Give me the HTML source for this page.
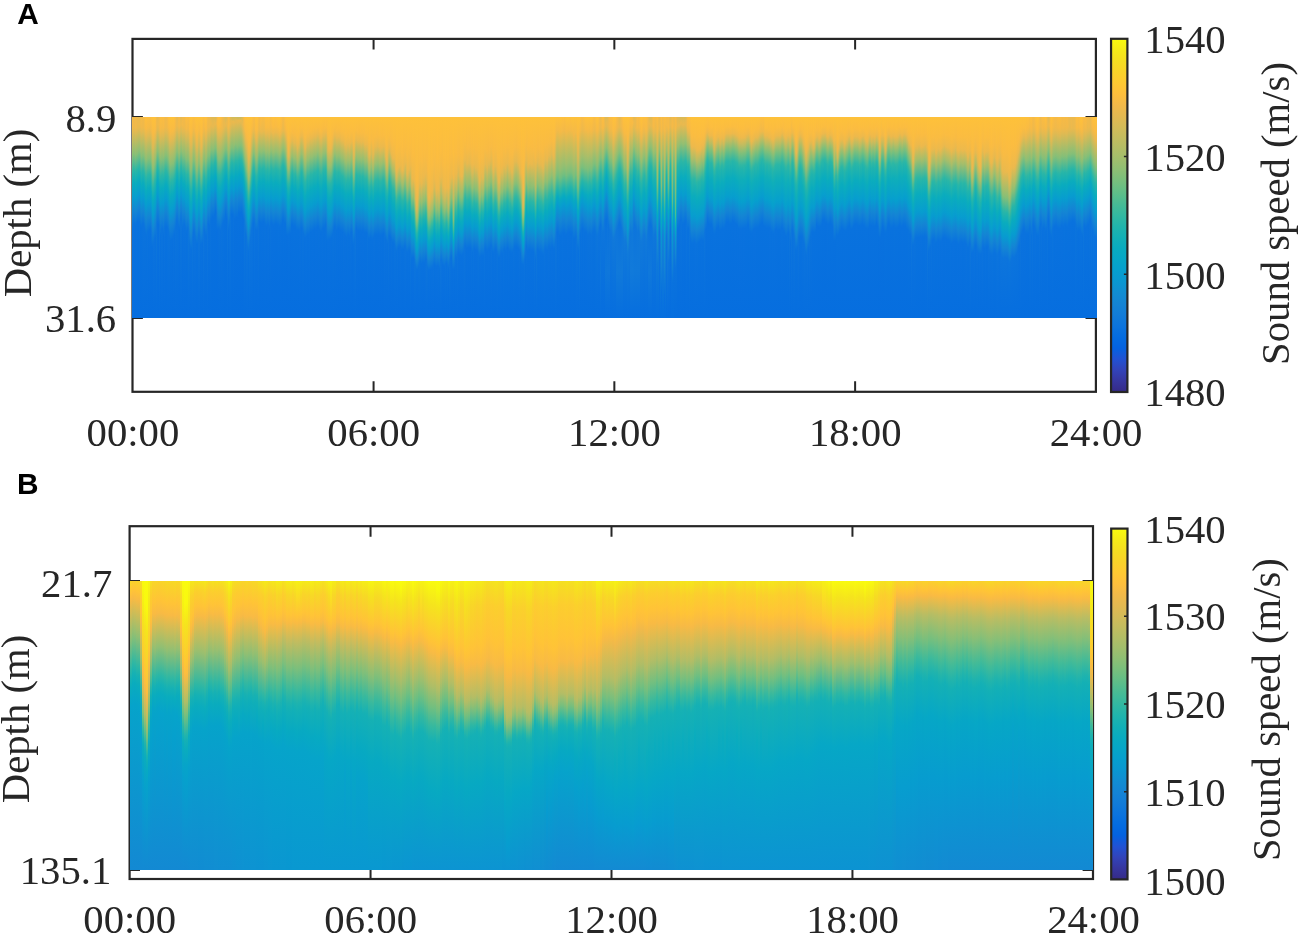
<!DOCTYPE html><html><head><meta charset="utf-8"><title>Sound speed</title><style>html,body{margin:0;padding:0;background:#fff}body{position:relative;width:1299px;height:935px;overflow:hidden}svg{position:absolute;left:0;top:0}.ha,.hb{position:absolute;display:flex;overflow:hidden;z-index:2}.ha i,.hb i{display:block;height:100%;flex:none;background:linear-gradient(var(--g))}.ha{left:132px;top:117px;width:965px;height:201px}.ha i{width:1px}.hb{left:130px;top:581px;width:963px;height:289px}.hb i{width:2px}text{font-family:"Liberation Serif","Times New Roman",serif;fill:#262626}.lb{font-family:"Liberation Sans",Arial,sans-serif;font-weight:bold;fill:#000}</style></head><body><div class="ha"><i style="--g:#f7ba45,#f4ba48 4.7%,#daba55 9.2%,#91bf73 18.6%,#24b5aa 28.5%,#0aacbd 33.9%,#079ccf 41.3%,#1484d4 48.3%,#0972de 55.7%,#066edf"></i><i style="--g:#efb94a,#efb94b 4.7%,#e1ba52 7.2%,#8abf75 18.1%,#31b8a2 25.5%,#0aacbd 32.4%,#079dcf 39.4%,#1484d4 46.3%,#0b73dd 53.2%,#066edf"></i><i style="--g:#f0b94a,#eeb94b 4.7%,#e5b950 6.7%,#87bf77 18.6%,#25b5aa 27%,#09abbe 32.9%,#079dcf 39.9%,#1484d4 46.8%,#0a72de 53.2%,#066edf"></i><i style="--g:#f3b948,#efb94b 5.2%,#e0ba52 7.7%,#87bf77 19.1%,#29b6a7 27%,#0aacbe 33.4%,#079dcf 40.3%,#1484d4 47.3%,#0972de 54.2%,#066edf"></i><i style="--g:#f0b94a,#eeb94c 5.2%,#e5b950 6.7%,#87bf77 18.6%,#28b6a7 26.5%,#09acbe 32.9%,#079dcf 39.9%,#1484d4 46.8%,#0a73dd 52.7%,#066edf"></i><i style="--g:#edb94c,#e9b94e 5.7%,#88bf77 18.1%,#28b6a8 26%,#09abbe 32.4%,#079cd0 39.4%,#1485d4 45.8%,#0972de 52.2%,#066edf"></i><i style="--g:#eab94e,#edb94c 3.7%,#e6b94f 5.7%,#8bbf75 17.1%,#23b5ab 26%,#0aacbe 31.4%,#079dcf 38.4%,#1485d4 44.8%,#0972de 52.2%,#066edf"></i><i style="--g:#e8b94e,#eeb94b 3.7%,#e2b952 6.2%,#89bf76 17.1%,#2fb7a3 24.5%,#0aacbd 30.9%,#079dcf 37.9%,#1485d4 44.3%,#0a73dd 52.2%,#066edf"></i><i style="--g:#f0b94a,#f1b949 3.7%,#e5b950 6.7%,#94bf72 17.1%,#22b4ac 27.5%,#09abbf 32.9%,#079cd0 39.9%,#1485d4 46.3%,#0972de 54.2%,#066edf"></i><i style="--g:#f5ba47,#f0b94a 5.2%,#e2b951 7.7%,#85bf78 19.6%,#28b6a8 27.5%,#09acbe 33.9%,#079dcf 40.8%,#1484d4 47.8%,#0972de 54.7%,#066edf"></i><i style="--g:#f2b949,#eeb94b 5.2%,#dfba53 7.7%,#85bf78 19.1%,#27b5a8 27%,#0aacbd 32.9%,#079cd0 40.3%,#1485d4 46.8%,#0a73dd 53.2%,#066edf"></i><i style="--g:#f2b949,#eeb94b 5.2%,#dfba53 7.7%,#85bf78 19.1%,#2bb6a6 26.5%,#0aacbd 32.9%,#079cd0 40.3%,#1485d4 46.8%,#0b73dd 53.2%,#066edf"></i><i style="--g:#f9bb43,#f3ba48 5.2%,#dcba54 9.2%,#8bbf75 19.6%,#2ab6a6 28%,#0aacbe 34.4%,#079cd0 41.8%,#1484d4 48.8%,#0b73dd 55.2%,#066edf"></i><i style="--g:#febf3c,#f7ba45 5.7%,#e2b952 9.7%,#8cbf75 21%,#28b6a7 30%,#0aacbe 36.4%,#079ccf 43.8%,#1484d4 50.7%,#0a73dd 57.7%,#066edf"></i><i style="--g:#febf3d,#f8ba44 5.7%,#e4b951 9.7%,#8fbf74 21%,#28b6a8 30.4%,#09acbe 36.9%,#079dcf 43.8%,#1484d4 51.2%,#0972de 59.2%,#066edf"></i><i style="--g:#fcbd3f,#f5ba47 5.7%,#dfba53 9.7%,#87bf77 21%,#30b7a3 28.5%,#19b2b2 31.9%,#09abbe 35.9%,#079dcf 42.8%,#1485d4 49.8%,#0b73dd 57.2%,#066edf"></i><i style="--g:#fcbd3f,#f6ba46 5.2%,#e0ba53 9.2%,#88bf76 20.5%,#2cb7a5 28.5%,#0aacbe 35.4%,#079cd0 42.8%,#1484d4 49.8%,#0972de 57.2%,#066edf"></i><i style="--g:#fbbd40,#f6ba45 4.7%,#e2b951 8.7%,#87bf77 20.5%,#2ab6a6 28.5%,#09abbe 35.4%,#079dcf 42.3%,#1485d4 49.3%,#0a72de 56.2%,#066edf"></i><i style="--g:#fbbc40,#f3b948 5.7%,#dbba55 9.7%,#82bf79 21%,#25b5a9 29%,#0aacbd 34.9%,#079dcf 42.3%,#1484d4 49.3%,#0972de 56.2%,#066edf"></i><i style="--g:#fdbe3e,#f2b949 7.2%,#c3bc5f 15.1%,#8cbf75 22%,#37b99e 29.5%,#0aacbe 37.4%,#079dcf 44.3%,#1484d4 51.7%,#0f78db 56.2%,#0871de 64.6%,#066edf"></i><i style="--g:#fec03b,#f8bb44 7.7%,#dbba55 15.1%,#93bf72 24.5%,#29b6a7 34.9%,#0aacbe 40.8%,#079dcf 48.3%,#1483d4 55.7%,#0971de 64.6%,#066edf"></i><i style="--g:#fec13a,#f8ba44 8.7%,#deba53 14.6%,#91bf73 25%,#27b5a8 34.9%,#09abbe 41.3%,#079cd0 48.8%,#1484d4 55.7%,#0b73dd 62.6%,#066edf"></i><i style="--g:#fec13a,#f9bb44 7.2%,#dfba53 12.6%,#89bf76 24%,#2fb7a3 31.9%,#09acbe 39.4%,#079cd0 46.8%,#1484d4 53.7%,#0b73dd 60.6%,#066edf"></i><i style="--g:#fdbe3e,#f9bb44 5.7%,#e2b952 10.6%,#98bf70 20.5%,#26b5a9 31.4%,#0aacbe 37.4%,#079ccf 44.8%,#1484d4 51.7%,#0972de 60.1%,#066edf"></i><i style="--g:#f2b949,#eeb94b 5.7%,#cebb5a 10.6%,#92bf72 18.1%,#2eb7a4 27%,#0aacbd 33.4%,#079dcf 40.3%,#1485d4 47.3%,#0e77db 53.2%,#066edf"></i><i style="--g:#e9b94e,#eeb94b 3.7%,#e2b951 6.2%,#8abf76 17.1%,#30b7a2 24.5%,#1ab2b1 27.5%,#09abbe 31.4%,#079dcf 37.9%,#1484d4 44.8%,#0972de 53.2%,#066edf"></i><i style="--g:#eeb94c,#efb94b 3.7%,#e6b94f 6.2%,#91bf73 17.1%,#26b5a9 26.5%,#09abbf 32.4%,#079cd0 39.4%,#1484d4 45.8%,#0971de 53.7%,#066edf"></i><i style="--g:#f6ba46,#f1b94a 5.7%,#d8ba56 9.7%,#8abf76 19.6%,#32b8a2 27%,#09acbe 34.4%,#079dcf 41.3%,#1484d4 48.3%,#0d76dc 53.7%,#066edf"></i><i style="--g:#fbbd40,#f6ba46 5.7%,#e1ba52 9.7%,#93bf72 20%,#30b7a3 29%,#1ab2b1 31.9%,#0aacbd 35.9%,#079dcf 43.3%,#1484d4 50.2%,#0972de 59.2%,#066edf"></i><i style="--g:#fbbd40,#f4ba47 5.7%,#deba53 9.7%,#86bf77 21%,#2bb6a6 29%,#0aacbd 35.4%,#079dcf 42.8%,#1485d4 49.8%,#0c74dd 55.7%,#066edf"></i><i style="--g:#fabc41,#f3ba48 5.7%,#e0ba53 9.2%,#88bf77 20.5%,#2cb7a5 28.5%,#09acbe 35.4%,#079dcf 42.3%,#1485d4 49.3%,#0b74dd 55.7%,#066edf"></i><i style="--g:#fabc42,#f6ba46 5.2%,#e1b952 9.2%,#92bf72 19.6%,#2fb7a3 28.5%,#1ab2b1 31.4%,#0aacbe 35.4%,#079cd0 42.8%,#1484d4 49.8%,#0971de 58.7%,#066edf"></i><i style="--g:#f6ba46,#f2b949 5.2%,#daba55 9.2%,#89bf76 19.6%,#2db7a4 27.5%,#09abbf 34.4%,#079ccf 41.3%,#1484d4 48.3%,#0c74dd 54.7%,#066edf"></i><i style="--g:#f3b948,#efb94b 5.2%,#e4b951 7.2%,#87bf77 19.1%,#2db7a4 26.5%,#09acbe 33.4%,#079dcf 40.3%,#1484d4 47.3%,#0972de 54.7%,#066edf"></i><i style="--g:#f3ba48,#efb94a 5.2%,#e1ba52 7.7%,#87bf77 19.1%,#2eb7a4 26.5%,#09acbe 33.4%,#079dcf 40.3%,#1484d4 47.3%,#0972de 54.7%,#066edf"></i><i style="--g:#f8ba44,#f2b949 5.2%,#deba53 8.7%,#8ebf74 19.1%,#25b5aa 28.5%,#09acbe 34.4%,#079dcf 41.3%,#1485d4 48.3%,#0a73de 55.2%,#066edf"></i><i style="--g:#fdbe3d,#f8ba44 5.2%,#e1b952 9.7%,#8abf76 21%,#2bb6a6 29.5%,#09abbf 36.4%,#079dcf 43.3%,#1485d4 50.2%,#0b74dd 56.7%,#066edf"></i><i style="--g:#fec03b,#f8ba44 6.7%,#e0ba53 11.6%,#8fbf74 22.5%,#28b6a8 31.9%,#0aacbe 38.4%,#079ccf 45.8%,#1485d4 52.7%,#0b73dd 59.7%,#066edf"></i><i style="--g:#fec13a,#f9bb44 7.2%,#e5b950 11.6%,#8dbf74 23.5%,#2bb6a6 32.4%,#09acbe 39.4%,#079cd0 46.8%,#1484d4 53.7%,#0972de 61.6%,#066edf"></i><i style="--g:#fec13a,#f9bb43 6.7%,#e2b952 11.6%,#89bf76 23.5%,#2fb7a3 31.4%,#1bb2b1 34.4%,#09abbe 38.9%,#079cd0 46.3%,#1484d4 53.2%,#0972de 61.1%,#066edf"></i><i style="--g:#fec13a,#f9bb44 6.7%,#e4b951 11.1%,#8bbf75 23%,#2db7a4 31.4%,#0aacbe 38.4%,#079dcf 45.8%,#1483d4 53.2%,#0971de 61.1%,#066edf"></i><i style="--g:#fec13a,#f9bb43 6.2%,#e0ba53 11.1%,#86bf77 23%,#2bb6a6 30.9%,#09acbe 37.9%,#079ccf 45.3%,#1484d4 52.2%,#0b73dd 58.7%,#066edf"></i><i style="--g:#fdbe3d,#f9bb43 5.2%,#e6b950 9.2%,#91bf73 20.5%,#25b5a9 30.4%,#0aacbe 36.4%,#079dcf 43.8%,#1484d4 50.7%,#0972de 58.2%,#066edf"></i><i style="--g:#f7ba45,#f2b949 5.2%,#dbba55 9.2%,#8ebf74 19.1%,#29b6a7 28%,#09acbe 34.4%,#079dcf 41.3%,#1484d4 48.3%,#0c74dd 54.7%,#066edf"></i><i style="--g:#ecb94d,#eeb94b 4.2%,#e1b952 6.7%,#8abf76 17.6%,#27b5a8 26%,#09acbe 31.9%,#079ccf 38.9%,#1485d4 45.3%,#0b74dd 51.7%,#066edf"></i><i style="--g:#eab94e,#eeb94c 4.2%,#dfba53 6.7%,#87bf77 17.6%,#31b8a2 24.5%,#18b1b2 28%,#0aacbe 31.4%,#079cd0 38.4%,#1484d4 44.8%,#0b74dd 51.7%,#066edf"></i><i style="--g:#f4ba47,#f3b948 4.2%,#e1b952 7.7%,#95bf71 17.6%,#23b4ab 28%,#0aacbe 33.4%,#079dcf 40.3%,#1484d4 47.3%,#0a73de 54.7%,#066edf"></i><i style="--g:#f7ba45,#f3ba48 4.7%,#d9ba55 9.2%,#90bf73 18.6%,#27b6a8 28%,#0aacbe 33.9%,#079cd0 41.3%,#1485d4 47.8%,#0971de 56.2%,#066edf"></i><i style="--g:#ebb94d,#efb94b 4.2%,#d9ba55 7.7%,#8dbf75 17.1%,#2eb7a4 25%,#0aacbd 31.4%,#079dcf 38.4%,#1485d4 44.8%,#0d76dc 50.7%,#066edf"></i><i style="--g:#e9b94e,#f0b94a 3.7%,#dbba55 7.2%,#89bf76 17.1%,#2fb7a3 24.5%,#0aacbd 30.9%,#079dcf 37.9%,#1485d4 44.3%,#0d75dc 50.7%,#066edf"></i><i style="--g:#f2b949,#f3ba48 3.7%,#e3b951 7.2%,#96bf71 17.1%,#2cb7a5 26.5%,#17b1b3 29.5%,#09acbe 32.9%,#079dcf 39.9%,#1484d4 46.8%,#0972de 55.7%,#066edf"></i><i style="--g:#f2b949,#f0b94a 4.7%,#e3b951 7.2%,#85bf78 19.1%,#2cb7a5 26.5%,#09abbf 33.4%,#079cd0 40.3%,#1485d4 46.8%,#0b73dd 53.7%,#066edf"></i><i style="--g:#f2b948,#efb94b 5.2%,#e4b951 7.2%,#86bf77 19.1%,#25b5aa 27.5%,#09acbe 33.4%,#079dcf 40.3%,#1484d4 47.3%,#0a73de 53.7%,#066edf"></i><i style="--g:#f9bb43,#f1b949 5.7%,#d8ba56 9.7%,#87bf77 20%,#2ab6a6 28%,#0aacbd 34.4%,#079dcf 41.8%,#1484d4 48.8%,#0b73dd 55.2%,#066edf"></i><i style="--g:#fcbd3f,#f4ba48 5.7%,#dcba54 9.7%,#84bf78 21%,#2cb7a5 28.5%,#0aacbe 35.4%,#079cd0 42.8%,#1484d4 49.8%,#0972de 57.2%,#066edf"></i><i style="--g:#fabc42,#f2b949 5.7%,#daba55 9.7%,#80bf7a 21%,#29b6a7 28.5%,#0aacbd 34.9%,#079dcf 42.3%,#1485d4 49.3%,#0a73dd 55.7%,#066edf"></i><i style="--g:#fabb42,#f1b949 6.2%,#d7ba57 10.6%,#88bf77 21%,#32b8a1 28.5%,#0aacbd 35.9%,#079dcf 43.3%,#1484d4 50.7%,#0e77db 55.7%,#066edf"></i><i style="--g:#fdbe3d,#f9bb44 6.2%,#deba54 12.1%,#9bbf6f 21.5%,#23b4ab 33.9%,#0aacbd 39.4%,#079dcf 47.3%,#1484d4 54.7%,#0b73dd 63.1%,#066edf"></i><i style="--g:#fec13a,#f9bb43 8.2%,#e3b951 13.6%,#8cbf75 26%,#26b5a9 35.9%,#0aacbd 42.3%,#079dcf 50.2%,#1484d4 58.2%,#0a72de 65.6%,#066edf"></i><i style="--g:#fec13a,#f8ba44 8.2%,#e2b951 13.6%,#92bf72 25%,#26b5a9 35.9%,#09acbe 42.3%,#079cd0 50.2%,#1484d4 57.7%,#0972de 66.1%,#066edf"></i><i style="--g:#febf3c,#f6ba45 6.7%,#d1bb59 13.6%,#93bf72 22%,#2cb7a5 31.9%,#09acbe 38.9%,#079dcf 46.3%,#1484d4 53.7%,#0d76dc 60.1%,#066edf"></i><i style="--g:#fcbd3f,#f6ba46 5.2%,#e1b952 9.2%,#88bf77 21%,#2db7a5 29%,#0aacbe 35.9%,#079dcf 43.3%,#1485d4 50.2%,#0b73dd 57.2%,#066edf"></i><i style="--g:#fdbe3d,#f7ba45 5.7%,#dcba54 10.6%,#89bf76 21.5%,#2eb7a4 29.5%,#0aacbd 36.4%,#079dcf 43.8%,#1485d4 50.7%,#0c74dd 57.2%,#066edf"></i><i style="--g:#fec03b,#f8ba44 7.2%,#d6ba57 14.1%,#93bf72 23%,#2ab6a6 32.9%,#0aacbe 39.4%,#079dcf 46.8%,#1485d4 53.7%,#0b73dd 61.1%,#066edf"></i><i style="--g:#fec13a,#f8bb44 9.2%,#e7b94f 14.1%,#8fbf74 26%,#23b5ab 35.9%,#09acbe 41.8%,#079dcf 48.8%,#1484d4 56.2%,#0972de 63.1%,#066edf"></i><i style="--g:#fec13a,#f9bb43 8.2%,#e5b950 14.1%,#98bf70 24.5%,#25b5aa 35.4%,#09acbe 41.3%,#079dcf 48.3%,#1484d4 55.7%,#0972de 63.1%,#066edf"></i><i style="--g:#fec13a,#f8bb44 6.7%,#d1bb59 14.1%,#8dbf74 23%,#2fb7a3 31.4%,#0aacbd 38.4%,#079dcf 45.8%,#1485d4 52.7%,#0d75dc 58.7%,#066edf"></i><i style="--g:#fec13a,#f8ba44 6.7%,#cbbb5c 15.1%,#8ebf74 23%,#34b8a0 30.9%,#0aacbd 38.4%,#079dcf 45.8%,#1485d4 52.7%,#0d75dc 58.7%,#066edf"></i><i style="--g:#fec13a,#f9bb43 8.2%,#deba53 15.6%,#92bf73 25.5%,#25b5aa 35.9%,#0aacbd 41.3%,#079dcf 48.8%,#1484d4 55.7%,#0972de 63.6%,#066edf"></i><i style="--g:#fec13a,#fabc42 9.2%,#eab94d 14.6%,#8abf76 27.5%,#26b5a9 36.4%,#0aacbd 42.3%,#079dcf 49.8%,#1485d4 56.7%,#0a72de 63.1%,#066edf"></i><i style="--g:#febf3d,#f8ba44 7.2%,#d9ba56 14.6%,#95bf71 23.5%,#25b5a9 34.4%,#0aacbd 39.9%,#079dcf 47.3%,#1485d4 54.2%,#0971de 63.1%,#066edf"></i><i style="--g:#fbbd40,#f2b949 6.7%,#ccbb5b 13.1%,#8ebf74 21%,#33b8a0 29%,#0aacbe 36.4%,#079cd0 43.8%,#1484d4 50.7%,#0e76dc 56.2%,#066edf"></i><i style="--g:#fdbe3e,#f8ba44 4.7%,#e2b951 9.2%,#87bf77 21%,#28b6a8 29.5%,#09acbe 35.9%,#079dcf 42.8%,#1484d4 50.2%,#0b73dd 56.7%,#066edf"></i><i style="--g:#fec03b,#f9bb43 5.7%,#e7b94f 9.7%,#8bbf75 22%,#27b6a8 30.9%,#09acbe 37.4%,#079cd0 44.8%,#1484d4 51.7%,#0a72de 58.7%,#066edf"></i><i style="--g:#fdbe3e,#f8ba44 5.7%,#e5b950 9.7%,#98bf70 20%,#25b5a9 30.9%,#09acbe 36.9%,#079dcf 43.8%,#1484d4 51.2%,#0972de 59.2%,#066edf"></i><i style="--g:#f5ba47,#f0b94a 5.7%,#d7ba56 9.7%,#89bf76 19.6%,#31b8a2 27%,#0aacbd 33.9%,#079cd0 41.3%,#1484d4 48.3%,#0e76dc 53.2%,#066edf"></i><i style="--g:#f1b949,#eeb94b 5.2%,#e2b951 7.2%,#84bf78 19.1%,#26b5a9 27%,#0aacbe 32.9%,#079dcf 39.9%,#1484d4 46.8%,#0a72de 53.2%,#066edf"></i><i style="--g:#f1b949,#efb94b 4.7%,#e2b951 7.2%,#89bf76 18.6%,#2bb6a6 26.5%,#0aacbe 32.9%,#079dcf 39.9%,#1484d4 46.8%,#0972de 54.2%,#066edf"></i><i style="--g:#e9b94e,#edb94c 3.7%,#e2b951 6.2%,#8ebf74 16.6%,#27b5a9 25.5%,#09abbf 31.4%,#079dcf 37.9%,#1485d4 44.3%,#0b74dd 51.2%,#066edf"></i><i style="--g:#e2b952,#ebb94d 3.2%,#e7b94f 4.7%,#88bf76 16.1%,#30b7a3 23%,#1cb3af 25.5%,#09abbf 30%,#079cd0 36.4%,#1484d4 42.8%,#0972de 50.7%,#066edf"></i><i style="--g:#e3b951,#e8b94f 4.7%,#8abf76 16.1%,#28b6a7 24%,#09acbe 30%,#079dcf 36.4%,#1485d4 42.8%,#0972de 49.8%,#066edf"></i><i style="--g:#e2b951,#e8b94f 4.7%,#89bf76 16.1%,#27b5a8 24%,#09abbe 30%,#079dcf 36.4%,#1484d4 42.8%,#0972de 49.8%,#066edf"></i><i style="--g:#deba54,#eab94d 3.2%,#e7b94f 4.2%,#86bf77 15.6%,#26b5a9 23%,#08aac1 29.5%,#079dcf 34.9%,#1484d4 41.3%,#0972de 48.8%,#066edf"></i><i style="--g:#dbba55,#e9b94e 3.7%,#86bf77 15.1%,#2ab6a6 22%,#07aac1 29%,#079cd0 34.4%,#1484d4 40.3%,#0972de 46.8%,#066edf"></i><i style="--g:#e6b950,#f1b94a 3.2%,#d7ba56 7.2%,#90bf73 15.6%,#34b8a0 23%,#09acbe 30%,#079ccf 36.4%,#1486d4 42.3%,#0f78db 47.3%,#0871df 56.2%,#066edf"></i><i style="--g:#f9bb43,#f9bb43 3.7%,#e2b952 8.2%,#99bf70 17.6%,#24b5aa 28.5%,#09abbf 33.9%,#079cd0 40.8%,#1485d4 47.3%,#0971de 56.2%,#066edf"></i><i style="--g:#febf3d,#f9bb43 4.7%,#e9b94e 8.2%,#85bf78 21%,#28b6a8 29%,#09acbe 35.4%,#079dcf 42.3%,#1485d4 49.3%,#0a72de 55.7%,#066edf"></i><i style="--g:#fdbe3e,#f8bb44 4.7%,#e1b952 9.2%,#85bf78 21%,#28b6a8 29%,#0aacbe 35.4%,#079cd0 42.8%,#1484d4 49.8%,#0a73dd 55.7%,#066edf"></i><i style="--g:#fdbe3e,#f8ba44 4.7%,#e1b952 9.2%,#85bf78 21%,#29b6a7 29%,#0aacbe 35.4%,#079ccf 42.8%,#1484d4 49.8%,#0a72de 56.7%,#066edf"></i><i style="--g:#f9bb43,#f1b949 5.7%,#dcba54 9.2%,#86bf77 20%,#2ab6a7 28%,#0aacbe 34.4%,#079dcf 41.3%,#1485d4 48.3%,#0b73dd 54.7%,#066edf"></i><i style="--g:#f2b949,#efb94b 5.2%,#e7b94f 6.7%,#85bf78 19.1%,#27b5a8 27%,#09abbf 33.4%,#079cd0 40.3%,#1485d4 46.8%,#0a73dd 53.2%,#066edf"></i><i style="--g:#ecb94d,#e8b94e 5.7%,#8ebf74 17.1%,#26b5a9 26%,#09acbe 31.9%,#079cd0 38.9%,#1484d4 45.3%,#0a72de 52.2%,#066edf"></i><i style="--g:#e4b951,#ecb94c 3.7%,#e2b952 5.7%,#87bf77 16.6%,#2ab6a6 24%,#09abbf 30.4%,#079ccf 36.9%,#1484d4 43.3%,#0972de 51.7%,#066edf"></i><i style="--g:#deba53,#e8b94f 4.2%,#88bf77 15.6%,#28b6a7 23%,#07aac1 30%,#079dcf 35.4%,#1484d4 41.8%,#0972de 48.3%,#066edf"></i><i style="--g:#e0ba53,#ecb94d 3.2%,#e5b950 4.7%,#84bf78 16.1%,#2bb6a6 23%,#0aacbe 29%,#079dcf 35.4%,#1484d4 41.8%,#0971de 50.7%,#066edf"></i><i style="--g:#ecb94c,#eeb94b 4.7%,#daba55 7.7%,#91bf73 16.6%,#2ab6a6 25.5%,#0aacbe 31.4%,#079ccf 38.4%,#1485d4 44.8%,#0d76dc 50.7%,#066edf"></i><i style="--g:#f8bb44,#f5ba47 4.7%,#dbba55 9.2%,#91bf73 18.6%,#2db7a5 27.5%,#0aacbd 33.9%,#079cd0 41.3%,#1483d4 48.3%,#0971de 56.7%,#066edf"></i><i style="--g:#f2b949,#f3ba48 3.7%,#dfba53 7.7%,#96bf71 17.1%,#28b6a8 27%,#0aacbe 32.9%,#079dcf 39.9%,#1484d4 46.8%,#0b74dd 53.7%,#066edf"></i><i style="--g:#e1b952,#ecb94c 3.2%,#dbba55 6.2%,#8dbf74 15.6%,#2db7a5 23.5%,#09acbe 30%,#079dcf 36.4%,#1485d4 42.8%,#0d76dc 48.3%,#066edf"></i><i style="--g:#d6ba57,#e8b94f 2.2%,#e5b950 3.7%,#86bf77 15.1%,#28b6a7 22.5%,#07aac1 29.5%,#079cd0 35.4%,#1485d4 41.3%,#0972de 48.3%,#066edf"></i><i style="--g:#d2bb59,#d9ba55 1.2%,#ebb94d 2.2%,#e9b94e 2.7%,#85bf78 15.1%,#24b5aa 23%,#07a9c2 30%,#079dcf 35.4%,#1485d4 41.8%,#0972de 48.8%,#066edf"></i><i style="--g:#d2bb58,#d9ba55 1.2%,#ebb94d 2.2%,#eab94e 2.7%,#88bf76 15.1%,#29b6a7 23%,#09acbe 29.5%,#079dcf 36.4%,#1485d4 42.8%,#0b73dd 48.8%,#066edf"></i><i style="--g:#d2bb59,#e9b94e 2.7%,#93bf72 13.6%,#27b5a8 23%,#07aac2 30%,#079cd0 35.9%,#1484d4 42.3%,#0971de 51.2%,#066edf"></i><i style="--g:#cfbb5a,#e3b951 1.2%,#e6b950 2.7%,#8cbf75 13.6%,#2db7a4 21.5%,#17b1b3 24.5%,#07a9c2 29%,#079cd0 34.4%,#1484d4 40.8%,#0971de 50.7%,#066edf"></i><i style="--g:#cfbb5a,#e6b950 1.7%,#e6b94f 2.7%,#8ebf74 13.6%,#2eb7a4 21.5%,#1bb2b0 24%,#08aac1 29%,#079cd0 34.9%,#1484d4 41.3%,#0971de 50.2%,#066edf"></i><i style="--g:#cebb5a,#d2bb59 .7%,#e9b94e 1.7%,#e6b950 2.7%,#85bf78 14.6%,#2db7a4 21.5%,#17b1b3 25%,#07a9c2 29.5%,#079dcf 34.9%,#1485d4 41.3%,#0971de 50.2%,#066edf"></i><i style="--g:#cdbb5b,#d1bb59 .7%,#ebb94d 1.7%,#e9b94e 2.2%,#86bf77 14.1%,#29b6a7 21.5%,#08aac1 28.5%,#079cd0 34.4%,#1485d4 40.3%,#0972de 47.8%,#066edf"></i><i style="--g:#ccbb5b,#eab94d 1.7%,#e8b94f 2.2%,#84bf78 14.1%,#2bb6a5 21%,#15b0b5 24.5%,#07a9c2 28.5%,#079dcf 33.9%,#1484d4 40.3%,#0971de 47.8%,#066edf"></i><i style="--g:#cdbb5b,#d1bb59 .7%,#ebb94d 1.7%,#e8b94e 2.2%,#85bf78 14.1%,#28b6a8 21.5%,#07aac1 28.5%,#079dcf 33.9%,#1485d4 40.3%,#0972de 47.8%,#066edf"></i><i style="--g:#d1bb59,#e9b94e 1.7%,#e1b952 3.7%,#84bf78 14.6%,#2bb6a6 21.5%,#08aac1 28.5%,#079cd0 34.4%,#1485d4 40.3%,#0972de 47.3%,#066edf"></i><i style="--g:#dfba53,#e9b94e 3.7%,#d9ba55 6.2%,#91bf73 14.6%,#29b6a7 23%,#08aac0 29.5%,#079dcf 34.9%,#1484d4 41.3%,#0971de 49.3%,#066edf"></i><i style="--g:#f1b949,#f2b948 3.7%,#deba53 7.7%,#92bf72 16.6%,#25b5a9 25.5%,#09abbf 30.9%,#079cd0 37.4%,#1485d4 43.3%,#0972de 51.2%,#066edf"></i><i style="--g:#fcbd3f,#f6ba46 5.7%,#d2bb59 11.6%,#8fbf74 19.6%,#2eb7a4 27.5%,#09abbe 33.9%,#079cd0 40.3%,#1484d4 46.8%,#0e77db 51.7%,#066edf"></i><i style="--g:#fec03b,#f8bb44 7.2%,#e3b951 12.1%,#98bf70 21.5%,#25b5a9 31.9%,#09acbe 37.4%,#079cd0 44.3%,#1484d4 50.7%,#0a73de 58.2%,#066edf"></i><i style="--g:#fec13a,#f8ba44 9.2%,#e0ba53 14.6%,#86bf77 26%,#2eb7a4 33.4%,#09acbe 40.3%,#079dcf 47.3%,#1484d4 54.2%,#0d75dc 59.7%,#066edf"></i><i style="--g:#fec13a,#f8ba45 11.1%,#dbba55 18.1%,#9ebe6d 27%,#2fb7a3 37.4%,#0aacbd 43.8%,#079dcf 50.7%,#1485d4 57.7%,#0b74dd 64.6%,#066edf"></i><i style="--g:#fec13a,#f8ba45 14.1%,#d8ba56 23%,#93bf72 31.4%,#31b8a2 39.9%,#19b2b2 42.8%,#0aacbd 46.3%,#079dcf 53.2%,#1484d4 59.7%,#0972de 67.1%,#066edf"></i><i style="--g:#fec13a,#f9bb43 13.1%,#e7b94f 19.6%,#9bbf6f 29.5%,#2cb7a5 38.9%,#0aacbe 44.8%,#079dcf 51.2%,#1484d4 57.7%,#0c75dd 63.6%,#066edf"></i><i style="--g:#fec13a,#f9bb44 10.1%,#e3b951 16.6%,#9cbf6e 25.5%,#26b5a9 35.9%,#09abbf 41.3%,#079cd0 47.8%,#1485d4 53.7%,#0c74dd 60.1%,#066edf"></i><i style="--g:#fec13a,#f7ba45 7.7%,#d5ba57 14.1%,#94bf72 22%,#31b8a2 30.4%,#09abbf 37.4%,#079dcf 43.8%,#1485d4 50.2%,#0c75dd 56.2%,#066edf"></i><i style="--g:#fdbe3e,#f7ba45 5.7%,#d9ba56 10.6%,#93bf72 18.6%,#2eb7a4 27%,#09acbe 33.9%,#079dcf 40.8%,#1485d4 47.3%,#0c74dd 53.2%,#066edf"></i><i style="--g:#f9bb43,#f4ba47 4.7%,#e8b94f 7.2%,#90bf73 17.1%,#2db7a5 25%,#0aacbd 31.9%,#079dcf 39.4%,#1485d4 45.8%,#0972de 52.7%,#066edf"></i><i style="--g:#fabb42,#f1b949 6.2%,#daba55 9.7%,#8dbf75 18.1%,#2fb7a3 25.5%,#16b1b4 29.5%,#0aacbe 32.9%,#079ccf 40.3%,#1484d4 46.8%,#0c75dd 52.2%,#066edf"></i><i style="--g:#febf3c,#f9bb44 6.2%,#e7b94f 10.1%,#99bf70 19.1%,#26b5a9 29%,#0aacbd 34.9%,#079cd0 42.8%,#1484d4 49.3%,#0a72de 56.2%,#066edf"></i><i style="--g:#fec13a,#f9bb43 7.2%,#e9b94e 11.1%,#91bf73 21%,#29b6a7 29.5%,#0aacbe 36.4%,#079dcf 43.8%,#1483d4 50.7%,#0a72de 56.7%,#066edf"></i><i style="--g:#febf3d,#f9bb44 6.2%,#e4b951 10.6%,#9abf6f 19.1%,#26b5a9 29%,#0bacbd 34.9%,#079dcf 42.8%,#1484d4 49.3%,#0a72de 56.2%,#066edf"></i><i style="--g:#fabb42,#f1b949 6.2%,#ddba54 9.2%,#91bf73 17.6%,#2eb7a3 25.5%,#09acbe 32.9%,#079ccf 40.3%,#1484d4 46.8%,#0d75dc 52.2%,#066edf"></i><i style="--g:#f7ba45,#ebb94d 6.7%,#91bf73 16.6%,#28b6a7 25%,#09acbe 31.9%,#079dcf 39.4%,#1484d4 45.8%,#0972de 52.2%,#066edf"></i><i style="--g:#fabb42,#f6ba46 4.2%,#eab94e 7.2%,#90bf73 17.1%,#28b6a8 25.5%,#09acbe 32.4%,#079dcf 39.9%,#1484d4 46.3%,#0972de 52.7%,#066edf"></i><i style="--g:#fbbc41,#ebb94d 7.2%,#92bf72 17.1%,#25b5aa 26%,#0aacbe 32.4%,#079dcf 39.9%,#1484d4 46.8%,#0972de 52.7%,#066edf"></i><i style="--g:#fabb42,#eab94e 7.2%,#8fbf74 17.1%,#26b5a9 25.5%,#0aacbd 31.9%,#079ccf 39.9%,#1484d4 46.3%,#0a72de 52.2%,#066edf"></i><i style="--g:#f8bb44,#ecb94c 6.7%,#92bf73 16.6%,#28b6a8 25%,#09acbe 31.9%,#079dcf 39.4%,#1485d4 45.8%,#0972de 52.2%,#066edf"></i><i style="--g:#fabc42,#eeb94b 6.7%,#95bf71 16.6%,#2bb6a6 25%,#0aacbd 31.9%,#079dcf 39.9%,#1484d4 46.3%,#0a73dd 52.2%,#066edf"></i><i style="--g:#febe3d,#f8ba44 5.2%,#e9b94e 8.2%,#93bf72 17.6%,#27b5a8 26.5%,#0aacbd 32.9%,#079dcf 40.8%,#1485d4 47.3%,#0a72de 53.7%,#066edf"></i><i style="--g:#febf3c,#f9bb43 5.2%,#ebb94d 8.2%,#92bf73 18.1%,#2ab6a6 26.5%,#0aacbd 33.4%,#079dcf 41.3%,#1485d4 47.8%,#0972de 54.7%,#066edf"></i><i style="--g:#fdbe3d,#f9bb44 4.7%,#ecb94d 7.7%,#92bf73 17.6%,#29b6a7 26%,#0aacbd 32.9%,#079dcf 40.8%,#1484d4 47.3%,#0a72de 53.7%,#066edf"></i><i style="--g:#febf3d,#f9bb44 5.2%,#e7b94f 8.7%,#91bf73 18.1%,#2eb7a4 26%,#0aacbe 33.4%,#079cd0 41.3%,#1484d4 47.8%,#0b73dd 53.7%,#066edf"></i><i style="--g:#fdbe3e,#f7ba45 5.7%,#e2b952 9.7%,#99bf6f 17.6%,#2db7a4 26.5%,#1cb2b0 29%,#0aacbd 33.4%,#079dcf 41.3%,#1485d4 47.8%,#0971de 55.7%,#066edf"></i><i style="--g:#fabc42,#f3ba48 5.7%,#e4b951 8.2%,#92bf72 17.1%,#33b8a1 24.5%,#18b2b2 28.5%,#0aacbe 32.4%,#079dcf 39.9%,#1485d4 46.3%,#0b74dd 52.7%,#066edf"></i><i style="--g:#fbbd40,#f8ba45 4.2%,#ecb94d 7.2%,#95bf71 16.6%,#27b5a8 25.5%,#0bacbd 31.9%,#079dcf 39.9%,#1485d4 46.3%,#0a72de 52.7%,#066edf"></i><i style="--g:#febf3c,#fabb42 4.7%,#edb94c 7.7%,#92bf72 17.6%,#29b6a7 26%,#0aacbd 32.9%,#079dcf 40.8%,#1485d4 47.3%,#0a72de 53.7%,#066edf"></i><i style="--g:#fec03b,#f9bb42 5.2%,#ebb94d 8.2%,#95bf71 17.6%,#27b5a8 26.5%,#0aacbe 33.4%,#079ccf 41.3%,#1484d4 47.8%,#0972de 54.2%,#066edf"></i><i style="--g:#febf3c,#fabb42 4.7%,#edb94c 7.7%,#92bf73 17.6%,#29b6a7 26%,#0aacbd 32.9%,#079dcf 40.8%,#1485d4 47.3%,#0a72de 53.7%,#066edf"></i><i style="--g:#fdbe3d,#f9bb44 4.7%,#ebb94d 7.7%,#93bf72 17.1%,#29b6a7 25.5%,#0aacbd 32.4%,#079dcf 40.3%,#1483d5 47.3%,#0972de 53.2%,#066edf"></i><i style="--g:#febf3d,#f9bb43 4.7%,#ecb94c 7.7%,#94bf72 17.1%,#26b5a9 26%,#09acbe 32.9%,#079ecf 40.3%,#1484d4 47.3%,#0972de 53.2%,#066edf"></i><i style="--g:#fec03b,#fabc41 4.7%,#eeb94b 7.7%,#92bf73 17.6%,#28b6a8 26%,#0aacbd 32.9%,#079dcf 40.8%,#1485d4 47.3%,#0972de 53.7%,#066edf"></i><i style="--g:#fec13a,#fbbd40 4.7%,#edb94c 8.2%,#91bf73 18.1%,#28b6a8 26.5%,#0aacbd 33.4%,#079dcf 41.3%,#1485d4 47.8%,#0a73de 53.7%,#066edf"></i><i style="--g:#fec13a,#fabc42 5.7%,#eab94d 9.2%,#91bf73 18.6%,#2cb7a5 26.5%,#0aacbe 33.9%,#079dcf 41.8%,#1484d4 48.3%,#0972de 54.7%,#066edf"></i><i style="--g:#fec03b,#f9bb43 5.7%,#ebb94d 8.7%,#97bf70 17.6%,#28b6a7 26.5%,#0aacbe 33.4%,#079cd0 41.3%,#1484d4 47.8%,#0a72de 54.2%,#066edf"></i><i style="--g:#fcbd3f,#f8ba45 4.7%,#eab94e 7.7%,#95bf71 16.6%,#2ab6a6 25%,#0aacbd 31.9%,#079dcf 39.9%,#1484d4 46.3%,#0972de 53.7%,#066edf"></i><i style="--g:#f8ba44,#ebb94d 6.7%,#95bf71 15.6%,#29b6a7 24%,#0aacbd 30.9%,#079dcf 38.9%,#1484d4 45.3%,#0972de 51.7%,#066edf"></i><i style="--g:#f6ba46,#e9b94e 6.7%,#92bf72 15.6%,#27b5a8 24%,#0aacbe 30.9%,#079ecf 38.4%,#1485d4 44.8%,#0a72de 51.2%,#066edf"></i><i style="--g:#fabc42,#f6ba45 4.2%,#eab94d 7.2%,#9abf6f 15.6%,#2ab6a7 24.5%,#0aacbd 31.4%,#079dcf 39.4%,#1484d4 45.8%,#0972de 52.7%,#066edf"></i><i style="--g:#febf3c,#f8ba44 5.7%,#e9b94e 8.7%,#98bf70 17.1%,#28b6a8 26%,#09acbe 32.9%,#079dcf 40.3%,#1484d4 46.8%,#0972de 53.2%,#066edf"></i><i style="--g:#fec13a,#fbbc41 6.2%,#ecb94c 10.1%,#a2be6c 19.6%,#3bb99c 27.5%,#0aacbd 35.4%,#079ccf 42.8%,#1484d4 49.3%,#0971de 58.7%,#066edf"></i><i style="--g:#fec13a,#f8bb44 10.1%,#d3bb58 19.1%,#9fbe6d 24%,#2cb7a5 32.9%,#18b1b2 35.4%,#0aacbd 38.9%,#079dcf 45.8%,#1485d4 51.7%,#0971de 59.2%,#066edf"></i><i style="--g:#fec13a,#fbbd40 10.1%,#eeb94b 17.6%,#e1b952 19.6%,#a0be6d 25.5%,#2fb7a3 33.4%,#1eb3ae 35.4%,#09acbe 40.3%,#079ecf 46.8%,#1484d4 52.7%,#0a72de 58.7%,#066edf"></i><i style="--g:#fec13a,#f8ba44 11.6%,#d9ba56 19.1%,#9fbe6d 24.5%,#2db7a4 32.9%,#19b2b2 35.4%,#09abbe 39.4%,#079dcf 45.8%,#1484d4 51.7%,#0972de 58.2%,#066edf"></i><i style="--g:#fec13a,#fcbd3f 6.7%,#f0b94a 12.1%,#b0be67 20%,#37b99e 29%,#0aacbd 36.4%,#079dcf 43.3%,#1484d4 49.8%,#0971de 58.2%,#066edf"></i><i style="--g:#fec13a,#fabc42 7.2%,#eab94d 11.6%,#9abf6f 19.6%,#29b6a7 28%,#0aacbe 34.4%,#079cd0 41.8%,#1484d4 47.8%,#0972de 53.7%,#066edf"></i><i style="--g:#fec13a,#f9bb44 7.7%,#e7b94f 11.6%,#95bf71 19.6%,#2eb7a4 27%,#1fb3ae 29%,#0aacbd 33.9%,#079dcf 41.3%,#1484d4 47.3%,#0972de 53.7%,#066edf"></i><i style="--g:#fec13a,#fabb42 7.7%,#e9b94e 12.1%,#99bf70 20%,#28b6a8 28.5%,#09acbe 34.9%,#079dcf 41.8%,#1485d4 47.8%,#0972de 54.2%,#066edf"></i><i style="--g:#fec13a,#f9bb43 8.2%,#eab94e 12.6%,#98bf70 20.5%,#2cb7a5 28.5%,#09acbe 35.4%,#079dcf 42.3%,#1485d4 48.3%,#0a72de 54.2%,#066edf"></i><i style="--g:#fec13a,#f8bb44 8.7%,#e4b950 13.1%,#91bf73 21%,#2fb7a3 28%,#1fb3ad 30%,#0aacbd 34.9%,#079dcf 42.3%,#1484d4 48.3%,#0972de 54.7%,#066edf"></i><i style="--g:#fec13a,#f9bb43 9.2%,#e8b94f 13.6%,#9ebe6d 21%,#28b6a8 30%,#09abbe 36.4%,#079dcf 43.3%,#1484d4 49.3%,#0972de 56.2%,#066edf"></i><i style="--g:#fec13a,#f8bb44 10.1%,#e2b952 15.6%,#93bf72 23%,#31b8a2 30%,#20b4ad 31.9%,#09acbe 37.4%,#079dcf 44.3%,#1485d4 50.2%,#0972de 56.2%,#066edf"></i><i style="--g:#fec13a,#fcbd3f 7.2%,#efb94b 13.1%,#99bf6f 22%,#2eb7a4 30%,#0aacbd 36.9%,#079dcf 44.3%,#1484d4 50.7%,#0972de 56.7%,#066edf"></i><i style="--g:#fec13a,#f9bb43 8.2%,#e5b950 13.1%,#9cbf6e 20.5%,#46bb96 27%,#26b5a9 30%,#0aacbe 36.4%,#079dcf 43.8%,#1484d4 50.2%,#0a72de 56.7%,#066edf"></i><i style="--g:#fec13a,#fbbc40 5.7%,#edb94c 9.7%,#9ebe6e 18.6%,#2db7a4 27.5%,#0aacbe 34.9%,#079ccf 42.8%,#1484d4 49.3%,#0b73dd 55.2%,#066edf"></i><i style="--g:#fec13a,#fbbd40 5.2%,#edb94c 9.2%,#94bf72 18.6%,#25b5a9 27.5%,#0aacbe 34.4%,#079dcf 42.3%,#1485d4 48.8%,#0972de 55.2%,#066edf"></i><i style="--g:#fec13a,#fbbc41 5.7%,#ecb94d 9.7%,#9cbf6f 18.6%,#2db7a4 27.5%,#09acbe 35.4%,#079dcf 43.3%,#1485d4 49.8%,#0b74dd 55.7%,#066edf"></i><i style="--g:#fec13a,#fabc42 7.2%,#eab94e 11.6%,#9cbf6e 20.5%,#2bb6a5 30%,#09acbe 37.4%,#079dcf 45.3%,#1485d4 51.7%,#0b73dd 58.2%,#066edf"></i><i style="--g:#fec13a,#f9bb44 9.7%,#e5b950 15.1%,#99bf6f 23%,#40ba99 30%,#27b6a8 32.4%,#0aacbe 39.4%,#079dcf 47.3%,#1484d4 53.7%,#0972de 60.1%,#066edf"></i><i style="--g:#fec13a,#f9bb44 10.1%,#e9b94e 15.1%,#93bf72 24%,#2ab6a6 32.4%,#0aacbd 39.4%,#079dcf 47.3%,#1484d4 54.2%,#0a72de 60.1%,#066edf"></i><i style="--g:#fec13a,#fabc42 8.2%,#eab94e 13.1%,#9abf6f 22%,#28b6a8 31.4%,#0aacbe 38.4%,#079dcf 46.3%,#1485d4 52.7%,#0a73de 59.2%,#066edf"></i><i style="--g:#fec13a,#f9bb44 8.2%,#e9b94e 12.1%,#92bf72 21.5%,#2eb7a4 29.5%,#1eb3ae 31.9%,#0aacbe 37.4%,#079dcf 45.3%,#1484d4 52.2%,#0972de 58.7%,#066edf"></i><i style="--g:#fec13a,#f9bb44 8.2%,#e9b94e 12.1%,#91bf73 21.5%,#2db7a4 29.5%,#0aacbe 37.4%,#079dcf 45.3%,#1484d4 52.2%,#0a72de 58.7%,#066edf"></i><i style="--g:#fec13a,#fbbc41 6.7%,#ebb94d 11.1%,#9abf6f 20%,#29b6a7 29.5%,#0bacbd 36.4%,#079dcf 44.8%,#1483d4 51.7%,#0a73de 57.7%,#066edf"></i><i style="--g:#fec13a,#fabc42 6.7%,#ebb94d 10.6%,#93bf72 20%,#2ab6a6 28.5%,#0aacbd 35.9%,#079ecf 43.8%,#1484d4 50.7%,#0972de 57.2%,#066edf"></i><i style="--g:#fec13a,#fabc42 6.7%,#ebb94d 10.6%,#93bf72 20%,#2ab6a6 28.5%,#0aacbe 35.9%,#079ecf 43.8%,#1484d4 50.7%,#0972de 57.2%,#066edf"></i><i style="--g:#fec13a,#fabc41 6.2%,#ecb94c 10.1%,#95bf71 19.6%,#28b6a8 28.5%,#0bacbd 35.4%,#079dcf 43.8%,#1485d4 50.2%,#0a72de 56.7%,#066edf"></i><i style="--g:#fec13a,#fbbc41 5.7%,#ecb94d 9.7%,#94bf72 19.1%,#27b5a8 28%,#0aacbd 34.9%,#079ecf 42.8%,#1484d4 49.8%,#0972de 56.2%,#066edf"></i><i style="--g:#fec13a,#fbbd40 5.2%,#edb94c 9.2%,#96bf71 18.6%,#28b6a8 27.5%,#09acbe 34.9%,#079dcf 42.8%,#1485d4 49.3%,#0972de 55.7%,#066edf"></i><i style="--g:#fec13a,#f9bb43 6.2%,#eab94e 9.7%,#91bf73 19.1%,#28b6a7 27.5%,#09acbe 34.9%,#079dcf 42.8%,#1485d4 49.3%,#0a72de 55.7%,#066edf"></i><i style="--g:#fec13a,#fabc42 5.7%,#eab94d 9.2%,#92bf73 18.6%,#29b6a7 27%,#0aacbe 34.4%,#079dcf 42.3%,#1485d4 48.8%,#0a72de 55.2%,#066edf"></i><i style="--g:#fec13a,#fbbd40 4.7%,#eeb94b 8.2%,#9cbf6f 17.1%,#28b6a8 26.5%,#0aacbd 33.4%,#079ecf 41.3%,#1484d4 48.3%,#0972de 54.7%,#066edf"></i><i style="--g:#fec13a,#fbbc41 5.2%,#ecb94c 8.7%,#94bf72 18.1%,#2bb6a6 26.5%,#0aacbe 33.9%,#079dcf 41.8%,#1484d4 48.8%,#0a73dd 54.7%,#066edf"></i><i style="--g:#fec13a,#f9bb44 6.7%,#e8b94f 10.1%,#94bf71 19.1%,#2db7a5 27.5%,#0aacbd 34.9%,#079cd0 43.3%,#1484d4 49.8%,#0a72de 56.2%,#066edf"></i><i style="--g:#fec13a,#fabc42 6.7%,#ebb94d 10.6%,#92bf72 20%,#25b5a9 29%,#0aacbe 35.9%,#079dcf 43.8%,#1484d4 50.7%,#0972de 57.2%,#066edf"></i><i style="--g:#fec13a,#fabb42 6.7%,#eab94e 10.6%,#97bf70 19.6%,#26b5a9 29%,#0aacbe 35.9%,#079dcf 43.8%,#1484d4 50.7%,#0972de 57.2%,#066edf"></i><i style="--g:#fec13a,#f9bb43 6.2%,#e9b94e 9.7%,#9bbf6f 18.1%,#2ab6a7 27.5%,#0bacbd 34.4%,#079dcf 42.8%,#1485d4 49.3%,#0a73dd 55.7%,#066edf"></i><i style="--g:#fec03a,#f9bb43 5.7%,#e7b94f 9.2%,#93bf72 18.1%,#2eb7a4 26%,#1eb3ae 28.5%,#0aacbe 33.9%,#079dcf 41.8%,#1485d4 48.3%,#0972de 55.2%,#066edf"></i><i style="--g:#fec03b,#f9bb43 5.7%,#e7b94f 9.2%,#92bf73 18.1%,#2db7a4 26%,#0bacbd 33.4%,#079ccf 41.8%,#1484d4 48.3%,#0972de 55.2%,#066edf"></i><i style="--g:#fec03b,#fcbd40 4.2%,#efb94b 7.7%,#98bf70 17.1%,#29b6a7 26%,#09acbe 33.4%,#079ccf 41.3%,#1484d4 47.8%,#0a73dd 53.7%,#066edf"></i><i style="--g:#fec03b,#f9bb43 5.7%,#e8b94f 9.2%,#a8be69 17.6%,#3fba9a 26%,#1eb3ae 30.9%,#09abbe 35.4%,#079cd0 42.8%,#1485d4 49.3%,#1078da 53.7%,#0871de 62.1%,#066edf"></i><i style="--g:#fec03b,#f9bb43 8.2%,#d3bb58 17.1%,#88bf76 24.5%,#2cb7a5 32.4%,#17b1b3 35.4%,#0aacbd 38.9%,#079ccf 46.8%,#1485d4 53.2%,#0972de 61.6%,#066edf"></i><i style="--g:#fec13a,#f8bb44 11.1%,#e5b950 16.6%,#94bf72 25%,#2eb7a3 32.9%,#1db3af 35.4%,#0aacbd 40.3%,#079dcf 48.3%,#1484d4 54.7%,#0a72de 61.1%,#066edf"></i><i style="--g:#fec13a,#f9bb43 10.6%,#e9b94e 16.1%,#9abf6f 24.5%,#29b6a7 33.4%,#0aacbd 40.3%,#079dcf 48.3%,#1484d4 54.7%,#0972de 61.1%,#066edf"></i><i style="--g:#fec13a,#fcbd40 8.7%,#eeb94c 15.6%,#99bf6f 24.5%,#28b6a8 33.4%,#0aacbe 40.3%,#079dcf 48.3%,#1484d4 54.7%,#0a72de 60.6%,#066edf"></i><i style="--g:#fec13a,#f9bb43 10.1%,#e8b94f 15.6%,#96bf71 24%,#2bb6a5 32.4%,#0bacbd 39.4%,#079dcf 47.3%,#1485d4 53.7%,#0972de 60.1%,#066edf"></i><i style="--g:#fec13a,#f9bb43 8.7%,#e6b950 13.6%,#9dbe6e 21.5%,#2bb6a6 30.9%,#0aacbd 37.9%,#079dcf 45.8%,#1485d4 52.2%,#0a73dd 58.7%,#066edf"></i><i style="--g:#fec13a,#fabc42 6.7%,#eab94e 10.6%,#9abf6f 19.6%,#2cb6a5 28.5%,#0aacbe 35.9%,#079ccf 43.8%,#1484d4 50.2%,#0b73dd 56.2%,#066edf"></i><i style="--g:#fec13a,#fbbd40 5.2%,#ecb94c 9.2%,#99bf70 18.1%,#2ab6a6 27%,#09acbe 34.4%,#079ccf 42.3%,#1484d4 48.8%,#0a73dd 54.7%,#066edf"></i><i style="--g:#fec13a,#fabc41 5.7%,#ecb94c 9.2%,#9abf6f 18.1%,#2bb6a6 27%,#0aacbe 34.4%,#079ccf 42.3%,#1484d4 48.8%,#0b73dd 54.7%,#066edf"></i><i style="--g:#fec13a,#f9bb43 6.7%,#e7b94f 10.6%,#91bf73 19.6%,#2db7a4 27.5%,#0aacbd 34.9%,#079dcf 42.8%,#1484d4 49.8%,#0972de 56.7%,#066edf"></i><i style="--g:#fec13a,#fabc41 6.2%,#ebb94d 10.1%,#91bf73 19.6%,#2cb7a5 27.5%,#0aacbd 34.9%,#079dcf 42.8%,#1484d4 49.8%,#0a72de 55.7%,#066edf"></i><i style="--g:#fec13a,#fbbc40 5.7%,#eeb94c 9.7%,#95bf71 19.1%,#2ab6a6 27.5%,#0aacbe 34.9%,#079dcf 42.8%,#1484d4 49.3%,#0972de 55.7%,#066edf"></i><i style="--g:#fec13a,#fabc41 6.2%,#ebb94d 10.1%,#91bf73 19.6%,#2cb7a5 27.5%,#0aacbd 34.9%,#079dcf 42.8%,#1485d4 49.3%,#0a72de 55.7%,#066edf"></i><i style="--g:#fec13a,#f9bb43 7.2%,#e8b94e 11.1%,#93bf72 20%,#2eb7a4 28%,#0aacbd 35.4%,#079ecf 43.3%,#1484d4 50.2%,#0972de 56.7%,#066edf"></i><i style="--g:#fec13a,#fbbc41 6.7%,#edb94c 11.1%,#94bf72 20.5%,#2ab6a6 29%,#0aacbe 36.4%,#079dcf 44.3%,#1484d4 50.7%,#0a72de 56.7%,#066edf"></i><i style="--g:#fec13a,#fabc42 7.2%,#ecb94d 11.6%,#92bf72 21%,#28b6a8 29.5%,#0aacbd 36.4%,#079dcf 44.3%,#1483d4 51.2%,#0972de 57.2%,#066edf"></i><i style="--g:#fec13a,#fbbd40 6.7%,#eeb94b 11.6%,#9dbe6e 20.5%,#2db7a4 29.5%,#0aacbd 36.9%,#079dcf 44.8%,#1485d4 51.2%,#0b73dd 57.2%,#066edf"></i><i style="--g:#fec13a,#f8bb44 9.2%,#e7b94f 13.6%,#96bf71 22%,#28b6a8 30.9%,#0aacbe 37.9%,#079dcf 45.8%,#1484d4 52.2%,#0a72de 58.7%,#066edf"></i><i style="--g:#fec13a,#fbbc41 8.2%,#ecb94d 13.6%,#99bf6f 22.5%,#2eb7a4 30.9%,#0aacbd 38.4%,#079dcf 46.3%,#1483d5 53.2%,#0a72de 59.2%,#066edf"></i><i style="--g:#fec13a,#f9bb43 9.7%,#e3b951 15.1%,#91bf73 23.5%,#31b8a2 30.9%,#1eb3ae 33.4%,#0aacbe 38.9%,#079dcf 46.8%,#1484d4 53.2%,#0972de 60.1%,#066edf"></i><i style="--g:#fec13a,#fbbc40 7.7%,#edb94c 13.1%,#9bbf6f 22%,#2bb6a6 30.9%,#0aacbe 38.4%,#079cd0 46.3%,#1484d4 52.7%,#0a73dd 58.7%,#066edf"></i><i style="--g:#fec13a,#fbbc40 7.7%,#edb94c 13.1%,#9bbf6f 22%,#2bb6a6 30.9%,#09acbe 38.4%,#079cd0 46.3%,#1484d4 52.7%,#0a72de 58.7%,#066edf"></i><i style="--g:#fec13a,#f9bb44 9.7%,#e6b950 14.6%,#94bf72 23%,#2eb7a4 30.9%,#1fb4ad 32.9%,#0aacbd 38.4%,#079dcf 46.3%,#1485d4 52.7%,#0972de 59.7%,#066edf"></i><i style="--g:#fec13a,#fbbd40 7.2%,#eeb94b 12.6%,#9cbf6e 21.5%,#2bb6a6 30.4%,#0aacbe 37.9%,#079cd0 45.8%,#1484d4 52.2%,#0b73dd 57.7%,#066edf"></i><i style="--g:#fec13a,#fbbc41 7.2%,#edb94c 12.1%,#99bf70 21%,#28b6a8 30%,#0aacbd 36.9%,#079dcf 44.8%,#1484d4 51.2%,#0a72de 57.2%,#066edf"></i><i style="--g:#fec13a,#fcbd3f 6.7%,#f0b94a 12.1%,#9fbe6d 23%,#3fba9a 30.4%,#09acbe 39.4%,#079dcf 46.3%,#1485d4 52.7%,#0f77db 57.2%,#0871de 64.1%,#066edf"></i><i style="--g:#fec13a,#f8ba44 12.1%,#e4b950 18.1%,#cfbb5a 22%,#a5be6b 26.5%,#36b99f 35.4%,#16b1b4 39.4%,#0aacbd 42.3%,#079cd0 49.8%,#1485d4 55.7%,#0972de 63.6%,#066edf"></i><i style="--g:#fec13a,#f9bb43 10.6%,#dcba54 18.6%,#b0be67 24%,#28b6a8 35.4%,#09acbe 41.3%,#079dcf 48.3%,#1484d4 54.7%,#0b74dd 61.1%,#066edf"></i><i style="--g:#fec13a,#fbbd40 6.7%,#eeb94b 11.1%,#acbe68 19.6%,#3ab99c 28.5%,#1cb2b0 32.9%,#0aacbd 36.9%,#079dcf 44.3%,#1485d4 50.7%,#0e76dc 55.7%,#066edf"></i><i style="--g:#fec13a,#fabc41 6.7%,#ebb94d 11.1%,#95bf71 20%,#29b6a7 28.5%,#0aacbd 35.4%,#079dcf 43.3%,#1484d4 49.8%,#0972de 55.7%,#066edf"></i><i style="--g:#fec13a,#fabc42 7.2%,#ebb94d 11.6%,#94bf72 20.5%,#28b6a7 29%,#0aacbd 35.9%,#079dcf 43.8%,#1484d4 50.2%,#0a72de 56.2%,#066edf"></i><i style="--g:#fec13a,#fabb42 7.7%,#e9b94e 12.1%,#91bf73 21%,#2bb6a6 29%,#09acbe 36.4%,#079dcf 43.8%,#1485d4 50.2%,#0972de 56.7%,#066edf"></i><i style="--g:#fec13a,#f9bb42 7.7%,#e9b94e 12.1%,#91bf73 21%,#2ab6a6 29%,#0aacbd 35.9%,#079dcf 43.8%,#1484d4 50.2%,#0972de 56.7%,#066edf"></i><i style="--g:#fec13a,#fbbc41 7.2%,#ebb94d 12.1%,#9bbf6f 20.5%,#29b6a7 29.5%,#0aacbd 36.4%,#079dcf 44.3%,#1484d4 50.7%,#0a72de 56.7%,#066edf"></i><i style="--g:#fec13a,#f9bb43 8.2%,#eab94e 12.6%,#93bf72 21.5%,#2cb7a5 29.5%,#0aacbe 36.9%,#079dcf 44.3%,#1485d4 50.7%,#0972de 57.2%,#066edf"></i><i style="--g:#fec13a,#fabc42 7.7%,#ebb94d 12.1%,#95bf71 21%,#28b6a7 29.5%,#0aacbe 36.4%,#079ccf 44.3%,#1484d4 50.7%,#0a72de 56.7%,#066edf"></i><i style="--g:#fec13a,#fbbc41 7.2%,#edb94c 12.1%,#97bf70 21%,#2bb6a6 29.5%,#0aacbd 36.4%,#079dcf 44.3%,#1484d4 50.7%,#0a72de 56.7%,#066edf"></i><i style="--g:#fec13a,#f9bb44 9.2%,#e9b94e 13.6%,#96bf71 22%,#2ab6a7 30.4%,#0aacbe 37.4%,#079cd0 45.3%,#1483d5 51.7%,#0972de 57.7%,#066edf"></i><i style="--g:#fec13a,#fbbd40 7.7%,#edb94c 13.6%,#95bf71 22.5%,#28b6a8 30.9%,#0aacbe 37.9%,#079ecf 45.3%,#1485d4 51.7%,#0972de 57.7%,#066edf"></i><i style="--g:#fec13a,#fbbd40 7.7%,#edb94c 13.6%,#95bf71 22.5%,#28b6a8 30.9%,#0aacbe 37.9%,#079ecf 45.3%,#1485d4 51.7%,#0972de 57.7%,#066edf"></i><i style="--g:#fec13a,#fcbd3f 7.7%,#efb94b 13.6%,#c6bc5e 19.1%,#a8be6a 22%,#34b8a0 30.9%,#16b1b4 35.4%,#0aacbe 38.9%,#079dcf 46.3%,#1484d4 52.7%,#0b74dd 58.2%,#066edf"></i><i style="--g:#fec13a,#f8ba44 12.1%,#e2b952 18.6%,#9cbf6f 25.5%,#4bbc93 31.4%,#25b5aa 34.9%,#0aacbe 40.8%,#079cd0 48.3%,#1484d4 54.2%,#0972de 60.6%,#066edf"></i><i style="--g:#fec13a,#fbbc40 10.6%,#edb94c 18.6%,#96bf71 27%,#2ab6a7 34.9%,#09abbe 41.8%,#079dcf 48.8%,#1485d4 54.7%,#0972de 60.6%,#066edf"></i><i style="--g:#fec13a,#f9bb44 11.6%,#e1ba52 18.6%,#99bf70 25.5%,#4ebc91 30.9%,#27b5a8 34.4%,#0aacbd 40.3%,#079dcf 47.8%,#1483d5 54.2%,#0972de 60.1%,#066edf"></i><i style="--g:#fec13a,#f7ba45 11.6%,#d5ba57 18.6%,#9bbf6f 24.5%,#39b99d 31.9%,#1cb3af 35.4%,#0aacbe 39.9%,#079cd0 47.3%,#1485d4 53.2%,#0972de 60.6%,#066edf"></i><i style="--g:#fec13a,#f8ba45 12.6%,#daba55 20%,#9cbf6f 26%,#29b6a7 34.9%,#1ab2b1 36.9%,#09acbe 41.3%,#079dcf 48.3%,#1485d4 54.2%,#0972de 61.1%,#066edf"></i><i style="--g:#fec13a,#f8ba44 12.6%,#e5b950 18.6%,#9cbf6f 26%,#43bb97 32.4%,#28b6a8 34.9%,#09acbe 41.3%,#079dcf 48.3%,#1483d5 54.7%,#0a72de 60.1%,#066edf"></i><i style="--g:#fec13a,#fabc42 9.7%,#ecb94c 15.1%,#d2bb59 18.6%,#9fbe6d 23.5%,#30b7a3 31.9%,#19b2b2 35.4%,#0aacbe 39.4%,#079dcf 46.8%,#1484d4 53.2%,#0b73dd 58.7%,#066edf"></i><i style="--g:#fec13a,#fbbc41 8.7%,#ecb94c 14.6%,#9bbf6f 23%,#27b6a8 31.9%,#09acbe 38.9%,#079dcf 46.3%,#1484d4 52.7%,#0972de 58.7%,#066edf"></i><i style="--g:#fec13a,#f9bb44 10.1%,#e7b94f 15.1%,#93bf72 23.5%,#2cb6a5 31.4%,#0aacbd 38.4%,#079ecf 45.8%,#1485d4 52.2%,#0972de 58.7%,#066edf"></i><i style="--g:#fec13a,#f9bb43 9.7%,#e7b94f 14.6%,#95bf71 23%,#2db7a5 30.9%,#0bacbd 37.9%,#079dcf 45.8%,#1483d4 52.2%,#0972de 58.7%,#066edf"></i><i style="--g:#fec13a,#fabc42 9.2%,#eab94d 14.6%,#97bf70 23%,#25b5a9 31.9%,#0aacbe 38.4%,#079dcf 45.8%,#1484d4 52.2%,#0a72de 58.2%,#066edf"></i><i style="--g:#fec13a,#fcbd40 8.2%,#eeb94b 14.6%,#99bf70 23.5%,#2ab6a6 31.9%,#0aacbe 38.9%,#079dcf 46.3%,#1484d4 52.7%,#0a72de 58.7%,#066edf"></i><i style="--g:#fec13a,#f9bb44 10.6%,#e6b950 16.1%,#90bf73 24.5%,#2db7a4 31.9%,#09acbe 39.4%,#079dcf 46.8%,#1485d4 52.7%,#0972de 59.2%,#066edf"></i><i style="--g:#fec13a,#fabc41 9.2%,#ebb94d 15.1%,#99bf70 23.5%,#2ab6a7 31.9%,#0aacbe 38.9%,#079ecf 46.3%,#1484d4 52.7%,#0a72de 58.7%,#066edf"></i><i style="--g:#fec13a,#fabb42 9.7%,#eab94e 15.1%,#9abf6f 23%,#2ab6a6 31.4%,#0aacbd 38.4%,#079dcf 46.3%,#1483d5 52.7%,#0972de 58.7%,#066edf"></i><i style="--g:#fec13a,#fabc42 9.2%,#ebb94d 14.6%,#9bbf6f 22.5%,#27b5a8 31.4%,#09acbe 38.4%,#079dcf 45.8%,#1484d4 52.2%,#0972de 58.2%,#066edf"></i><i style="--g:#fec13a,#fbbd40 8.7%,#eeb94b 14.6%,#c7bc5d 19.6%,#a7be6a 22.5%,#30b7a2 31.4%,#17b1b3 35.4%,#0aacbd 38.9%,#079cd0 46.8%,#1485d4 52.7%,#0c74dd 58.2%,#066edf"></i><i style="--g:#fec13a,#f9bb44 12.6%,#e2b952 19.6%,#a4be6b 25.5%,#51bc90 31.4%,#29b6a7 34.9%,#0aacbe 41.3%,#079dcf 48.8%,#1484d4 54.7%,#0a72de 60.6%,#066edf"></i><i style="--g:#fec13a,#fabc42 13.6%,#ebb94d 21%,#d2bb59 24%,#a5be6b 28%,#2eb7a4 36.4%,#19b2b1 39.4%,#0aacbe 43.3%,#079dcf 50.7%,#1484d4 56.7%,#0b73dd 61.6%,#066edf"></i><i style="--g:#fec13a,#f8ba44 14.6%,#e3b951 21%,#d0bb59 24%,#babd62 26%,#73bf7f 31.4%,#2cb7a5 36.9%,#19b2b2 39.4%,#0aacbe 43.3%,#079ccf 50.7%,#1484d4 56.7%,#0972de 63.1%,#066edf"></i><i style="--g:#fec13a,#fbbd40 9.2%,#eeb94b 15.6%,#a8be69 24%,#38b99e 32.4%,#0aacbd 40.3%,#079ecf 47.8%,#1485d4 54.2%,#0d75dc 59.2%,#066edf"></i><i style="--g:#fec13a,#fbbc41 9.2%,#edb94c 15.1%,#a7be6a 22%,#2fb7a3 30.9%,#1eb3ae 33.4%,#0aacbe 38.9%,#079dcf 46.8%,#1484d4 53.2%,#0a72de 59.2%,#066edf"></i><i style="--g:#fec13a,#f9bb44 11.6%,#e7b94f 17.1%,#a3be6c 23.5%,#2cb7a5 32.4%,#0aacbe 39.9%,#079dcf 47.8%,#1484d4 54.2%,#0a72de 60.1%,#066edf"></i><i style="--g:#fec13a,#f9bb43 12.6%,#eab94e 18.6%,#a6be6a 25%,#2db7a4 33.9%,#1cb3af 36.4%,#0aacbd 41.3%,#079dcf 49.3%,#1484d4 55.7%,#0b73dd 61.1%,#066edf"></i><i style="--g:#fec13a,#f9bb44 14.1%,#e8b94f 20.5%,#a6be6a 26.5%,#2cb7a5 35.4%,#0aacbe 42.8%,#079dcf 50.7%,#1485d4 56.7%,#0972de 62.6%,#066edf"></i><i style="--g:#fec13a,#fbbd40 11.6%,#edb94c 20.5%,#a6be6a 27%,#2ab6a6 35.9%,#0aacbe 43.3%,#079ccf 51.2%,#1484d4 57.2%,#0972de 62.6%,#066edf"></i><i style="--g:#fec13a,#fbbd40 12.1%,#eeb94b 20.5%,#b3bd65 27%,#31b8a2 36.4%,#17b1b3 40.3%,#0bacbd 43.8%,#079dcf 51.7%,#1484d4 57.7%,#0b74dd 63.1%,#066edf"></i><i style="--g:#fec13a,#f8ba44 17.6%,#e1ba52 25.5%,#b2bd66 30.4%,#2bb6a5 40.3%,#0aacbe 46.8%,#079cd0 54.2%,#1485d4 59.7%,#0b73dd 65.6%,#066edf"></i><i style="--g:#fec13a,#fbbd40 15.1%,#eeb94b 26%,#d8ba56 29.5%,#c1bc5f 31.4%,#7ebf7a 36.4%,#33b8a1 41.3%,#1db3af 43.8%,#09abbe 48.8%,#079dcf 55.7%,#1485d4 61.1%,#0972de 67.1%,#066edf"></i><i style="--g:#fec13a,#fbbd40 14.6%,#eeb94b 25.5%,#cdbb5b 29.5%,#b0bd66 31.9%,#2eb7a4 40.8%,#1ab2b1 43.8%,#0aacbe 47.8%,#079ecf 54.7%,#1484d4 60.6%,#0b73dd 65.6%,#066edf"></i><i style="--g:#fec13a,#fbbc41 15.1%,#ecb94d 25%,#9fbe6d 31.9%,#2cb7a5 39.9%,#0aacbe 46.8%,#079cd0 54.2%,#1485d4 59.7%,#0972de 65.1%,#066edf"></i><i style="--g:#fec13a,#fbbd40 13.6%,#eeb94c 24%,#9ebe6e 31.4%,#27b5a9 39.9%,#0aacbe 46.3%,#079cd0 53.7%,#1485d4 59.2%,#0a72de 64.6%,#066edf"></i><i style="--g:#fec13a,#fbbd40 13.6%,#eeb94b 24%,#d6ba57 27%,#a3be6c 31.4%,#2cb6a5 39.9%,#09acbe 46.8%,#079dcf 53.7%,#1484d4 59.7%,#0b73dd 64.6%,#066edf"></i><i style="--g:#fec13a,#f9bb44 18.1%,#e7b94f 26.5%,#a1be6d 32.9%,#41ba98 39.4%,#25b5aa 41.8%,#09acbe 47.8%,#079dcf 54.7%,#1483d5 60.6%,#0972de 66.1%,#066edf"></i><i style="--g:#fec13a,#fcbd40 14.6%,#eeb94c 26.5%,#9dbf6e 33.9%,#29b6a7 41.8%,#0aacbe 48.3%,#079dcf 55.2%,#1485d4 60.6%,#0972de 66.1%,#066edf"></i><i style="--g:#fec13a,#f8ba44 18.6%,#e7b94f 26.5%,#9dbe6e 33.4%,#3eba9a 39.9%,#27b5a8 41.8%,#0aacbe 47.8%,#079dcf 54.7%,#1483d4 60.6%,#0972de 66.1%,#066edf"></i><i style="--g:#fec13a,#f9bb43 16.6%,#e9b94e 24%,#cdbb5b 27.5%,#a1be6c 31.4%,#2cb7a5 39.9%,#0aacbd 46.3%,#079dcf 53.2%,#1485d4 59.2%,#0b73dd 64.6%,#066edf"></i><i style="--g:#fec13a,#fbbc40 13.6%,#eeb94b 22.5%,#b0bd66 30%,#78bf7d 34.4%,#37b99e 38.9%,#16b1b4 43.3%,#0aacbd 46.3%,#079dcf 53.2%,#1484d4 59.2%,#0b74dd 64.6%,#066edf"></i><i style="--g:#fec13a,#f8bb44 18.6%,#dfba53 28%,#a1be6c 33.9%,#25b5aa 43.3%,#09acbe 48.8%,#079dcf 55.2%,#1484d4 61.1%,#0a72de 67.1%,#066edf"></i><i style="--g:#fec13a,#f9bb43 19.1%,#eab94e 28%,#99bf70 35.9%,#29b6a7 43.8%,#0aacbe 49.8%,#079dcf 56.2%,#1484d4 62.1%,#0972de 67.6%,#066edf"></i><i style="--g:#fec13a,#fbbd40 14.6%,#eeb94b 26%,#d8ba56 29%,#9fbe6d 34.4%,#2ab6a6 42.8%,#09abbf 49.3%,#079dcf 55.7%,#1483d4 61.6%,#0a73de 66.6%,#066edf"></i><i style="--g:#fec13a,#f9bb43 17.6%,#e8b94f 26%,#92bf72 34.4%,#26b5a9 42.3%,#09acbe 48.3%,#079ecf 54.7%,#1485d4 60.6%,#0972de 66.6%,#066edf"></i><i style="--g:#fec13a,#fcbd3f 13.1%,#f0b94a 24%,#a9be69 33.9%,#39b99d 42.3%,#09abbf 49.8%,#079dcf 55.7%,#1485d4 61.6%,#0d76dc 66.6%,#066edf"></i><i style="--g:#fec13a,#f8ba44 21%,#e0ba52 30.4%,#d0bb59 33.4%,#b8bd63 35.9%,#6ebf82 41.8%,#2cb7a5 46.8%,#17b1b3 49.3%,#0aacbe 52.2%,#079ecf 58.2%,#1484d4 64.1%,#0972de 70.5%,#066edf"></i><i style="--g:#fec13a,#fbbd40 17.6%,#eeb94b 30.4%,#d5ba57 33.9%,#9cbf6f 39.4%,#2bb6a6 47.3%,#09abbe 53.2%,#079dcf 59.2%,#1485d4 64.6%,#0a72de 70%,#066edf"></i><i style="--g:#fec13a,#fbbc41 18.6%,#ecb94c 30.9%,#8fbf73 40.3%,#2bb6a6 47.3%,#09acbe 53.2%,#079dcf 59.2%,#1483d4 65.1%,#0a72de 70%,#066edf"></i><i style="--g:#fec13a,#fbbc40 19.1%,#eeb94c 31.9%,#abbe68 40.8%,#8dbf74 43.3%,#3bb99c 48.8%,#09abbf 55.7%,#079dcf 61.1%,#1485d4 66.6%,#0d75dc 71%,#066edf"></i><i style="--g:#fec13a,#f6ba46 30.4%,#daba55 40.8%,#afbe67 45.8%,#6cbf82 50.7%,#25b5aa 55.7%,#08aac0 60.1%,#079dcf 64.6%,#1485d4 69.6%,#0b74dd 74.5%,#066edf"></i><i style="--g:#fec13a,#f8bb44 30.9%,#e8b94f 43.3%,#d8ba56 45.8%,#a3be6c 50.2%,#6dbf82 53.7%,#48bb95 55.7%,#24b5aa 58.2%,#07a9c2 63.1%,#079ccf 67.1%,#1484d4 71.5%,#0a72de 76%,#066edf"></i><i style="--g:#fec13a,#f8bb44 30%,#f1b94a 38.9%,#e3b951 43.3%,#cebb5a 45.8%,#a0be6d 49.8%,#74bf7f 52.7%,#24b5aa 57.7%,#07a9c2 62.6%,#079dcf 66.6%,#1483d5 71.5%,#0972de 76%,#066edf"></i><i style="--g:#fec13a,#f8ba44 27%,#f3b948 32.9%,#e3b951 38.4%,#b0bd66 44.8%,#77bf7e 49.3%,#28b6a8 54.7%,#10afb8 57.7%,#07a9c2 60.1%,#079cd0 64.6%,#1485d4 69.6%,#0b73dd 74.5%,#066edf"></i><i style="--g:#fec13a,#fabc42 21.5%,#ebb94d 32.9%,#b4bd65 40.3%,#8abf76 44.3%,#33b8a0 50.2%,#0aacbe 56.2%,#079ccf 62.1%,#1484d4 67.6%,#0b74dd 72.5%,#066edf"></i><i style="--g:#fec13a,#fbbc41 19.1%,#ecb94c 31.9%,#d9ba56 34.9%,#93bf72 42.3%,#28b6a8 50.2%,#09abbf 55.7%,#079dcf 61.1%,#1484d4 67.1%,#0a73dd 72%,#066edf"></i><i style="--g:#fec13a,#fabc42 21%,#ebb94d 32.9%,#d2bb59 36.4%,#90bf73 43.3%,#29b6a7 50.7%,#09abbf 56.2%,#079dcf 61.6%,#1484d4 67.6%,#0972de 73%,#066edf"></i><i style="--g:#fec13a,#f9bb44 22.5%,#e6b950 32.9%,#97bf70 41.8%,#23b4ab 50.7%,#0aacbe 55.2%,#079dcf 61.1%,#1484d4 67.1%,#0a72de 72.5%,#066edf"></i><i style="--g:#fec13a,#fbbc40 17.6%,#eeb94b 29.5%,#daba55 33.4%,#b8bd63 37.4%,#8cbf75 41.8%,#2fb7a3 48.8%,#19b2b1 51.2%,#09abbf 54.7%,#079cd0 60.6%,#1485d4 66.1%,#0972de 72.5%,#066edf"></i><i style="--g:#fec13a,#fabc42 19.6%,#ecb94d 29.5%,#d6ba57 33.9%,#b8bd63 37.4%,#91bf73 41.3%,#2fb7a3 48.8%,#19b2b2 51.2%,#09abbf 54.7%,#079cd0 60.6%,#1485d4 66.1%,#0a72de 72.5%,#066edf"></i><i style="--g:#fec13a,#fcbd3f 15.6%,#efb94b 28%,#d0bb5a 33.4%,#b6bd64 36.4%,#8bbf75 40.8%,#2eb7a4 47.8%,#09abbe 53.7%,#079dcf 59.7%,#1484d4 65.6%,#0b73dd 71%,#066edf"></i><i style="--g:#fec13a,#fabb42 20%,#ebb94d 30%,#b0bd66 38.9%,#8cbf75 42.3%,#39b99d 48.3%,#09abbf 55.2%,#079dcf 60.6%,#1484d4 66.6%,#0d75dc 71%,#066edf"></i><i style="--g:#fec13a,#f8ba44 26%,#ddba54 38.4%,#bebc61 42.8%,#a9be69 44.8%,#6bbf83 49.8%,#27b5a8 54.7%,#08aac1 59.7%,#079cd0 64.6%,#1485d4 69.6%,#0b73dd 75%,#066edf"></i><i style="--g:#fec13a,#fabc42 25.5%,#ecb94d 39.9%,#dcba54 42.8%,#9ebe6e 48.8%,#7dbf7b 51.2%,#3bb99c 55.2%,#23b5ab 57.2%,#07a9c2 62.1%,#079bd0 66.6%,#1485d4 71%,#0972de 76.5%,#066edf"></i><i style="--g:#fec13a,#fbbd40 22.5%,#eeb94b 39.9%,#dcba54 42.8%,#98bf70 49.3%,#27b5a8 56.7%,#07a9c2 62.1%,#079bd0 66.6%,#1485d4 71%,#0a72de 76%,#066edf"></i><i style="--g:#fec13a,#f8bb44 28%,#f1b94a 36.4%,#e7b94f 39.9%,#dbba55 41.8%,#9ebe6d 47.8%,#6fbf81 51.2%,#25b5a9 56.2%,#08aac1 61.1%,#079dcf 65.6%,#1485d4 70.5%,#0972de 76%,#066edf"></i><i style="--g:#fec13a,#fbbd40 21.5%,#eeb94b 36.9%,#d4bb58 41.3%,#a3be6c 46.3%,#7ebf7b 49.3%,#3eba9a 53.2%,#22b4ac 55.7%,#07a9c2 60.6%,#079cd0 65.1%,#1485d4 70%,#0a72de 75.5%,#066edf"></i><i style="--g:#fec13a,#fabc42 23.5%,#ecb94d 36.4%,#dbba55 39.9%,#a0be6d 45.8%,#6cbf83 49.8%,#43bb97 52.2%,#25b5a9 54.7%,#08aac0 59.7%,#079cd0 64.6%,#1485d4 69.6%,#0a72de 75%,#066edf"></i><i style="--g:#fec13a,#f8bb44 24.5%,#e5b950 34.9%,#c3bc5f 39.9%,#a7be6a 42.8%,#77bf7e 46.8%,#2bb6a6 52.2%,#11afb8 55.7%,#07aac1 58.2%,#079cd0 63.1%,#1484d4 68.6%,#0b73dd 73.5%,#066edf"></i><i style="--g:#fec13a,#fcbd40 17.6%,#efb94b 30.9%,#dcba54 34.9%,#bfbc60 38.4%,#94bf72 42.8%,#2fb7a3 50.2%,#16b1b4 53.2%,#09abbf 56.2%,#079dcf 61.6%,#1483d5 67.6%,#0972de 73.5%,#066edf"></i><i style="--g:#fec13a,#f8bb44 24.5%,#f3b948 30.4%,#e3b951 35.9%,#9dbf6e 43.8%,#72bf80 47.3%,#26b5a9 52.7%,#07aac1 58.2%,#079cd0 63.1%,#1484d4 68.6%,#0a72de 74%,#066edf"></i><i style="--g:#fec13a,#fbbc40 21%,#edb94c 35.9%,#e0ba52 38.4%,#98bf70 45.8%,#27b6a8 53.7%,#08aac1 59.2%,#079cd0 64.1%,#1485d4 69.1%,#0a72de 74.5%,#066edf"></i><i style="--g:#fec13a,#fcbd40 19.6%,#eeb94b 35.4%,#dbba55 38.4%,#92bf73 45.8%,#27b5a8 53.2%,#08aac0 58.7%,#079dcf 63.6%,#1484d4 69.1%,#0a72de 74%,#066edf"></i><i style="--g:#fec13a,#fbbc40 21%,#edb94c 35.9%,#d0bb5a 40.3%,#99bf70 45.8%,#2eb7a4 53.2%,#15b1b4 56.2%,#08aac0 59.2%,#079ccf 64.1%,#1483d4 69.6%,#0b73dd 74%,#066edf"></i><i style="--g:#fec13a,#f8bb44 25.5%,#e2b952 36.4%,#c1bc60 41.8%,#7cbf7b 47.8%,#2cb6a5 53.7%,#15b0b5 56.2%,#08aac1 59.2%,#079cd0 64.1%,#1485d4 69.1%,#0972de 75.5%,#066edf"></i><i style="--g:#fec13a,#fcbd3f 16.6%,#efb94b 30%,#aabe69 40.3%,#8fbf74 42.8%,#3cba9c 48.8%,#18b1b3 53.2%,#08aac0 56.2%,#079dcf 61.1%,#1484d4 67.1%,#0e76dc 71%,#066edf"></i><i style="--g:#fec13a,#fbbc40 17.6%,#edb94c 30%,#b7bd64 37.9%,#8abf76 42.3%,#36b99f 48.3%,#0aacbe 54.7%,#079ccf 60.6%,#1485d4 66.1%,#0c74dd 71%,#066edf"></i><i style="--g:#fec13a,#f8ba44 24%,#e5b950 33.9%,#d6ba57 36.9%,#a7be6a 41.8%,#71bf80 46.3%,#28b6a8 51.7%,#09abbf 56.7%,#079dcf 62.1%,#1485d4 67.6%,#0a72de 73.5%,#066edf"></i><i style="--g:#fec13a,#fbbd40 19.6%,#eeb94b 33.9%,#cabb5c 39.9%,#a3be6c 43.8%,#71bf80 47.8%,#42bb98 50.7%,#25b5a9 53.2%,#07a9c2 58.7%,#079dcf 63.1%,#1484d4 68.6%,#0a72de 74%,#066edf"></i><i style="--g:#fec13a,#fabc42 23%,#ecb94d 35.4%,#c7bc5d 41.3%,#8cbf75 46.8%,#2fb7a3 53.2%,#17b1b3 55.7%,#07aac1 59.2%,#079dcf 63.6%,#1484d4 69.1%,#0a72de 74.5%,#066edf"></i><i style="--g:#fec13a,#fcbd40 19.6%,#efb94b 35.4%,#d1bb59 39.9%,#9abf6f 45.3%,#2eb7a4 52.7%,#15b0b5 55.7%,#08aac1 58.7%,#079cd0 63.6%,#1485d4 68.6%,#0b74dd 73%,#066edf"></i><i style="--g:#fec13a,#fabc41 21.5%,#ecb94c 35.4%,#ccbb5b 39.4%,#8fbf73 45.3%,#24b5aa 52.7%,#07aac2 58.2%,#079dcf 62.6%,#1484d4 68.1%,#0a72de 73%,#066edf"></i><i style="--g:#fec13a,#fbbd40 20%,#efb94b 34.9%,#b5bd64 43.3%,#8ebf74 46.8%,#35b8a0 52.7%,#16b1b4 56.2%,#07aac2 59.2%,#079cd0 63.6%,#1485d4 68.6%,#0b74dd 73.5%,#066edf"></i><i style="--g:#fec13a,#fcbd3f 18.6%,#f1b94a 34.9%,#c7bc5d 43.3%,#9abf6f 47.3%,#56bd8d 51.7%,#2bb6a6 55.2%,#13b0b6 57.7%,#07aac1 60.1%,#079cd0 64.6%,#1484d4 69.6%,#0971de 75.5%,#066edf"></i><i style="--g:#fec13a,#f8ba44 25%,#e6b950 34.9%,#a9be69 43.3%,#35b8a0 51.7%,#13b0b6 55.7%,#07aac1 58.2%,#079dcf 62.6%,#1485d4 67.6%,#0d75dc 72.5%,#066edf"></i><i style="--g:#fec13a,#fbbc41 18.1%,#edb94c 30.4%,#cbbb5b 35.4%,#91bf73 41.3%,#2fb7a3 48.3%,#09abbf 54.2%,#079dcf 59.7%,#1483d4 65.6%,#0b74dd 70%,#066edf"></i><i style="--g:#fec13a,#f9bb43 20%,#eab94e 30%,#8abf76 40.3%,#24b5aa 47.8%,#09acbe 52.7%,#079ccf 58.7%,#1485d4 64.1%,#0a72de 69.6%,#066edf"></i><i style="--g:#fec13a,#fcbd3f 16.1%,#f0b94a 28.5%,#a3be6c 40.3%,#55bd8d 47.8%,#17b1b3 55.7%,#07a9c2 58.7%,#079cd0 62.1%,#1484d4 67.1%,#0971de 76%,#066edf"></i><i style="--g:#fec13a,#fcbd3f 18.1%,#f1b949 30%,#c2bc5f 40.3%,#80bf7a 51.7%,#2db7a4 57.7%,#07aac1 61.6%,#079cd0 65.1%,#1485d4 69.6%,#0972de 76%,#066edf"></i><i style="--g:#fec13a,#fabc41 19.6%,#edb94c 30%,#a6be6a 40.3%,#6dbf82 45.8%,#1cb2b0 55.2%,#07aac1 58.7%,#079cd0 62.1%,#1484d4 67.1%,#0971de 76%,#066edf"></i><i style="--g:#fec13a,#fbbc41 17.1%,#edb94c 28.5%,#d2bb59 32.9%,#9bbf6f 38.9%,#26b5a9 47.8%,#09abbf 52.7%,#079dcf 58.2%,#1484d4 64.1%,#0a73de 69.6%,#066edf"></i><i style="--g:#fec13a,#fbbc41 18.1%,#edb94c 28.5%,#d7ba56 32.9%,#c2bc5f 35.4%,#90bf73 40.3%,#31b8a2 47.3%,#16b1b3 50.2%,#09abbf 53.2%,#079dcf 58.7%,#1485d4 64.1%,#0972de 70.5%,#066edf"></i><i style="--g:#fec13a,#f9bb44 19.1%,#e7b94f 27.5%,#c3bc5f 32.9%,#a3be6c 36.4%,#2cb7a5 45.8%,#09acbe 51.2%,#079cd0 57.2%,#1485d4 62.6%,#0c74dd 68.1%,#066edf"></i><i style="--g:#fec13a,#f9bb44 18.1%,#f1b94a 23.5%,#e1b952 27%,#d2bb59 29.5%,#92bf72 36.4%,#2bb6a5 44.3%,#0aacbe 49.8%,#079dcf 55.7%,#1484d4 61.6%,#0a72de 68.1%,#066edf"></i><i style="--g:#fec13a,#f8ba44 19.6%,#e2b951 29%,#9cbf6e 36.9%,#6cbf82 40.8%,#24b5aa 46.3%,#09abbf 51.2%,#079ecf 56.7%,#1484d4 62.6%,#0972de 68.6%,#066edf"></i><i style="--g:#fec13a,#fabc41 17.6%,#ecb94c 29%,#89bf76 39.9%,#27b5a8 46.8%,#09abbf 52.2%,#079dcf 57.7%,#1483d4 63.6%,#0a72de 68.6%,#066edf"></i><i style="--g:#fec13a,#fabc41 18.1%,#ecb94d 29.5%,#87bf77 40.3%,#24b5aa 47.3%,#09acbe 52.2%,#079cd0 58.2%,#1484d4 63.6%,#0972de 69.1%,#066edf"></i><i style="--g:#fec13a,#f9bb43 20%,#e9b94e 29.5%,#8dbf74 39.4%,#27b5a8 46.8%,#0aacbe 51.7%,#079dcf 57.7%,#1485d4 63.1%,#0a72de 68.6%,#066edf"></i><i style="--g:#fec13a,#f8bb44 18.1%,#e0ba52 27.5%,#9cbf6e 35.4%,#23b4ab 45.3%,#0aacbe 49.8%,#079dcf 55.7%,#1484d4 61.6%,#0a73de 67.6%,#066edf"></i><i style="--g:#fec13a,#fcbd3f 11.6%,#efb94b 21%,#b0bd66 30%,#8abf76 33.9%,#34b8a0 40.3%,#0aacbd 46.8%,#079ccf 53.2%,#1485d4 59.2%,#0d75dc 64.1%,#066edf"></i><i style="--g:#fec13a,#fbbd40 12.1%,#edb94c 21%,#cebb5a 25.5%,#90bf73 32.4%,#2ab6a6 40.3%,#09acbe 46.3%,#079ecf 52.2%,#1484d4 58.7%,#0b73dd 64.1%,#066edf"></i><i style="--g:#fec13a,#f8ba44 16.1%,#e5b950 23.5%,#90bf73 33.4%,#2ab6a7 41.3%,#09abbf 47.3%,#079dcf 53.2%,#1485d4 59.2%,#0972de 65.6%,#066edf"></i><i style="--g:#fec13a,#fabc42 14.6%,#eab94d 23%,#87bf77 34.4%,#2ab6a6 41.3%,#09abbe 47.3%,#079dcf 53.2%,#1483d4 59.7%,#0a72de 65.1%,#066edf"></i><i style="--g:#fec13a,#f9bb44 15.6%,#e7b94f 23%,#8dbf74 33.4%,#27b5a8 41.3%,#09acbe 46.8%,#079cd0 53.2%,#1484d4 59.2%,#0972de 65.1%,#066edf"></i><i style="--g:#fec13a,#f8bb44 15.6%,#e5b950 23%,#8bbf75 33.4%,#2eb7a4 40.3%,#1eb3ae 42.3%,#09abbf 46.8%,#079dcf 52.7%,#1485d4 58.7%,#0972de 65.1%,#066edf"></i><i style="--g:#fec13a,#f9bb43 15.1%,#e9b94e 23%,#90bf73 33.4%,#25b5aa 41.8%,#09abbf 47.3%,#079dcf 53.2%,#1485d4 59.2%,#0a72de 65.1%,#066edf"></i><i style="--g:#fec13a,#fbbc41 14.1%,#edb94c 23.5%,#d0bb5a 28%,#90bf73 34.9%,#2eb7a4 42.3%,#0aacbe 48.3%,#079dcf 54.2%,#1485d4 60.1%,#0b74dd 65.6%,#066edf"></i><i style="--g:#fec13a,#f8ba44 18.1%,#f1b94a 23%,#dcba54 27.5%,#90bf73 35.9%,#2fb7a3 43.3%,#19b2b1 45.8%,#09abbe 49.3%,#079dcf 55.2%,#1484d4 61.1%,#0972de 67.6%,#066edf"></i><i style="--g:#fec13a,#fbbd40 13.6%,#eeb94c 23.5%,#d1bb59 28%,#92bf73 34.9%,#2eb7a4 42.3%,#0aacbe 48.3%,#079ecf 54.2%,#1483d4 60.6%,#0b74dd 65.6%,#066edf"></i><i style="--g:#fec13a,#fbbc40 13.6%,#edb94c 23.5%,#8cbf75 34.9%,#29b6a7 42.3%,#09abbf 48.3%,#079ccf 54.2%,#1484d4 60.1%,#0a72de 65.6%,#066edf"></i><i style="--g:#fec13a,#f9bb43 16.6%,#e9b94e 25%,#88bf76 35.9%,#25b5aa 43.3%,#09abbf 48.8%,#079ccf 54.7%,#1484d4 60.6%,#0a72de 66.1%,#066edf"></i><i style="--g:#fec13a,#fabb42 16.1%,#eab94d 25%,#89bf76 35.9%,#26b5a9 43.3%,#09abbf 48.8%,#079dcf 54.7%,#1484d4 60.6%,#0a72de 66.1%,#066edf"></i><i style="--g:#fec13a,#fbbc40 14.6%,#edb94c 25%,#d6ba57 28.5%,#93bf72 35.9%,#2eb7a4 43.3%,#0aacbe 49.3%,#079dcf 55.2%,#1484d4 61.1%,#0a73dd 66.6%,#066edf"></i><i style="--g:#fec13a,#f8bb44 20%,#e7b94f 28.5%,#c9bc5d 32.9%,#9fbe6d 37.4%,#2ab6a6 46.3%,#09abbf 51.7%,#079dcf 57.2%,#1483d4 63.1%,#0b74dd 68.1%,#066edf"></i><i style="--g:#fec13a,#f8bb44 22%,#e7b94f 31.4%,#dbba55 33.4%,#98bf70 40.3%,#25b5aa 48.8%,#07aac1 54.2%,#079cd0 59.2%,#1483d5 64.6%,#0972de 70%,#066edf"></i><i style="--g:#fec13a,#f8ba44 21.5%,#e2b951 31.4%,#9abf6f 39.4%,#24b5aa 48.3%,#09acbe 52.7%,#079dcf 58.2%,#1483d4 64.1%,#0a72de 69.6%,#066edf"></i><i style="--g:#fec13a,#f9bb44 19.6%,#eab94e 27.5%,#d4bb58 31.4%,#b5bd64 34.9%,#8dbf75 38.9%,#34b8a0 45.3%,#1cb3af 47.8%,#0aacbe 51.2%,#079dcf 57.2%,#1483d5 63.1%,#0972de 69.1%,#066edf"></i><i style="--g:#fec13a,#f8bb44 20.5%,#e5b950 30%,#9abf6f 38.4%,#6fbf81 41.8%,#47bb95 44.3%,#24b5aa 47.3%,#09abbf 52.2%,#079dcf 57.7%,#1485d4 63.1%,#0972de 69.1%,#066edf"></i><i style="--g:#fec13a,#f8ba44 20%,#e0ba52 30%,#97bf70 37.9%,#25b5aa 46.8%,#0aacbe 51.2%,#079dcf 57.2%,#1483d5 63.1%,#0972de 69.1%,#066edf"></i><i style="--g:#fec13a,#fabc42 15.1%,#ecb94d 23.5%,#b5bd64 31.4%,#89bf76 35.9%,#32b8a1 42.3%,#09abbf 48.8%,#079ccf 54.7%,#1484d4 60.6%,#0c75dd 65.6%,#066edf"></i><i style="--g:#fec13a,#f8bb44 16.1%,#e6b950 23.5%,#87bf77 34.4%,#2fb7a3 40.8%,#1bb2b0 43.3%,#09abbf 47.3%,#079dcf 53.2%,#1485d4 59.2%,#0972de 65.6%,#066edf"></i><i style="--g:#fec13a,#f9bb43 16.1%,#e9b94e 24%,#92bf72 34.4%,#26b5a9 42.8%,#09abbf 48.3%,#079dcf 54.2%,#1484d4 60.1%,#0a72de 66.1%,#066edf"></i><i style="--g:#fec13a,#f8ba44 17.1%,#e2b952 25.5%,#94bf72 34.4%,#29b6a7 42.8%,#09acbe 48.3%,#079dcf 54.2%,#1485d4 60.1%,#0972de 66.6%,#066edf"></i><i style="--g:#fec13a,#f8ba44 16.1%,#f0b94a 21%,#e4b951 23.5%,#92bf72 33.4%,#2db7a4 41.3%,#09acbe 47.3%,#079dcf 53.2%,#1483d4 59.7%,#0a73de 65.6%,#066edf"></i><i style="--g:#fec13a,#f9bb44 15.6%,#f0b94a 21%,#e4b950 23.5%,#8abf76 33.9%,#2eb7a4 40.8%,#0aacbe 46.8%,#079dcf 53.2%,#1484d4 59.2%,#0972de 65.6%,#066edf"></i><i style="--g:#fec13a,#f9bb43 14.6%,#e9b94e 21.5%,#94bf72 31.9%,#2ab6a6 40.3%,#09abbf 46.3%,#079dcf 52.2%,#1484d4 58.7%,#0b73dd 64.1%,#066edf"></i><i style="--g:#fec13a,#f9bb44 14.6%,#e5b950 21.5%,#c8bc5d 26%,#93bf72 31.9%,#2bb6a6 40.3%,#09abbf 46.3%,#079dcf 52.2%,#1485d4 58.2%,#0c74dd 64.1%,#066edf"></i><i style="--g:#fec13a,#f8ba44 17.1%,#dfba53 26%,#9cbf6f 33.9%,#24b5aa 43.8%,#09abbf 48.8%,#079cd0 54.7%,#1484d4 60.6%,#0972de 67.1%,#066edf"></i><i style="--g:#fec13a,#f8ba44 18.6%,#f1b94a 24%,#e3b951 27.5%,#92bf72 36.4%,#29b6a7 44.3%,#09acbe 49.8%,#079dcf 55.7%,#1484d4 61.6%,#0972de 67.6%,#066edf"></i><i style="--g:#fec13a,#fbbc41 14.6%,#edb94c 24%,#d6ba57 27.5%,#93bf72 34.9%,#2bb6a5 42.8%,#09abbf 48.8%,#079dcf 54.7%,#1484d4 60.6%,#0b73dd 66.1%,#066edf"></i><i style="--g:#fec13a,#f9bb43 15.6%,#eab94e 24%,#85bf78 35.4%,#28b6a8 42.3%,#0aacbe 47.8%,#079cd0 54.2%,#1484d4 60.1%,#0a72de 65.6%,#066edf"></i><i style="--g:#fec13a,#fabc42 15.6%,#ecb94d 24.5%,#d5ba57 28%,#92bf72 35.4%,#2ab6a6 43.3%,#0aacbe 48.8%,#079ecf 54.7%,#1485d4 60.6%,#0b73dd 66.1%,#066edf"></i><i style="--g:#fec13a,#f9bb44 19.6%,#e8b94f 28%,#c7bc5d 32.9%,#a2be6c 36.9%,#2db7a4 45.8%,#0aacbe 51.2%,#079ccf 57.2%,#1485d4 62.6%,#0b74dd 68.1%,#066edf"></i><i style="--g:#fec13a,#f8bb44 22%,#e4b951 32.4%,#9abf6f 40.3%,#6ebf81 43.8%,#47bb95 46.3%,#22b4ab 49.3%,#08aac1 54.2%,#079dcf 59.2%,#1484d4 64.6%,#0972de 70%,#066edf"></i><i style="--g:#fec13a,#f8bb44 22%,#e3b951 32.4%,#98bf70 40.3%,#20b4ad 49.3%,#07aac1 54.2%,#079cd0 59.2%,#1484d4 64.6%,#0972de 70%,#066edf"></i><i style="--g:#fec13a,#f9bb43 18.6%,#eab94d 27.5%,#cabb5c 32.4%,#9bbf6f 37.4%,#2cb7a5 45.8%,#09acbe 51.2%,#079cd0 57.2%,#1485d4 62.6%,#0b73dd 68.1%,#066edf"></i><i style="--g:#fec13a,#f9bb44 18.6%,#f0b94a 25%,#e4b950 27.5%,#8cbf75 37.4%,#2db7a4 44.3%,#19b2b1 46.8%,#09abbf 50.2%,#079cd0 56.2%,#1485d4 61.6%,#0a72de 67.6%,#066edf"></i><i style="--g:#fec13a,#f8ba44 19.1%,#f1b949 24%,#e0ba52 28%,#92bf73 36.9%,#2fb7a3 44.3%,#19b2b1 46.8%,#09abbf 50.2%,#079cd0 56.2%,#1485d4 61.6%,#0972de 68.1%,#066edf"></i><i style="--g:#fec13a,#fbbd40 13.6%,#eeb94b 24%,#cebb5a 29%,#93bf72 35.4%,#30b7a3 42.8%,#16b1b4 46.3%,#09abbf 49.3%,#079cd0 55.2%,#1484d4 61.1%,#0b74dd 66.1%,#066edf"></i><i style="--g:#fec13a,#fbbc41 14.1%,#edb94c 24%,#8bbf75 35.4%,#28b6a8 42.8%,#0aacbe 48.3%,#079ecf 54.2%,#1483d4 60.6%,#0a73dd 65.6%,#066edf"></i><i style="--g:#fec13a,#f9bb44 17.1%,#e5b950 25.5%,#88bf77 35.9%,#2ab6a6 42.8%,#09abbf 48.8%,#079ccf 54.7%,#1484d4 60.6%,#0972de 66.6%,#066edf"></i><i style="--g:#fec13a,#fbbc41 13.6%,#edb94c 23%,#c9bc5c 28%,#8ebf74 34.4%,#2bb6a5 41.8%,#09acbe 47.8%,#079dcf 53.7%,#1483d4 60.1%,#0a73de 65.6%,#066edf"></i><i style="--g:#fec13a,#fabb42 14.6%,#eab94e 23%,#86bf77 34.4%,#29b6a7 41.3%,#09abbf 47.3%,#079dcf 53.2%,#1485d4 59.2%,#0972de 65.1%,#066edf"></i><i style="--g:#fec13a,#fbbc41 13.6%,#edb94c 23%,#d3bb58 27%,#90bf73 34.4%,#2db7a4 41.8%,#0aacbe 47.8%,#079cd0 54.2%,#1484d4 60.1%,#0b73dd 65.6%,#066edf"></i><i style="--g:#fec13a,#f8bb44 17.6%,#f0b94a 23%,#e3b951 26%,#90bf73 35.4%,#2eb7a4 42.8%,#09acbe 48.8%,#079dcf 54.7%,#1485d4 60.6%,#0972de 67.1%,#066edf"></i><i style="--g:#fec13a,#f9bb44 17.6%,#f0b94a 23.5%,#e4b950 26%,#8ebf74 35.9%,#2cb6a5 43.3%,#09abbf 49.3%,#079ccf 55.2%,#1484d4 61.1%,#0972de 67.1%,#066edf"></i><i style="--g:#fec13a,#f8bb44 18.6%,#e7b94f 27%,#94bf72 36.4%,#26b5a9 44.8%,#0aacbe 49.8%,#079dcf 55.7%,#1484d4 61.6%,#0972de 67.6%,#066edf"></i><i style="--g:#fec13a,#f9bb44 18.6%,#e5b950 27.5%,#91bf73 36.9%,#23b5ab 45.3%,#09abbf 50.2%,#079cd0 56.2%,#1485d4 61.6%,#0972de 67.6%,#066edf"></i><i style="--g:#fec13a,#f9bb44 16.6%,#e8b94f 24%,#cebb5a 28%,#9dbe6e 33.4%,#29b6a7 42.8%,#09acbe 48.3%,#079dcf 54.2%,#1485d4 60.1%,#0b73dd 66.1%,#066edf"></i><i style="--g:#fec13a,#f9bb44 15.1%,#e8b94e 22%,#c0bc60 27.5%,#89bf76 33.4%,#2db7a4 40.3%,#0aacbe 46.3%,#079dcf 52.7%,#1485d4 58.7%,#0a73dd 64.6%,#066edf"></i><i style="--g:#fec13a,#f8bb44 15.1%,#e7b94f 22%,#89bf76 32.9%,#2db7a4 39.9%,#09abbf 46.3%,#079dcf 52.2%,#1484d4 58.7%,#0972de 64.6%,#066edf"></i><i style="--g:#fec13a,#f8ba44 15.1%,#e6b950 22%,#88bf76 32.9%,#2db7a5 39.9%,#0aacbd 45.8%,#079dcf 52.2%,#1483d4 58.7%,#0972de 64.6%,#066edf"></i><i style="--g:#fec13a,#f9bb43 15.1%,#e8b94f 22.5%,#8fbf74 32.9%,#25b5aa 41.3%,#09abbf 46.8%,#079dcf 52.7%,#1484d4 59.2%,#0972de 65.1%,#066edf"></i><i style="--g:#fec13a,#fbbc41 13.6%,#ecb94c 23%,#8cbf75 34.4%,#2ab6a7 41.8%,#09abbf 47.8%,#079dcf 53.7%,#1485d4 59.7%,#0a72de 65.6%,#066edf"></i><i style="--g:#fec13a,#fabc41 15.1%,#ecb94d 24.5%,#d2bb59 28.5%,#93bf72 35.4%,#2bb6a6 43.3%,#09abbf 49.3%,#079cd0 55.2%,#1484d4 61.1%,#0b73dd 66.1%,#066edf"></i><i style="--g:#fec13a,#f8bb44 19.1%,#e6b94f 28%,#92bf72 37.4%,#23b5ab 45.8%,#09abbf 50.7%,#079cd0 56.7%,#1485d4 62.1%,#0972de 68.1%,#066edf"></i><i style="--g:#fec13a,#fdbd3e 14.6%,#f1b94a 28%,#a0be6d 39.9%,#39b99d 48.8%,#07aac1 55.7%,#079dcf 59.7%,#1484d4 65.1%,#0972de 73%,#066edf"></i><i style="--g:#fec13a,#f7ba45 28%,#cabb5c 43.8%,#bfbc60 45.3%,#8ebf74 49.3%,#5cbe8a 52.7%,#17b1b3 57.2%,#07a9c2 60.1%,#079bd0 64.1%,#1485d4 68.1%,#0972de 73.5%,#066edf"></i><i style="--g:#fec13a,#f8ba44 30.4%,#f2b948 36.9%,#ddba54 43.8%,#9ebe6e 49.3%,#68be84 52.7%,#1eb3ae 57.2%,#08aac1 60.6%,#079cd0 64.6%,#1483d5 69.1%,#0972de 73.5%,#066edf"></i><i style="--g:#fec13a,#f9bb43 21%,#cfbb5a 36.9%,#87bf77 45.3%,#26b5a9 52.2%,#07a9c2 56.7%,#079dcf 60.6%,#1484d4 66.1%,#0c74dd 71%,#066edf"></i><i style="--g:#fec13a,#fcbd40 12.1%,#efb94b 21%,#9cbf6e 33.9%,#7fbf7a 36.9%,#3fba99 41.8%,#1cb3af 46.3%,#08aac1 50.2%,#079dcf 54.7%,#1485d4 60.6%,#1078da 64.6%,#0871de 71%,#066edf"></i><i style="--g:#fec13a,#f9bb43 14.1%,#eab94e 21%,#d1bb59 25%,#90bf73 32.4%,#2cb7a5 40.3%,#0aacbe 46.3%,#079dcf 52.7%,#1485d4 58.7%,#0b73dd 64.6%,#066edf"></i><i style="--g:#fec13a,#f8bb44 16.1%,#e2b951 24.5%,#96bf71 33.4%,#28b6a8 42.3%,#09acbe 47.8%,#079cd0 54.2%,#1484d4 60.1%,#0972de 66.6%,#066edf"></i><i style="--g:#fec13a,#fbbc41 14.1%,#ecb94c 23.5%,#86bf77 35.4%,#2ab6a7 42.3%,#09acbe 48.3%,#079ecf 54.2%,#1484d4 60.6%,#0a72de 66.1%,#066edf"></i><i style="--g:#fec13a,#fbbc41 13.6%,#ecb94d 23%,#86bf77 34.9%,#25b5aa 42.3%,#09acbe 47.8%,#079cd0 54.2%,#1484d4 60.1%,#0972de 66.1%,#066edf"></i><i style="--g:#fec13a,#fabc41 14.1%,#ebb94d 23%,#86bf77 34.9%,#2ab6a6 41.8%,#0aacbe 47.8%,#079dcf 54.2%,#1485d4 60.1%,#0a72de 66.1%,#066edf"></i><i style="--g:#fec13a,#fabb42 15.1%,#eab94e 23.5%,#89bf76 34.9%,#28b6a8 42.3%,#09abbf 48.3%,#079dcf 54.2%,#1484d4 60.6%,#0972de 66.6%,#066edf"></i><i style="--g:#fec13a,#fabb42 15.1%,#eab94d 23.5%,#8cbf75 34.9%,#2bb6a6 42.3%,#0aacbe 48.3%,#079ccf 54.7%,#1485d4 60.6%,#0a72de 66.6%,#066edf"></i><i style="--g:#fec13a,#f9bb44 16.1%,#e2b952 24.5%,#93bf72 33.9%,#2ab6a6 42.3%,#09abbf 48.3%,#079dcf 54.2%,#1484d4 60.6%,#0972de 67.1%,#066edf"></i><i style="--g:#fec13a,#f8bb44 16.6%,#f2b949 20.5%,#e0ba52 24.5%,#a4be6b 33.9%,#36b99f 43.3%,#14b0b5 47.8%,#07aac2 50.7%,#079cd0 55.7%,#1484d4 61.6%,#0d75dc 67.6%,#066edf"></i><i style="--g:#fec13a,#f6ba46 20%,#bfbc60 33.4%,#aebe67 35.9%,#2bb6a5 47.3%,#0aacbe 51.7%,#079ecf 57.2%,#1485d4 63.1%,#0971de 71%,#066edf"></i><i style="--g:#fec13a,#fabb42 15.1%,#ebb94d 22.5%,#9abf6f 34.9%,#3cba9b 42.3%,#17b1b3 47.3%,#07a9c2 50.7%,#079cd0 55.7%,#1484d4 61.6%,#0e77db 66.1%,#066edf"></i><i style="--g:#fec13a,#f8ba44 15.1%,#f0b94a 19.6%,#e2b952 22.5%,#8cbf75 32.9%,#2eb7a4 40.3%,#1bb2b0 42.8%,#09acbe 46.8%,#079dcf 53.2%,#1484d4 59.7%,#0a72de 66.1%,#066edf"></i><i style="--g:#fec13a,#f8ba44 15.6%,#e4b951 23%,#92bf72 32.9%,#2bb6a6 41.3%,#0aacbe 47.3%,#079dcf 53.7%,#1484d4 60.1%,#0972de 66.6%,#066edf"></i><i style="--g:#fec13a,#f9bb44 15.6%,#e8b94f 23%,#89bf76 34.4%,#2fb7a3 41.3%,#0aacbe 47.8%,#079dcf 54.2%,#1484d4 60.6%,#0972de 67.1%,#066edf"></i><i style="--g:#fec13a,#f8bb44 16.1%,#e7b94f 23.5%,#8dbf75 34.4%,#29b6a7 42.3%,#09abbe 48.3%,#079ccf 54.7%,#1485d4 60.6%,#0972de 67.1%,#066edf"></i><i style="--g:#fec13a,#f9bb44 16.1%,#e6b94f 24%,#86bf77 35.4%,#2cb7a5 42.3%,#0aacbd 48.3%,#079dcf 54.7%,#1484d4 61.1%,#0972de 67.6%,#066edf"></i><i style="--g:#fec13a,#f9bb43 16.6%,#e9b94e 24.5%,#90bf73 35.4%,#27b5a8 43.8%,#0aacbe 49.3%,#079dcf 55.7%,#1484d4 62.1%,#0972de 68.1%,#066edf"></i><i style="--g:#fec13a,#f8ba44 17.1%,#e3b951 25.5%,#94bf72 34.9%,#28b6a8 43.8%,#0aacbe 49.3%,#079dcf 55.7%,#1484d4 62.1%,#0972de 68.6%,#066edf"></i><i style="--g:#fec13a,#fabc41 13.1%,#ecb94d 21%,#cdbb5b 26%,#97bf71 32.4%,#2cb6a5 41.3%,#0aacbe 47.3%,#079dcf 53.7%,#1485d4 60.1%,#0b74dd 66.1%,#066edf"></i><i style="--g:#fec13a,#f9bb44 14.1%,#e6b950 21%,#89bf76 32.4%,#2cb6a5 39.9%,#09abbe 46.3%,#079dcf 52.7%,#1485d4 59.2%,#0a72de 65.6%,#066edf"></i><i style="--g:#fec13a,#f9bb43 13.6%,#eab94e 21%,#8ebf74 32.4%,#23b4ab 41.3%,#09acbe 46.8%,#079dcf 53.2%,#1485d4 59.7%,#0972de 66.1%,#066edf"></i><i style="--g:#fec13a,#f9bb43 13.6%,#eab94e 21%,#8ebf74 32.4%,#23b4ab 41.3%,#09acbe 46.8%,#079dcf 53.2%,#1485d4 59.7%,#0972de 66.1%,#066edf"></i><i style="--g:#fec13a,#fabc42 12.1%,#ebb94d 19.1%,#8fbf74 30.9%,#2ab6a7 39.4%,#0aacbd 45.3%,#079dcf 52.2%,#1485d4 58.7%,#0b73dd 64.6%,#066edf"></i><i style="--g:#fec13a,#f8bb44 13.1%,#e8b94e 19.1%,#8abf76 30.9%,#2eb7a4 38.4%,#0aacbd 44.8%,#079dcf 51.7%,#1485d4 58.2%,#0a72de 64.6%,#066edf"></i><i style="--g:#fec13a,#f8bb44 12.6%,#e0ba52 20%,#95bf71 29.5%,#2db7a4 38.4%,#1ab2b1 40.8%,#0aacbe 44.8%,#079cd0 51.7%,#1484d4 58.2%,#0972de 65.6%,#066edf"></i><i style="--g:#fec13a,#f8ba44 12.1%,#e2b952 18.6%,#91bf73 29%,#2fb7a3 37.4%,#0aacbe 43.8%,#079dcf 50.7%,#1485d4 57.2%,#0a72de 64.6%,#066edf"></i><i style="--g:#fec13a,#f9bb43 12.1%,#e8b94f 18.6%,#92bf72 29.5%,#22b4ac 39.4%,#09abbf 44.8%,#079dcf 51.2%,#1484d4 58.2%,#0a72de 64.6%,#066edf"></i><i style="--g:#fec13a,#fabc42 12.1%,#ebb94d 19.6%,#87bf77 32.4%,#2cb7a5 39.9%,#09abbe 46.3%,#079dcf 52.7%,#1485d4 59.2%,#0972de 65.6%,#066edf"></i><i style="--g:#fec13a,#f9bb44 12.1%,#e2b951 20%,#92bf72 31.4%,#69be84 35.4%,#2cb7a5 40.3%,#09acbe 45.8%,#079dcf 51.7%,#1484d4 58.7%,#0972de 65.6%,#066edf"></i><i style="--g:#fec03b,#f5ba47 9.7%,#cbbb5c 20%,#99bf6f 28%,#7cbf7c 31.4%,#24b5aa 38.9%,#08aac1 43.3%,#079dcf 48.3%,#1485d4 54.7%,#0d75dc 61.6%,#066edf"></i><i style="--g:#fec03b,#f3ba48 7.2%,#9bbf6f 24.5%,#84bf78 28%,#6fbf81 30%,#24b5aa 36.4%,#07aac2 40.3%,#079cd0 44.8%,#1485d4 51.2%,#0d75dc 57.2%,#066edf"></i><i style="--g:#fec03b,#f5ba47 6.2%,#91bf73 25%,#79bf7d 28.5%,#1db3af 36.4%,#07a9c3 39.9%,#079dcf 43.3%,#1485d4 50.2%,#0972de 57.2%,#066edf"></i><i style="--g:#fec03b,#f4ba47 6.7%,#91bf73 25.5%,#6bbf83 30%,#26b5a9 35.9%,#08aac1 39.9%,#079dcf 43.8%,#1485d4 50.7%,#0b73dd 57.2%,#066edf"></i><i style="--g:#fec03b,#f4ba47 7.2%,#92bf73 26%,#74bf7f 30%,#23b4ab 36.9%,#07aac2 40.8%,#079ccf 44.8%,#1484d4 51.7%,#0972de 59.2%,#066edf"></i><i style="--g:#fec13a,#f5ba46 7.2%,#93bf72 26%,#70bf81 30.4%,#2fb7a3 35.9%,#08aac1 40.8%,#079dcf 44.8%,#1484d4 52.2%,#0972de 59.2%,#066edf"></i><i style="--g:#fec03b,#f4ba48 7.2%,#92bf72 25.5%,#6fbf81 30%,#2eb7a4 35.4%,#08aac1 40.3%,#079dcf 44.3%,#1485d4 51.2%,#0972de 58.7%,#066edf"></i><i style="--g:#febf3c,#f4ba48 6.7%,#92bf73 25%,#78bf7d 28.5%,#22b4ab 35.9%,#07aac2 39.9%,#079dcf 43.8%,#1484d4 50.7%,#0a73de 57.7%,#066edf"></i><i style="--g:#febf3d,#f3b948 6.7%,#92bf72 24.5%,#74bf7f 28.5%,#23b4ab 35.4%,#07aac1 39.4%,#079dcf 43.3%,#1485d4 50.2%,#0972de 57.7%,#066edf"></i><i style="--g:#fdbe3d,#f2b948 6.7%,#92bf72 24.5%,#73bf80 28.5%,#22b4ab 35.4%,#07aac1 39.4%,#079dcf 43.3%,#1485d4 50.2%,#0a72de 57.7%,#066edf"></i><i style="--g:#febf3c,#f3b948 7.2%,#9cbf6f 23.5%,#74bf7f 29%,#28b6a7 35.4%,#07a9c3 40.3%,#079ccf 44.3%,#1484d4 51.2%,#0972de 58.7%,#066edf"></i><i style="--g:#fec13a,#f4ba47 7.2%,#9bbf6f 24%,#79bf7d 29%,#2cb7a5 35.4%,#08aac0 40.3%,#079ccf 44.8%,#1484d4 51.7%,#0972de 58.7%,#066edf"></i><i style="--g:#fec13a,#f5ba46 6.7%,#9bbf6f 23.5%,#72bf80 29%,#2bb6a6 34.9%,#08aac1 39.9%,#079cd0 44.3%,#1484d4 51.2%,#0a72de 57.7%,#066edf"></i><i style="--g:#fec13a,#f6ba45 6.2%,#9bbf6f 23%,#7ebf7b 27.5%,#1eb3ae 35.9%,#07a9c3 39.9%,#079dcf 43.8%,#1484d4 50.7%,#0a72de 57.2%,#066edf"></i><i style="--g:#fec03b,#f6ba46 6.2%,#9abf6f 23%,#7bbf7c 27.5%,#24b5aa 34.9%,#07aac1 39.4%,#079dcf 43.3%,#1484d4 50.7%,#0972de 57.2%,#066edf"></i><i style="--g:#febf3c,#f5ba47 6.2%,#9cbf6e 22.5%,#79bf7d 27.5%,#23b4ab 34.9%,#07a9c2 39.4%,#079dcf 43.3%,#1485d4 50.2%,#0a72de 57.2%,#066edf"></i><i style="--g:#fec03b,#f4ba47 6.7%,#9abf6f 23%,#7bbf7c 27.5%,#25b5aa 34.9%,#08aac1 39.4%,#079dcf 43.8%,#1485d4 50.7%,#0972de 57.7%,#066edf"></i><i style="--g:#fec13a,#f6ba46 6.7%,#9cbf6f 23.5%,#7dbf7b 28%,#23b4ab 35.9%,#07aac1 40.3%,#079dcf 44.8%,#1484d4 51.7%,#0b74dd 57.7%,#066edf"></i><i style="--g:#fec13a,#f2b949 8.7%,#a6be6a 23%,#75bf7e 30%,#25b5a9 36.9%,#07a9c2 41.8%,#079cd0 46.3%,#1484d4 53.2%,#0972de 60.6%,#066edf"></i><i style="--g:#fec03a,#f2b949 8.7%,#a6be6b 23%,#74bf7f 30%,#25b5aa 36.9%,#07a9c2 41.8%,#079cd0 46.3%,#1484d4 53.2%,#0972de 60.6%,#066edf"></i><i style="--g:#fec03b,#f4ba47 7.2%,#a5be6b 22%,#71bf80 29%,#2cb7a5 34.9%,#08aac1 40.3%,#079cd0 45.3%,#1484d4 52.2%,#0a72de 59.7%,#066edf"></i><i style="--g:#fec03a,#f4ba47 8.2%,#afbe67 22%,#7fbf7a 29%,#2eb7a4 36.4%,#07a9c2 42.3%,#079dcf 46.8%,#1484d4 53.7%,#0d75dc 59.7%,#066edf"></i><i style="--g:#fec13a,#f8ba44 9.7%,#d8ba56 19.1%,#a2be6c 28.5%,#72bf80 34.4%,#26b5a9 41.3%,#07aac1 46.3%,#079dcf 50.7%,#1484d4 57.7%,#0b73dd 65.1%,#066edf"></i><i style="--g:#fec13a,#f8ba44 9.7%,#dbba55 19.1%,#abbe68 27.5%,#74bf7f 34.4%,#25b5a9 41.8%,#07aac1 46.8%,#079dcf 51.2%,#1484d4 58.2%,#0972de 66.6%,#066edf"></i><i style="--g:#fec13a,#f7ba45 7.2%,#b7bd64 21%,#85bf78 28.5%,#38b99e 35.4%,#14b0b5 39.9%,#07a9c2 42.8%,#079cd0 47.8%,#1485d4 53.7%,#0f78db 58.7%,#066edf"></i><i style="--g:#fdbe3d,#f3ba48 6.7%,#a2be6c 21%,#71bf80 27.5%,#22b4ab 34.4%,#08aac0 38.9%,#079cd0 43.8%,#1484d4 50.7%,#0972de 58.2%,#066edf"></i><i style="--g:#f9bb43,#f0b94a 6.2%,#a3be6c 19.6%,#80bf7a 24.5%,#26b5a9 32.4%,#08aac1 37.4%,#079cd0 42.3%,#1485d4 48.8%,#0b73dd 55.7%,#066edf"></i><i style="--g:#f9bb44,#ecb94c 6.7%,#a4be6b 19.1%,#79bf7d 25%,#26b5a9 31.9%,#07a9c2 37.4%,#079dcf 41.8%,#1484d4 48.8%,#0972de 55.7%,#066edf"></i><i style="--g:#fbbc41,#eeb94b 6.7%,#a6be6a 19.1%,#7cbf7b 25%,#25b5a9 32.4%,#07a9c2 37.9%,#079dcf 42.3%,#1485d4 49.3%,#0a73de 55.7%,#066edf"></i><i style="--g:#fdbe3e,#f1b94a 6.7%,#a6be6a 19.6%,#7bbf7c 25.5%,#25b5aa 32.9%,#07aac2 38.4%,#079cd0 43.3%,#1484d4 50.2%,#0972de 57.2%,#066edf"></i><i style="--g:#febf3c,#f5ba47 6.2%,#a8be6a 19.6%,#7ebf7b 25.5%,#27b6a8 32.9%,#07a9c2 38.9%,#079cd0 43.8%,#1484d4 50.7%,#0a72de 57.2%,#066edf"></i><i style="--g:#fec03b,#f6ba46 6.2%,#acbe68 19.1%,#7fbf7a 25.5%,#24b5aa 33.4%,#08aac1 38.9%,#079dcf 43.8%,#1484d4 51.2%,#0a72de 57.7%,#066edf"></i><i style="--g:#fec03b,#f6ba46 6.7%,#afbe67 19.1%,#7abf7c 26.5%,#25b5a9 33.9%,#09acbe 38.9%,#079dcf 44.8%,#1485d4 51.7%,#0a73dd 58.7%,#066edf"></i><i style="--g:#fec03b,#f4ba48 7.2%,#afbe67 19.1%,#79bf7d 26.5%,#26b5a9 33.9%,#0aacbe 38.9%,#079dcf 44.8%,#1484d4 52.2%,#0b73dd 58.7%,#066edf"></i><i style="--g:#febf3c,#f4ba47 6.7%,#afbe67 18.6%,#82bf79 25%,#2db7a4 32.4%,#0aacbe 38.4%,#079dcf 44.3%,#1484d4 51.7%,#0b73dd 58.2%,#066edf"></i><i style="--g:#fec03b,#f6ba46 6.7%,#b8bd63 17.6%,#7bbf7c 26%,#23b4ab 33.9%,#09abbe 38.9%,#079dcf 44.8%,#1484d4 52.2%,#0b73dd 58.7%,#066edf"></i><i style="--g:#fec03b,#f6ba46 6.7%,#b8bd63 17.6%,#7bbf7c 26%,#24b5aa 33.9%,#0aacbe 38.9%,#079dcf 45.3%,#1485d4 52.2%,#0b74dd 58.7%,#066edf"></i><i style="--g:#febf3d,#f3b948 6.7%,#b5bd64 17.1%,#7fbf7a 24.5%,#2ab6a6 31.9%,#09acbe 37.9%,#079cd0 44.3%,#1484d4 51.2%,#0b73dd 57.7%,#066edf"></i><i style="--g:#fbbc40,#f1b94a 6.2%,#b5bd64 16.1%,#7ebf7b 23.5%,#24b5aa 31.4%,#09abbf 36.9%,#079dcf 42.8%,#1484d4 50.2%,#0a73dd 56.7%,#066edf"></i><i style="--g:#fabb42,#efb94a 6.2%,#b6bd64 15.6%,#7fbf7a 23%,#28b6a7 30.4%,#09abbf 36.4%,#079cd0 42.8%,#1484d4 49.8%,#0a73dd 56.2%,#066edf"></i><i style="--g:#fcbd40,#f0b94a 6.7%,#b7bd64 16.1%,#7fbf7a 23.5%,#2ab6a6 30.9%,#0aacbe 36.9%,#079cd0 43.8%,#1484d4 50.7%,#0b74dd 57.2%,#066edf"></i><i style="--g:#fec03c,#f6ba46 6.7%,#c2bc5f 15.6%,#86bf77 24%,#26b5a9 32.9%,#0aacbd 38.4%,#079dcf 45.3%,#1484d4 52.7%,#0c75dc 58.7%,#066edf"></i><i style="--g:#fec13a,#f8ba45 6.7%,#d1bb59 13.6%,#86bf77 24.5%,#25b5aa 33.4%,#09abbf 39.4%,#079cd0 46.3%,#1485d4 53.2%,#0d75dc 59.2%,#066edf"></i><i style="--g:#fdbe3e,#f5ba46 6.2%,#c6bc5d 14.1%,#89bf76 22.5%,#26b5a9 31.9%,#0aacbd 37.4%,#079dcf 44.3%,#1484d4 51.7%,#0c74dd 58.2%,#066edf"></i><i style="--g:#f6ba46,#f0b94a 5.7%,#c7bc5d 12.1%,#85bf78 21%,#2bb6a6 29%,#09abbe 35.4%,#079cd0 42.3%,#1484d4 49.3%,#0c74dd 55.2%,#066edf"></i><i style="--g:#efb94b,#edb94c 5.2%,#cbbb5c 10.6%,#83bf79 20%,#27b5a9 28%,#09acbe 33.9%,#079cd0 40.8%,#1484d4 47.8%,#0a73dd 53.7%,#0d76dc 77%,#066edf"></i><i style="--g:#f3ba48,#f1b94a 5.2%,#cbbb5b 11.1%,#88bf77 20%,#2db7a4 28%,#0aacbd 34.4%,#079dcf 41.3%,#1485d4 48.3%,#0d76dc 54.2%,#066edf"></i><i style="--g:#fcbd3f,#f7ba45 5.2%,#d2bb58 11.6%,#92bf73 20.5%,#25b5a9 30.9%,#09acbe 36.9%,#079dcf 43.8%,#1484d4 51.2%,#0d75dc 57.7%,#066edf"></i><i style="--g:#fabc41,#f7ba45 4.7%,#d2bb59 11.1%,#92bf72 19.6%,#23b5ab 30.4%,#0aacbe 35.9%,#079dcf 42.8%,#1484d4 50.2%,#0d75dc 57.2%,#066edf"></i><i style="--g:#ecb94c,#f0b94a 4.2%,#dbba55 7.7%,#8abf76 18.1%,#2eb7a4 26%,#09abbf 32.9%,#079cd0 39.9%,#1485d4 46.3%,#0e76dc 52.2%,#066edf"></i><i style="--g:#e2b952,#e7b94f 4.7%,#91bf73 15.6%,#25b5aa 25%,#0aacbe 30.4%,#079ccf 37.4%,#1484d4 43.8%,#0a72de 51.7%,#0e77db 77%,#066edf"></i><i style="--g:#deba54,#eab94d 2.7%,#e3b951 4.7%,#8dbf74 15.1%,#2db7a4 23%,#17b1b3 26%,#09abbf 29.5%,#079dcf 35.9%,#1484d4 42.3%,#0972de 51.2%,#0e77db 77%,#066edf"></i><i style="--g:#e3b951,#ebb94d 3.7%,#e1ba52 5.7%,#91bf73 15.6%,#29b6a7 24.5%,#0aacbe 30.4%,#079dcf 37.4%,#1485d4 43.8%,#0c74dd 50.7%,#0f77db 77%,#066edf"></i><i style="--g:#eeb94b,#eeb94b 4.2%,#e7b94f 6.2%,#90bf73 17.6%,#23b5ab 27.5%,#09abbe 33.4%,#079dcf 40.3%,#1485d4 47.3%,#0b73dd 54.2%,#0f77db 77%,#066edf"></i><i style="--g:#f7ba45,#f1b94a 5.7%,#dcba54 9.2%,#89bf76 20%,#2bb6a6 28.5%,#0aacbe 35.4%,#079dcf 42.8%,#1484d4 50.2%,#0d75dc 56.2%,#0f77db 77%,#066edf"></i><i style="--g:#fbbc41,#f4ba47 5.7%,#e2b952 9.2%,#8dbf74 20.5%,#31b8a2 29%,#1cb3b0 31.9%,#0aacbd 36.4%,#079dcf 44.3%,#1484d4 51.7%,#0e76dc 57.2%,#066edf"></i><i style="--g:#fbbc41,#f5ba47 5.7%,#ddba54 10.1%,#90bf73 20.5%,#31b8a2 29.5%,#17b1b3 33.4%,#0aacbd 36.9%,#079dcf 44.8%,#1484d4 52.2%,#0e77db 57.7%,#066edf"></i><i style="--g:#fdbe3d,#f9bb44 6.2%,#d8ba56 13.1%,#92bf73 22.5%,#24b5aa 33.4%,#0aacbd 39.4%,#079dcf 47.3%,#1485d4 54.7%,#1078da 60.1%,#066edf"></i><i style="--g:#fec13a,#f9bb44 7.7%,#e2b952 13.1%,#93bf72 24%,#30b7a2 33.4%,#1cb3b0 36.4%,#0aacbe 41.3%,#079dcf 49.3%,#1486d4 56.2%,#1078da 61.1%,#066edf"></i><i style="--g:#fec13a,#f8ba45 7.2%,#d9ba56 13.1%,#87bf77 24%,#2fb7a3 31.9%,#0aacbe 39.9%,#079dcf 47.8%,#1485d4 55.2%,#1079da 59.7%,#066edf"></i><i style="--g:#febf3d,#f8bb44 5.7%,#e8b94e 9.2%,#92bf72 21%,#26b5a9 31.4%,#0aacbd 37.9%,#079dcf 45.8%,#1485d4 53.2%,#0f78db 58.2%,#066edf"></i><i style="--g:#fabc42,#f3b948 5.7%,#dfba53 9.2%,#89bf76 20.5%,#2bb6a5 29%,#0aacbe 36.4%,#079ccf 44.3%,#1485d4 51.2%,#0e76dc 56.7%,#1079da 77%,#066edf"></i><i style="--g:#f4ba47,#f1b94a 4.7%,#e8b94e 6.7%,#8ebf74 18.6%,#39b99d 26%,#23b5ab 28.5%,#0aacbd 34.4%,#079dcf 42.3%,#1484d4 49.8%,#0d76dc 55.2%,#1079da 77%,#066edf"></i><i style="--g:#ecb94d,#eeb94b 4.7%,#e1b952 6.7%,#86bf77 18.1%,#2ab6a6 26%,#0aacbe 32.9%,#079dcf 40.3%,#1484d4 47.8%,#0c74dd 53.7%,#1079da 77%,#066edf"></i><i style="--g:#e8b94f,#e9b94e 5.2%,#8abf76 17.1%,#28b6a8 25.5%,#09acbe 32.4%,#079dcf 39.9%,#1484d4 46.8%,#0b73dd 52.7%,#1079da 77%,#066edf"></i><i style="--g:#ebb94d,#edb94c 4.7%,#e5b950 6.2%,#86bf77 18.1%,#2ab6a6 26%,#0aacbe 32.9%,#079ccf 40.8%,#1484d4 47.8%,#0c74dd 53.7%,#1079da 77%,#066edf"></i><i style="--g:#f3ba48,#f1b94a 4.7%,#e4b950 7.2%,#8cbf75 18.6%,#2ab6a7 27.5%,#0aacbd 34.4%,#079dcf 42.3%,#1484d4 49.8%,#0d76dc 55.2%,#1079da 77%,#066edf"></i><i style="--g:#fbbc40,#f4ba47 5.7%,#deba53 9.7%,#8fbf74 20%,#2bb6a6 29.5%,#0aacbe 36.9%,#079dcf 44.8%,#1485d4 52.2%,#0f78db 57.2%,#1079da 77%,#066edf"></i><i style="--g:#fec03b,#f8ba44 6.7%,#daba55 12.6%,#94bf71 22%,#2ab6a6 32.4%,#09acbe 39.9%,#079cd0 48.3%,#1388d3 54.2%,#1079da 60.1%,#066edf"></i><i style="--g:#fec13a,#f8ba44 8.2%,#e3b951 13.1%,#8ebf74 24.5%,#2cb7a5 33.9%,#0bacbd 41.3%,#06a0cd 48.8%,#1389d3 56.2%,#117ada 61.6%,#066edf"></i><i style="--g:#fec13a,#f9bb43 7.7%,#e7b94f 12.1%,#87bf77 25%,#2cb7a5 33.4%,#0aacbe 41.3%,#079dcf 49.8%,#1388d3 56.2%,#1079da 61.6%,#066edf"></i><i style="--g:#fec13a,#f8ba44 8.7%,#d2bb59 16.6%,#97bf70 25.5%,#3dba9b 33.9%,#09acbe 43.8%,#079ccf 51.7%,#1388d3 58.2%,#1079da 63.6%,#066edf"></i><i style="--g:#fec13a,#f8ba44 11.1%,#cfbb5a 22.5%,#93bf72 30%,#35b89f 39.4%,#17b1b3 43.8%,#0aacbd 47.3%,#079cd0 55.7%,#1486d4 62.6%,#107ada 68.1%,#066edf"></i><i style="--g:#fec13a,#f8bb44 9.2%,#e1b952 16.6%,#acbe68 25%,#29b6a7 38.9%,#0aacbd 45.3%,#079dcf 53.7%,#1487d3 60.6%,#117ada 66.6%,#066edf"></i><i style="--g:#febf3c,#f6ba46 6.7%,#c4bc5e 15.6%,#8ebf74 22.5%,#35b8a0 30.9%,#0aacbd 39.4%,#06a1cd 46.3%,#1388d3 54.2%,#117ad9 59.7%,#066edf"></i><i style="--g:#fbbc41,#f7ba45 4.2%,#e9b94e 7.7%,#8ebf74 19.6%,#29b6a7 29%,#0aacbd 36.4%,#079dcf 44.8%,#1485d4 52.2%,#0f77db 57.2%,#117ada 77%,#066edf"></i><i style="--g:#fbbc40,#f5ba46 5.2%,#e0ba52 9.2%,#88bf77 20.5%,#2bb6a6 29%,#0aacbe 36.9%,#079dcf 45.3%,#1484d4 52.7%,#0f78db 57.7%,#117ada 77%,#066edf"></i><i style="--g:#f6ba46,#f9bb44 3.2%,#dcba54 9.2%,#9cbf6e 17.1%,#2bb6a6 28.5%,#0aacbd 34.9%,#079cd0 43.3%,#1388d3 50.2%,#1079da 57.7%,#117ada 77%,#066edf"></i><i style="--g:#e7b94f,#f2b949 2.7%,#dcba54 6.7%,#9bbf6f 14.6%,#39b99d 23.5%,#1cb3af 27.5%,#09abbf 31.9%,#079dcf 38.9%,#1484d4 46.3%,#0e76dc 55.2%,#107ada 77%,#066edf"></i><i style="--g:#e6b94f,#ecb94c 2.7%,#e7b94f 5.2%,#9abf6f 14.6%,#4abc93 21.5%,#25b5aa 25.5%,#09acbe 31.9%,#079cd0 39.9%,#1484d4 46.8%,#0d75dc 53.7%,#1079da 77%,#066edf"></i><i style="--g:#edb94c,#e9b94e 5.7%,#8ebf74 17.1%,#25b5a9 26.5%,#0aacbd 33.4%,#079dcf 41.8%,#1484d4 49.3%,#0d75dc 54.7%,#1079da 77%,#066edf"></i><i style="--g:#f3ba48,#f1b94a 5.2%,#e7b94f 6.7%,#92bf72 17.6%,#2fb7a3 26.5%,#0aacbe 34.9%,#079ccf 43.3%,#1484d4 50.7%,#0e76db 55.7%,#1079da 77%,#066edf"></i><i style="--g:#f9bb44,#f4ba47 5.2%,#e3b951 8.2%,#91bf73 18.6%,#35b8a0 27%,#1db3af 30.4%,#0aacbe 35.9%,#079dcf 44.3%,#1485d4 51.7%,#0f77db 57.2%,#1079da 77%,#066edf"></i><i style="--g:#f7ba45,#f2b949 5.2%,#e7b94f 7.2%,#92bf72 18.1%,#31b8a2 27%,#1bb2b0 30.4%,#0aacbd 35.4%,#079dcf 43.8%,#1485d4 51.2%,#0e77db 56.7%,#1079da 77%,#066edf"></i><i style="--g:#fabb42,#f5ba47 5.2%,#d6ba57 10.6%,#94bf72 19.1%,#2db7a5 29%,#0aacbd 36.9%,#079cd0 45.8%,#1486d4 52.7%,#1078da 58.2%,#1079da 77%,#066edf"></i><i style="--g:#febf3c,#f8ba44 6.7%,#e5b950 11.1%,#9abf6f 21%,#47bb95 29%,#25b5aa 32.9%,#0aacbd 39.9%,#06a1cd 47.3%,#1485d4 56.7%,#1079da 61.6%,#066edf"></i><i style="--g:#fec13a,#fbbc41 6.2%,#ecb94c 10.6%,#93bf72 22.5%,#28b6a8 32.9%,#0aacbe 40.8%,#06a0cd 48.8%,#1389d3 56.2%,#1079da 62.1%,#066edf"></i><i style="--g:#febf3c,#f8ba44 6.2%,#e6b950 10.1%,#97bf70 20.5%,#42bb98 28.5%,#25b5a9 31.9%,#0bacbd 38.9%,#069ece 47.8%,#1388d3 54.7%,#1079da 60.6%,#066edf"></i><i style="--g:#fcbd3f,#f8ba44 4.7%,#e6b950 8.7%,#91bf73 19.6%,#31b8a2 28.5%,#1cb3af 31.9%,#0aacbd 37.4%,#069ece 45.8%,#1485d4 53.7%,#1078da 58.7%,#066edf"></i><i style="--g:#fdbe3e,#f8ba44 4.7%,#ebb94d 7.7%,#92bf72 19.1%,#29b6a7 29%,#0aacbd 36.9%,#069fce 45.3%,#1486d4 53.2%,#0f78db 58.7%,#066edf"></i><i style="--g:#fdbe3d,#f6ba46 6.2%,#d4bb58 12.1%,#8dbf74 21%,#32b8a1 29.5%,#0aacbd 38.4%,#06a0cd 46.3%,#1485d4 55.2%,#1079da 59.7%,#066edf"></i><i style="--g:#fcbd3f,#f7ba45 6.2%,#d5ba57 13.1%,#95bf71 21%,#39b99d 30%,#18b1b2 34.9%,#0aacbe 39.4%,#079ccf 48.3%,#1485d4 55.7%,#1079da 61.6%,#066edf"></i><i style="--g:#f7ba45,#f2b949 5.7%,#d4bb58 10.6%,#95bf71 18.6%,#38b99e 27%,#0aacbe 36.4%,#079dcf 44.8%,#1484d4 52.7%,#0f77db 58.2%,#066edf"></i><i style="--g:#ebb94d,#efb94b 3.2%,#e3b951 6.2%,#94bf72 15.6%,#44bb97 22.5%,#28b6a7 25.5%,#0aacbe 32.9%,#079dcf 41.3%,#1484d4 48.8%,#0c75dc 55.2%,#0f78db 77%,#066edf"></i><i style="--g:#e2b952,#ecb94c 3.2%,#e3b951 5.2%,#91bf73 14.6%,#2eb7a3 23%,#1cb3b0 26%,#0aacbd 30.9%,#079dcf 39.4%,#1484d4 46.8%,#0b73dd 53.7%,#0f78db 77%,#066edf"></i><i style="--g:#e1b952,#eab94d 4.2%,#90bf73 14.6%,#26b5a9 24%,#09acbe 31.4%,#079cd0 39.9%,#1484d4 46.8%,#0b73dd 53.2%,#0f78db 77%,#066edf"></i><i style="--g:#e4b950,#e9b94e 4.7%,#91bf73 15.1%,#27b5a8 24.5%,#0aacbd 31.9%,#079dcf 40.8%,#1485d4 47.8%,#0b74dd 54.2%,#0f77db 77%,#066edf"></i><i style="--g:#eeb94b,#f1b949 4.2%,#e7b94f 6.2%,#93bf72 16.6%,#31b8a2 25.5%,#0aacbe 34.4%,#079dcf 42.8%,#1484d4 50.7%,#0e77db 56.2%,#066edf"></i><i style="--g:#f8ba44,#f6ba46 4.7%,#deba53 9.2%,#96bf71 18.1%,#37b99e 27%,#1ab2b1 31.4%,#0aacbd 36.4%,#079ccf 45.8%,#1484d4 53.7%,#0f77db 59.7%,#066edf"></i><i style="--g:#f8ba44,#f3b948 5.2%,#e9b94e 7.2%,#92bf72 18.1%,#32b8a1 27%,#19b2b2 31.4%,#0aacbe 36.4%,#079dcf 45.3%,#1485d4 53.2%,#0e77db 58.7%,#066edf"></i><i style="--g:#f6ba45,#eab94d 6.7%,#92bf72 17.6%,#29b6a7 27.5%,#0aacbe 35.9%,#079ccf 45.3%,#1485d4 52.7%,#0e76dc 58.2%,#066edf"></i><i style="--g:#f9bb43,#eeb94b 7.2%,#a3be6c 19.6%,#5abd8b 28.5%,#1db3af 39.4%,#09abbf 44.3%,#079cd0 50.2%,#1389d3 56.2%,#137ed7 60.6%,#066edf"></i><i style="--g:#fabc42,#f3ba48 7.2%,#85bf78 32.9%,#37b99e 41.3%,#07aac1 48.8%,#079cd0 54.7%,#1485d4 65.1%,#0e77db 73.5%,#066edf"></i><i style="--g:#f2b948,#f0b94a 5.7%,#a6be6a 17.6%,#59bd8b 27%,#09abbf 42.8%,#079cd0 48.8%,#1389d3 54.2%,#137fd6 58.7%,#066edf"></i><i style="--g:#ecb94c,#eeb94b 4.2%,#e5b950 6.2%,#91bf73 16.1%,#2fb7a3 25%,#1db3af 28%,#0aacbe 33.9%,#079dcf 42.8%,#1485d4 50.2%,#0c74dd 57.2%,#066edf"></i><i style="--g:#f5ba46,#efb94b 6.2%,#a7be6a 18.1%,#58bd8c 28%,#0aacbe 44.3%,#079dcf 50.7%,#1482d5 60.1%,#066fdf"></i><i style="--g:#fbbc41,#f6ba46 6.7%,#9abf6f 27.5%,#82bf79 34.4%,#26b5a9 45.8%,#07aac1 51.7%,#0899d1 58.7%,#1485d4 72.5%,#0871de 86.9%,#076fdf"></i><i style="--g:#f5ba46,#f0b94a 6.2%,#a4be6b 18.6%,#5ebe89 27%,#0aacbd 44.3%,#079dcf 50.7%,#1482d5 59.2%,#066fdf"></i><i style="--g:#f5ba47,#f2b949 5.7%,#a3be6c 18.6%,#5dbe89 27%,#09abbf 45.3%,#079dcf 51.2%,#1483d5 59.2%,#066fdf"></i><i style="--g:#fabb42,#f6ba46 6.2%,#99bf6f 27.5%,#7bbf7c 36.4%,#26b5a9 46.8%,#07aac1 52.7%,#079bd0 58.2%,#1484d4 74.5%,#0870df 88.9%,#076fdf"></i><i style="--g:#fabc42,#efb94b 7.2%,#a5be6b 19.6%,#58bd8c 29.5%,#09acbe 46.3%,#079dcf 52.7%,#1389d3 58.2%,#1481d5 62.6%,#066fdf"></i><i style="--g:#f6ba45,#f5ba47 4.2%,#e6b950 7.2%,#9abf6f 16.6%,#2eb7a4 27%,#1cb3b0 30%,#0bacbd 35.4%,#079dcf 44.8%,#1484d4 52.7%,#0c75dd 60.1%,#066edf"></i><i style="--g:#f3ba48,#f6ba46 4.2%,#e4b950 7.7%,#adbe68 16.6%,#4fbc91 29%,#09acbe 41.8%,#089ad0 48.8%,#1486d3 54.7%,#127bd9 62.6%,#066edf"></i><i style="--g:#f6ba46,#f6ba46 5.2%,#85bf78 30.9%,#2cb7a5 40.8%,#07aac1 46.8%,#079ccf 52.2%,#1484d4 63.6%,#0c75dd 73%,#066edf"></i><i style="--g:#efb94b,#efb94b 5.2%,#a4be6b 17.1%,#5abd8b 26%,#0aacbe 41.3%,#079dcf 47.3%,#1388d3 53.2%,#137fd7 57.7%,#0b74dd 71%,#066edf"></i><i style="--g:#e5b950,#ecb94c 3.7%,#e6b950 5.2%,#91bf73 15.1%,#2cb7a5 24%,#0aacbe 32.4%,#079dcf 41.3%,#1484d4 48.8%,#0a72de 56.2%,#066edf"></i><i style="--g:#edb94c,#f1b94a 4.7%,#a6be6a 16.6%,#5dbe8a 25.5%,#07aac1 45.8%,#079dcf 50.7%,#1484d4 59.2%,#0a72de 80.4%,#066fdf"></i><i style="--g:#f4ba47,#f6ba46 4.7%,#9cbf6e 25%,#66be85 40.3%,#5cbe8a 42.3%,#1eb3ae 48.8%,#08aac0 52.7%,#079bd0 58.7%,#1484d4 72%,#0972de 82.9%,#066fdf"></i><i style="--g:#ecb94c,#f3b948 3.7%,#edb94c 5.2%,#a8be6a 16.1%,#57bd8d 26.5%,#08aac1 45.3%,#079bd0 50.7%,#1484d4 59.2%,#0972de 80.9%,#066fdf"></i><i style="--g:#f0b94a,#eeb94b 5.7%,#a7be6a 17.1%,#5abd8b 27%,#0aacbe 47.3%,#079ecf 52.7%,#1484d4 59.7%,#0b73dd 73.5%,#066edf"></i><i style="--g:#f7ba45,#f5ba47 5.7%,#9dbf6e 26.5%,#68be84 42.3%,#49bc94 48.8%,#1ab2b1 52.7%,#07a9c2 55.7%,#089bd0 59.7%,#1484d4 68.6%,#0a73dd 75.5%,#066edf"></i><i style="--g:#edb94c,#f3b948 4.2%,#a6be6a 16.6%,#60be88 25%,#0aacbe 46.3%,#079dcf 52.2%,#1484d4 59.7%,#0b73dd 73.5%,#066edf"></i><i style="--g:#e4b951,#e9b94e 4.7%,#95bf71 14.6%,#27b5a8 24.5%,#0aacbe 32.4%,#079dcf 41.3%,#1484d4 48.8%,#0972de 55.7%,#066edf"></i><i style="--g:#e2b951,#ebb94d 4.2%,#92bf73 14.6%,#28b6a8 24%,#0aacbe 31.9%,#079ccf 40.8%,#1485d4 47.8%,#0972de 55.2%,#066edf"></i><i style="--g:#deba53,#e8b94f 4.2%,#95bf71 13.6%,#29b6a7 23%,#0aacbe 30.9%,#079dcf 39.4%,#1484d4 46.8%,#0a72de 53.7%,#066edf"></i><i style="--g:#daba55,#e9b94e 2.7%,#e8b94f 3.7%,#92bf72 13.1%,#2db7a5 21.5%,#0aacbd 29.5%,#079dcf 37.9%,#1484d4 44.8%,#0b73dd 51.2%,#066edf"></i><i style="--g:#daba55,#eab94d 2.7%,#e7b94f 3.7%,#91bf73 13.1%,#2cb7a5 21.5%,#0aacbe 29.5%,#079cd0 37.9%,#1484d4 44.8%,#0b74dd 51.2%,#066edf"></i><i style="--g:#dcba54,#e9b94e 3.7%,#96bf71 13.1%,#2ab6a6 22.5%,#09acbe 30.4%,#079dcf 38.9%,#1484d4 45.8%,#0972de 53.7%,#066edf"></i><i style="--g:#ddba54,#eab94e 3.7%,#92bf72 13.6%,#2ab6a6 22.5%,#0aacbe 30.4%,#079dcf 38.9%,#1484d4 46.3%,#0a72de 53.2%,#066edf"></i><i style="--g:#dbba55,#e9b94e 3.7%,#94bf72 13.1%,#2bb6a6 22%,#0aacbe 30%,#079dcf 38.4%,#1484d4 45.3%,#0972de 52.7%,#066edf"></i><i style="--g:#dcba54,#eab94d 2.7%,#e5b950 4.2%,#91bf73 13.1%,#2bb6a6 21.5%,#0aacbe 29.5%,#079dcf 37.9%,#1484d4 44.8%,#0a72de 51.7%,#066edf"></i><i style="--g:#e8b94f,#eeb94b 2.7%,#eab94e 4.7%,#9bbf6f 13.1%,#2eb7a4 22%,#1bb2b0 25%,#0aacbe 30.4%,#079dcf 38.9%,#1485d4 45.8%,#0c75dd 51.7%,#066edf"></i><i style="--g:#f9bb43,#f7ba45 4.2%,#e8b94f 7.2%,#a2be6c 14.1%,#2eb7a4 23.5%,#22b4ab 25%,#0bacbd 31.9%,#079dcf 41.3%,#1484d4 48.3%,#0972de 55.7%,#066edf"></i><i style="--g:#fdbe3d,#efb94b 7.2%,#acbe68 13.6%,#2eb7a4 23.5%,#22b4ab 25%,#0aacbe 32.4%,#079dcf 41.8%,#1484d4 48.8%,#0972de 55.7%,#066edf"></i><i style="--g:#fdbe3e,#f8ba44 5.2%,#e9b94e 8.2%,#b7bd64 13.6%,#3cba9b 23%,#1db3af 28%,#0bacbd 32.9%,#079ecf 41.8%,#1484d4 49.3%,#0d76dc 55.7%,#066edf"></i><i style="--g:#febf3c,#f8bb44 7.2%,#dbba55 13.6%,#79bf7d 22%,#30b7a3 28.5%,#1ab2b1 31.4%,#0aacbe 36.9%,#079cd0 46.3%,#1485d4 53.2%,#0972de 61.6%,#066edf"></i><i style="--g:#fec13a,#fabc42 9.2%,#ebb94d 14.6%,#adbe68 20.5%,#2eb7a3 30.4%,#21b4ac 32.4%,#0bacbd 39.4%,#079dcf 49.3%,#1484d4 56.2%,#0972de 62.6%,#066edf"></i><i style="--g:#fec13a,#fabc42 9.7%,#ebb94d 15.1%,#acbe68 21%,#2db7a5 30.9%,#0aacbd 39.9%,#079dcf 49.3%,#1484d4 56.2%,#0972de 63.1%,#066edf"></i><i style="--g:#fec13a,#fbbc40 8.7%,#edb94c 14.6%,#b0bd67 20.5%,#2bb6a6 30.9%,#0bacbd 39.4%,#079dcf 49.3%,#1483d4 56.2%,#0972de 62.6%,#066edf"></i><i style="--g:#fec13a,#fabc42 9.7%,#ebb94d 15.1%,#b6bd64 20%,#7cbf7b 24.5%,#2bb6a6 30.9%,#0bacbd 39.4%,#079ecf 48.8%,#1485d4 55.7%,#0a72de 62.1%,#066edf"></i><i style="--g:#fec13a,#fbbd40 8.7%,#eeb94b 15.1%,#b9bd63 20.5%,#31b8a2 30.9%,#1cb3b0 34.4%,#0bacbd 39.9%,#079dcf 49.3%,#1484d4 56.2%,#0a73de 62.6%,#066edf"></i><i style="--g:#fec13a,#f9bb43 11.1%,#eab94e 16.6%,#babd63 21.5%,#2db7a4 32.4%,#20b4ad 34.4%,#0aacbd 40.8%,#079dcf 50.2%,#1485d4 56.7%,#0a72de 63.6%,#066edf"></i><i style="--g:#fec13a,#fbbc40 9.7%,#edb94c 16.6%,#aebe67 22.5%,#2bb6a6 32.4%,#0aacbd 40.8%,#079dcf 50.2%,#1484d4 56.7%,#0a73dd 62.6%,#066edf"></i><i style="--g:#fec13a,#fbbc41 9.7%,#ecb94c 16.6%,#afbe67 22%,#79bf7d 26%,#27b5a8 32.4%,#0aacbd 40.3%,#079dcf 49.8%,#1484d4 56.2%,#0972de 62.6%,#066edf"></i><i style="--g:#fec13a,#fbbd40 9.2%,#eeb94b 16.1%,#acbe68 22%,#29b6a7 31.9%,#0bacbd 39.9%,#079dcf 49.3%,#1485d4 55.7%,#0972de 62.1%,#066edf"></i><i style="--g:#fec13a,#fbbc41 9.7%,#ecb94d 16.1%,#7ebf7b 25%,#2ab6a6 31.4%,#0aacbe 39.9%,#079dcf 48.8%,#1483d4 55.7%,#0972de 61.6%,#066edf"></i><i style="--g:#fec13a,#f9bb44 10.6%,#e9b94e 15.6%,#7bbf7c 24.5%,#2eb7a4 30.4%,#22b4ab 31.9%,#0bacbd 38.9%,#079dcf 48.3%,#1485d4 54.7%,#0a72de 61.1%,#066edf"></i><i style="--g:#fec13a,#fcbd40 8.2%,#efb94b 14.1%,#babd62 19.6%,#30b7a2 30%,#1db3af 32.9%,#0aacbd 38.9%,#079ecf 47.8%,#1484d4 54.7%,#0972de 61.6%,#066edf"></i><i style="--g:#fec13a,#fabc42 9.2%,#ecb94d 14.1%,#cbbb5c 18.1%,#77bf7e 24.5%,#46bb96 28%,#31b8a2 30%,#1cb3af 32.9%,#0bacbd 38.4%,#079dcf 47.8%,#1484d4 54.2%,#0972de 61.6%,#066edf"></i><i style="--g:#fec13a,#fabc42 8.2%,#ecb94c 12.6%,#c1bc60 17.1%,#45bb96 26%,#30b7a3 28%,#17b1b3 32.4%,#0bacbd 36.4%,#06a0cd 44.3%,#1484d4 52.2%,#0d75dc 57.7%,#066edf"></i><i style="--g:#fec13a,#f9bb43 7.2%,#e6b94f 11.1%,#c5bc5e 14.1%,#80bf7a 19.1%,#4cbc92 22.5%,#32b8a2 25%,#1cb3af 28%,#0aacbe 33.9%,#079dcf 42.8%,#1485d4 49.3%,#0a73de 56.2%,#066edf"></i><i style="--g:#fec03b,#fabc41 5.2%,#eeb94b 8.2%,#c8bc5d 11.6%,#71bf80 17.6%,#33b8a1 22%,#1ab2b1 26%,#0bacbd 30.9%,#079ccf 40.3%,#1484d4 46.8%,#0971de 55.7%,#066edf"></i><i style="--g:#febf3c,#fabc42 4.7%,#eeb94b 7.7%,#c2bc5f 11.1%,#7bbf7c 15.6%,#2eb7a4 21%,#20b4ad 23%,#0aacbe 30%,#079cd0 39.4%,#1485d4 45.3%,#0972de 51.7%,#066edf"></i><i style="--g:#fec03b,#f9bb43 5.7%,#eab94e 8.7%,#7abf7c 16.1%,#2fb7a3 21.5%,#20b4ad 23.5%,#0aacbd 30.4%,#079dcf 39.9%,#1483d4 46.3%,#0972de 52.7%,#066edf"></i><i style="--g:#fec13a,#fabc41 5.7%,#edb94c 9.2%,#b7bd64 13.1%,#7ebf7b 16.6%,#2cb7a5 22.5%,#0bacbd 30.9%,#06a0cd 39.9%,#1485d4 46.8%,#0972de 53.2%,#066edf"></i><i style="--g:#fec13a,#fcbd40 5.2%,#efb94b 9.2%,#babd62 13.1%,#79bf7d 17.1%,#29b6a7 23%,#0aacbd 31.4%,#06a0cd 39.9%,#1484d4 47.3%,#0972de 53.2%,#066edf"></i><i style="--g:#fec13a,#fcbd40 5.2%,#eeb94b 9.2%,#b9bd63 13.1%,#78bf7d 17.1%,#28b6a7 23%,#0aacbd 31.4%,#079dcf 40.8%,#1484d4 47.3%,#0972de 53.2%,#066edf"></i><i style="--g:#fec13a,#fdbe3e 4.7%,#f1b94a 9.2%,#c5bc5e 13.1%,#71bf80 18.6%,#31b8a2 23%,#1cb3b0 26.5%,#0bacbd 31.9%,#079dcf 41.3%,#1485d4 47.8%,#0972de 55.2%,#066edf"></i><i style="--g:#fec13a,#f8ba44 8.7%,#e5b950 12.6%,#bfbc61 16.1%,#51bc90 23%,#2fb7a3 26%,#19b2b1 29.5%,#0aacbd 34.4%,#079ecf 43.3%,#1485d4 49.8%,#0972de 57.7%,#066edf"></i><i style="--g:#fec13a,#f9bb43 9.2%,#eab94d 13.1%,#d1bb59 16.1%,#5cbe8a 23.5%,#35b89f 26.5%,#1eb3ae 29.5%,#0bacbd 35.4%,#079dcf 44.8%,#1484d4 51.2%,#0972de 58.2%,#066edf"></i><i style="--g:#fec13a,#fcbd40 6.7%,#eeb94b 11.6%,#bdbc61 16.1%,#31b8a2 25.5%,#1ab2b1 29.5%,#0bacbd 34.4%,#079dcf 43.8%,#1484d4 50.2%,#0972de 57.7%,#066edf"></i><i style="--g:#fec13a,#fbbc41 6.7%,#ecb94c 11.1%,#c1bc60 14.6%,#79bf7d 19.1%,#2fb7a3 24.5%,#23b4ab 26%,#0aacbd 33.4%,#079ecf 42.8%,#1485d4 49.3%,#0972de 55.7%,#066edf"></i><i style="--g:#fec13a,#fbbc41 6.2%,#edb94c 10.1%,#cabb5c 13.1%,#7dbf7b 18.1%,#31b8a2 23.5%,#20b4ad 26%,#0bacbd 32.4%,#079dcf 42.3%,#1484d4 48.8%,#0972de 55.2%,#066edf"></i><i style="--g:#fec13a,#fcbd3f 5.2%,#efb94b 9.7%,#c4bc5e 13.1%,#7ebf7b 17.6%,#2cb7a5 23.5%,#0aacbd 32.4%,#079dcf 41.8%,#1484d4 48.3%,#0972de 54.7%,#066edf"></i><i style="--g:#fec13a,#fabc41 6.7%,#ecb94c 10.6%,#d1bb59 13.1%,#7dbf7b 18.6%,#31b8a2 24%,#1fb4ad 26.5%,#0bacbd 32.9%,#079dcf 42.8%,#1484d4 49.3%,#0972de 56.2%,#066edf"></i><i style="--g:#fec13a,#fabc42 7.2%,#ecb94c 11.1%,#d1bb59 13.6%,#7ebf7b 19.1%,#31b8a2 24.5%,#22b4ac 26.5%,#0aacbe 33.9%,#079dcf 43.3%,#1484d4 49.8%,#0972de 56.2%,#066edf"></i><i style="--g:#fec13a,#fcbd3f 5.7%,#efb94b 10.1%,#cdbb5b 13.1%,#71bf80 19.1%,#2db7a4 24%,#1eb3ae 26.5%,#0aacbd 32.9%,#079dcf 42.3%,#1485d4 48.8%,#0972de 56.2%,#066edf"></i><i style="--g:#fec13a,#fcbd40 5.7%,#eeb94b 10.1%,#cbbb5b 13.1%,#7ebf7b 18.1%,#2cb7a5 24%,#0aacbe 32.9%,#079dcf 42.3%,#1484d4 48.8%,#0972de 55.2%,#066edf"></i><i style="--g:#fec13a,#fbbd40 6.2%,#eeb94b 10.6%,#d5ba57 13.1%,#79bf7d 19.1%,#33b8a1 24%,#20b4ad 26.5%,#0aacbe 33.4%,#079dcf 42.8%,#1483d4 49.3%,#0972de 55.7%,#066edf"></i><i style="--g:#fec13a,#f9bb43 7.2%,#e8b94e 10.6%,#c3bc5f 13.6%,#7dbf7b 18.1%,#36b99f 23%,#1fb4ad 26%,#0bacbd 32.4%,#079dcf 41.8%,#1484d4 48.3%,#0972de 55.2%,#066edf"></i><i style="--g:#fec13a,#fbbc40 5.2%,#eeb94b 8.7%,#cbbb5c 11.6%,#7dbf7b 16.6%,#2bb6a5 22.5%,#0bacbd 30.9%,#079ccf 40.8%,#1483d5 47.3%,#0972de 53.7%,#066edf"></i><i style="--g:#fec13a,#fbbd40 4.7%,#efb94b 8.2%,#babd62 12.1%,#79bf7d 16.1%,#29b6a7 22%,#0aacbd 30.4%,#069fce 39.4%,#1485d4 46.3%,#0972de 52.2%,#066edf"></i><i style="--g:#fec13a,#fbbd40 4.7%,#eeb94b 8.2%,#b9bd63 12.1%,#78bf7d 16.1%,#28b6a7 22%,#0aacbd 30.4%,#06a0cd 38.9%,#1484d4 46.3%,#0972de 52.2%,#066edf"></i><i style="--g:#fec13a,#fbbd40 4.7%,#eeb94b 8.2%,#b8bd63 12.1%,#77bf7d 16.1%,#28b6a8 22%,#0aacbd 30.4%,#06a0cd 38.9%,#1484d4 46.3%,#0972de 52.2%,#066edf"></i><i style="--g:#fec13a,#fcbd40 4.7%,#efb94b 8.2%,#bbbd62 12.1%,#7cbf7c 16.1%,#2bb6a6 22%,#0bacbd 30.4%,#079dcf 40.3%,#1484d4 46.8%,#0972de 53.2%,#066edf"></i><i style="--g:#fec13a,#fdbe3e 4.2%,#f0b94a 8.2%,#c5bc5e 11.6%,#7fbf7a 16.1%,#2db7a4 22%,#1eb3ae 24.5%,#0aacbd 30.9%,#079dcf 40.3%,#1484d4 46.8%,#0972de 53.2%,#066edf"></i><i style="--g:#fec13a,#fbbd40 4.7%,#eeb94b 8.2%,#b9bd63 12.1%,#7abf7c 16.1%,#29b6a7 22%,#0bacbd 30.4%,#079ecf 39.9%,#1485d4 46.3%,#0972de 53.2%,#066edf"></i><i style="--g:#fec13a,#fbbc40 4.7%,#ecb94c 8.2%,#7cbf7c 15.6%,#26b5a9 22%,#0bacbd 30%,#06a0cd 38.9%,#1485d4 45.8%,#0a72de 51.7%,#066edf"></i><i style="--g:#fec13a,#fbbd40 4.7%,#edb94c 8.2%,#7dbf7b 15.6%,#27b5a8 22%,#0aacbe 30.4%,#079dcf 39.9%,#1484d4 46.3%,#0972de 52.2%,#066edf"></i><i style="--g:#fec13a,#fbbd40 4.7%,#eeb94b 8.2%,#b9bd63 12.1%,#78bf7d 16.1%,#29b6a7 22%,#0aacbd 30.4%,#069fce 39.4%,#1485d4 46.3%,#0a72de 52.2%,#066edf"></i><i style="--g:#fec13a,#fbbc41 5.2%,#ecb94c 8.7%,#b7bd64 12.6%,#77bf7e 16.6%,#28b6a8 22.5%,#0aacbd 30.9%,#079ecf 40.3%,#1485d4 46.8%,#0a72de 53.2%,#066edf"></i><i style="--g:#fec13a,#fabc42 5.7%,#ebb94d 9.2%,#7dbf7b 16.6%,#2cb7a5 22.5%,#0aacbd 31.4%,#079ecf 40.8%,#1485d4 47.3%,#0972de 53.7%,#066edf"></i><i style="--g:#fec13a,#fcbd40 5.2%,#eeb94b 9.2%,#bbbd62 13.1%,#7cbf7c 17.1%,#2bb6a6 23%,#0aacbe 31.9%,#079dcf 41.3%,#1484d4 47.8%,#0a72de 54.2%,#066edf"></i><i style="--g:#fec13a,#fabb42 6.7%,#ebb94d 10.1%,#c0bc60 13.6%,#7abf7c 18.1%,#30b7a3 23.5%,#1fb3ad 26%,#0bacbd 32.4%,#079dcf 42.3%,#1484d4 48.8%,#0972de 55.7%,#066edf"></i><i style="--g:#fec13a,#fcbd3f 5.7%,#efb94b 10.1%,#cebb5a 13.1%,#7bbf7c 18.6%,#30b7a3 24%,#21b4ac 26%,#0faeb9 31.4%,#069fce 42.3%,#1485d4 49.3%,#0a72de 55.7%,#066edf"></i><i style="--g:#fec13a,#fcbd3f 5.7%,#eeb94b 10.1%,#cdbb5b 13.1%,#71bf80 19.1%,#2fb7a3 24%,#21b4ac 26%,#0faeb9 31.4%,#069ece 42.3%,#1484d4 49.3%,#0a72de 55.7%,#066edf"></i><i style="--g:#fec13a,#fcbd3f 5.7%,#efb94b 10.1%,#cdbb5b 13.1%,#7abf7c 18.6%,#30b7a3 24%,#21b4ac 26%,#0faeb9 31.4%,#069fce 42.3%,#1485d4 49.3%,#0a72de 55.7%,#066edf"></i><i style="--g:#fec13a,#fcbd3f 5.7%,#efb94b 10.1%,#c6bc5e 13.6%,#80bf7a 18.1%,#2fb7a3 24%,#21b4ac 26%,#0faeb9 31.4%,#06a0cd 41.8%,#1485d4 49.3%,#0972de 55.7%,#066edf"></i><i style="--g:#fec13a,#fcbd40 5.7%,#eeb94b 10.1%,#bcbd62 14.1%,#7dbf7b 18.1%,#2db7a5 24%,#0eaeba 31.4%,#06a0cd 41.8%,#1484d4 49.3%,#0a72de 55.2%,#066edf"></i><i style="--g:#fec13a,#fbbc41 6.2%,#edb94c 10.1%,#babd62 14.1%,#7cbf7c 18.1%,#2cb6a5 24%,#0eaeba 31.4%,#069fce 41.8%,#1485d4 48.8%,#0a72de 55.2%,#066edf"></i><i style="--g:#fec13a,#f9bb43 6.7%,#e9b94e 10.1%,#bdbd61 13.6%,#7fbf7a 17.6%,#33b8a1 23%,#22b4ab 25%,#0eaeba 30.9%,#069ece 41.8%,#1484d4 48.8%,#0972de 55.2%,#066edf"></i><i style="--g:#fec13a,#fcbd3f 4.7%,#f0b94a 8.7%,#cebb5a 11.6%,#7bbf7c 17.1%,#30b7a2 22.5%,#20b4ad 25%,#0faeb9 30%,#06a0cd 40.3%,#1485d4 47.8%,#0972de 55.2%,#066edf"></i><i style="--g:#fec13a,#fbbc41 5.2%,#edb94c 8.7%,#b8bd63 12.6%,#81bf79 16.1%,#2fb7a3 22%,#23b4ab 23.5%,#0bacbd 30.9%,#079dcf 40.8%,#1484d4 47.3%,#0972de 53.7%,#066edf"></i><i style="--g:#fec13a,#fcbd40 4.7%,#efb94b 8.2%,#c5bc5e 11.6%,#7fbf7a 16.1%,#2eb7a4 22%,#22b4ab 23.5%,#0bacbd 30.9%,#079dcf 40.8%,#1484d4 47.3%,#0972de 53.7%,#066edf"></i><i style="--g:#fec13a,#fbbc41 5.7%,#ecb94c 9.2%,#c5bc5e 12.6%,#35b8a0 22.5%,#1bb2b0 26.5%,#0faeb9 30.4%,#06a1cd 40.3%,#1484d4 48.3%,#0972de 56.7%,#066edf"></i><i style="--g:#fec13a,#f8ba44 8.2%,#e4b950 12.1%,#82bf79 19.1%,#3cba9b 24%,#21b4ac 27%,#0faeb9 32.4%,#079dcf 43.8%,#1485d4 50.2%,#0972de 57.2%,#066edf"></i><i style="--g:#fec13a,#fcbd3f 6.7%,#eeb94b 12.1%,#bdbd61 16.1%,#7ebf7b 20%,#2eb7a4 26%,#23b4ab 27.5%,#0eaeb9 33.4%,#06a0cd 43.8%,#1485d4 51.2%,#0972de 57.7%,#066edf"></i><i style="--g:#fec13a,#f9bb43 8.2%,#e9b94e 12.1%,#7ebf7b 19.6%,#33b8a1 25%,#23b4ab 27%,#0eaeba 32.9%,#06a0cd 43.3%,#1485d4 50.7%,#0972de 57.2%,#066edf"></i><i style="--g:#fec13a,#fbbc41 6.7%,#ecb94c 11.1%,#b8bd63 15.1%,#7abf7c 19.1%,#2bb6a6 25%,#0faeb9 31.9%,#06a1cd 42.3%,#1484d4 50.2%,#0a72de 56.2%,#066edf"></i><i style="--g:#fec13a,#fabc42 6.7%,#eab94d 10.6%,#bebc61 14.1%,#81bf7a 18.1%,#30b7a3 24%,#23b4ab 25.5%,#0faeb9 31.4%,#069fce 42.3%,#1485d4 49.3%,#0a72de 55.7%,#066edf"></i><i style="--g:#fec13a,#fbbd40 5.7%,#eeb94b 9.7%,#c4bc5f 13.1%,#7fbf7a 17.6%,#2eb7a4 23.5%,#0faeb9 30.9%,#06a0cd 41.3%,#1485d4 48.8%,#0a72de 55.2%,#066edf"></i><i style="--g:#fec13a,#fabc41 6.2%,#ebb94d 10.1%,#7dbf7b 17.6%,#2eb7a4 23.5%,#0eaeb9 30.9%,#06a0cd 41.3%,#1485d4 48.8%,#0972de 55.2%,#066edf"></i><i style="--g:#fec13a,#f9bb43 6.7%,#e9b94e 10.1%,#7dbf7b 17.6%,#32b8a1 23%,#22b4ab 25%,#0eaeba 30.9%,#069fce 41.8%,#1484d4 48.8%,#0972de 55.2%,#066edf"></i><i style="--g:#fec13a,#fabc41 5.7%,#edb94c 9.2%,#babd62 13.1%,#7cbf7c 17.1%,#2cb7a5 23%,#0eaeba 30.4%,#069fce 40.8%,#1484d4 48.3%,#0972de 55.2%,#066edf"></i><i style="--g:#fec03b,#f9bb43 5.7%,#eab94d 8.7%,#bfbc61 12.1%,#81bf79 16.1%,#35b89f 21.5%,#21b4ac 24%,#0faeb9 29.5%,#069fce 40.3%,#1485d4 47.3%,#0972de 54.2%,#066edf"></i><i style="--g:#febf3d,#f1b94a 7.2%,#d0bb59 10.1%,#7dbf7b 15.6%,#31b8a2 21%,#1eb3ae 24%,#0aacbd 30.4%,#079dcf 39.9%,#1485d4 46.3%,#0972de 53.7%,#066edf"></i><i style="--g:#febe3d,#efb94a 7.2%,#c4bc5e 10.6%,#7fbf7a 15.1%,#2db7a4 21%,#22b4ab 22.5%,#0aacbd 30%,#079ccf 39.9%,#1484d4 46.3%,#0972de 52.7%,#066edf"></i><i style="--g:#fdbe3e,#f8ba44 4.7%,#eeb94b 7.2%,#babd62 11.1%,#7bbf7c 15.1%,#2bb6a6 21%,#0aacbe 30%,#079dcf 39.4%,#1484d4 45.8%,#0972de 52.7%,#066edf"></i><i style="--g:#fdbe3d,#f0b94a 7.2%,#cfbb5a 10.1%,#7cbf7b 15.6%,#31b8a2 21%,#1eb3ae 24%,#0aacbd 30.4%,#079dcf 39.9%,#1485d4 46.3%,#0972de 54.2%,#066edf"></i><i style="--g:#fec03b,#f8bb44 6.2%,#e9b94e 9.2%,#7ebf7b 16.6%,#38b99d 21.5%,#22b4ab 24%,#0eaeba 30%,#069ece 40.8%,#1485d4 47.8%,#0972de 54.7%,#066edf"></i><i style="--g:#fec13a,#fcbd40 5.2%,#eeb94b 9.2%,#bcbd62 13.1%,#7dbf7b 17.1%,#2eb7a4 23%,#0faeb9 30.4%,#06a0cd 40.8%,#1485d4 48.3%,#0972de 54.7%,#066edf"></i><i style="--g:#fec13a,#fcbd40 5.2%,#eeb94b 9.2%,#bdbd61 13.1%,#7fbf7a 17.1%,#2fb7a3 23%,#23b4ab 24.5%,#0faeb9 30.4%,#069fce 41.3%,#1484d4 48.8%,#0972de 55.2%,#066edf"></i><i style="--g:#fec13a,#fcbd40 5.2%,#eeb94b 9.2%,#c4bc5e 12.6%,#80bf7a 17.1%,#2fb7a3 23%,#23b5ab 24.5%,#0faeb9 30.4%,#069fce 41.3%,#1484d4 48.8%,#0972de 55.2%,#066edf"></i><i style="--g:#fec13a,#f9bb43 6.7%,#e9b94e 10.1%,#7cbf7b 17.6%,#2db7a4 23.5%,#0eaeba 30.9%,#069fce 41.8%,#1485d4 48.8%,#0972de 55.2%,#066edf"></i><i style="--g:#fec13a,#fabc41 6.2%,#ecb94d 10.1%,#78bf7d 18.1%,#2ab6a6 24%,#0faeb9 30.9%,#06a0cd 41.8%,#1484d4 49.3%,#0a72de 55.2%,#066edf"></i><i style="--g:#fec13a,#fcbd40 5.7%,#eeb94c 10.1%,#bcbd62 14.1%,#7ebf7b 18.1%,#2eb7a4 24%,#21b4ac 26%,#0faeb9 31.4%,#06a1cd 41.8%,#1484d4 49.8%,#0a73de 55.7%,#066edf"></i><i style="--g:#fec13a,#fabb42 7.2%,#ebb94d 11.1%,#81bf79 18.6%,#31b8a2 24.5%,#24b5aa 26%,#0eaeba 32.4%,#069fce 43.3%,#1484d4 50.7%,#0972de 57.2%,#066edf"></i><i style="--g:#fec13a,#fcbd3f 6.2%,#efb94b 11.1%,#bfbc60 15.1%,#7bbf7c 19.6%,#2db7a4 25.5%,#0faeb9 32.9%,#06a1cd 43.3%,#1484d4 51.2%,#0a73de 57.2%,#066edf"></i><i style="--g:#fec13a,#fabb42 7.7%,#ebb94d 11.6%,#c1bc60 15.1%,#7ebf7b 19.6%,#2fb7a3 25.5%,#21b4ac 27.5%,#0faeb9 32.9%,#069fce 44.3%,#1484d4 51.7%,#0972de 58.2%,#066edf"></i><i style="--g:#fec13a,#fabc41 6.7%,#ecb94c 10.6%,#c4bc5f 14.1%,#81bf7a 18.6%,#31b8a2 24.5%,#20b4ad 27%,#0faeb9 32.4%,#06a1cd 42.8%,#1485d4 50.7%,#0a73de 57.2%,#066edf"></i><i style="--g:#fec13a,#fbbc40 5.7%,#edb94c 9.7%,#bcbd61 13.6%,#78bf7d 18.1%,#2cb6a5 24%,#0faeb9 31.4%,#06a0cd 42.3%,#1485d4 49.8%,#0a72de 56.2%,#066edf"></i><i style="--g:#fec13a,#fcbd40 5.2%,#efb94b 9.2%,#b7bd64 13.6%,#79bf7d 17.6%,#2db7a5 23.5%,#0faeb9 30.9%,#06a0cd 41.8%,#1485d4 49.3%,#0a72de 55.7%,#066edf"></i><i style="--g:#fec13a,#fcbd40 5.2%,#eeb94b 9.2%,#b6bd64 13.6%,#78bf7d 17.6%,#2cb7a5 23.5%,#0faeb9 30.9%,#06a0cd 41.8%,#1484d4 49.8%,#0972de 56.2%,#066edf"></i><i style="--g:#fec13a,#fbbd40 5.2%,#eeb94b 9.2%,#b5bd64 13.6%,#7fbf7a 17.1%,#2cb7a5 23.5%,#0faeb9 30.9%,#06a0cd 41.8%,#1484d4 49.8%,#0972de 56.2%,#066edf"></i><i style="--g:#fec13a,#fcbd40 5.2%,#eeb94b 9.2%,#b6bd64 13.6%,#79bf7d 17.6%,#2db7a4 23.5%,#0faeb9 30.9%,#069fce 42.3%,#1485d4 49.8%,#0972de 56.2%,#066edf"></i><i style="--g:#fec13a,#fabc41 5.7%,#ecb94c 9.2%,#bbbd62 13.1%,#7fbf7a 17.1%,#31b8a2 23%,#24b5aa 24.5%,#0faeb9 30.9%,#069fce 42.3%,#1485d4 49.8%,#0a72de 56.2%,#066edf"></i><i style="--g:#fec03b,#fbbd40 4.7%,#eeb94b 8.2%,#bebc61 12.1%,#7cbf7c 16.6%,#2eb7a4 22.5%,#21b4ac 24.5%,#0eaeba 30.4%,#069fce 41.3%,#1485d4 48.8%,#0a73de 55.2%,#066edf"></i><i style="--g:#fec03b,#fcbd40 4.2%,#f0b94a 7.7%,#c1bc60 11.6%,#7fbf7a 16.1%,#2cb7a5 22.5%,#0faeb9 30%,#06a0cd 40.8%,#1484d4 48.8%,#0a73de 55.2%,#066edf"></i><i style="--g:#fec03b,#f9bb44 6.2%,#e9b94e 9.2%,#7cbf7c 17.1%,#35b8a0 22.5%,#21b4ac 25%,#0faeb9 30.9%,#069fce 42.3%,#1485d4 49.8%,#0a72de 56.7%,#066edf"></i><i style="--g:#fec13a,#fbbc40 5.7%,#edb94c 9.7%,#bdbd61 13.6%,#7cbf7c 18.1%,#30b7a3 24%,#22b4ab 26%,#0faeb9 31.9%,#06a0cd 43.3%,#1484d4 51.2%,#0a72de 57.7%,#066edf"></i><i style="--g:#fec13a,#fabc42 6.7%,#ebb94d 10.6%,#b5bd65 15.1%,#7abf7c 19.1%,#2fb7a3 25%,#22b4ac 27%,#0faeb9 32.9%,#06a0cd 44.3%,#1484d4 52.2%,#0972de 59.2%,#066edf"></i><i style="--g:#fec13a,#fabc42 6.7%,#eab94d 10.6%,#c2bc5f 14.1%,#82bf79 18.6%,#35b8a0 24.5%,#22b4ac 27%,#0faeb9 32.9%,#069fce 44.8%,#1485d4 52.2%,#0972de 59.7%,#066edf"></i><i style="--g:#fec13a,#fcbd3f 5.2%,#f0b94a 9.2%,#cabb5c 12.6%,#7dbf7b 18.1%,#2cb7a5 24.5%,#0fafb9 31.9%,#06a0cd 43.3%,#1484d4 51.7%,#0a73de 58.2%,#066edf"></i><i style="--g:#fec13a,#fbbd40 5.2%,#eeb94c 9.2%,#b7bd64 13.6%,#7cbf7b 17.6%,#2cb7a5 24%,#10afb9 31.4%,#069fcd 43.3%,#1484d4 51.2%,#0972de 57.7%,#066edf"></i><i style="--g:#fec13a,#fcbd3f 5.2%,#f0b94a 9.2%,#babd63 14.6%,#34b8a0 24.5%,#0faeb9 32.9%,#06a0cd 43.8%,#1485d4 52.2%,#0d75dc 58.2%,#066edf"></i><i style="--g:#fec03b,#f9bb43 6.7%,#ebb94d 9.7%,#c0bc60 15.1%,#41ba98 24.5%,#1ab2b1 30%,#0eaeba 33.9%,#06a0cd 44.3%,#1484d4 53.2%,#0971de 62.6%,#066edf"></i><i style="--g:#febf3c,#f0b94a 7.7%,#a9be69 14.6%,#37b99e 23%,#0faeb9 31.4%,#06a1cc 41.8%,#1485d4 50.7%,#0e76dc 56.2%,#066edf"></i><i style="--g:#fec03b,#fabc41 4.7%,#eeb94b 7.7%,#b9bd63 12.1%,#7ebf7b 16.1%,#2eb7a4 22.5%,#0faeb9 30.4%,#06a0cd 41.8%,#1485d4 49.8%,#0a73dd 56.2%,#066edf"></i><i style="--g:#fec13a,#fbbc40 5.2%,#edb94c 8.7%,#c9bb5c 12.1%,#37b99e 23%,#1eb3ae 27%,#0faeb9 31.9%,#06a0cd 43.3%,#1486d4 51.2%,#0c74dd 57.7%,#066edf"></i><i style="--g:#fec13a,#f9bb43 7.7%,#e7b94f 11.6%,#a7be6a 18.1%,#39b99d 26.5%,#10afb9 34.9%,#06a0cd 46.3%,#1485d4 54.7%,#0d75dc 61.1%,#066edf"></i><i style="--g:#fec13a,#f8ba44 11.1%,#dcba54 17.6%,#a7be6a 22%,#58bd8c 27.5%,#39b99d 30.4%,#20b4ad 33.4%,#0faeb9 38.9%,#07a9c2 43.3%,#079dcf 51.2%,#1485d4 58.2%,#0972de 66.1%,#066edf"></i><i style="--g:#fec13a,#f9bb43 12.1%,#e7b94f 18.1%,#7cbf7b 26%,#31b8a2 31.9%,#22b4ab 33.9%,#0faeb9 39.9%,#069fce 51.7%,#1484d4 59.7%,#0972de 66.1%,#066edf"></i><i style="--g:#fec13a,#f8ba44 10.1%,#ddba54 16.1%,#b8bd63 19.6%,#57bd8c 26.5%,#38b99d 29.5%,#24b5aa 31.9%,#0faeb9 37.9%,#079ecf 50.2%,#1484d4 57.7%,#0a72de 65.1%,#066edf"></i><i style="--g:#fec13a,#fcbd3f 5.7%,#efb94b 10.1%,#b5bd65 16.1%,#38b99d 25.5%,#1cb3af 30.4%,#0faeb9 34.4%,#06a0cd 45.8%,#1484d4 54.7%,#0d75dc 60.1%,#066edf"></i><i style="--g:#fec13a,#f9bb43 6.2%,#e9b94e 9.7%,#7abf7c 18.1%,#32b8a1 24%,#23b4ab 26%,#0faeb9 32.4%,#069fce 44.8%,#1484d4 52.7%,#0a72de 59.7%,#066edf"></i><i style="--g:#fec13a,#fbbc40 5.2%,#edb94c 8.7%,#c2bc5f 12.6%,#7ebf7a 17.6%,#2fb7a3 24%,#20b4ad 26.5%,#10afb9 31.9%,#06a0cd 43.8%,#1484d4 52.2%,#0972de 59.7%,#066edf"></i><i style="--g:#fec13a,#fabb42 6.2%,#eab94d 9.7%,#7cbf7b 18.6%,#38b99e 24%,#23b5ab 26.5%,#0faeb9 32.9%,#069fce 44.8%,#1484d4 52.7%,#0972de 59.7%,#066edf"></i><i style="--g:#fec13a,#fcbd40 5.7%,#eeb94b 10.1%,#b7bd64 15.6%,#2fb7a3 26.5%,#0eaeba 34.4%,#06a1cd 44.8%,#1485d4 53.2%,#0b73dd 59.7%,#066edf"></i><i style="--g:#fec13a,#f8bb44 8.7%,#e5b950 13.1%,#80bf7a 22%,#37b99e 28%,#20b4ad 30.9%,#0eaeba 36.4%,#069fce 47.3%,#1484d4 55.2%,#0a73de 62.1%,#066edf"></i><i style="--g:#fec13a,#fabc42 9.2%,#ebb94d 14.1%,#b3bd65 20%,#34b8a0 30.4%,#1cb3af 34.4%,#0faeb9 38.4%,#06a1cd 48.8%,#1486d4 57.2%,#0c74dd 63.6%,#066edf"></i><i style="--g:#fec13a,#f9bb44 11.6%,#e4b951 17.6%,#aebe67 23%,#36b99f 32.9%,#1eb3ae 36.4%,#0eaeba 41.3%,#069fce 52.2%,#1485d4 60.1%,#0a73dd 67.6%,#066edf"></i><i style="--g:#fec13a,#f9bb43 12.1%,#eab94e 17.6%,#b8bd63 23%,#34b8a0 33.9%,#1fb4ad 36.9%,#0eaeba 42.3%,#06a0cd 52.7%,#1483d4 61.6%,#0a72de 69.1%,#066edf"></i><i style="--g:#fec13a,#fcbd40 8.7%,#eeb94b 15.6%,#b8bd63 21.5%,#2fb7a3 32.9%,#0eaeba 40.8%,#06a0cd 51.2%,#1485d4 59.7%,#0c74dd 65.6%,#066edf"></i><i style="--g:#fec13a,#f8bb44 10.1%,#e7b94f 15.1%,#aebe67 20.5%,#35b89f 30.4%,#22b4ac 32.9%,#0eaeba 38.9%,#069fce 49.8%,#1484d4 57.7%,#0972de 65.1%,#066edf"></i><i style="--g:#fec13a,#fcbd3f 6.7%,#f0b94a 12.1%,#b6bd64 18.1%,#34b8a0 28.5%,#1cb3b0 32.4%,#0faeb9 36.4%,#06a0cd 46.8%,#1485d4 55.2%,#0c74dd 61.6%,#066edf"></i><i style="--g:#fec13a,#fabc42 7.7%,#ebb94d 12.1%,#7cbf7b 21%,#36b89f 26.5%,#20b4ad 29.5%,#0eaeba 34.9%,#069fce 45.3%,#1485d4 52.7%,#0a73dd 59.7%,#066edf"></i><i style="--g:#fec13a,#fcbd40 6.7%,#eeb94b 11.6%,#cbbb5b 15.1%,#76bf7e 21%,#2eb7a4 26.5%,#20b4ad 28.5%,#0aacbd 35.4%,#069fce 44.3%,#1484d4 51.7%,#0b73dd 57.2%,#066edf"></i><i style="--g:#fec13a,#f9bb43 9.2%,#e7b94f 13.6%,#c3bc5f 16.6%,#7dbf7b 21%,#30b7a3 26.5%,#21b4ac 28.5%,#0aacbd 35.4%,#079dcf 44.8%,#1484d4 51.2%,#0972de 57.2%,#066edf"></i><i style="--g:#fec13a,#fcbd40 7.7%,#efb94b 13.6%,#cbbb5b 16.6%,#74bf7f 22%,#2eb7a4 27%,#20b4ad 29%,#0aacbe 35.9%,#079ecf 44.8%,#1484d4 51.2%,#0972de 57.2%,#066edf"></i><i style="--g:#fec13a,#f9bb44 9.2%,#e4b951 13.6%,#d1bb59 15.6%,#4dbc91 24%,#31b8a2 26.5%,#1eb3ae 29%,#0bacbd 34.9%,#079dcf 44.3%,#1484d4 50.7%,#0972de 57.7%,#066edf"></i><i style="--g:#fec13a,#fdbe3e 5.2%,#f1b94a 10.1%,#babd62 15.1%,#34b8a0 24%,#19b2b1 28.5%,#0aacbd 33.4%,#079cd0 42.8%,#1484d4 49.3%,#0972de 57.2%,#066edf"></i><i style="--g:#fec13a,#f9bb43 6.7%,#eab94e 10.1%,#79bf7d 17.6%,#2eb7a4 23%,#23b4ab 24.5%,#0aacbd 31.9%,#069fce 40.8%,#1484d4 47.8%,#0972de 53.7%,#066edf"></i><i style="--g:#fec13a,#fcbd3f 5.2%,#f0b94a 9.2%,#cdbb5b 12.1%,#70bf81 18.1%,#2db7a5 23%,#1eb3ae 25.5%,#0aacbe 31.9%,#079dcf 41.3%,#1484d4 47.8%,#0972de 54.2%,#066edf"></i><i style="--g:#fec13a,#f9bb43 7.2%,#e9b94e 10.6%,#bbbd62 14.1%,#7bbf7c 18.1%,#35b8a0 23%,#23b4ab 25%,#0aacbd 32.4%,#079dcf 41.8%,#1484d4 48.3%,#0972de 54.7%,#066edf"></i><i style="--g:#fec13a,#fbbd40 6.2%,#edb94c 10.6%,#c1bc60 14.1%,#81bf79 18.1%,#2eb7a4 24%,#22b4ab 25.5%,#0aacbd 32.9%,#079dcf 42.3%,#1484d4 48.8%,#0972de 54.7%,#066edf"></i><i style="--g:#fec13a,#f9bb42 6.7%,#ebb94d 10.1%,#bdbc61 13.6%,#7ebf7b 17.6%,#31b8a2 23%,#1fb4ad 25.5%,#0bacbd 31.9%,#079ecf 41.3%,#1485d4 47.8%,#0972de 54.7%,#066edf"></i><i style="--g:#fec13a,#fbbd40 5.2%,#efb94b 8.7%,#c3bc5f 12.1%,#7cbf7b 16.6%,#2fb7a3 22%,#1fb3ae 24.5%,#0aacbd 30.9%,#079dcf 40.3%,#1484d4 46.8%,#0972de 53.7%,#066edf"></i><i style="--g:#fec13a,#fbbd40 4.7%,#efb94b 8.2%,#b9bd63 12.1%,#7fbf7a 15.6%,#2cb7a5 21.5%,#0bacbd 30%,#06a0cd 38.4%,#1484d4 45.8%,#0972de 51.7%,#066edf"></i><i style="--g:#fec13a,#fbbd40 4.7%,#edb94c 8.2%,#b6bd64 12.1%,#7cbf7c 15.6%,#2ab6a6 21.5%,#0aacbd 30%,#06a0cd 38.4%,#1485d4 45.3%,#0972de 51.2%,#066edf"></i><i style="--g:#fec03b,#fabc42 5.2%,#ecb94c 8.2%,#b5bd65 12.1%,#7abf7c 15.6%,#2eb7a4 21%,#22b4ab 22.5%,#0aacbe 30%,#079ecf 38.9%,#1484d4 45.3%,#0972de 51.2%,#066edf"></i><i style="--g:#fec03b,#fcbd3f 4.2%,#f0b94a 7.7%,#cdbb5b 10.6%,#77bf7e 16.1%,#30b7a2 21%,#1fb3ad 23.5%,#0aacbd 30%,#079dcf 39.4%,#1485d4 45.3%,#0971de 52.7%,#066edf"></i><i style="--g:#fec03b,#f9bb43 6.2%,#e7b94f 9.7%,#7dbf7b 16.6%,#36b89f 21.5%,#23b4ab 23.5%,#0aacbd 30.9%,#079dcf 40.3%,#1485d4 46.3%,#0972de 52.7%,#066edf"></i><i style="--g:#fec13a,#fcbd3f 5.2%,#eeb94b 9.7%,#b9bd63 13.6%,#78bf7d 17.6%,#28b6a8 23.5%,#0aacbe 31.9%,#079cd0 41.3%,#1485d4 47.3%,#0a72de 53.2%,#066edf"></i><i style="--g:#fec13a,#fabc42 6.2%,#ebb94d 9.7%,#c5bc5e 12.6%,#7ebf7b 17.1%,#36b99f 22%,#21b4ac 24.5%,#0aacbd 31.4%,#079dcf 40.8%,#1484d4 47.3%,#0972de 53.7%,#066edf"></i><i style="--g:#fec13a,#fbbc40 5.2%,#eeb94b 8.7%,#cbbb5c 11.6%,#74bf7f 17.1%,#2eb7a4 22%,#1eb3ae 24.5%,#0aacbe 30.9%,#079ecf 39.9%,#1484d4 46.3%,#0972de 53.2%,#066edf"></i><i style="--g:#fec13a,#fbbc40 5.2%,#eeb94b 8.7%,#c2bc5f 12.1%,#79bf7d 16.6%,#2db7a5 22%,#0bacbd 30.4%,#069fce 39.4%,#1484d4 46.3%,#0972de 52.2%,#066edf"></i><i style="--g:#fec13a,#fbbc41 5.7%,#edb94c 9.2%,#c1bc60 12.6%,#79bf7d 17.1%,#2cb7a5 22.5%,#0bacbd 30.9%,#079dcf 40.3%,#1484d4 46.8%,#0972de 53.2%,#066edf"></i><i style="--g:#fec13a,#f9bb43 7.2%,#e8b94f 10.6%,#82bf79 17.6%,#38b99d 22.5%,#20b4ad 25.5%,#0bacbd 31.9%,#079dcf 41.3%,#1484d4 47.8%,#0972de 54.2%,#066edf"></i><i style="--g:#fec13a,#fbbc40 7.2%,#eeb94b 11.6%,#71bf80 23%,#44bb97 26.5%,#24b5aa 30.4%,#0aacbe 35.9%,#079cd0 44.3%,#1484d4 50.7%,#0f78db 54.7%,#0871de 61.6%,#066edf"></i><i style="--g:#fec13a,#f3ba48 11.6%,#9dbe6e 23.5%,#41ba99 30%,#2eb7a4 31.9%,#14b0b6 35.4%,#0aacbe 38.4%,#079ccf 46.3%,#1485d4 52.7%,#0971de 61.6%,#066edf"></i><i style="--g:#fec13a,#f3ba48 11.1%,#c8bc5d 16.6%,#7abf7d 23.5%,#2fb7a3 29.5%,#0aacbd 36.4%,#079dcf 44.8%,#1485d4 51.2%,#0871de 61.6%,#066edf"></i><i style="--g:#fec13a,#f8ba44 10.6%,#dbba55 16.6%,#adbe68 20.5%,#5bbd8a 25.5%,#2fb7a3 29%,#16b1b4 32.9%,#0aacbd 36.9%,#079dcf 45.3%,#1484d4 51.7%,#0972de 58.7%,#066edf"></i><i style="--g:#fec13a,#fbbc40 10.1%,#eeb94b 16.6%,#cbbb5b 20.5%,#3ab99d 29.5%,#1db3af 32.9%,#0aacbd 38.4%,#079ccf 47.3%,#1485d4 52.7%,#0972de 59.2%,#066edf"></i><i style="--g:#fec13a,#f9bb44 11.1%,#eab94e 15.6%,#b7bd63 20%,#47bb95 27%,#2fb7a3 29%,#18b1b3 32.9%,#0aacbe 37.4%,#079ecf 45.8%,#1484d4 52.2%,#0972de 58.7%,#066edf"></i><i style="--g:#fec13a,#f9bb43 9.2%,#e7b94f 13.6%,#cbbb5c 16.1%,#55bd8d 23.5%,#30b8a2 26.5%,#1eb3ae 29%,#0aacbe 35.4%,#079dcf 44.3%,#1484d4 50.7%,#0972de 57.2%,#066edf"></i><i style="--g:#fec13a,#fcbd3f 6.2%,#f0b94a 11.1%,#cfbb5a 14.1%,#73bf7f 20%,#2eb7a4 25%,#1eb3ae 27.5%,#0aacbd 33.9%,#079dcf 43.3%,#1483d4 49.8%,#0972de 56.7%,#066edf"></i><i style="--g:#fec13a,#fcbd40 6.2%,#eeb94b 11.1%,#b9bd63 15.1%,#78bf7d 19.1%,#28b6a7 25%,#0aacbd 33.4%,#06a0cd 41.8%,#1483d5 49.3%,#0972de 55.2%,#066edf"></i><i style="--g:#fec13a,#fbbc41 6.7%,#eeb94b 11.1%,#c2bc5f 14.6%,#7bbf7c 19.1%,#2fb7a3 24.5%,#21b4ac 26.5%,#0aacbd 33.4%,#079dcf 42.8%,#1484d4 49.3%,#0972de 55.7%,#066edf"></i><i style="--g:#fec13a,#fabc42 7.7%,#ebb94d 12.1%,#c7bc5d 15.1%,#80bf7a 19.6%,#33b8a1 25%,#20b4ad 27.5%,#0aacbe 34.4%,#079ccf 43.8%,#1485d4 49.8%,#0972de 56.2%,#066edf"></i><i style="--g:#fec13a,#fabc41 8.2%,#ecb94d 13.1%,#bebc61 16.6%,#7ebf7b 20.5%,#2bb6a5 26.5%,#0bacbd 34.9%,#069fce 43.8%,#1484d4 50.7%,#0972de 56.7%,#066edf"></i><i style="--g:#fec13a,#f9bb43 8.7%,#e7b94f 13.1%,#82bf79 20%,#34b8a0 25.5%,#22b4ac 27.5%,#0aacbe 34.9%,#079ccf 44.3%,#1485d4 50.2%,#0972de 56.7%,#066edf"></i><i style="--g:#fec13a,#fcbd3f 6.2%,#efb94b 11.1%,#d5ba57 13.6%,#79bf7d 19.6%,#2db7a4 25%,#1eb3ae 27.5%,#0aacbe 33.9%,#079ccf 43.3%,#1485d4 49.3%,#0972de 56.2%,#066edf"></i><i style="--g:#fec13a,#f9bb44 7.7%,#e9b94e 11.1%,#bcbd62 14.6%,#7cbf7c 18.6%,#35b89f 23.5%,#21b4ac 26%,#0aacbd 32.9%,#079dcf 42.3%,#1484d4 48.8%,#0972de 55.2%,#066edf"></i><i style="--g:#fec13a,#fbbc40 5.7%,#edb94c 9.7%,#cabb5c 12.6%,#7cbf7c 17.6%,#2eb7a4 23%,#1db3af 26%,#0aacbd 31.9%,#079dcf 41.3%,#1483d4 47.8%,#0972de 54.7%,#066edf"></i><i style="--g:#fec13a,#fcbd40 5.2%,#efb94a 9.2%,#c4bc5e 12.6%,#7cbf7b 17.1%,#2ab6a6 23%,#0aacbd 31.4%,#079dcf 40.8%,#1484d4 47.3%,#0972de 53.7%,#066edf"></i><i style="--g:#fec13a,#f9bb43 7.2%,#eab94e 10.6%,#cebb5b 13.1%,#79bf7d 18.6%,#33b8a1 23.5%,#1cb3b0 27%,#0bacbd 32.4%,#079dcf 41.8%,#1485d4 48.3%,#0972de 55.7%,#066edf"></i><i style="--g:#fec13a,#fbbd40 6.7%,#eeb94b 11.1%,#d5ba57 13.6%,#7abf7d 19.6%,#2eb7a4 25%,#20b4ad 27%,#0aacbe 33.9%,#079dcf 43.3%,#1485d4 49.3%,#0972de 56.2%,#066edf"></i><i style="--g:#fec13a,#fbbc41 6.7%,#eeb94c 11.1%,#c2bc5f 14.6%,#7bbf7c 19.1%,#2eb7a4 24.5%,#1fb3ae 27%,#0aacbd 33.4%,#079dcf 42.8%,#1484d4 49.3%,#0972de 55.7%,#066edf"></i><i style="--g:#fec13a,#f9bb43 7.2%,#eab94e 10.6%,#bbbd62 14.1%,#7bbf7c 18.1%,#2fb7a3 23.5%,#23b4ab 25%,#0aacbd 32.4%,#079dcf 41.8%,#1484d4 48.3%,#0972de 54.2%,#066edf"></i><i style="--g:#fec13a,#fbbc41 5.7%,#ecb94c 9.7%,#bfbc61 13.1%,#7ebf7b 17.1%,#2bb6a5 23%,#0bacbd 31.4%,#079dcf 40.8%,#1484d4 47.3%,#0972de 53.7%,#066edf"></i><i style="--g:#fec13a,#fbbc41 5.7%,#ecb94c 9.7%,#b6bd64 13.6%,#7cbf7b 17.1%,#2ab6a6 23%,#0aacbd 31.4%,#079dcf 40.8%,#1484d4 47.3%,#0972de 53.2%,#066edf"></i><i style="--g:#fec13a,#fbbc40 5.7%,#edb94c 9.7%,#b8bd63 13.6%,#7fbf7a 17.1%,#2cb7a5 23%,#0bacbd 31.4%,#069fce 40.3%,#1484d4 47.3%,#0a72de 53.2%,#066edf"></i><i style="--g:#fec13a,#fbbc40 5.7%,#edb94c 9.7%,#bfbc60 13.1%,#7fbf7a 17.1%,#2cb7a5 23%,#0bacbd 31.4%,#079ecf 40.8%,#1484d4 47.3%,#0972de 53.7%,#066edf"></i><i style="--g:#fec13a,#fbbc41 6.2%,#ecb94c 10.1%,#bfbc61 13.6%,#7fbf7a 17.6%,#31b8a2 23%,#22b4ac 25%,#0bacbd 31.9%,#079ecf 41.3%,#1484d4 47.8%,#0972de 54.2%,#066edf"></i><i style="--g:#fec13a,#fbbd40 6.2%,#edb94c 10.6%,#b8bd63 14.6%,#7fbf7a 18.1%,#2cb7a5 24%,#0aacbe 32.9%,#079ccf 42.3%,#1485d4 48.3%,#0972de 54.2%,#066edf"></i><i style="--g:#fec13a,#fabc42 6.7%,#ebb94d 10.6%,#b5bd65 14.6%,#7cbf7c 18.1%,#2fb7a3 23.5%,#23b4ab 25%,#0aacbd 32.4%,#079dcf 41.8%,#1484d4 48.3%,#0972de 54.2%,#066edf"></i><i style="--g:#fec13a,#fcbd3f 5.2%,#efb94b 9.7%,#babd62 13.6%,#7abf7c 17.6%,#29b6a7 23.5%,#0aacbd 31.9%,#079dcf 41.3%,#1483d5 47.8%,#0972de 53.7%,#066edf"></i><i style="--g:#fec13a,#fabc42 6.2%,#ebb94d 9.7%,#7abf7c 17.1%,#2eb7a4 22.5%,#22b4ab 24%,#0aacbd 31.4%,#06a0cd 39.9%,#1483d5 47.3%,#0972de 53.2%,#066edf"></i><i style="--g:#fec13a,#fcbd40 5.2%,#efb94b 9.2%,#cbbb5b 12.1%,#75bf7e 17.6%,#30b7a3 22.5%,#1fb3ae 25%,#0aacbd 31.4%,#079dcf 40.8%,#1484d4 47.3%,#0972de 54.2%,#066edf"></i><i style="--g:#fec13a,#f9bb43 7.2%,#e9b94e 10.6%,#82bf79 17.6%,#34b8a0 23%,#22b4ab 25%,#0aacbd 32.4%,#079dcf 41.8%,#1483d5 48.3%,#0972de 54.2%,#066edf"></i><i style="--g:#fec13a,#fbbc41 6.7%,#edb94c 11.1%,#b7bd64 15.1%,#7ebf7a 18.6%,#2cb7a5 24.5%,#0bacbd 32.9%,#079ecf 42.3%,#1485d4 48.8%,#0972de 55.2%,#066edf"></i><i style="--g:#fec13a,#f9bb43 8.2%,#eab94e 12.1%,#79bf7d 19.6%,#2eb7a4 25%,#22b4ab 26.5%,#0aacbd 33.9%,#079dcf 43.3%,#1483d4 49.8%,#0972de 55.7%,#066edf"></i><i style="--g:#fec13a,#f9bb43 8.2%,#eab94e 12.1%,#b3bd65 16.1%,#7abf7c 19.6%,#2fb7a3 25%,#23b4ab 26.5%,#0aacbd 33.9%,#079dcf 43.3%,#1484d4 49.8%,#0972de 55.7%,#066edf"></i><i style="--g:#fec13a,#f9bb43 7.2%,#eab94e 10.6%,#c7bc5d 13.6%,#38b99d 23%,#1eb3ae 26.5%,#0bacbd 32.4%,#079ecf 41.8%,#1485d4 48.3%,#0971de 55.7%,#066edf"></i><i style="--g:#fec13a,#fbbc41 5.7%,#edb94c 9.2%,#c1bc60 12.6%,#79bf7d 17.1%,#2db7a4 22.5%,#0bacbd 30.9%,#079ecf 40.3%,#1484d4 46.8%,#0972de 53.7%,#066edf"></i><i style="--g:#fec13a,#fcbd3f 4.7%,#f1b94a 8.7%,#cabb5c 12.1%,#75bf7f 17.6%,#2eb7a4 22.5%,#1cb3af 25.5%,#0aacbe 31.4%,#079dcf 40.3%,#1484d4 46.8%,#0972de 54.2%,#066edf"></i><i style="--g:#fec13a,#fbbd40 5.7%,#eeb94b 9.7%,#d8ba56 12.1%,#7cbf7c 18.1%,#34b8a0 23%,#20b4ad 25.5%,#0bacbd 31.9%,#079dcf 41.3%,#1484d4 47.8%,#0972de 54.2%,#066edf"></i><i style="--g:#fec13a,#fbbd40 5.7%,#eeb94b 9.7%,#cbbb5c 12.6%,#75bf7f 18.1%,#2fb7a3 23%,#1fb3ae 25.5%,#0aacbd 31.9%,#079dcf 41.3%,#1485d4 47.3%,#0972de 54.2%,#066edf"></i><i style="--g:#fec13a,#fbbc40 5.7%,#edb94c 9.7%,#c0bc60 13.1%,#79bf7d 17.6%,#2db7a5 23%,#1eb3ae 25.5%,#0aacbe 31.9%,#079cd0 41.3%,#1485d4 47.3%,#0972de 54.2%,#066edf"></i><i style="--g:#fec13a,#fcbd3f 5.2%,#f0b94a 9.7%,#d6ba57 12.1%,#7abf7c 18.1%,#2eb7a4 23.5%,#20b4ad 25.5%,#0aacbd 32.4%,#079dcf 41.8%,#1483d5 48.3%,#0972de 54.7%,#066edf"></i><i style="--g:#fec13a,#fabc42 6.2%,#ecb94d 9.7%,#c7bc5d 12.6%,#80bf7a 17.1%,#32b8a1 22.5%,#1eb3ae 25.5%,#0bacbd 31.4%,#079ecf 40.8%,#1484d4 47.3%,#0972de 54.2%,#066edf"></i><i style="--g:#fec13a,#fcbd3f 4.7%,#efb94b 8.7%,#c2bc5f 12.1%,#7abf7c 16.6%,#2eb7a4 22%,#20b4ad 24%,#0aacbe 30.9%,#079ccf 40.3%,#1485d4 46.3%,#0972de 52.7%,#066edf"></i><i style="--g:#fec13a,#fbbc41 5.7%,#edb94c 9.2%,#c9bc5c 12.1%,#7bbf7c 17.1%,#2eb7a4 22.5%,#1eb3ae 25%,#0aacbd 31.4%,#079ccf 40.8%,#1485d4 46.8%,#0972de 54.2%,#066edf"></i><i style="--g:#fec13a,#fbbc41 6.7%,#eeb94c 10.6%,#87bf77 20%,#3eba9a 25%,#1cb3b0 30%,#0aacbd 34.4%,#079cd0 43.3%,#1484d4 49.8%,#0e77db 54.2%,#0871de 60.1%,#066edf"></i><i style="--g:#fec13a,#f9bb44 10.6%,#e0ba53 16.1%,#c1bc60 20%,#52bd8f 27%,#35b8a0 29.5%,#1ab2b1 32.9%,#0aacbe 37.9%,#079dcf 46.3%,#1484d4 52.7%,#0971de 60.1%,#066edf"></i><i style="--g:#fec13a,#f9bb43 8.7%,#d6ba57 16.1%,#abbe69 20%,#4fbc91 26%,#2cb7a5 29%,#14b0b5 32.9%,#0aacbd 36.4%,#079cd0 45.3%,#1485d4 51.2%,#0971de 60.1%,#066edf"></i><i style="--g:#fec13a,#f4ba48 8.7%,#daba55 11.6%,#a6be6a 16.1%,#3dba9a 23%,#1bb2b0 28%,#0aacbe 32.9%,#079dcf 41.8%,#1484d4 48.3%,#0971de 57.7%,#066edf"></i><i style="--g:#fec13a,#fcbd3f 5.2%,#efb94b 9.2%,#d8ba56 11.6%,#7dbf7b 17.6%,#35b8a0 22.5%,#1fb3ae 25.5%,#0aacbd 31.9%,#079dcf 41.3%,#1483d4 47.8%,#0972de 54.7%,#066edf"></i><i style="--g:#fec13a,#fdbe3e 4.7%,#f2b949 9.2%,#bfbc60 14.1%,#37b99e 23%,#1cb3b0 27%,#0aacbd 32.4%,#079ccf 41.8%,#1483d5 48.3%,#0971de 55.7%,#066edf"></i><i style="--g:#fec13a,#f9bb44 8.7%,#ddba54 14.1%,#b3bd65 17.6%,#52bd8f 23.5%,#30b7a3 26.5%,#1bb2b0 29.5%,#0bacbd 34.4%,#079ecf 43.3%,#1484d4 49.8%,#0972de 57.2%,#066edf"></i><i style="--g:#fec13a,#fabc41 9.2%,#ecb94c 14.1%,#d1bb59 17.1%,#7abf7c 22.5%,#36b99f 27%,#1eb3ae 30%,#0bacbd 35.9%,#079ecf 44.8%,#1484d4 51.2%,#0972de 57.7%,#066edf"></i><i style="--g:#fec13a,#f8ba44 8.7%,#e5b950 12.6%,#babd63 16.6%,#4cbc92 23.5%,#30b7a3 26%,#18b1b3 30%,#0aacbd 34.4%,#079dcf 43.3%,#1484d4 49.8%,#0972de 57.2%,#066edf"></i><i style="--g:#fec13a,#fcbd40 5.2%,#eeb94b 9.2%,#c2bc5f 13.1%,#56bd8d 20%,#30b7a3 23%,#1bb2b0 26.5%,#0aacbd 31.9%,#079dcf 41.3%,#1484d4 47.8%,#0972de 54.7%,#066edf"></i><i style="--g:#fec13a,#fbbc41 5.2%,#edb94c 8.7%,#b8bd63 12.6%,#78bf7d 16.6%,#29b6a7 22.5%,#0aacbd 30.9%,#079ecf 40.3%,#1485d4 46.8%,#0972de 53.2%,#066edf"></i><i style="--g:#fec13a,#fcbd3f 4.7%,#efb94b 8.7%,#bcbd62 12.6%,#7cbf7b 16.6%,#2cb6a5 22.5%,#0aacbd 31.4%,#079dcf 40.8%,#1484d4 47.3%,#0972de 53.7%,#066edf"></i><i style="--g:#fec13a,#fbbc41 5.7%,#ecb94c 9.7%,#c0bc60 13.1%,#7abf7c 17.6%,#2fb7a3 23%,#1fb3ad 25.5%,#0bacbd 31.9%,#079dcf 41.8%,#1484d4 48.3%,#0972de 55.2%,#066edf"></i><i style="--g:#fec13a,#fbbd40 5.7%,#edb94c 9.7%,#cbbb5c 12.6%,#77bf7e 18.1%,#33b8a1 23%,#23b4ab 25%,#0eaeba 30.9%,#069ece 41.8%,#1484d4 48.8%,#0972de 55.2%,#066edf"></i><i style="--g:#fec13a,#fcbd40 5.2%,#eeb94b 9.2%,#c5bc5e 12.6%,#7fbf7a 17.1%,#2eb7a4 23%,#0eaeba 30.4%,#069fce 40.8%,#1484d4 48.3%,#0972de 55.2%,#066edf"></i><i style="--g:#fec13a,#fabb42 6.2%,#eab94d 9.7%,#7cbf7c 17.1%,#2cb7a5 23%,#0eaeba 30.4%,#069fce 40.8%,#1485d4 47.8%,#0972de 54.2%,#066edf"></i><i style="--g:#fec13a,#fbbc40 5.7%,#edb94c 9.7%,#b9bd63 13.6%,#7abf7c 17.6%,#2bb6a6 23.5%,#0faeb9 30.4%,#06a0cd 40.8%,#1485d4 48.3%,#0a73dd 54.2%,#066edf"></i><i style="--g:#fec13a,#fbbd40 5.7%,#eeb94b 9.7%,#c4bc5e 13.1%,#7fbf7a 17.6%,#2eb7a4 23.5%,#23b4ab 25%,#0eaeba 30.9%,#069fce 41.8%,#1485d4 48.8%,#0972de 55.2%,#066edf"></i><i style="--g:#fec13a,#fbbd40 5.7%,#eeb94b 9.7%,#bcbd62 13.6%,#7ebf7b 17.6%,#2db7a4 23.5%,#0eaeba 30.9%,#06a0cd 41.3%,#1484d4 48.8%,#0972de 55.2%,#066edf"></i><i style="--g:#fec13a,#fbbc40 5.7%,#ecb94c 9.7%,#babd63 13.6%,#7bbf7c 17.6%,#2cb6a5 23.5%,#0eaeba 30.9%,#069fce 41.3%,#1484d4 48.8%,#0972de 55.2%,#066edf"></i><i style="--g:#fec13a,#fabc41 5.7%,#ecb94d 9.2%,#b8bd63 13.1%,#7abf7c 17.1%,#30b7a3 22.5%,#22b4ac 24.5%,#0faeb9 30%,#06a0cd 40.3%,#1485d4 47.8%,#0972de 54.7%,#066edf"></i><i style="--g:#fec13a,#fcbd40 4.7%,#efb94b 8.2%,#bcbd61 12.1%,#7dbf7b 16.1%,#28b6a8 22.5%,#0eaeba 29.5%,#06a0cd 39.9%,#1484d4 47.3%,#0972de 53.7%,#066edf"></i><i style="--g:#fec13a,#fcbd40 4.7%,#efb94a 8.2%,#bebc61 12.1%,#78bf7d 16.6%,#29b6a7 22.5%,#0faeb9 29.5%,#06a0cd 39.9%,#1485d4 47.3%,#0972de 54.2%,#066edf"></i><i style="--g:#fec13a,#fabc41 5.7%,#ebb94d 9.2%,#81bf79 16.6%,#30b7a3 22.5%,#23b5ab 24%,#0faeb9 30%,#069fce 40.8%,#1484d4 48.3%,#0972de 54.7%,#066edf"></i><i style="--g:#fec13a,#fabc41 5.7%,#ecb94c 9.2%,#b8bd63 13.1%,#79bf7d 17.1%,#2bb6a6 23%,#0faeb9 30%,#06a0cd 40.8%,#1484d4 48.3%,#0a72de 54.2%,#066edf"></i><i style="--g:#fec13a,#fbbc41 5.2%,#ebb94d 8.7%,#80bf7a 16.1%,#2fb7a3 22%,#23b4ab 23.5%,#0faeb9 29.5%,#069fce 40.3%,#1485d4 47.3%,#0972de 53.7%,#066edf"></i><i style="--g:#fec03a,#fabc42 5.2%,#edb94c 8.2%,#babd62 12.1%,#7cbf7b 16.1%,#2cb7a5 22%,#0eaeba 29.5%,#069fce 39.9%,#1484d4 47.3%,#0972de 54.2%,#066edf"></i><i style="--g:#fec13a,#fbbc41 5.2%,#ebb94d 8.7%,#80bf7a 16.1%,#2fb7a3 22%,#23b5ab 23.5%,#0faeb9 29.5%,#069fce 40.3%,#1485d4 47.3%,#0972de 54.2%,#066edf"></i><i style="--g:#fec13a,#fcbd3f 4.7%,#efb94b 8.7%,#c7bc5d 12.1%,#76bf7e 17.6%,#32b8a2 22.5%,#1eb3ae 25.5%,#0eaeba 30.4%,#06a0cd 40.3%,#1484d4 48.3%,#0972de 55.7%,#066edf"></i><i style="--g:#fec13a,#f9bb44 7.2%,#e8b94f 10.6%,#7dbf7b 18.6%,#34b8a0 24%,#20b4ad 26.5%,#0aacbd 33.4%,#079dcf 42.8%,#1484d4 49.3%,#0972de 56.2%,#066edf"></i><i style="--g:#fec13a,#fabc41 7.2%,#ecb94d 11.6%,#bebc61 15.6%,#7fbf7a 20%,#2fb7a3 26%,#1db3af 29%,#0aacbd 34.9%,#079dcf 44.3%,#1484d4 50.7%,#0a73dd 56.7%,#066edf"></i><i style="--g:#fec13a,#f9bb43 8.7%,#e9b94e 13.1%,#7fbf7a 21.5%,#30b7a2 27.5%,#1fb3ae 30%,#0aacbe 36.4%,#079dcf 45.3%,#1485d4 51.7%,#0972de 58.2%,#066edf"></i><i style="--g:#fec13a,#fbbc41 8.2%,#edb94c 13.6%,#aabe69 19.6%,#2cb7a5 29%,#0aacbe 37.4%,#079dcf 46.3%,#1484d4 52.7%,#0a72de 58.7%,#066edf"></i><i style="--g:#fec13a,#fcbd3f 7.7%,#f0b94a 14.1%,#a6be6a 22.5%,#3cba9c 30.4%,#1bb2b0 35.4%,#0aacbe 39.9%,#06a0cd 46.8%,#1485d4 54.2%,#0e76dc 59.2%,#066edf"></i><i style="--g:#fec13a,#f8ba45 14.1%,#d9ba56 22%,#afbe67 26%,#7bbf7c 30%,#2ab6a6 36.4%,#1db3af 37.9%,#0bacbd 42.8%,#079ccf 51.2%,#1484d4 57.2%,#0972de 64.1%,#066edf"></i><i style="--g:#fec13a,#f8bb44 14.6%,#e1ba52 22%,#a3be6b 27.5%,#4ebc91 33.4%,#2cb7a5 36.4%,#1db3af 38.4%,#0bacbd 43.3%,#079dcf 51.7%,#1484d4 57.7%,#0a72de 63.6%,#066edf"></i><i style="--g:#fec13a,#f9bb43 11.6%,#e8b94f 17.1%,#b9bd63 22.5%,#2eb7a4 33.4%,#16b1b4 37.4%,#0bacbd 40.8%,#079dcf 49.3%,#1485d4 55.7%,#0b73dd 61.6%,#066edf"></i><i style="--g:#fec13a,#fbbc40 8.7%,#edb94c 14.6%,#a9be69 21.5%,#2eb7a4 30.9%,#1cb3b0 33.9%,#0bacbd 38.9%,#079ccf 47.8%,#1484d4 54.2%,#0a73dd 60.1%,#066edf"></i><i style="--g:#fec13a,#f9bb43 9.7%,#eab94e 14.6%,#a2be6c 21.5%,#2db7a4 30.4%,#0aacbd 38.4%,#079ccf 47.3%,#1484d4 53.7%,#0972de 60.1%,#066edf"></i><i style="--g:#fec13a,#fcbd40 7.7%,#eeb94b 13.6%,#e0ba52 15.6%,#a5be6b 21%,#30b7a2 30%,#21b4ac 31.9%,#0aacbd 38.4%,#079dcf 46.8%,#1483d4 53.7%,#0972de 60.1%,#066edf"></i><i style="--g:#fec13a,#fbbc40 8.2%,#eeb94b 13.6%,#aabe69 20.5%,#2fb7a3 30%,#21b4ac 31.9%,#0aacbe 38.4%,#079dcf 46.8%,#1485d4 53.2%,#0972de 60.1%,#066edf"></i><i style="--g:#fec13a,#fbbc41 8.2%,#edb94c 13.6%,#a8be6a 20.5%,#2eb7a4 30%,#20b4ad 31.9%,#0bacbd 37.9%,#079dcf 46.8%,#1484d4 53.2%,#0972de 60.1%,#066edf"></i><i style="--g:#fec13a,#f9bb43 9.7%,#eab94e 14.6%,#a5be6b 21%,#2cb7a5 30.4%,#0aacbd 38.4%,#079ecf 46.8%,#1484d4 53.7%,#0a72de 59.7%,#066edf"></i><i style="--g:#fec13a,#fbbc41 8.7%,#edb94c 14.6%,#a3be6b 21.5%,#29b6a7 30.9%,#0aacbe 38.9%,#079dcf 47.3%,#1485d4 53.7%,#0a72de 59.7%,#066edf"></i><i style="--g:#fec13a,#fabc42 9.2%,#ebb94d 14.6%,#a1be6c 21.5%,#27b5a8 30.9%,#0aacbd 38.4%,#079dcf 47.3%,#1484d4 53.7%,#0972de 59.7%,#066edf"></i><i style="--g:#fec13a,#fbbc40 8.2%,#edb94c 14.1%,#a4be6b 21%,#2ab6a7 30.4%,#0aacbe 38.4%,#079dcf 46.8%,#1483d4 53.7%,#0972de 59.7%,#066edf"></i><i style="--g:#fec13a,#f9bb43 9.2%,#eab94e 14.1%,#9fbe6d 21%,#2bb6a6 30%,#0aacbd 37.9%,#079cd0 46.8%,#1484d4 53.2%,#0972de 59.2%,#066edf"></i><i style="--g:#fec13a,#fbbc41 8.2%,#ecb94c 13.6%,#a6be6b 20.5%,#2cb7a5 30%,#0aacbd 37.9%,#079ccf 46.8%,#1484d4 53.2%,#0a73de 59.2%,#066edf"></i><i style="--g:#fec13a,#f9bb44 10.1%,#e8b94e 15.1%,#9ebe6e 22%,#30b7a3 30.4%,#23b4ab 31.9%,#0aacbe 38.9%,#079dcf 47.3%,#1483d5 54.2%,#0a72de 60.1%,#066edf"></i><i style="--g:#fec13a,#fdbe3e 7.7%,#f1b949 15.1%,#8cbf75 27%,#47bb95 31.9%,#26b5a9 36.4%,#0aacbd 41.8%,#06a0cd 48.8%,#1485d4 56.2%,#0f77db 60.6%,#066edf"></i><i style="--g:#fec13a,#f8bb44 15.1%,#daba55 24%,#c4bc5f 27.5%,#71bf80 33.9%,#2cb7a5 39.4%,#19b2b2 41.8%,#0aacbe 45.8%,#079dcf 53.2%,#1484d4 59.7%,#0971de 67.1%,#066edf"></i><i style="--g:#fec13a,#f9bb43 16.6%,#e9b94e 24%,#b3bd65 29.5%,#2bb6a6 39.4%,#0aacbd 46.3%,#079dcf 54.2%,#1484d4 60.1%,#0a73dd 65.6%,#066edf"></i><i style="--g:#fec13a,#f8ba44 14.6%,#deba53 22%,#abbe68 27%,#59bd8b 32.9%,#2bb6a6 36.9%,#1ab2b1 39.4%,#0aacbd 43.8%,#079dcf 51.7%,#1484d4 58.2%,#0a72de 64.6%,#066edf"></i><i style="--g:#fec13a,#fbbc40 9.7%,#eeb94b 16.1%,#b9bd63 22.5%,#36b99f 32.4%,#17b1b3 37.4%,#0aacbe 41.3%,#079cd0 49.8%,#1484d4 56.2%,#0c74dd 61.6%,#066edf"></i><i style="--g:#fec13a,#fbbc41 9.7%,#ecb94c 16.1%,#a4be6b 23%,#29b6a7 32.4%,#0aacbe 40.3%,#079dcf 48.8%,#1485d4 55.2%,#0972de 61.6%,#066edf"></i><i style="--g:#fec13a,#fabc42 10.1%,#eab94e 16.1%,#a0be6d 23%,#2cb7a5 31.9%,#0aacbd 39.9%,#079ccf 48.8%,#1484d4 55.2%,#0a72de 61.1%,#066edf"></i><i style="--g:#fec13a,#fcbd3f 8.2%,#efb94b 15.1%,#adbe68 22%,#2db7a4 31.9%,#0bacbd 39.9%,#079dcf 48.8%,#1484d4 55.2%,#0a73dd 61.1%,#066edf"></i><i style="--g:#fec13a,#f9bb43 11.6%,#e6b94f 17.6%,#a1be6c 24%,#2eb7a4 32.9%,#22b4ac 34.4%,#0aacbd 40.8%,#079ccf 49.8%,#1484d4 56.2%,#0972de 62.6%,#066edf"></i><i style="--g:#fec13a,#f9bb43 11.6%,#e9b94e 17.6%,#9fbe6d 24.5%,#2ab6a6 33.4%,#0aacbe 41.3%,#079dcf 49.8%,#1485d4 56.2%,#0972de 62.6%,#066edf"></i><i style="--g:#fec13a,#f9bb43 11.1%,#e9b94e 16.6%,#a0be6d 23.5%,#2db7a5 32.4%,#0aacbd 40.3%,#079dcf 49.3%,#1484d4 55.7%,#0a72de 61.6%,#066edf"></i><i style="--g:#fec13a,#fabc41 9.7%,#ecb94d 15.6%,#a5be6b 22.5%,#2bb6a6 31.9%,#0aacbd 39.9%,#079ccf 48.8%,#1484d4 55.2%,#0972de 61.6%,#066edf"></i><i style="--g:#fec13a,#fabc42 10.1%,#ebb94d 16.1%,#a3be6b 23%,#2ab6a6 32.4%,#0aacbe 40.3%,#079dcf 48.8%,#1484d4 55.7%,#0a72de 61.6%,#066edf"></i><i style="--g:#fec13a,#fbbd40 9.2%,#edb94c 16.1%,#a8be6a 23%,#2eb7a4 32.4%,#1eb3ae 34.9%,#0aacbe 40.8%,#079dcf 49.3%,#1485d4 55.7%,#0972de 62.1%,#066edf"></i><i style="--g:#fec13a,#fabc41 9.7%,#ecb94d 15.6%,#a6be6a 22.5%,#2db7a5 31.9%,#0aacbd 39.9%,#079dcf 48.8%,#1485d4 55.2%,#0a72de 61.6%,#066edf"></i><i style="--g:#fec13a,#fbbd40 8.2%,#edb94c 14.6%,#a7be6a 21.5%,#28b6a8 31.4%,#0aacbe 39.4%,#079dcf 47.8%,#1484d4 54.7%,#0a72de 60.6%,#066edf"></i><i style="--g:#fec13a,#f9bb43 9.7%,#e9b94e 14.6%,#9fbe6d 21.5%,#2cb7a5 30.4%,#0bacbd 38.4%,#079dcf 47.3%,#1483d5 54.2%,#0972de 60.1%,#066edf"></i><i style="--g:#fec13a,#fbbd40 7.7%,#edb94c 13.6%,#a8be6a 20.5%,#2ab6a6 30.4%,#0aacbd 38.4%,#079ccf 47.3%,#1484d4 53.7%,#0972de 60.1%,#066edf"></i><i style="--g:#fec13a,#fabc42 9.2%,#eab94e 14.6%,#a0be6d 21.5%,#2db7a4 30.4%,#0aacbe 38.9%,#079dcf 47.3%,#1484d4 54.2%,#0a72de 60.1%,#066edf"></i><i style="--g:#fec13a,#fbbc41 8.7%,#edb94c 14.6%,#a5be6b 21.5%,#27b5a8 31.4%,#0bacbd 38.9%,#079dcf 47.8%,#1483d4 54.7%,#0972de 60.6%,#066edf"></i><i style="--g:#fec13a,#fabc41 9.2%,#ecb94d 15.1%,#a3be6c 22%,#2ab6a6 31.4%,#0aacbd 39.4%,#079dcf 48.3%,#1484d4 54.7%,#0972de 61.1%,#066edf"></i><i style="--g:#fec13a,#fbbc40 8.7%,#edb94c 15.1%,#a6be6b 22%,#27b6a8 31.9%,#0bacbd 39.4%,#079dcf 48.3%,#1484d4 55.2%,#0972de 61.1%,#066edf"></i><i style="--g:#fec13a,#fbbc41 9.2%,#ecb94c 15.6%,#a5be6b 22.5%,#2cb6a5 31.9%,#0aacbd 39.9%,#079dcf 48.8%,#1485d4 55.2%,#0972de 61.6%,#066edf"></i><i style="--g:#fec13a,#fbbd40 9.2%,#edb94c 16.1%,#a8be6a 23%,#2ab6a7 32.9%,#0aacbe 40.8%,#079ecf 49.3%,#1484d4 56.2%,#0a73de 62.1%,#066edf"></i><i style="--g:#fec13a,#fabc42 10.6%,#ebb94d 17.1%,#a5be6b 24%,#2cb7a5 33.4%,#0aacbd 41.3%,#079dcf 50.2%,#1484d4 56.7%,#0972de 63.1%,#066edf"></i><i style="--g:#fec13a,#fabc42 10.6%,#eab94d 16.6%,#a4be6b 23.5%,#2db7a5 32.9%,#1db3af 35.4%,#0aacbd 40.8%,#079dcf 49.8%,#1484d4 56.2%,#0a72de 62.6%,#066edf"></i><i style="--g:#fec13a,#fbbd40 8.7%,#eeb94b 15.1%,#e1b952 17.1%,#adbe68 22%,#2eb7a4 31.9%,#1eb3ae 34.4%,#0aacbe 40.3%,#079ecf 48.8%,#1484d4 55.7%,#0a72de 62.1%,#066edf"></i><i style="--g:#fec13a,#fabc42 9.7%,#ebb94d 15.1%,#deba54 17.1%,#afbe67 21.5%,#2db7a5 31.9%,#1fb3ae 33.9%,#0aacbd 39.9%,#079dcf 48.8%,#1485d4 55.2%,#0a72de 62.1%,#066edf"></i><i style="--g:#fec13a,#f9bb43 10.1%,#e8b94f 15.1%,#a4be6b 22%,#32b8a1 30.9%,#1db3af 33.9%,#0bacbd 39.4%,#079dcf 48.3%,#1483d4 55.2%,#0972de 62.1%,#066edf"></i><i style="--g:#fec13a,#f8ba44 11.1%,#e5b950 16.6%,#a1be6d 23%,#2fb7a3 31.9%,#20b4ad 33.9%,#0aacbe 40.3%,#079ecf 48.8%,#1484d4 55.7%,#0972de 62.1%,#066edf"></i><i style="--g:#fec13a,#fbbc40 9.7%,#eeb94b 16.6%,#a3be6c 24%,#2ab6a6 33.4%,#0aacbd 41.3%,#079ccf 50.2%,#1484d4 56.7%,#0a72de 62.6%,#066edf"></i><i style="--g:#fec13a,#fbbc41 10.1%,#edb94c 17.1%,#a8be6a 24%,#2ab6a6 33.9%,#0aacbe 41.8%,#079ecf 50.2%,#1484d4 57.2%,#0972de 63.6%,#066edf"></i><i style="--g:#fec13a,#fbbc41 10.1%,#edb94c 16.6%,#a8be6a 23.5%,#2eb7a3 32.9%,#1eb3ae 35.4%,#0aacbe 41.3%,#079cd0 50.2%,#1484d4 56.7%,#0a72de 62.6%,#066edf"></i><i style="--g:#fec13a,#fbbc41 9.7%,#ecb94c 16.1%,#a5be6b 23%,#27b5a8 32.9%,#0bacbd 40.3%,#079dcf 49.3%,#1484d4 56.2%,#0a72de 62.1%,#066edf"></i><i style="--g:#fec13a,#fbbc41 9.7%,#edb94c 16.1%,#a6be6b 23%,#28b6a8 32.9%,#0aacbe 40.8%,#079ecf 49.3%,#1484d4 56.2%,#0a72de 62.1%,#066edf"></i><i style="--g:#fec13a,#fabc41 10.1%,#ecb94d 16.6%,#a4be6b 23.5%,#2cb7a5 32.9%,#0bacbd 40.8%,#079dcf 49.8%,#1483d4 56.7%,#0972de 62.6%,#066edf"></i><i style="--g:#fec13a,#fabc41 10.1%,#ebb94d 16.6%,#a3be6c 23.5%,#2ab6a6 32.9%,#0aacbd 40.8%,#079dcf 49.8%,#1485d4 56.2%,#0972de 62.6%,#066edf"></i><i style="--g:#fec13a,#fbbd40 9.2%,#edb94c 16.1%,#a6be6a 23%,#28b6a7 32.9%,#0aacbe 40.8%,#079cd0 49.8%,#1484d4 56.2%,#0a72de 62.1%,#066edf"></i><i style="--g:#fec13a,#fabc41 10.1%,#ecb94d 16.6%,#a4be6b 23.5%,#2cb6a5 32.9%,#0bacbd 40.8%,#079dcf 49.8%,#1484d4 56.7%,#0a72de 62.6%,#066edf"></i><i style="--g:#fec13a,#fbbc41 10.1%,#edb94c 17.1%,#a5be6b 24.5%,#2cb7a5 33.9%,#0bacbd 41.8%,#079dcf 50.7%,#1485d4 57.2%,#0b73dd 63.1%,#066edf"></i><i style="--g:#fec13a,#f9bb43 13.1%,#e8b94f 19.6%,#a5be6b 26%,#2db7a5 35.4%,#1fb3ae 37.4%,#0aacbd 43.3%,#079cd0 52.2%,#1484d4 58.7%,#0972de 65.1%,#066edf"></i><i style="--g:#fec13a,#f8ba44 13.6%,#e7b94f 19.6%,#a6be6b 26%,#2eb7a4 35.4%,#21b4ac 36.9%,#0aacbd 43.3%,#079dcf 52.2%,#1484d4 58.7%,#0972de 65.1%,#066edf"></i><i style="--g:#fec13a,#fabc41 10.6%,#ecb94c 17.1%,#abbe69 24%,#2db7a5 33.9%,#0bacbd 41.8%,#079dcf 50.7%,#1483d4 57.7%,#0b73dd 63.1%,#066edf"></i><i style="--g:#fec13a,#fcbd3f 9.2%,#f0b94a 16.6%,#9bbf6f 27%,#3fba9a 33.9%,#1db3af 38.9%,#0aacbd 43.3%,#079ecf 51.2%,#1485d4 58.2%,#0e76dc 63.1%,#066edf"></i><i style="--g:#fec13a,#f8ba44 16.1%,#d6ba57 26%,#aebe67 30%,#2bb6a6 40.3%,#1bb2b1 42.3%,#0aacbd 46.8%,#079dcf 54.7%,#1484d4 61.1%,#0972de 68.1%,#066edf"></i><i style="--g:#fec13a,#f9bb43 17.1%,#eab94e 25.5%,#a5be6b 31.9%,#2fb7a3 40.3%,#1fb4ad 42.3%,#0bacbd 47.8%,#079ecf 55.7%,#1484d4 62.1%,#0a72de 67.6%,#066edf"></i><i style="--g:#fec13a,#f8ba44 16.1%,#deba53 24%,#a5be6b 29.5%,#59bd8b 34.9%,#2cb7a5 38.9%,#1ab2b1 41.3%,#0bacbd 45.8%,#079dcf 54.2%,#1484d4 60.6%,#0a72de 67.1%,#066edf"></i><i style="--g:#fec13a,#fabc42 11.6%,#ecb94d 17.6%,#b8bd63 24%,#30b7a2 34.9%,#0bacbd 42.8%,#079ccf 51.7%,#1485d4 58.2%,#0b74dd 64.1%,#066edf"></i><i style="--g:#fec13a,#fbbc41 9.7%,#edb94c 16.1%,#e0ba52 18.1%,#a7be6a 23.5%,#2fb7a3 32.9%,#21b4ac 34.9%,#0aacbd 41.3%,#079dcf 50.2%,#1484d4 57.2%,#0972de 64.1%,#066edf"></i><i style="--g:#fec13a,#fabb42 11.6%,#ebb94d 17.6%,#b0bd67 24%,#2eb7a4 34.4%,#1ab2b1 37.9%,#0aacbe 42.8%,#079dcf 51.2%,#1484d4 58.2%,#0b73dd 64.1%,#066edf"></i><i style="--g:#fec13a,#f8ba44 14.6%,#e6b950 21%,#adbe68 27%,#45bb96 34.9%,#2cb6a5 37.4%,#0bacbd 44.8%,#079dcf 53.7%,#1485d4 60.1%,#0b73dd 66.6%,#066edf"></i><i style="--g:#fec13a,#f8ba44 16.6%,#e5b950 24%,#a5be6b 30%,#30b7a3 38.9%,#20b4ad 40.8%,#0aacbd 46.8%,#079ecf 55.2%,#1485d4 61.6%,#0972de 68.1%,#066edf"></i><i style="--g:#fec13a,#fbbc41 14.6%,#edb94c 24.5%,#a5be6b 31.4%,#2cb6a5 40.3%,#0bacbd 47.8%,#079dcf 56.2%,#1484d4 62.6%,#0a73de 68.1%,#066edf"></i><i style="--g:#fec13a,#fbbc41 15.1%,#edb94c 25%,#e0ba52 27%,#aebe67 31.4%,#2db7a4 40.8%,#1fb3ad 42.8%,#0bacbd 48.3%,#079dcf 56.7%,#1485d4 62.6%,#0a72de 68.6%,#066edf"></i><i style="--g:#fec13a,#f9bb44 14.6%,#d7ba56 24.5%,#b3bd65 28.5%,#29b6a7 39.9%,#18b1b2 42.3%,#0aacbd 46.3%,#079dcf 54.7%,#1484d4 61.1%,#0a72de 68.1%,#066edf"></i><i style="--g:#fec13a,#f8bb44 12.1%,#e9b94e 16.6%,#a7be6a 25%,#38b99e 33.9%,#1bb2b0 38.4%,#0aacbd 42.8%,#079dcf 51.2%,#1485d4 58.2%,#0c74dd 64.6%,#066edf"></i><i style="--g:#fec13a,#f8bb44 12.1%,#e8b94f 17.6%,#a3be6c 24.5%,#2fb7a3 33.9%,#1eb3ae 36.4%,#0aacbd 42.3%,#079dcf 51.2%,#1484d4 58.2%,#0a72de 64.6%,#066edf"></i><i style="--g:#fec13a,#fbbd40 10.1%,#eeb94b 17.6%,#e5b950 19.1%,#a8be6a 25%,#2cb7a5 34.9%,#0aacbe 43.3%,#079dcf 52.2%,#1483d4 59.2%,#0972de 65.6%,#066edf"></i><i style="--g:#fec13a,#fbbd40 9.7%,#eeb94b 17.1%,#a7be6a 24.5%,#2cb6a5 34.4%,#0aacbe 42.8%,#079dcf 51.7%,#1484d4 58.7%,#0a73de 64.6%,#066edf"></i><i style="--g:#fec13a,#fbbd40 9.7%,#edb94c 17.1%,#a3be6c 24.5%,#28b6a8 34.4%,#0aacbd 42.3%,#079dcf 51.2%,#1484d4 58.2%,#0972de 64.6%,#066edf"></i><i style="--g:#fec13a,#fbbc41 10.1%,#ecb94c 17.1%,#a1be6c 24.5%,#2cb7a5 33.9%,#0aacbd 42.3%,#079dcf 51.2%,#1484d4 58.2%,#0972de 64.6%,#066edf"></i><i style="--g:#fec13a,#fcbd3f 9.2%,#efb94b 16.6%,#cebb5a 21%,#afbe67 24%,#34b8a0 33.9%,#19b2b2 38.4%,#0bacbd 42.8%,#079dcf 51.7%,#1485d4 58.7%,#0c74dd 64.6%,#066edf"></i><i style="--g:#fec13a,#f8bb44 14.1%,#e3b951 21%,#a3be6b 27.5%,#4fbc90 33.9%,#2cb7a5 37.4%,#1cb2b0 39.9%,#0aacbe 45.3%,#079ccf 54.2%,#1485d4 60.6%,#0a73de 67.6%,#066edf"></i><i style="--g:#fec13a,#fabb42 14.6%,#ebb94d 22.5%,#a6be6b 29.5%,#2eb7a4 38.9%,#1eb3ae 41.3%,#0aacbe 47.3%,#079dcf 55.7%,#1484d4 62.6%,#0b73dd 68.1%,#066edf"></i><i style="--g:#fec13a,#fcbd40 12.6%,#eeb94b 22.5%,#e1b952 24.5%,#a9be69 30%,#2cb7a5 39.9%,#0aacbd 47.8%,#079ecf 56.2%,#1484d4 63.1%,#0b73dd 68.6%,#066edf"></i><i style="--g:#fec13a,#f9bb43 15.1%,#e9b94e 22.5%,#a2be6c 30%,#2cb7a5 39.4%,#0aacbd 47.3%,#079dcf 55.7%,#1484d4 62.6%,#0b74dd 68.1%,#066edf"></i><i style="--g:#fec13a,#f9bb44 14.1%,#e8b94f 20.5%,#a4be6b 28%,#29b6a7 38.4%,#0aacbd 45.8%,#079dcf 54.2%,#1484d4 61.1%,#0a73dd 67.6%,#066edf"></i><i style="--g:#fec13a,#f9bb43 13.1%,#e9b94e 19.1%,#a0be6d 27.5%,#33b8a1 36.4%,#1eb3ae 39.4%,#0bacbd 44.8%,#079dcf 53.7%,#1484d4 60.6%,#0a73de 67.1%,#066edf"></i><i style="--g:#fec13a,#f8bb44 14.1%,#e7b94f 20.5%,#9abf6f 29%,#2bb6a6 38.4%,#0aacbd 45.8%,#079dcf 54.2%,#1484d4 61.1%,#0a73dd 67.6%,#066edf"></i><i style="--g:#fec13a,#fbbd40 12.1%,#eeb94b 21%,#d6ba57 24.5%,#9fbe6d 30.4%,#2eb7a4 39.9%,#0aacbe 47.8%,#079dcf 55.7%,#1484d4 62.6%,#0b74dd 68.1%,#066edf"></i><i style="--g:#fec13a,#f8ba44 16.1%,#f1b94a 20.5%,#e0ba52 24%,#90bf73 32.9%,#34b8a0 40.3%,#1db3af 43.3%,#0aacbd 48.3%,#079dcf 56.2%,#1484d4 63.1%,#0c74dd 68.6%,#066edf"></i><i style="--g:#fec13a,#fbbc40 12.1%,#edb94c 20.5%,#d4bb58 24.5%,#9cbf6e 30.9%,#2cb7a5 40.3%,#0bacbd 47.3%,#079dcf 55.2%,#1484d4 62.1%,#0c74dd 67.6%,#066edf"></i><i style="--g:#fec13a,#f9bb43 13.1%,#eab94e 20%,#90bf73 30.9%,#27b5a8 39.9%,#0aacbe 46.3%,#079dcf 53.7%,#1484d4 60.6%,#0a73de 67.1%,#066edf"></i><i style="--g:#fec13a,#f8bb44 14.1%,#e8b94f 20%,#c4bc5e 26%,#9bbf6f 30.9%,#31b8a2 40.3%,#0aacbd 47.3%,#079dcf 54.2%,#1485d4 61.1%,#0d75dc 67.1%,#066edf"></i><i style="--g:#fec13a,#f8ba44 16.6%,#deba53 26%,#99bf6f 34.4%,#23b5ab 45.3%,#0aacbe 50.2%,#079dcf 57.2%,#1484d4 63.6%,#0d75dc 69.6%,#066edf"></i><i style="--g:#fec13a,#fbbc40 15.1%,#edb94c 26%,#bfbc60 32.4%,#87bf77 38.9%,#2ab6a7 46.3%,#0aacbe 52.2%,#079dcf 58.7%,#1485d4 65.1%,#0d75dc 70%,#066edf"></i><i style="--g:#fec13a,#f8bb44 19.1%,#e5b950 28%,#89bf76 39.4%,#2bb6a6 46.8%,#09acbe 52.7%,#079dcf 59.2%,#1484d4 65.6%,#0c75dd 70.5%,#066edf"></i><i style="--g:#fec13a,#f8bb44 19.1%,#e8b94f 27.5%,#89bf76 39.4%,#2bb6a6 46.8%,#09acbe 52.7%,#079cd0 59.2%,#1485d4 65.1%,#0d75dc 70%,#066edf"></i><i style="--g:#fec13a,#f9bb43 18.1%,#e9b94e 27.5%,#87bf77 39.9%,#24b5aa 47.8%,#0aacbe 52.7%,#079cd0 59.2%,#1485d4 65.1%,#0d75dc 70%,#066edf"></i><i style="--g:#fec13a,#fbbc41 15.6%,#edb94c 27%,#88bf77 39.9%,#24b5aa 47.8%,#0aacbe 52.7%,#079cd0 59.2%,#1485d4 65.1%,#0d75dc 70%,#066edf"></i><i style="--g:#fec13a,#fbbc40 15.6%,#edb94c 27%,#89bf76 39.9%,#26b5a9 47.8%,#09abbf 53.2%,#079dcf 59.2%,#1484d4 65.6%,#0c74dd 70.5%,#066edf"></i><i style="--g:#fec13a,#fabc42 18.1%,#ecb94d 28.5%,#d1bb59 32.9%,#a5be6b 38.4%,#83bf78 41.8%,#2fb7a3 48.3%,#0aacbe 54.2%,#079cd0 60.6%,#1484d4 66.6%,#0c75dd 71.5%,#066edf"></i><i style="--g:#fec13a,#f9bb43 21%,#e9b94e 30.4%,#ddba54 32.9%,#91bf73 41.8%,#28b6a8 50.2%,#09abbf 55.7%,#079dcf 61.6%,#1485d4 67.6%,#0c75dd 72.5%,#066edf"></i><i style="--g:#fec13a,#f8bb44 20.5%,#e7b94f 29.5%,#d2bb59 32.9%,#9bbf6f 39.4%,#26b5a9 49.3%,#09abbf 54.7%,#079dcf 60.6%,#1484d4 67.1%,#0c75dc 72%,#066edf"></i><i style="--g:#fec13a,#fbbc41 15.1%,#edb94c 25.5%,#d2bb59 30%,#93bf72 37.4%,#2db7a4 45.8%,#0aacbe 52.2%,#079dcf 58.7%,#1485d4 65.1%,#0c74dd 70.5%,#066edf"></i><i style="--g:#fec13a,#fbbc41 14.6%,#ecb94c 25%,#89bf76 36.9%,#27b5a8 44.8%,#0aacbd 50.7%,#079ecf 57.7%,#1484d4 64.6%,#0c74dd 69.6%,#066edf"></i><i style="--g:#fec13a,#fbbd40 14.1%,#edb94c 25%,#92bf72 35.9%,#29b6a7 44.3%,#0aacbd 50.7%,#079dcf 58.2%,#1484d4 64.6%,#0b74dd 70%,#066edf"></i><i style="--g:#fec13a,#f9bb43 16.6%,#eab94e 25%,#9cbf6e 34.4%,#27b5a8 44.3%,#09acbe 50.7%,#079cd0 58.2%,#1484d4 64.6%,#0b74dd 70%,#066edf"></i><i style="--g:#fec13a,#fbbd40 13.1%,#eeb94c 23%,#d6ba57 26.5%,#9abf6f 32.9%,#2db7a4 41.8%,#0aacbe 49.3%,#079cd0 57.2%,#1484d4 63.6%,#0b74dd 69.1%,#066edf"></i><i style="--g:#fec13a,#f9bb43 15.1%,#e7b94f 22.5%,#9bbf6f 30.9%,#3fba9a 38.4%,#27b5a8 40.8%,#0aacbe 47.8%,#079dcf 55.7%,#1484d4 62.6%,#0b73dd 68.6%,#066edf"></i><i style="--g:#fec13a,#f9bb43 13.1%,#eab94d 19.6%,#d2bb59 23%,#9fbe6d 28.5%,#2ab6a6 38.4%,#09acbe 45.8%,#079dcf 53.7%,#1484d4 60.6%,#0b74dd 66.6%,#066edf"></i><i style="--g:#fec13a,#fabc42 11.1%,#ebb94d 17.6%,#9dbe6e 26.5%,#2cb7a5 35.9%,#0aacbd 43.3%,#079dcf 51.7%,#1484d4 58.7%,#0b73dd 64.6%,#066edf"></i><i style="--g:#fec13a,#f9bb44 10.6%,#e3b951 16.6%,#9bbf6f 24.5%,#4cbc92 30.9%,#29b6a7 34.4%,#0aacbd 41.3%,#079cd0 49.8%,#1485d4 56.2%,#0a72de 63.6%,#066edf"></i><i style="--g:#fec13a,#fcbd3f 6.7%,#efb94b 12.1%,#cfbb5a 16.6%,#a0be6d 21.5%,#2fb7a3 30.9%,#0aacbe 38.9%,#079dcf 46.8%,#1485d4 53.7%,#0d75dc 59.2%,#066edf"></i><i style="--g:#fec13a,#fabc42 7.2%,#eab94e 11.6%,#98bf70 20.5%,#28b6a8 30%,#0aacbd 36.9%,#079dcf 45.3%,#1485d4 51.7%,#0a72de 58.7%,#066edf"></i><i style="--g:#fec13a,#fabc41 6.2%,#ecb94d 10.1%,#97bf71 19.6%,#2ab6a7 28.5%,#0aacbe 35.9%,#079dcf 43.8%,#1484d4 50.7%,#0b73dd 56.7%,#066edf"></i><i style="--g:#fec13a,#fbbd40 5.2%,#edb94c 9.2%,#95bf71 19.1%,#28b6a8 28%,#0aacbd 34.9%,#079dcf 42.8%,#1484d4 49.8%,#0a72de 55.7%,#066edf"></i><i style="--g:#fec13a,#fbbd40 5.2%,#edb94c 9.2%,#93bf72 19.6%,#2db7a5 28%,#0aacbe 35.4%,#079ccf 43.3%,#1485d4 49.8%,#0b73dd 55.7%,#066edf"></i><i style="--g:#fec13a,#fabc42 6.2%,#eab94e 10.1%,#8ebf74 21%,#27b5a8 30%,#0aacbd 36.4%,#079dcf 44.3%,#1484d4 51.2%,#0a72de 57.7%,#066edf"></i><i style="--g:#fec03b,#f9bb43 6.2%,#e9b94e 10.1%,#8cbf75 21.5%,#2ab6a6 30%,#09acbe 36.9%,#079dcf 44.3%,#1484d4 51.2%,#0972de 58.2%,#066edf"></i><i style="--g:#fec03b,#f9bb43 5.7%,#e3b951 10.1%,#88bf77 21.5%,#2fb7a3 29%,#1db3af 31.4%,#09acbe 36.4%,#079cd0 43.8%,#1484d4 50.7%,#0972de 58.2%,#066edf"></i><i style="--g:#febf3d,#f9bb43 5.2%,#e6b950 9.2%,#8abf76 21%,#2eb7a4 29%,#0aacbe 35.9%,#079dcf 43.3%,#1484d4 50.2%,#0972de 58.2%,#066edf"></i><i style="--g:#fbbd40,#f5ba46 5.2%,#e1ba52 9.2%,#84bf78 21%,#2bb6a5 28.5%,#09abbf 35.4%,#079dcf 42.3%,#1484d4 49.3%,#0b74dd 55.2%,#066edf"></i><i style="--g:#fcbd3f,#f5ba47 5.7%,#dcba54 10.1%,#87bf77 21%,#2fb7a3 28.5%,#0aacbd 35.4%,#079dcf 42.8%,#1484d4 49.8%,#0d75dc 55.2%,#066edf"></i><i style="--g:#fcbd3f,#f7ba45 5.7%,#e1ba52 10.1%,#92bf72 20.5%,#2fb7a3 29.5%,#19b2b1 32.4%,#0aacbe 36.4%,#079dcf 43.3%,#1484d4 50.7%,#0972de 59.2%,#066edf"></i><i style="--g:#f8ba44,#f0b94a 6.2%,#d7ba56 10.1%,#89bf76 20%,#31b8a2 27.5%,#09abbf 34.9%,#079ccf 41.8%,#1484d4 48.8%,#0d76dc 53.7%,#066edf"></i><i style="--g:#f5ba47,#eeb94b 5.7%,#e2b951 7.7%,#84bf78 19.6%,#25b5a9 27.5%,#0aacbe 33.4%,#079dcf 40.3%,#1484d4 47.3%,#0a72de 53.7%,#066edf"></i><i style="--g:#f9bb43,#f2b949 5.2%,#e2b951 8.2%,#85bf78 20%,#27b5a8 28%,#09abbf 34.4%,#079dcf 41.3%,#1484d4 48.3%,#0a73de 54.7%,#066edf"></i><i style="--g:#fdbe3e,#f7ba45 5.2%,#e0ba53 9.7%,#88bf77 21%,#2cb6a5 29%,#09abbf 35.9%,#079dcf 42.8%,#1484d4 49.8%,#0b73dd 56.2%,#066edf"></i><i style="--g:#fec03b,#f9bb44 6.2%,#e9b94e 9.7%,#8cbf75 22%,#24b5aa 31.4%,#09acbe 37.4%,#079dcf 44.3%,#1484d4 51.7%,#0972de 58.7%,#066edf"></i><i style="--g:#fec13a,#fabc42 6.2%,#eab94e 10.1%,#89bf76 23%,#24b5aa 31.9%,#0aacbd 37.9%,#079dcf 45.3%,#1485d4 52.2%,#0972de 59.2%,#066edf"></i><i style="--g:#febf3c,#f8ba44 6.2%,#e6b950 10.1%,#91bf73 21.5%,#25b5aa 31.4%,#0aacbe 37.4%,#079cd0 44.8%,#1484d4 51.7%,#0972de 59.2%,#066edf"></i><i style="--g:#f9bb43,#f4ba47 5.2%,#d8ba56 10.1%,#93bf72 19.1%,#2ab6a6 28.5%,#09acbe 34.9%,#079dcf 41.8%,#1484d4 48.8%,#0c74dd 55.2%,#066edf"></i><i style="--g:#f1b949,#f0b94a 4.7%,#e2b951 7.2%,#88bf77 18.6%,#2db7a4 26%,#09abbe 32.9%,#079cd0 39.9%,#1485d4 46.3%,#0a73dd 53.2%,#066edf"></i><i style="--g:#f5ba47,#f0b94a 5.2%,#e2b952 7.7%,#88bf77 19.1%,#2ab6a6 27%,#09acbe 33.4%,#079dcf 40.3%,#1484d4 47.3%,#0c74dd 53.2%,#066edf"></i><i style="--g:#fbbc41,#f3ba48 5.7%,#daba55 9.7%,#88bf76 20%,#2cb6a5 28%,#0aacbd 34.4%,#079dcf 41.8%,#1484d4 48.8%,#0972de 56.2%,#066edf"></i><i style="--g:#fbbc41,#f2b949 5.7%,#daba55 9.7%,#84bf78 20.5%,#2bb6a6 28%,#0aacbd 34.4%,#079dcf 41.8%,#1484d4 48.8%,#0a72de 55.2%,#066edf"></i><i style="--g:#fbbd40,#f5ba47 5.2%,#e2b952 8.7%,#85bf78 20.5%,#28b6a8 28.5%,#09acbe 34.9%,#079dcf 41.8%,#1485d4 48.8%,#0a73dd 55.2%,#066edf"></i><i style="--g:#febf3d,#f8ba44 5.2%,#e2b951 9.2%,#86bf77 21%,#25b5a9 29.5%,#0aacbe 35.4%,#079ccf 42.8%,#1484d4 49.8%,#0972de 56.7%,#066edf"></i><i style="--g:#fbbc41,#f5ba46 5.2%,#daba55 9.7%,#91bf73 19.1%,#24b5aa 29%,#0aacbd 34.4%,#079ccf 41.8%,#1484d4 48.8%,#0972de 56.2%,#066edf"></i><i style="--g:#eeb94b,#efb94b 4.2%,#dbba55 7.7%,#94bf72 16.6%,#28b6a8 26%,#09abbe 31.9%,#079dcf 38.4%,#1484d4 45.3%,#0c75dd 51.7%,#066edf"></i><i style="--g:#e3b951,#ecb94d 3.7%,#e5b950 5.2%,#8abf76 16.1%,#2db7a5 23.5%,#09abbe 30%,#079dcf 36.4%,#1484d4 42.8%,#0971de 51.2%,#066edf"></i><i style="--g:#ecb94d,#f0b94a 4.2%,#cbbb5c 10.1%,#8bbf75 17.6%,#37b99e 24.5%,#09abbe 31.9%,#079dcf 38.4%,#1485d4 44.8%,#0f78db 49.8%,#0871df 58.7%,#066edf"></i><i style="--g:#fbbc40,#f9bb44 5.2%,#deba53 11.1%,#98bf70 20%,#26b5a9 30.9%,#0aacbe 36.4%,#079dcf 43.3%,#1485d4 50.2%,#0a72de 58.7%,#066edf"></i><i style="--g:#fec03b,#f9bb44 6.7%,#e5b950 11.1%,#93bf72 22%,#27b5a9 31.9%,#0aacbe 37.9%,#079ccf 45.3%,#1484d4 52.2%,#0972de 59.7%,#066edf"></i><i style="--g:#fdbe3e,#f4ba47 6.2%,#d8ba56 11.1%,#8bbf75 21%,#2fb7a3 29%,#0aacbe 35.9%,#079dcf 42.8%,#1485d4 49.8%,#0c74dd 56.2%,#066edf"></i><i style="--g:#fabb42,#f3ba48 5.2%,#e0ba53 8.7%,#87bf77 20%,#29b6a7 28%,#0aacbe 34.4%,#079dcf 41.3%,#1485d4 48.3%,#0a73de 54.7%,#066edf"></i><i style="--g:#f8ba45,#f1b949 5.2%,#e1b952 8.2%,#88bf77 19.6%,#25b5a9 28%,#0aacbe 33.9%,#079dcf 40.8%,#1485d4 47.8%,#0972de 54.7%,#066edf"></i><i style="--g:#f6ba46,#efb94b 5.7%,#dcba54 8.7%,#85bf78 19.6%,#27b5a8 27.5%,#0aacbd 33.4%,#079cd0 40.8%,#1485d4 47.3%,#0a72de 54.2%,#066edf"></i><i style="--g:#f7ba45,#f0b94a 5.7%,#e1b952 8.2%,#87bf77 19.6%,#29b6a7 27.5%,#0aacbe 33.9%,#079dcf 40.8%,#1484d4 47.8%,#0a72de 54.2%,#066edf"></i><i style="--g:#fabb42,#f3b948 5.2%,#e0ba53 8.7%,#86bf77 20%,#29b6a7 28%,#0aacbe 34.4%,#079dcf 41.3%,#1485d4 48.3%,#0972de 55.2%,#066edf"></i><i style="--g:#fabc42,#f2b949 5.7%,#d9ba55 9.7%,#83bf79 20.5%,#2ab6a7 28%,#0aacbe 34.4%,#079cd0 41.8%,#1484d4 48.8%,#0a72de 55.2%,#066edf"></i><i style="--g:#fbbc40,#f4ba47 5.2%,#e2b952 8.7%,#85bf78 20.5%,#27b6a8 28.5%,#09acbe 34.9%,#079dcf 41.8%,#1484d4 48.8%,#0972de 55.7%,#066edf"></i><i style="--g:#fabc41,#f2b949 5.7%,#daba55 9.7%,#83bf78 20.5%,#26b5a9 28.5%,#0aacbd 34.4%,#079ccf 41.8%,#1484d4 48.8%,#0a72de 55.2%,#066edf"></i><i style="--g:#f7ba45,#efb94a 5.7%,#e0ba52 8.2%,#87bf77 19.6%,#24b5aa 28%,#09acbe 33.9%,#079dcf 40.8%,#1484d4 47.8%,#0a72de 54.2%,#066edf"></i><i style="--g:#f5ba46,#efb94b 5.7%,#dfba53 8.2%,#84bf78 19.6%,#2ab6a6 27%,#0aacbe 33.4%,#079dcf 40.3%,#1484d4 47.3%,#0a72de 54.2%,#066edf"></i><i style="--g:#f7ba45,#f1b94a 5.2%,#e4b951 7.7%,#86bf77 19.6%,#28b6a7 27.5%,#09abbe 33.9%,#079dcf 40.8%,#1484d4 47.8%,#0972de 54.7%,#066edf"></i><i style="--g:#f6ba46,#f1b949 4.7%,#e7b94f 7.2%,#85bf78 19.6%,#27b5a8 27.5%,#09abbf 33.9%,#079ccf 40.8%,#1485d4 47.3%,#0a73de 53.7%,#066edf"></i><i style="--g:#f5ba46,#eeb94b 5.7%,#dfba53 8.2%,#85bf78 19.6%,#26b5a9 27.5%,#0aacbd 33.4%,#079ecf 40.3%,#1485d4 47.3%,#0972de 53.7%,#066edf"></i><i style="--g:#f7ba45,#f1b94a 5.2%,#e1ba52 8.2%,#87bf77 19.6%,#25b5aa 28%,#0aacbe 33.9%,#079dcf 40.8%,#1484d4 47.8%,#0972de 54.2%,#066edf"></i><i style="--g:#f5ba47,#f2b949 4.7%,#e2b952 7.7%,#8cbf75 18.6%,#26b5a9 27.5%,#09acbe 33.4%,#079dcf 40.3%,#1484d4 47.3%,#0972de 54.7%,#066edf"></i><i style="--g:#efb94a,#efb94b 4.7%,#e4b950 6.7%,#89bf76 18.1%,#2fb7a3 25.5%,#09acbe 32.4%,#079cd0 39.4%,#1485d4 45.8%,#0a72de 53.2%,#066edf"></i><i style="--g:#efb94b,#e7b94f 6.2%,#88bf76 18.1%,#29b6a7 26%,#09abbf 32.4%,#079cd0 39.4%,#1484d4 45.8%,#0972de 52.7%,#066edf"></i><i style="--g:#efb94b,#e7b94f 6.2%,#84bf78 18.6%,#29b6a7 26%,#09abbe 32.4%,#079cd0 39.4%,#1485d4 45.8%,#0a72de 52.2%,#066edf"></i><i style="--g:#eeb94c,#edb94c 5.2%,#e6b94f 6.2%,#87bf77 18.1%,#27b5a8 26%,#0aacbd 31.9%,#079dcf 38.9%,#1484d4 45.8%,#0972de 52.2%,#066edf"></i><i style="--g:#edb94c,#e9b94e 5.7%,#86bf77 18.1%,#26b5a9 26%,#0aacbe 31.9%,#079dcf 38.9%,#1485d4 45.3%,#0972de 51.7%,#066edf"></i><i style="--g:#edb94c,#e9b94e 5.7%,#86bf77 18.1%,#25b5a9 26%,#09acbe 31.9%,#079ccf 38.9%,#1485d4 45.3%,#0972de 51.7%,#066edf"></i><i style="--g:#eeb94b,#ebb94d 5.7%,#88bf76 18.1%,#28b6a7 26%,#09abbf 32.4%,#079cd0 39.4%,#1484d4 45.8%,#0972de 52.2%,#066edf"></i><i style="--g:#f4ba47,#f0b94a 5.2%,#deba53 8.2%,#86bf77 19.1%,#2cb7a5 26.5%,#0aacbd 32.9%,#079dcf 39.9%,#1484d4 46.8%,#0b74dd 52.7%,#066edf"></i><i style="--g:#fcbd3f,#f7ba45 5.2%,#e1ba52 9.2%,#90bf73 19.6%,#26b5a9 29%,#09acbe 34.9%,#079dcf 41.8%,#1484d4 48.8%,#0a73dd 55.2%,#066edf"></i><i style="--g:#fcbd3f,#f8ba45 5.2%,#e2b951 9.2%,#92bf72 19.6%,#28b6a7 29%,#0aacbd 34.9%,#079cd0 42.3%,#1485d4 48.8%,#0972de 56.7%,#066edf"></i><i style="--g:#f9bb43,#f5ba47 5.2%,#e1b952 8.7%,#8bbf75 19.6%,#2fb7a3 27.5%,#19b2b1 30.4%,#09acbe 34.4%,#079dcf 41.3%,#1484d4 48.3%,#0971de 56.7%,#066edf"></i><i style="--g:#fdbd3e,#f8ba45 5.2%,#e5b950 8.7%,#91bf73 19.6%,#23b4ab 29.5%,#0aacbe 34.9%,#079dcf 41.8%,#1485d4 48.8%,#0972de 56.2%,#066edf"></i><i style="--g:#fec13a,#f9bb43 5.7%,#e7b94f 9.2%,#87bf77 21.5%,#2ab6a7 29.5%,#0aacbd 35.9%,#079ccf 43.3%,#1484d4 50.2%,#0a73de 56.7%,#066edf"></i><i style="--g:#fec13a,#f9bb43 6.2%,#e5b950 10.1%,#8bbf75 22%,#26b5a9 30.9%,#0aacbd 36.9%,#079dcf 44.3%,#1485d4 51.2%,#0a73de 58.2%,#066edf"></i><i style="--g:#febf3d,#f8ba45 6.2%,#e2b952 10.6%,#93bf72 21%,#28b6a8 30.9%,#0aacbd 36.9%,#079dcf 44.3%,#1485d4 51.2%,#0971de 59.7%,#066edf"></i><i style="--g:#fabb42,#f1b949 6.2%,#daba55 10.1%,#88bf77 20.5%,#30b7a3 28%,#0aacbd 34.9%,#079cd0 42.3%,#1484d4 49.3%,#0d76dc 54.2%,#066edf"></i><i style="--g:#f9bb44,#f0b94a 5.7%,#dbba55 9.2%,#80bf7a 20.5%,#26b5a9 28%,#0aacbd 33.9%,#079dcf 41.3%,#1484d4 48.3%,#0a72de 54.2%,#066edf"></i><i style="--g:#fabb42,#f3ba48 5.2%,#e0ba53 8.7%,#87bf77 20%,#29b6a7 28%,#0aacbe 34.4%,#079dcf 41.3%,#1485d4 48.3%,#0972de 55.2%,#066edf"></i><i style="--g:#f8ba44,#f0b94a 5.7%,#daba55 9.2%,#88bf77 19.6%,#26b5a9 28%,#0aacbe 33.9%,#079dcf 40.8%,#1485d4 47.8%,#0a72de 54.7%,#066edf"></i><i style="--g:#f4ba47,#e8b94e 6.7%,#87bf77 19.1%,#29b6a7 27%,#09acbe 33.4%,#079dcf 40.3%,#1484d4 47.3%,#0a72de 53.7%,#066edf"></i><i style="--g:#f2b949,#eeb94b 5.2%,#e3b951 7.2%,#85bf78 19.1%,#26b5a9 27%,#0aacbe 32.9%,#079dcf 39.9%,#1484d4 46.8%,#0972de 53.7%,#066edf"></i><i style="--g:#eeb94b,#eeb94b 4.7%,#e7b94f 6.2%,#88bf77 18.1%,#28b6a8 26%,#0aacbd 31.9%,#079dcf 38.9%,#1484d4 45.8%,#0b73dd 51.7%,#066edf"></i><i style="--g:#ecb94d,#e8b94e 5.7%,#89bf76 17.6%,#29b6a7 25.5%,#09abbf 31.9%,#079dcf 38.4%,#1484d4 45.3%,#0a72de 51.7%,#066edf"></i><i style="--g:#f4ba47,#f2b949 4.7%,#deba53 8.2%,#8bbf75 18.6%,#29b6a7 27%,#09abbf 33.4%,#079cd0 40.3%,#1485d4 46.8%,#0c75dc 52.7%,#066edf"></i><i style="--g:#fdbe3e,#f8ba45 5.2%,#e9b94e 8.2%,#93bf72 19.6%,#26b5a9 29.5%,#0aacbe 35.4%,#079dcf 42.3%,#1485d4 49.3%,#0972de 56.7%,#066edf"></i><i style="--g:#fec13a,#f8ba44 6.2%,#e0ba52 10.6%,#84bf78 22.5%,#2cb7a5 30%,#0aacbe 36.9%,#079cd0 44.3%,#1484d4 51.2%,#0b74dd 57.2%,#066edf"></i><i style="--g:#fec13a,#f9bb43 6.7%,#e8b94f 10.6%,#90bf73 22.5%,#24b5aa 32.4%,#09acbe 38.4%,#079cd0 45.8%,#1484d4 52.7%,#0a72de 59.7%,#066edf"></i><i style="--g:#fec13a,#f8bb44 7.7%,#e7b94f 11.6%,#86bf77 24.5%,#2ab6a6 32.4%,#09acbe 39.4%,#079cd0 46.8%,#1484d4 53.7%,#0a72de 60.1%,#066edf"></i><i style="--g:#fec13a,#f9bb43 7.7%,#e9b94e 12.1%,#88bf77 25%,#24b5aa 33.9%,#0aacbe 39.9%,#079dcf 47.3%,#1485d4 54.2%,#0972de 61.1%,#066edf"></i></div><div class="hb"><i style="--g:#f8d627,#ffc338 4%,#f8ba44 6.4%,#90bf73 19.5%,#2eb7a4 30.2%,#17b1b3 33.6%,#0aacbd 36.7%,#06a3ca 43.3%,#1389d3"></i><i style="--g:#fbd02c,#ffc338 3.3%,#f7ba45 6%,#7dbf7b 20.2%,#2db7a4 28.4%,#16b1b4 31.9%,#0aacbe 35.3%,#06a3cb 42.9%,#1389d3"></i><i style="--g:#fad12b,#ffc337 3.3%,#f8bb44 6%,#90bf73 18.4%,#30b7a3 28.4%,#17b1b3 31.9%,#0aacbd 35.3%,#06a3ca 42.6%,#1389d3"></i><i style="--g:#f9d329,#ffc437 3.6%,#f8bb44 6.4%,#90bf73 19.1%,#2db7a4 29.5%,#16b1b4 32.9%,#0aacbd 36%,#06a3ca 42.9%,#1389d3"></i><i style="--g:#f9d329,#ffc338 4%,#f7ba45 6.7%,#91bf73 19.1%,#2eb7a4 29.5%,#16b1b3 32.9%,#0aacbe 36.4%,#06a3cb 43.6%,#1389d3"></i><i style="--g:#f5de21,#fccd2f 5%,#fec239 11.2%,#ecb94c 16.7%,#9cbf6e 26.7%,#2cb7a5 36.4%,#16b1b4 39.5%,#0aacbe 42.6%,#06a4ca 49.1%,#06a0cd 56.4%,#1389d3"></i><i style="--g:#f9fa0e,#f5e41d 12.6%,#fec932 25.7%,#f9bb44 31.2%,#e0ba52 36%,#c7bc5d 39.1%,#87bf77 45.3%,#37b99e 50.9%,#17b1b3 54.3%,#0aacbe 56.7%,#06a0cd 68.4%,#1389d3"></i><i style="--g:#f9fb0e,#f8f90f 7.8%,#f5e41d 16%,#ffc337 32.9%,#f9bb44 36.7%,#c7bc5d 43.6%,#aebe67 46.4%,#68be84 51.2%,#3cba9c 54%,#22b4ab 56%,#14b0b5 58.1%,#0aacbe 61.2%,#06a0cd 72.6%,#1389d3"></i><i style="--g:#f9fb0e,#f9f90f 9.5%,#f5e41d 18.1%,#fdbe3e 38.4%,#f1b949 40.9%,#b5bd65 49.1%,#75bf7f 54%,#2db7a5 58.8%,#1ab2b1 60.5%,#0faeb9 62.6%,#07a9c3 65.7%,#06a3cb 70.2%,#1389d3"></i><i style="--g:#f7f511,#f5e41d 8.4%,#fec833 23.6%,#f8bb44 28.8%,#cfbb5a 35.7%,#8dbf75 42.6%,#3dba9b 48.8%,#1cb3b0 52.9%,#0aacbe 56.4%,#06a0cd 68.1%,#1389d3"></i><i style="--g:#f6de22,#fccd2e 5%,#ffc337 11.6%,#fdbe3d 14.3%,#f5ba47 16.7%,#a3be6c 26.7%,#62be87 32.2%,#26b5a9 37.4%,#14b0b5 39.8%,#0aacbe 42.9%,#06a4c9 48.8%,#06a0cd 56.7%,#1389d3"></i><i style="--g:#f9d528,#ffc337 7.1%,#f9bb43 11.2%,#94bf72 22.9%,#2db7a4 32.9%,#17b1b3 36%,#09acbe 39.5%,#06a4c9 44.3%,#06a0cd 53.3%,#1389d3"></i><i style="--g:#f8d627,#ffc337 7.4%,#f8ba44 11.6%,#94bf72 23.3%,#2db7a4 33.3%,#17b1b3 36.4%,#0aacbe 39.5%,#06a3ca 46%,#1389d3"></i><i style="--g:#f9d429,#ffc337 6.7%,#f8ba45 11.2%,#91bf73 22.9%,#2db7a5 32.6%,#16b1b4 35.7%,#09acbe 39.1%,#06a4c9 44%,#06a0cd 52.9%,#1389d3"></i><i style="--g:#f9d329,#ffc337 6.7%,#f9bb43 10.9%,#92bf72 22.6%,#2eb7a4 32.2%,#17b1b3 35.3%,#09acbe 38.8%,#06a4ca 44%,#06a0cd 52.6%,#1389d3"></i><i style="--g:#f9d429,#ffc337 6.7%,#f7ba45 11.2%,#93bf72 22.6%,#2fb7a3 32.2%,#15b1b4 35.7%,#0aacbe 38.8%,#06a3cb 45.7%,#1389d3"></i><i style="--g:#f9d528,#ffc337 7.1%,#f8ba44 11.2%,#92bf72 22.9%,#2eb7a4 32.6%,#15b1b4 36%,#0aacbe 39.1%,#06a3cb 46%,#1389d3"></i><i style="--g:#f8d627,#ffc337 7.4%,#f8ba44 11.6%,#94bf72 23.3%,#2db7a4 33.3%,#17b1b3 36.4%,#09acbe 39.8%,#06a4c9 44.7%,#06a0cd 53.6%,#1389d3"></i><i style="--g:#f7d826,#ffc337 7.8%,#f7ba45 11.9%,#92bf72 24%,#2cb7a5 34%,#16b1b4 37.1%,#0aacbe 40.2%,#06a3ca 46.7%,#1389d3"></i><i style="--g:#f8d726,#ffc337 7.4%,#f9bb43 11.6%,#93bf72 23.6%,#2db7a4 33.6%,#17b1b3 36.7%,#09acbe 40.2%,#06a4c9 45%,#06a0cd 54%,#1389d3"></i><i style="--g:#f7d826,#ffc337 7.8%,#f8ba45 11.9%,#92bf72 24%,#2db7a4 34%,#16b1b3 37.1%,#0aacbe 40.2%,#06a3ca 46.7%,#1389d3"></i><i style="--g:#f7d826,#ffc337 7.8%,#f7ba45 11.9%,#91bf73 24%,#2cb7a5 34%,#16b1b4 37.1%,#09acbe 40.5%,#06a4c9 45.3%,#06a0cd 54%,#1389d3"></i><i style="--g:#f7da24,#ffc337 8.1%,#f9bb43 11.9%,#9abf6f 23.6%,#2eb7a4 34.3%,#16b1b4 37.8%,#09acbe 40.9%,#06a4ca 45.7%,#06a0cd 54%,#1389d3"></i><i style="--g:#f8d726,#ffc337 7.4%,#f9bb44 11.6%,#93bf72 23.6%,#2db7a4 33.6%,#17b1b3 36.7%,#0aacbd 39.8%,#06a3cb 46.7%,#1389d3"></i><i style="--g:#f8d727,#ffc337 8.1%,#f5ba47 12.6%,#95bf71 23.6%,#2eb7a4 33.3%,#16b1b4 36.7%,#0aacbd 39.8%,#06a3cb 48.4%,#1389d3"></i><i style="--g:#f5eb18,#f7d826 5.3%,#ffc337 15.7%,#f8ba44 18.8%,#e3b951 21.9%,#a6be6a 28.8%,#70bf81 33.6%,#2bb6a6 39.5%,#15b0b4 42.6%,#0aacbd 45.3%,#06a2cb 55.3%,#1389d3"></i><i style="--g:#f9fb0e,#f6ef16 9.5%,#fec733 25.3%,#f9bb43 29.5%,#e0ba52 33.6%,#a5be6b 40.2%,#71bf80 44.7%,#30b7a2 49.8%,#17b1b3 53.3%,#0aacbe 56%,#06a0cd 67.1%,#1389d3"></i><i style="--g:#f9fb0e,#f9f90f 8.1%,#f5e41d 15.3%,#ffc437 29.5%,#fbbc41 32.6%,#afbe67 41.9%,#71bf80 47.1%,#23b5ab 53.3%,#14b0b5 55.3%,#0aacbe 58.4%,#06a4c9 63.6%,#06a0cd 69.5%,#1389d3"></i><i style="--g:#f9fb0e,#f9f90f 7.4%,#f5e41d 14.7%,#fec832 27.1%,#fbbd40 32.2%,#afbe67 41.6%,#72bf80 46.7%,#25b5aa 52.9%,#15b0b5 55%,#0aacbd 58.1%,#06a4c9 63.6%,#06a0cd 69.5%,#1389d3"></i><i style="--g:#f9fa0e,#f5e41d 10.2%,#fec932 21.9%,#f9bb44 26.7%,#e1b952 30.5%,#a6be6a 37.1%,#70bf81 41.9%,#2eb7a4 47.4%,#0aacbe 53.6%,#06a0cd 65.7%,#128ad3"></i><i style="--g:#f5e61b,#fad22a 5.3%,#ffc337 13.6%,#f8ba44 17.4%,#9cbf6e 27.8%,#27b5a8 38.4%,#15b0b5 41.2%,#0aacbe 44.7%,#06a3cb 53.6%,#128cd2"></i><i style="--g:#f5e71b,#fad22a 4.7%,#ffc337 11.6%,#f9bb43 15%,#9dbf6e 26.4%,#27b5a8 38.1%,#16b1b4 40.5%,#0aacbe 44%,#06a3ca 50.9%,#128cd2"></i><i style="--g:#f5e21f,#fcce2d 4%,#ffc337 8.8%,#f8bb44 12.2%,#9bbf6f 24.3%,#2eb7a4 35.7%,#16b1b3 39.1%,#0aacbd 42.9%,#06a3ca 50.5%,#128cd2"></i><i style="--g:#f5e21e,#fbcf2c 3.6%,#ffc337 8.4%,#f8ba45 11.9%,#99bf6f 24.3%,#2cb7a5 36%,#15b1b4 39.5%,#0aacbd 42.9%,#06a3ca 50.5%,#128cd2"></i><i style="--g:#f5e31e,#fbd02c 3.6%,#ffc337 8.4%,#f8ba44 11.9%,#9abf6f 24.3%,#2db7a4 36%,#16b1b4 39.5%,#0aacbe 43.3%,#06a3ca 50.9%,#118cd2"></i><i style="--g:#f5e41d,#fbcf2c 4%,#ffc337 8.8%,#f9bb43 11.9%,#9abf6f 24.7%,#2db7a4 36.4%,#16b1b3 39.8%,#0aacbe 43.6%,#06a3ca 50.9%,#118cd2"></i><i style="--g:#f5e51c,#fad22b 3.6%,#ffc437 8.8%,#f8ba44 12.2%,#9cbf6e 24.7%,#27b6a8 37.4%,#16b1b4 40.2%,#0aacbe 44%,#06a3ca 51.6%,#118cd2"></i><i style="--g:#f5e81b,#fad32a 4%,#ffc337 9.5%,#f8ba45 12.6%,#9bbf6f 25.3%,#2cb7a5 37.4%,#16b1b4 40.9%,#0aacbd 44.3%,#06a3ca 51.6%,#118dd2"></i><i style="--g:#f5e31e,#fbd02c 3.6%,#ffc437 8.4%,#f8bb44 11.9%,#9bbf6f 24.3%,#2eb7a4 36%,#17b1b3 39.5%,#0aacbd 43.3%,#06a3ca 50.9%,#118dd2"></i><i style="--g:#f6dd22,#fccd2f 3.6%,#ffc437 7.4%,#f7ba45 11.2%,#91bf73 24%,#2db7a4 34.3%,#16b1b4 37.8%,#0aacbd 41.6%,#06a3ca 49.5%,#118dd2"></i><i style="--g:#f5df21,#fcce2e 3.6%,#ffc437 7.8%,#f9bb43 11.2%,#92bf73 24.3%,#2cb7a5 35%,#15b1b4 38.4%,#0aacbe 42.2%,#06a3ca 49.8%,#118dd2"></i><i style="--g:#f5e21f,#fcce2e 4%,#ffc337 8.4%,#f9bb43 11.6%,#9bbf6f 24%,#2db7a4 35.7%,#16b1b4 39.1%,#0aacbe 42.9%,#06a3ca 50.2%,#118dd2"></i><i style="--g:#f5df20,#fcce2e 3.6%,#ffc437 7.8%,#f7ba45 11.6%,#93bf72 24.3%,#2db7a4 35%,#16b1b4 38.4%,#0aacbd 42.2%,#06a3ca 49.8%,#118ed2"></i><i style="--g:#f5e11f,#fccf2d 3.6%,#ffc337 8.1%,#f8bb44 11.6%,#99bf70 24%,#2eb7a4 35.3%,#17b1b3 38.8%,#0aacbe 42.6%,#06a3ca 49.8%,#118ed2"></i><i style="--g:#f5df20,#fcce2e 3.6%,#ffc437 7.8%,#f9bb43 11.2%,#9cbf6f 23.3%,#2db7a5 35%,#16b1b4 38.4%,#0aacbd 42.2%,#06a3ca 49.8%,#108ed2"></i><i style="--g:#f5e21e,#fbcf2c 3.6%,#ffc337 8.4%,#f8ba45 11.9%,#99bf6f 24.3%,#2cb7a5 36%,#15b1b4 39.5%,#0aacbd 42.9%,#06a3ca 50.2%,#108ed2"></i><i style="--g:#f5e31e,#fbcf2c 4%,#ffc437 8.8%,#f9bb44 12.2%,#9bbf6f 24.7%,#27b6a8 37.1%,#16b1b4 39.8%,#0aacbe 43.6%,#06a3ca 51.2%,#108ed2"></i><i style="--g:#f5e81a,#f9d429 4.3%,#ffc437 10.9%,#f8ba44 14.3%,#9bbf6f 26.7%,#62be87 32.6%,#24b5aa 39.1%,#16b1b4 41.6%,#0aacbe 45.3%,#06a3ca 53.3%,#108ed2"></i><i style="--g:#f5ed17,#f8d826 5%,#ffc437 12.9%,#f8ba44 16.4%,#a5be6b 27.8%,#64be86 34.3%,#24b5aa 40.9%,#15b0b4 43.3%,#0aacbd 47.1%,#06a3ca 55.3%,#108ed2"></i><i style="--g:#f7f512,#f5e31d 4.7%,#ffc437 15.7%,#f9bb43 18.8%,#a6be6a 30.5%,#64be86 37.1%,#25b5a9 43.3%,#15b0b5 46%,#0aacbd 49.5%,#06a3ca 57.8%,#108ed2"></i><i style="--g:#f5ee16,#f7d925 5.7%,#ffc337 14.7%,#f9bb43 17.8%,#a5be6b 29.5%,#64be86 36%,#24b5aa 42.6%,#15b1b4 45%,#0aacbd 48.8%,#06a3ca 57.1%,#108fd2"></i><i style="--g:#f5e11f,#fccd2e 5%,#ffc338 11.2%,#f9bb43 15%,#9cbf6f 27.1%,#2cb7a5 38.4%,#19b2b2 41.2%,#0faeb9 44%,#07a9c2 49.1%,#06a3ca 55%,#0f90d2"></i><i style="--g:#f6dd22,#fccd2e 4.3%,#ffc437 9.5%,#f8ba44 14%,#92bf72 27.1%,#2eb7a4 37.8%,#19b2b2 40.9%,#0faeb9 43.6%,#07a9c2 48.4%,#06a3ca 54.3%,#0f90d2"></i><i style="--g:#f6db24,#fdcc2f 4%,#ffc337 8.8%,#f8bb44 12.9%,#92bf73 26.4%,#2eb7a4 37.4%,#1ab2b1 40.5%,#0faeb9 43.6%,#07a9c2 48.4%,#06a3ca 54.3%,#0e91d2"></i><i style="--g:#f6db24,#fdcc2f 4%,#ffc337 8.8%,#f8bb44 12.9%,#92bf73 26.4%,#2eb7a4 37.4%,#18b1b2 40.9%,#0faeb9 43.6%,#06a3ca 54%,#0e91d2"></i><i style="--g:#f8d627,#ffc337 7.8%,#f7ba45 12.2%,#7bbf7c 27.4%,#2eb7a4 35.7%,#19b2b1 38.8%,#0faeb9 41.9%,#07aac2 46.7%,#06a3ca 52.9%,#0e91d2"></i><i style="--g:#fad32a,#ffc338 7.1%,#f8ba44 11.6%,#7bbf7c 26.4%,#30b7a3 34.3%,#19b2b2 37.8%,#10afb9 40.5%,#07a9c2 46%,#06a3ca 52.2%,#0e92d2"></i><i style="--g:#f8d627,#ffc337 7.8%,#f8ba45 12.2%,#91bf73 25%,#2fb7a3 35.7%,#18b1b2 39.1%,#0faeb9 41.9%,#07a9c2 46.7%,#06a3ca 52.6%,#0d92d2"></i><i style="--g:#f8d727,#ffc337 7.8%,#f8bb44 12.2%,#90bf73 25.3%,#2eb7a4 36%,#18b1b3 39.5%,#0faeb9 42.2%,#07a9c2 47.1%,#06a3ca 52.9%,#0d92d2"></i><i style="--g:#f9d528,#ffc337 7.4%,#f9bb43 11.9%,#8fbf74 25%,#30b7a3 35.3%,#18b2b2 38.8%,#0faeb9 41.6%,#07a9c2 46.7%,#06a3ca 52.6%,#0d92d2"></i><i style="--g:#f9d528,#ffc337 7.4%,#f9bb44 11.9%,#7cbf7c 27.1%,#2eb7a3 35.3%,#19b2b1 38.4%,#0faeb9 41.6%,#06a4ca 52.6%,#0d93d2"></i><i style="--g:#f7d826,#ffc337 8.1%,#f8ba45 12.6%,#90bf73 25.7%,#2fb7a3 36.4%,#18b1b2 39.8%,#0faeb9 42.6%,#06a3ca 52.9%,#0d93d2"></i><i style="--g:#f8d727,#ffc337 7.8%,#f8bb44 12.2%,#90bf73 25.3%,#2eb7a4 36%,#19b2b1 39.1%,#0faeb9 42.2%,#06a3ca 53.3%,#0d93d2"></i><i style="--g:#f7d826,#ffc337 8.1%,#f8ba45 12.6%,#90bf73 25.7%,#2fb7a3 36.4%,#18b1b2 39.8%,#0faeb9 42.6%,#07a9c2 47.8%,#06a3ca 53.6%,#0c93d2"></i><i style="--g:#f5e020,#fcce2d 4.3%,#ffc337 10.2%,#f9bb43 14.3%,#93bf72 27.8%,#2eb7a4 38.8%,#19b2b2 41.9%,#0faeb9 44.7%,#07a9c2 49.5%,#06a3ca 55%,#0c93d2"></i><i style="--g:#f5e11f,#fccf2d 4.7%,#ffc337 11.2%,#f9bb44 15.3%,#9abf6f 27.4%,#2db7a5 38.8%,#17b1b3 41.9%,#0faeb9 44.7%,#06a3ca 55.7%,#0c93d2"></i><i style="--g:#f5e51c,#fbcf2c 5.3%,#ffc337 12.6%,#f8bb44 16.7%,#9bbf6f 28.4%,#2cb7a5 39.5%,#18b2b2 42.2%,#0faeb9 45%,#07a9c2 50.2%,#06a3ca 56%,#0c93d2"></i><i style="--g:#f5e919,#f9d429 5.3%,#ffc337 14%,#f8ba44 17.8%,#9cbf6e 29.1%,#2cb7a5 40.2%,#18b1b2 42.9%,#0faeb9 45.7%,#06a4ca 56.4%,#0c94d2"></i><i style="--g:#f5e61c,#fad22b 5%,#ffc337 12.6%,#f8bb44 16.4%,#93bf72 28.8%,#2db7a4 39.1%,#1ab2b1 41.9%,#0faeb9 45%,#06a4ca 56%,#0c94d2"></i><i style="--g:#f5e21e,#fcce2d 5%,#ffc337 11.2%,#f9bb43 15%,#7cbf7b 29.8%,#2eb7a4 38.1%,#19b2b2 41.2%,#0faeb9 44.3%,#06a4ca 56%,#0b95d2"></i><i style="--g:#f5e51d,#fbd02c 4.7%,#ffc337 11.2%,#f9bb43 14.7%,#7bbf7c 30.2%,#2eb7a4 38.8%,#18b1b2 42.2%,#10afb8 45%,#07aac2 50.5%,#06a4ca 56.7%,#0b96d1"></i><i style="--g:#f5e81a,#f9d329 4.7%,#ffc337 11.9%,#f9bb43 15%,#7ebf7b 30.5%,#37b99e 38.4%,#1bb2b0 42.6%,#0fafb9 46%,#07a9c2 51.6%,#06a4ca 57.4%,#0a96d1"></i><i style="--g:#f5e61c,#fad12b 4.7%,#ffc337 11.2%,#f9bb44 14.7%,#7bbf7c 30.2%,#37b99e 37.8%,#1db3af 41.6%,#12afb7 44.3%,#07a9c2 51.6%,#06a4ca 58.1%,#0a96d1"></i><i style="--g:#f5ec18,#f8d826 4.7%,#ffc437 12.2%,#f9bb43 15.3%,#7dbf7b 31.2%,#37b99e 39.1%,#1bb2b0 43.3%,#10afb8 46.7%,#07aac2 52.2%,#06a4ca 58.4%,#0a96d1"></i><i style="--g:#f5eb19,#f8d627 4.7%,#ffc437 11.9%,#f9bb43 15%,#cfbb5a 20.2%,#7bbf7c 30.9%,#36b99f 38.8%,#1cb3af 42.6%,#11afb7 45.7%,#07a9c2 52.2%,#06a4ca 58.4%,#0a96d1"></i><i style="--g:#f5e81a,#fad32a 4.7%,#ffc437 11.2%,#f8ba44 14.7%,#c7bc5d 20.5%,#7dbf7b 29.8%,#37b99e 37.8%,#1cb2b0 41.9%,#11afb8 45%,#07a9c2 51.2%,#06a4ca 57.4%,#0a97d1"></i><i style="--g:#f5e11f,#fcce2d 4.3%,#ffc337 9.8%,#f9bb43 13.3%,#c4bc5e 19.1%,#7cbf7c 28.1%,#37b99e 35.7%,#1db3af 39.5%,#12b0b6 42.2%,#07a9c2 49.8%,#06a4ca 56.4%,#0a97d1"></i><i style="--g:#f5e51d,#fbd02c 4.7%,#ffc337 10.5%,#fabb42 13.6%,#c3bc5f 19.8%,#7cbf7c 28.8%,#38b99d 36.4%,#1cb3af 40.5%,#12afb7 43.3%,#07aac2 50.2%,#06a4ca 57.1%,#0a97d1"></i><i style="--g:#f5eb18,#f8d627 4.7%,#ffc437 11.6%,#f8bb44 14.7%,#c4bc5f 20.9%,#7cbf7c 30.2%,#37b99e 38.1%,#1cb2b0 42.2%,#11afb8 45.3%,#07aac2 51.6%,#06a4ca 58.1%,#0997d1"></i><i style="--g:#f5eb18,#f8d628 4.7%,#ffc337 11.6%,#f9bb42 14.3%,#c5bc5e 20.5%,#7dbf7b 29.8%,#38b99d 37.8%,#1db3af 41.9%,#13b0b6 44.3%,#07a9c2 51.9%,#06a4ca 58.4%,#0997d1"></i><i style="--g:#f5ee17,#f7d925 4.7%,#ffc437 11.9%,#f9bb43 14.7%,#c5bc5e 20.9%,#7bbf7c 30.5%,#37b99e 38.4%,#1cb3b0 42.6%,#12afb7 45.3%,#07a9c2 52.2%,#06a4ca 58.4%,#0997d1"></i><i style="--g:#f5ea19,#f9d528 4.7%,#ffc437 11.2%,#fabc42 14%,#c1bc60 20.5%,#7cbf7b 29.5%,#38b99e 37.4%,#1cb3af 41.6%,#13b0b6 44%,#07a9c2 51.9%,#06a4ca 58.4%,#0998d1"></i><i style="--g:#f5ee17,#f7d925 4.7%,#ffc337 11.9%,#fabb42 14.3%,#c2bc5f 20.9%,#7bbf7c 30.2%,#37b99e 38.1%,#1cb3af 42.2%,#13b0b6 44.7%,#07aac2 52.2%,#06a4ca 58.8%,#0998d1"></i><i style="--g:#f6f015,#ffc337 12.2%,#f9bb43 14.7%,#c1bc60 21.2%,#7bbf7c 30.5%,#38b99e 38.4%,#1db3af 42.6%,#13b0b6 45.3%,#07aac2 52.6%,#06a4ca 59.5%,#0998d1"></i><i style="--g:#f6ef15,#ffc337 11.9%,#f9bb42 14.3%,#c2bc5f 20.9%,#7bbf7c 30.2%,#38b99e 38.1%,#1db3af 42.2%,#13b0b6 45%,#07a9c2 52.6%,#06a4ca 59.1%,#0998d1"></i><i style="--g:#f5ee16,#f7d925 4.7%,#ffc437 11.6%,#f9bb44 14.3%,#b9bd63 21.6%,#7cbf7c 29.8%,#38b99d 37.8%,#1db3af 41.9%,#13b0b6 44.7%,#07a9c2 52.2%,#06a4ca 58.8%,#0998d1"></i><i style="--g:#f5ea19,#f9d528 4.3%,#ffc437 10.9%,#f9bb43 13.6%,#c2bc5f 19.8%,#7dbf7b 28.8%,#39b99d 36.7%,#1db3af 40.9%,#13b0b6 43.6%,#07a9c2 51.6%,#06a4ca 58.4%,#0998d1"></i><i style="--g:#f5e91a,#f9d429 4.7%,#ffc337 10.9%,#fabb42 13.6%,#c2bc5f 19.8%,#7dbf7b 28.8%,#39b99d 36.7%,#1db3af 40.9%,#14b0b6 43.3%,#07aac2 51.6%,#06a4ca 58.8%,#0998d1"></i><i style="--g:#f5eb18,#f8d628 4.7%,#ffc437 11.2%,#fabc42 14%,#c0bc60 20.5%,#7cbf7b 29.5%,#38b99d 37.4%,#1db3af 41.6%,#13b0b6 44%,#07aac2 52.2%,#06a4ca 59.5%,#0998d1"></i><i style="--g:#f5ea19,#f9d429 4.7%,#ffc337 11.2%,#fabc42 14%,#c0bc60 20.5%,#7bbf7c 29.5%,#38b99e 37.4%,#14b0b5 43.6%,#07aac2 52.6%,#06a4ca 60.2%,#0998d1"></i><i style="--g:#f6ef16,#f7d925 5%,#ffc437 12.2%,#f9bb43 15%,#c1bc60 21.6%,#7ebf7b 30.5%,#38b99e 38.8%,#1db3af 42.9%,#14b0b6 45.3%,#07a9c2 54%,#06a4ca 61.2%,#0998d1"></i><i style="--g:#f5ee16,#f7d925 5%,#ffc437 12.2%,#f9bb43 15%,#c2bc5f 21.6%,#7cbf7c 30.9%,#38b99d 38.8%,#1db3af 42.9%,#14b0b5 45.3%,#07a9c2 54.3%,#06a4ca 61.6%,#0998d1"></i><i style="--g:#f5e919,#f9d429 4.7%,#ffc337 11.6%,#fabc42 14.3%,#c1bc60 20.9%,#7cbf7b 29.8%,#38b99d 37.8%,#14b0b5 44%,#07aac2 53.6%,#06a4ca 61.6%,#0998d1"></i><i style="--g:#f5ec17,#f7d826 4.7%,#ffc337 12.2%,#f9bb43 15%,#c4bc5e 21.2%,#7ebf7b 30.5%,#37b99e 38.8%,#1db3af 42.9%,#14b0b5 45.3%,#07aac2 54.3%,#06a4ca 61.9%,#0998d1"></i><i style="--g:#f5eb18,#f8d727 4.7%,#ffc337 12.2%,#f9bb43 15%,#c1bc60 21.6%,#7dbf7b 30.5%,#39b99d 38.4%,#14b0b5 45%,#07aac2 54.3%,#06a4ca 61.9%,#0998d1"></i><i style="--g:#f5e51d,#fbd02c 4.7%,#ffc337 10.9%,#f8ba44 14.3%,#b9bd63 21.2%,#7cbf7b 29.1%,#3ab99c 36.7%,#1eb3ae 40.9%,#14b0b5 43.3%,#07a9c2 53.3%,#06a4ca 60.9%,#0998d1"></i><i style="--g:#f5e11f,#fcce2e 4.7%,#ffc337 10.2%,#f9bb43 13.6%,#b8bd63 20.5%,#7abf7c 28.4%,#40ba99 35%,#22b4ac 39.1%,#15b0b5 41.9%,#0aacbe 49.1%,#06a4ca 60.9%,#0998d1"></i><i style="--g:#f5e51c,#fbd02c 4.7%,#ffc337 11.2%,#fabc42 14.3%,#c3bc5f 20.5%,#7dbf7b 29.5%,#38b99d 37.4%,#15b0b5 43.6%,#06a7c6 57.8%,#0998d1"></i><i style="--g:#f5ea19,#f9d528 5%,#ffc337 12.6%,#fabb42 15.3%,#c3bc5f 21.9%,#7cbf7c 31.2%,#38b99d 39.1%,#15b0b5 45.3%,#06a7c6 59.8%,#0998d1"></i><i style="--g:#f6ef15,#f7da24 5.3%,#ffc337 13.6%,#f9bb44 16.4%,#c6bc5e 22.6%,#7bbf7c 32.6%,#39b99d 40.5%,#1eb3ae 44.7%,#14b0b5 47.1%,#06a7c6 61.6%,#0998d1"></i><i style="--g:#f6f214,#ffc437 14%,#f9bb43 16.7%,#cebb5a 22.2%,#7bbf7c 33.3%,#39b99d 41.2%,#14b0b5 47.8%,#06a7c6 62.2%,#0998d1"></i><i style="--g:#f5ec17,#f8d726 5%,#ffc437 12.9%,#f9bb43 16%,#c3bc5f 22.6%,#7cbf7b 31.9%,#39b99d 39.8%,#15b0b5 46%,#06a7c6 61.6%,#0998d1"></i><i style="--g:#f5eb18,#f8d627 5%,#ffc337 12.9%,#fabb42 15.7%,#c6bc5d 21.9%,#7dbf7b 31.6%,#39b99d 39.5%,#1db3af 43.6%,#14b0b5 46%,#06a7c6 60.5%,#0998d1"></i><i style="--g:#f5e21e,#fcce2d 4.7%,#ffc337 10.9%,#f9bb43 14.3%,#c1bc60 20.5%,#7dbf7b 29.1%,#39b99d 36.7%,#15b0b5 42.9%,#06a7c6 58.8%,#0998d1"></i><i style="--g:#f5e21f,#fcce2d 4.7%,#ffc338 10.9%,#f9bb43 14.3%,#c0bc60 20.5%,#7bbf7c 29.1%,#38b99e 36.7%,#15b0b5 42.6%,#06a7c6 58.4%,#0998d1"></i><i style="--g:#f5e91a,#f9d329 5%,#ffc337 12.2%,#fabb42 15.3%,#c9bc5d 21.2%,#7dbf7b 30.9%,#38b99e 38.8%,#15b0b5 45%,#06a7c6 60.2%,#0998d1"></i><i style="--g:#f5eb18,#f8d727 5%,#ffc337 12.9%,#f9bb43 16%,#c5bc5e 22.2%,#7ebf7b 31.6%,#39b99d 39.5%,#15b0b5 45.7%,#06a7c6 61.2%,#0998d1"></i><i style="--g:#f5e71b,#fad12b 5%,#ffc337 11.9%,#f9bb44 15.3%,#c2bc5f 21.6%,#7cbf7b 30.5%,#39b99d 38.1%,#15b1b4 44%,#07a9c2 57.1%,#06a3ca 66.4%,#0998d1"></i><i style="--g:#f5ed17,#f7d826 5%,#ffc337 13.3%,#f8bb44 16.4%,#c5bc5e 22.6%,#7ebf7b 31.9%,#39b99d 39.8%,#15b0b5 46%,#06a7c6 61.6%,#0998d1"></i><i style="--g:#f5ec18,#f8d727 5%,#ffc437 12.9%,#f9bb43 16%,#c9bc5c 21.9%,#7bbf7c 31.9%,#38b99d 39.5%,#15b1b4 45.3%,#06a7c6 61.9%,#0998d1"></i><i style="--g:#f5e71b,#fad22b 5%,#ffc337 11.9%,#f9bb43 15.3%,#c3bc5f 21.6%,#7cbf7b 30.5%,#39b99d 38.1%,#15b1b4 44%,#07a9c2 57.1%,#06a3ca 66.7%,#0998d1"></i><i style="--g:#f5ea19,#f9d528 5%,#ffc337 12.6%,#f9bb43 15.7%,#c9bc5d 21.6%,#7cbf7b 31.2%,#39b99d 38.8%,#1db3af 42.9%,#15b0b5 45%,#06a7c6 61.6%,#0998d1"></i><i style="--g:#f5ec17,#f7d826 5%,#ffc337 13.3%,#fabc42 16%,#d1bb59 21.2%,#7cbf7b 31.9%,#36b99f 39.8%,#15b0b4 45.7%,#06a7c6 61.9%,#0998d1"></i><i style="--g:#f5e71b,#fad12b 5%,#ffc337 11.9%,#f9bb43 15.3%,#c3bc5f 21.6%,#7bbf7c 30.5%,#37b99e 38.1%,#15b1b4 43.6%,#07a9c2 57.4%,#06a3ca 67.4%,#0998d1"></i><i style="--g:#f5ed17,#f7d826 5%,#ffc337 13.3%,#f9bb44 16.4%,#7cbf7b 31.9%,#39b99d 39.5%,#15b1b4 45.3%,#07a9c2 58.1%,#06a3ca 67.8%,#0998d1"></i><i style="--g:#f5ea19,#f9d528 5%,#ffc437 12.6%,#f8ba44 16%,#7cbf7b 31.2%,#38b99d 38.8%,#15b1b4 44.7%,#07a9c2 58.4%,#06a3ca 68.4%,#0998d1"></i><i style="--g:#f5ee16,#f7d925 5.3%,#ffc337 13.6%,#f8ba44 16.7%,#7dbf7b 32.2%,#37b99e 40.2%,#15b0b5 46%,#07a9c2 59.1%,#06a3ca 68.8%,#0998d1"></i><i style="--g:#f5ed17,#f7d826 5.3%,#ffc337 13.6%,#f9bb43 16.4%,#d0bb59 21.6%,#7bbf7c 32.2%,#38b99e 39.8%,#15b1b4 45.7%,#07a9c2 59.1%,#06a3ca 69.5%,#0998d1"></i><i style="--g:#f5ee16,#f7d925 5.3%,#ffc337 14%,#f9bb43 16.7%,#d0bb59 21.9%,#88bf77 31.2%,#39b99d 40.2%,#1eb3ae 44%,#15b0b5 46.4%,#07a9c2 60.2%,#06a3ca 70.5%,#0998d1"></i><i style="--g:#f6f313,#f5de21 5.7%,#ffc337 15%,#f9bb43 17.8%,#87bf77 32.6%,#37b99e 41.9%,#15b0b5 47.8%,#07a9c2 61.6%,#0998d1"></i><i style="--g:#f7f412,#f5e31e 4.7%,#ffc337 15.3%,#f9bb43 18.1%,#88bf76 32.9%,#38b99e 42.2%,#15b1b4 48.1%,#07a9c2 62.6%,#0998d1"></i><i style="--g:#f7f412,#f5e31d 4.7%,#ffc437 15.3%,#f8ba44 18.4%,#88bf77 33.3%,#38b99e 42.6%,#15b1b4 48.4%,#07a9c2 62.9%,#0998d1"></i><i style="--g:#f6ef16,#f7d925 5.7%,#ffc437 14.3%,#f9bb43 17.4%,#d0bb59 22.6%,#7cbf7b 33.3%,#37b99e 41.2%,#15b0b4 47.1%,#07a9c2 61.9%,#0998d1"></i><i style="--g:#f5ef16,#f7d925 5.7%,#ffc437 14.3%,#f9bb42 17.4%,#d7ba57 21.9%,#86bf77 32.2%,#38b99d 41.2%,#15b1b4 47.1%,#07a9c2 61.6%,#0998d1"></i><i style="--g:#f6ef16,#f7da25 5.7%,#ffc337 14.7%,#f9bb44 17.8%,#7dbf7b 33.6%,#38b99e 41.6%,#15b1b4 47.4%,#07a9c2 62.2%,#0998d1"></i><i style="--g:#f6f015,#f6dc23 5.7%,#ffc437 15%,#f9bb43 18.1%,#88bf77 32.9%,#37b99e 42.2%,#15b1b4 48.1%,#07a9c2 62.9%,#0998d1"></i><i style="--g:#f7f512,#f5e31e 5%,#ffc437 16%,#f8ba44 19.1%,#90bf73 33.3%,#36b99f 44%,#15b1b4 49.8%,#07a9c2 64.3%,#0997d1"></i><i style="--g:#f8f711,#f5e41d 5.3%,#ffc437 16.4%,#f9bb44 19.5%,#70bf81 37.8%,#38b99e 44.3%,#15b1b4 50.2%,#07a9c2 65%,#0997d1"></i><i style="--g:#f6f214,#ffc337 15.7%,#f8ba44 18.8%,#72bf80 36.4%,#36b99f 43.3%,#16b1b4 48.8%,#07a9c2 64.3%,#0a97d1"></i><i style="--g:#f7f611,#f5e41d 5.3%,#ffc337 16.7%,#f9bb43 19.5%,#6fbf81 38.1%,#2fb7a3 45.7%,#15b1b4 50.5%,#07a9c2 65.7%,#0a97d1"></i><i style="--g:#f9fa0e,#f5e41d 7.1%,#ffc337 18.1%,#f8bb44 21.2%,#9dbe6e 34.7%,#72bf80 40.2%,#37b99e 47.1%,#16b1b4 52.9%,#07a9c2 67.8%,#0a97d1"></i><i style="--g:#f9fb0e,#f5e41d 7.1%,#ffc337 18.4%,#f9bb43 21.2%,#a4be6b 34%,#72bf80 40.5%,#37b99e 47.4%,#15b1b4 53.3%,#07a9c2 68.4%,#0a96d1"></i><i style="--g:#f8f80f,#f5e41d 6%,#ffc437 17.4%,#f9bb43 20.5%,#9cbf6e 34%,#70bf81 39.5%,#2eb7a4 47.4%,#15b1b4 52.2%,#07a9c2 67.8%,#0a96d1"></i><i style="--g:#f9fa0e,#f5e31d 7.1%,#ffc338 18.4%,#f9bb43 21.2%,#a4be6b 34%,#71bf80 40.5%,#37b99e 47.4%,#15b1b4 53.3%,#07a9c2 68.8%,#0a96d1"></i><i style="--g:#f9fb0e,#f5e41d 7.4%,#ffc337 18.8%,#f8ba44 21.9%,#a4be6b 34.7%,#71bf80 41.2%,#37b99e 48.1%,#15b1b4 54%,#07a9c2 69.5%,#0a96d1"></i><i style="--g:#f9fb0e,#f8f810 2.6%,#f5e41d 7.8%,#ffc437 19.1%,#f9bb43 22.2%,#a5be6b 35.3%,#70bf81 42.2%,#36b99f 49.1%,#15b1b4 55%,#07a9c2 70.2%,#0b96d1"></i><i style="--g:#f9fa0e,#f5e41d 6.7%,#ffc337 18.4%,#f9bb44 21.6%,#a4be6b 34.3%,#70bf80 40.9%,#36b99f 47.8%,#16b1b4 53.3%,#07a9c2 69.1%,#0b95d1"></i><i style="--g:#f8f90f,#f5e31d 6.4%,#ffc338 18.1%,#f8ba44 21.2%,#9dbf6e 34.7%,#70bf80 40.2%,#36b99f 47.1%,#16b1b4 52.6%,#07a9c2 68.1%,#0b95d2"></i><i style="--g:#f7f412,#f5de21 6.7%,#ffc337 17.1%,#f9bb43 20.2%,#9bbf6f 33.6%,#71bf80 38.8%,#36b99f 45.7%,#16b1b4 51.2%,#07a9c2 67.1%,#0b95d2"></i><i style="--g:#f6f213,#ffc337 16.7%,#f8ba44 20.2%,#72bf80 38.4%,#36b99f 45.3%,#16b1b4 50.9%,#07a9c2 67.1%,#0b95d2"></i><i style="--g:#f8f611,#f5e41d 5.7%,#ffc337 17.8%,#f9bb43 20.9%,#a3be6c 33.6%,#6fbf81 40.2%,#2fb7a3 47.8%,#16b1b4 52.6%,#07a9c2 68.4%,#0b95d2"></i><i style="--g:#f9fb0e,#f5e41d 7.4%,#ffc337 19.1%,#f8ba44 22.6%,#a6be6a 35.3%,#71bf80 42.2%,#36b99f 49.1%,#15b1b4 55%,#07a9c2 70.2%,#0c94d2"></i><i style="--g:#f8f710,#f5e41d 6%,#ffc337 18.1%,#f9bb43 21.2%,#a4be6b 34%,#71bf80 40.5%,#36b99f 47.4%,#16b1b4 52.9%,#07a9c2 69.1%,#0c94d2"></i><i style="--g:#f7f412,#f5e41d 5%,#ffc337 17.8%,#f9bb43 20.9%,#a5be6b 33.3%,#71bf80 39.8%,#36b99f 46.7%,#16b1b4 52.2%,#07a9c2 68.1%,#0c94d2"></i><i style="--g:#f6f115,#f6db23 6.4%,#ffc437 16.7%,#f9bb43 20.2%,#9cbf6e 33.6%,#6fbf81 39.1%,#2fb7a3 46.7%,#15b1b4 51.6%,#07a9c2 67.4%,#0c94d2"></i><i style="--g:#f6f214,#ffc437 17.1%,#f9bb43 20.5%,#9dbf6e 34%,#70bf81 39.5%,#37b99e 46%,#15b1b4 51.9%,#07a9c2 67.8%,#0c94d2"></i><i style="--g:#f7f313,#f5de21 6.7%,#ffc337 17.8%,#f8bb44 21.2%,#a3be6b 33.6%,#71bf80 39.8%,#35b89f 46.7%,#15b1b4 52.2%,#07a9c2 68.4%,#0c94d2"></i><i style="--g:#f8f611,#f5e41d 6%,#ffc337 18.8%,#f9bb43 21.9%,#a6be6a 34.3%,#71bf80 40.9%,#37b99e 47.4%,#16b1b4 52.9%,#07a9c2 69.5%,#0c94d2"></i><i style="--g:#f8f90f,#f5e41d 6.7%,#ffc337 19.5%,#f8ba44 22.9%,#aebe67 34.3%,#71bf80 41.9%,#37b99e 48.4%,#16b1b4 54%,#07a9c2 70.5%,#0c94d2"></i><i style="--g:#f9fb0e,#f5e41d 7.8%,#ffc337 20.5%,#f8ba44 24%,#b0bd66 35.3%,#70bf81 43.3%,#30b7a2 50.5%,#15b1b4 55.3%,#07a9c2 71.9%,#0c94d2"></i><i style="--g:#f9fb0e,#f5e41d 8.1%,#ffc337 20.9%,#f9bb44 24.3%,#acbe68 36.4%,#71bf80 43.6%,#38b99e 49.8%,#16b1b4 55.3%,#07a9c2 72.2%,#0c94d2"></i><i style="--g:#f9fb0e,#f5e41d 8.4%,#ffc337 21.2%,#f9bb44 24.7%,#afbe67 36.4%,#73bf7f 43.6%,#37b99e 50.2%,#15b1b4 55.7%,#07a9c2 72.6%,#0c94d2"></i><i style="--g:#f9fb0e,#f5e41d 8.4%,#ffc337 21.6%,#f9bb43 24.7%,#adbe67 36.7%,#70bf81 44%,#36b99f 50.2%,#16b1b4 55.3%,#07a9c2 72.9%,#0c94d2"></i><i style="--g:#f9fb0e,#f8f90f 2.9%,#f5e41d 9.1%,#ffc337 22.2%,#f9bb43 25.7%,#aebe67 37.8%,#71bf80 45%,#36b99f 51.2%,#16b1b4 56.4%,#07a9c2 73.6%,#0c94d2"></i><i style="--g:#f9fb0e,#f8f80f 3.3%,#f5e41d 9.5%,#ffc337 22.6%,#f9bb43 26%,#afbe67 38.1%,#74bf7f 45%,#38b99e 51.2%,#1eb3ae 54.7%,#15b1b4 56.7%,#07a9c2 73.3%,#0c94d2"></i><i style="--g:#f8f80f,#f5e41d 7.1%,#ffc437 20.5%,#f9bb43 24%,#adbe68 35.3%,#73bf7f 41.9%,#36b99f 48.1%,#16b1b4 53.3%,#07a9c2 70.9%,#0c94d2"></i><i style="--g:#f7f412,#f5e31d 5.7%,#ffc337 19.8%,#f9bb43 23.3%,#aebe67 34%,#73bf7f 40.5%,#38b99e 46.4%,#16b1b4 51.6%,#07a9c2 69.1%,#0c94d2"></i><i style="--g:#f6f214,#f6dd22 7.1%,#ffc337 19.5%,#f9bb43 22.9%,#acbe68 33.6%,#70bf81 40.2%,#38b99e 45.7%,#15b1b4 50.9%,#07a9c2 68.4%,#0c94d2"></i><i style="--g:#f6f015,#f6dc23 7.1%,#ffc337 19.5%,#f9bb43 23.3%,#afbe67 33.6%,#72bf80 40.2%,#38b99e 45.7%,#1fb3ae 48.8%,#15b1b4 50.9%,#07a9c2 68.4%,#0c94d2"></i><i style="--g:#f7f611,#f5e41d 6.7%,#ffc337 21.6%,#f9bb44 25.3%,#aebe67 36.4%,#71bf80 42.6%,#38b99d 47.8%,#16b1b4 52.6%,#07a9c2 69.8%,#0c94d2"></i><i style="--g:#f6f115,#f6db23 7.8%,#ffc337 20.9%,#f9bb44 25%,#b1bd66 35.3%,#73bf7f 41.6%,#35b8a0 47.1%,#1db3af 49.8%,#15b1b4 51.6%,#07a9c2 69.1%,#0c94d2"></i><i style="--g:#f6ef16,#f7d925 7.8%,#ffc337 20.9%,#f8ba44 25.3%,#aebe67 36%,#74bf7f 41.6%,#30b7a3 47.4%,#15b1b4 51.6%,#07a9c2 69.1%,#0c94d2"></i><i style="--g:#f7f512,#f5e41d 6.7%,#ffc337 23.6%,#f8ba44 27.8%,#aebe67 39.1%,#71bf80 44.7%,#2eb7a4 50.2%,#15b1b4 54%,#07a9c2 71.2%,#0c94d2"></i><i style="--g:#f8f710,#f5e41d 8.1%,#ffc337 25%,#f8bb44 29.1%,#b2bd66 40.5%,#72bf80 46%,#2fb7a3 51.2%,#15b1b4 54.7%,#07a9c2 71.9%,#0c94d2"></i><i style="--g:#f6f213,#f5de21 8.4%,#ffc337 24.3%,#f8ba44 28.8%,#b2bd66 39.8%,#74bf7f 45%,#2eb7a4 50.2%,#1eb3ae 51.9%,#15b1b4 53.6%,#07a9c2 70.9%,#0c94d2"></i><i style="--g:#f5ec18,#f8d627 8.1%,#ffc337 22.2%,#f8ba44 27.8%,#b4bd65 38.1%,#75bf7f 43.3%,#2eb7a4 48.4%,#16b1b4 51.6%,#07a9c2 69.5%,#0c94d2"></i><i style="--g:#f5ed17,#f8d726 8.4%,#ffc337 22.9%,#f9bb43 28.1%,#b2bd66 39.1%,#71bf80 44.3%,#2eb7a4 49.1%,#15b1b4 52.2%,#07a9c2 70.2%,#0c94d2"></i><i style="--g:#f7f313,#f5e41d 6.4%,#ffc337 25.3%,#f8ba44 30.2%,#b5bd65 41.6%,#78bf7d 46.4%,#2db7a4 51.6%,#1cb2b0 53.3%,#15b0b4 54.7%,#07a9c2 71.6%,#0c94d2"></i><i style="--g:#f6f213,#f6de22 8.8%,#ffc337 25.3%,#f8ba44 30.2%,#b2bd66 41.9%,#73bf7f 46.7%,#2db7a4 51.6%,#15b1b4 54.7%,#07a9c2 71.9%,#0c94d2"></i><i style="--g:#f6f015,#f6db24 8.8%,#ffc337 24.7%,#f8ba44 29.8%,#b4bd65 41.2%,#7cbf7b 45.7%,#30b7a3 50.9%,#1eb3ae 52.6%,#15b0b4 54.3%,#07a9c2 71.2%,#0c94d2"></i><i style="--g:#f5ec18,#f8d627 8.4%,#ffc337 23.3%,#f8ba45 28.8%,#c8bc5d 37.1%,#b1bd66 40.2%,#91bf73 42.9%,#2eb7a4 49.8%,#1eb3ae 51.6%,#14b0b5 53.6%,#07a9c2 70.2%,#0c94d2"></i><i style="--g:#f5eb18,#f9d528 8.8%,#ffc337 23.3%,#f8bb44 28.8%,#b4bd65 40.2%,#8fbf73 43.3%,#2fb7a3 49.8%,#1db3af 51.6%,#15b0b5 53.3%,#07a9c2 70.2%,#0c94d2"></i><i style="--g:#f5ea19,#f9d329 8.8%,#ffc337 22.6%,#f8ba45 28.8%,#b3bd65 40.2%,#74bf7f 45%,#2cb7a5 49.8%,#1bb2b0 51.6%,#15b0b5 52.9%,#07a9c2 69.8%,#0c94d2"></i><i style="--g:#f5e71b,#fad12b 8.4%,#ffc337 21.6%,#f8bb44 28.1%,#b4bd65 39.5%,#7abf7c 44%,#2db7a4 49.1%,#1bb2b0 50.9%,#15b0b5 52.2%,#07a9c2 69.1%,#0c94d2"></i><i style="--g:#f5e81a,#fad22a 8.4%,#ffc337 22.2%,#f9bb44 28.4%,#b3bd65 40.2%,#8ebf74 43.3%,#30b7a2 49.5%,#1eb3ae 51.2%,#15b1b4 52.9%,#07a9c2 69.8%,#0c94d2"></i><i style="--g:#f5ea19,#f9d429 8.8%,#ffc337 23.3%,#f8ba44 29.5%,#b2bd66 41.6%,#91bf73 44.3%,#2cb7a5 50.9%,#1cb3b0 52.6%,#14b0b5 54.3%,#07a9c2 70.5%,#0c94d2"></i><i style="--g:#f5e71b,#fad12b 8.4%,#ffc337 22.2%,#f8ba45 28.8%,#b3bd65 40.5%,#91bf73 43.3%,#2db7a4 49.8%,#1cb3af 51.6%,#15b0b5 53.3%,#07a9c2 69.5%,#0c94d2"></i><i style="--g:#f5e31d,#fccf2d 8.4%,#ffc337 20.9%,#f8bb44 27.8%,#b3bd65 39.5%,#7bbf7c 43.6%,#30b8a2 48.4%,#1db3af 50.2%,#15b1b4 51.6%,#07a9c2 68.1%,#0c94d2"></i><i style="--g:#f5df21,#fccd2e 8.1%,#ffc337 19.1%,#f9bb44 26.4%,#b6bd64 37.4%,#7cbf7c 41.9%,#2db7a4 47.1%,#1bb2b0 48.8%,#15b0b5 50.2%,#07a9c2 66.7%,#0c94d2"></i><i style="--g:#f5df21,#fccd2e 8.1%,#ffc337 19.1%,#f7ba45 26.7%,#c8bc5d 35%,#b0bd67 38.1%,#8fbf74 40.9%,#30b7a3 47.1%,#1fb3ae 48.8%,#15b0b5 50.9%,#07a9c2 67.1%,#0c94d2"></i><i style="--g:#f5e11f,#fcce2e 8.4%,#ffc338 20.5%,#f8ba44 27.8%,#b3bd65 39.5%,#91bf73 42.2%,#2fb7a3 48.4%,#1db3af 50.2%,#15b0b5 51.9%,#07a9c2 68.1%,#0c94d2"></i><i style="--g:#f5e21e,#fcce2d 8.4%,#ffc337 20.9%,#f9bb44 28.1%,#b5bd65 40.2%,#92bf73 42.9%,#2eb7a4 49.1%,#1bb2b0 50.9%,#15b0b5 52.2%,#07a9c2 68.8%,#0c94d2"></i><i style="--g:#f5e41d,#fbcf2d 8.8%,#ffc337 21.9%,#f8bb44 29.1%,#b6bd64 41.6%,#93bf72 44.3%,#2cb7a5 50.5%,#1db3af 51.9%,#15b1b4 53.3%,#07a9c2 69.5%,#0c94d2"></i><i style="--g:#f5e41d,#fbcf2d 8.8%,#ffc337 21.9%,#f7ba45 29.5%,#b5bd65 41.9%,#91bf73 44.7%,#2eb7a4 50.5%,#1bb2b0 52.2%,#15b0b5 53.6%,#07a9c2 69.8%,#0c94d2"></i><i style="--g:#f5e11f,#fcce2e 8.8%,#ffc337 21.2%,#f8ba44 28.8%,#b4bd65 41.2%,#8fbf73 44%,#2db7a4 49.8%,#1db3af 51.2%,#15b0b5 52.9%,#07a9c2 69.1%,#0c94d2"></i><i style="--g:#f5e020,#fccd2e 8.4%,#ffc337 20.2%,#f7ba45 28.4%,#b5bd64 40.5%,#92bf72 43.3%,#30b7a2 49.1%,#1cb3af 50.9%,#15b1b4 52.2%,#07a9c2 68.4%,#0c94d2"></i><i style="--g:#f5de21,#fccd2e 8.1%,#ffc337 19.5%,#f8ba44 27.8%,#b4bd65 39.8%,#91bf73 42.6%,#2fb7a3 48.4%,#1cb3af 50.2%,#15b1b4 51.6%,#07a9c2 68.4%,#0c93d2"></i><i style="--g:#f5ea19,#f9d329 9.5%,#ffc337 25%,#f8ba44 31.6%,#c5bc5e 42.6%,#b4bd65 45%,#92bf72 47.8%,#2fb7a3 53.3%,#1cb3af 55%,#14b0b5 56.7%,#06a7c6 76.4%,#0c93d2"></i><i style="--g:#f5ee16,#f7d826 9.8%,#ffc337 26.7%,#f8ba44 32.9%,#b5bd64 47.1%,#93bf72 49.5%,#2cb7a5 55%,#1bb2b0 56.4%,#15b0b5 57.8%,#07a9c2 72.9%,#079dcf 91.2%,#0d93d2"></i><i style="--g:#f5ee17,#f7d826 9.5%,#ffc337 26.4%,#f7ba45 32.9%,#b4bd65 46.7%,#93bf72 49.1%,#2cb7a5 54.7%,#1cb3af 56%,#15b0b5 57.4%,#07a9c2 72.6%,#079dcf 90.9%,#0d93d2"></i><i style="--g:#f5ed17,#f8d726 9.5%,#ffc337 26.4%,#f8ba44 32.6%,#b5bd65 46.4%,#90bf73 49.1%,#2fb7a3 54.3%,#1eb3ae 55.7%,#15b0b5 57.4%,#06a7c6 76.4%,#0d92d2"></i><i style="--g:#f5e71b,#fbd02c 9.1%,#ffc337 23.3%,#f7ba45 30.9%,#b7bd64 43.6%,#91bf73 46.4%,#2fb7a3 51.9%,#1db3af 53.3%,#14b0b5 55%,#06a7c6 74.3%,#0d92d2"></i><i style="--g:#f5e51c,#fbd02c 9.1%,#ffc337 22.9%,#f8ba44 30.2%,#b5bd65 42.9%,#92bf72 45.7%,#2cb7a5 51.6%,#1bb2b0 53.3%,#14b0b5 55%,#06a7c6 73.3%,#0d92d2"></i><i style="--g:#f5e91a,#fad22a 9.1%,#ffc337 24.3%,#f8ba44 31.2%,#b7bd64 44.3%,#91bf73 47.1%,#2db7a4 52.6%,#1cb3af 54%,#15b0b5 55.3%,#06a7c6 73.3%,#0e92d2"></i><i style="--g:#f5e71b,#fbd12b 9.1%,#ffc337 23.6%,#f8ba44 30.9%,#b7bd64 43.6%,#92bf73 46.4%,#2eb7a4 51.9%,#1db3af 53.3%,#14b0b5 55%,#06a7c6 72.9%,#0e91d2"></i><i style="--g:#f5e81a,#fad12b 9.1%,#ffc337 24%,#f8bb44 30.9%,#b5bd64 44%,#90bf73 46.7%,#2cb7a5 52.2%,#1cb3af 53.6%,#14b0b5 55.3%,#06a7c6 72.2%,#0e91d2"></i><i style="--g:#f5e61c,#fbd02c 9.1%,#ffc337 22.9%,#f8ba44 30.5%,#b5bd64 43.3%,#8fbf74 46%,#2cb7a5 51.6%,#1cb3b0 52.9%,#15b0b5 54.3%,#06a7c6 71.6%,#0e91d2"></i><i style="--g:#f5e81b,#fad12b 9.1%,#ffc337 23.6%,#f8ba44 30.9%,#b4bd65 44%,#93bf72 46.4%,#2eb7a3 51.9%,#1db3af 53.3%,#14b0b5 55%,#06a7c6 71.6%,#0e90d2"></i><i style="--g:#f5eb18,#f9d528 9.5%,#ffc337 25.7%,#f7ba45 32.2%,#b6bd64 45.3%,#90bf73 48.1%,#2fb7a3 53.3%,#1db3af 54.7%,#14b0b5 56.4%,#06a7c6 71.9%,#0f90d2"></i><i style="--g:#f5ec17,#f8d627 9.5%,#ffc337 26%,#f8ba44 32.2%,#b5bd64 45.7%,#94bf72 48.1%,#2db7a5 53.6%,#1cb3b0 55%,#14b0b6 56.7%,#06a7c6 71.9%,#0f90d2"></i><i style="--g:#f5ea19,#f9d429 9.5%,#ffc337 25%,#f7ba45 31.9%,#b4bd65 45%,#93bf72 47.4%,#2db7a5 52.9%,#1cb3af 54.3%,#14b0b6 56%,#06a7c6 70.5%,#0f90d2"></i><i style="--g:#f5e31d,#fbcf2d 8.8%,#ffc337 21.9%,#f8ba44 29.5%,#c4bc5e 39.5%,#b3bd65 41.9%,#93bf72 44.3%,#2db7a5 50.2%,#1bb2b0 51.9%,#13b0b6 53.6%,#06a7c6 67.4%,#0f8fd2"></i><i style="--g:#f6dc23,#fdcc2f 8.1%,#ffc337 18.4%,#f8bb44 26.7%,#b4bd65 38.1%,#8fbf74 40.9%,#2eb7a4 46.7%,#1bb2b0 48.4%,#14b0b5 49.8%,#06a7c6 65%,#108fd2"></i><i style="--g:#f5df21,#fccd2e 8.4%,#ffc337 19.8%,#f8bb44 27.8%,#b4bd65 39.5%,#8fbf73 42.2%,#2cb7a5 48.1%,#1ab2b1 49.8%,#13b0b6 51.6%,#06a7c6 64.7%,#108fd2"></i><i style="--g:#f5e11f,#fcce2e 8.4%,#ffc337 20.9%,#f9bb44 28.4%,#b4bd65 40.5%,#7cbf7c 44.3%,#2db7a4 48.8%,#1db3af 50.2%,#14b0b6 51.9%,#06a7c6 65%,#108fd2"></i><i style="--g:#f5e31e,#fccf2d 8.8%,#ffc337 21.9%,#f8ba45 29.5%,#b4bd65 41.6%,#8ebf74 44.3%,#2db7a5 49.8%,#1ab2b1 51.6%,#13b0b6 53.3%,#06a7c6 65.7%,#108ed2"></i><i style="--g:#f5e51c,#fbcf2d 9.1%,#ffc337 22.6%,#f7ba45 30.2%,#b6bd64 42.2%,#91bf73 45%,#29b6a7 50.9%,#1ab2b1 52.2%,#12b0b7 54%,#06a7c6 65.3%,#118ed2"></i><i style="--g:#f5e020,#fcce2e 8.4%,#ffc337 20.5%,#f8ba44 28.4%,#b4bd65 40.2%,#7cbf7c 44%,#2db7a4 48.4%,#1ab2b1 50.2%,#13b0b6 51.9%,#06a6c6 64%,#118dd2"></i><i style="--g:#f5df21,#fccd2e 8.4%,#ffc337 20.2%,#f9bb44 27.8%,#b3bd65 39.5%,#8ebf74 42.2%,#2bb6a6 48.1%,#19b2b1 49.8%,#12afb7 51.6%,#06a6c6 63.3%,#079ccf 78.8%,#118cd2"></i><i style="--g:#f5e31d,#fbcf2d 8.8%,#ffc337 21.9%,#f8ba44 29.5%,#b4bd65 41.6%,#94bf72 44%,#28b6a8 50.2%,#18b1b3 51.9%,#10afb8 54%,#07aac2 60.5%,#06a4ca 67.1%,#128cd2"></i><i style="--g:#f5e51c,#fbcf2d 9.1%,#ffc337 22.6%,#f8ba44 30.2%,#b6bd64 42.2%,#7dbf7b 46%,#27b5a8 50.9%,#19b2b2 52.2%,#12afb7 54%,#06a7c6 64.3%,#079ccf 78.8%,#128bd2"></i><i style="--g:#f5e71b,#fbd12b 9.1%,#ffc337 23.6%,#f7ba45 30.9%,#b7bd64 42.9%,#91bf73 45.7%,#27b5a8 51.6%,#16b1b4 53.3%,#0faeb9 55.7%,#07a9c2 61.6%,#06a0cd 72.6%,#128ad3"></i><i style="--g:#f5e61b,#fbd02c 9.1%,#ffc337 23.3%,#f8ba44 30.5%,#b6bd64 42.6%,#90bf73 45.3%,#27b5a8 51.2%,#16b1b3 52.9%,#0faeb9 55.3%,#07a9c2 60.9%,#06a2cb 68.4%,#138ad3"></i><i style="--g:#f5e51c,#fbcf2d 9.1%,#ffc337 22.6%,#f8ba44 29.8%,#b5bd64 41.9%,#90bf73 44.7%,#44bb97 48.8%,#24b5aa 50.9%,#16b1b4 52.6%,#0faeb9 54.7%,#07a9c2 60.2%,#06a3cb 67.4%,#1389d3"></i><i style="--g:#f5e020,#fccd2e 8.4%,#ffc337 20.2%,#f9bb44 27.8%,#b5bd64 39.1%,#94bf72 41.9%,#28b6a8 48.4%,#16b1b4 50.5%,#10afb9 52.6%,#07a9c2 58.8%,#06a0cd 70.2%,#1389d3"></i><i style="--g:#f5df21,#fccd2e 8.1%,#ffc337 19.5%,#f8ba44 27.4%,#b4bd65 38.8%,#79bf7d 42.9%,#42bb98 46%,#25b5aa 48.1%,#16b1b4 49.8%,#10afb8 51.9%,#07a9c2 57.8%,#06a3cb 65%,#1389d3"></i><i style="--g:#f5df21,#fccd2e 8.1%,#ffc337 19.5%,#f8ba44 27.4%,#b5bd65 38.8%,#7abf7d 42.9%,#25b5a9 48.1%,#16b1b4 49.8%,#10afb8 51.9%,#07a9c2 58.1%,#06a3cb 65.3%,#1389d3"></i><i style="--g:#f5e020,#fcce2e 8.1%,#ffc337 19.8%,#f8ba44 27.8%,#b6bd64 39.1%,#7dbf7b 43.3%,#28b6a8 48.4%,#17b1b3 50.2%,#10afb9 52.6%,#07a9c2 58.4%,#06a3cb 66%,#1389d3"></i><i style="--g:#f5e21e,#fcce2d 8.4%,#ffc337 20.9%,#f8bb44 28.1%,#b7bd64 39.8%,#a3be6c 41.6%,#78bf7d 44.3%,#41ba98 47.4%,#24b5aa 49.5%,#15b1b4 51.2%,#0fafb9 53.3%,#07a9c2 59.1%,#06a3cb 66%,#1389d3"></i><i style="--g:#f5e020,#fccd2e 8.1%,#ffc337 19.8%,#f9bb44 27.1%,#b5bd65 38.8%,#7bbf7c 42.9%,#28b6a8 48.1%,#18b1b3 49.8%,#11afb7 51.6%,#07a9c2 58.4%,#06a4ca 64.7%,#1389d3"></i><i style="--g:#f5e020,#fccd2e 8.1%,#ffc337 19.5%,#f8ba44 27.1%,#b4bd65 38.8%,#74bf7f 43.3%,#28b6a8 48.1%,#17b1b3 49.8%,#11afb7 51.6%,#07a9c2 58.4%,#06a4ca 64.3%,#1389d3"></i><i style="--g:#f5e020,#fcce2e 8.1%,#ffc337 19.8%,#f8bb44 27.1%,#b5bd64 38.8%,#78bf7d 43.3%,#2ab6a6 48.1%,#19b2b2 49.8%,#11afb7 51.9%,#07a9c2 58.8%,#06a4ca 65%,#1389d3"></i><i style="--g:#f5e51c,#fbd02c 8.4%,#ffc337 21.6%,#f8ba44 28.4%,#b3bd65 40.9%,#91bf73 43.6%,#28b6a8 50.2%,#16b1b3 52.2%,#10afb9 54.3%,#07a9c2 60.2%,#06a0cd 71.6%,#1389d3"></i><i style="--g:#f5e71b,#fbd02c 8.8%,#ffc337 21.9%,#f8ba44 28.8%,#b7bd64 41.2%,#a3be6c 42.9%,#79bf7d 45.7%,#25b5a9 50.9%,#16b1b4 52.6%,#10afb8 54.7%,#07a9c2 60.9%,#06a0cd 71.9%,#1389d3"></i><i style="--g:#f5e41d,#fbcf2d 8.4%,#ffc337 20.9%,#f9bb44 27.8%,#b5bd64 40.2%,#77bf7e 44.7%,#2ab6a6 49.5%,#19b2b2 51.2%,#12afb7 52.9%,#06a6c6 63.6%,#079dcf 77.4%,#1389d3"></i><i style="--g:#f5e41d,#fbcf2d 8.4%,#ffc337 20.9%,#f8bb44 27.8%,#b4bd65 40.2%,#78bf7d 44.7%,#27b5a8 49.8%,#18b1b3 51.6%,#10afb9 54%,#07a9c2 59.8%,#06a0cd 71.2%,#1389d3"></i><i style="--g:#f5e020,#fccd2e 8.1%,#ffc337 19.1%,#f9bb44 26%,#b5bd64 37.8%,#91bf73 40.9%,#29b6a7 47.8%,#17b1b3 49.8%,#10afb8 51.9%,#07a9c2 58.4%,#06a0cd 70.2%,#1389d3"></i><i style="--g:#f6dd22,#fccc2f 7.4%,#ffc337 17.4%,#f8bb44 25%,#b5bd64 36.4%,#7bbf7c 40.9%,#2db7a4 46%,#1bb2b0 47.8%,#12b0b7 49.8%,#06a6c6 61.2%,#079dcf 76%,#1389d3"></i><i style="--g:#f5e31e,#fcce2d 8.1%,#ffc337 19.8%,#f9bb44 26.7%,#b7bd64 38.8%,#a0be6d 40.9%,#79bf7d 43.6%,#26b5a9 49.1%,#17b1b3 50.9%,#0faeb9 53.3%,#07a9c2 59.1%,#06a3cb 66.4%,#1389d3"></i><i style="--g:#f5e020,#fcce2e 7.8%,#ffc337 18.4%,#f8ba45 26%,#b5bd64 37.8%,#7cbf7c 42.2%,#2db7a4 47.4%,#1bb2b0 49.1%,#12afb7 51.2%,#06a7c6 61.9%,#079ccf 76.7%,#1389d3"></i><i style="--g:#f5e020,#fccd2e 7.8%,#ffc337 18.4%,#f8bb44 25.3%,#b3bd65 37.4%,#7bbf7c 41.9%,#2eb7a4 47.1%,#1ab2b1 49.1%,#12afb7 51.2%,#06a7c6 62.2%,#079cd0 77.1%,#1389d3"></i><i style="--g:#f5e51c,#fbcf2c 7.8%,#ffc337 19.1%,#f7ba45 26%,#b5bd65 38.4%,#7abf7c 43.3%,#2db7a5 48.8%,#19b2b2 50.9%,#12b0b6 52.6%,#06a6c6 64%,#079ccf 78.1%,#1389d3"></i><i style="--g:#f5e61b,#fbd02c 7.4%,#ffc337 18.8%,#f7ba45 25%,#b6bd64 37.4%,#7bbf7c 42.6%,#2eb7a4 48.4%,#1bb2b0 50.5%,#13b0b6 52.2%,#06a7c6 65.7%,#079cd0 79.8%,#138ad3"></i><i style="--g:#f6f114,#f6db23 7.8%,#ffc337 21.2%,#f8ba44 26%,#b6bd64 39.8%,#7abf7c 45.3%,#30b7a3 51.2%,#1cb3af 53.3%,#13b0b6 55.3%,#06a7c6 68.1%,#079cd0 81.2%,#138ad3"></i><i style="--g:#f6f015,#f7db24 7.4%,#ffc337 19.8%,#f7ba45 24.7%,#b4bd65 38.4%,#7cbf7b 44%,#2fb7a3 50.5%,#1db3af 52.6%,#14b0b5 54.7%,#06a6c6 69.1%,#079ccf 81.9%,#138ad3"></i><i style="--g:#f5ed17,#f8d726 6.7%,#ffc337 17.8%,#f8ba44 22.6%,#b3bd65 36.4%,#72bf80 42.9%,#30b7a2 48.8%,#14b0b5 52.9%,#06a6c6 68.4%,#079ccf 81.6%,#138ad3"></i><i style="--g:#f5e71b,#fad12b 6%,#ffc337 15%,#f8ba44 20.2%,#b2bd66 33.3%,#74bf7f 39.8%,#35b8a0 45.7%,#1eb3ae 48.4%,#15b0b5 50.5%,#06a6c6 67.8%,#079cd0 81.6%,#138ad3"></i><i style="--g:#f5ea19,#f9d528 5.7%,#ffc337 15%,#f7ba45 19.8%,#b4bd65 32.9%,#73bf7f 40.2%,#2eb7a4 47.1%,#14b0b5 51.6%,#06a7c6 68.4%,#079dcf 81.9%,#138ad3"></i><i style="--g:#f5ec17,#f8d826 5.7%,#ffc337 15.3%,#f7ba45 19.8%,#b2bd66 33.6%,#79bf7d 40.2%,#37b99e 46.7%,#1eb3ae 49.8%,#15b0b4 51.9%,#06a7c6 69.5%,#079ccf 82.6%,#138ad3"></i><i style="--g:#f5eb18,#f8d627 5.7%,#ffc337 15%,#f7ba45 19.5%,#b4bd65 32.9%,#7cbf7c 39.5%,#37b99f 46.4%,#15b0b4 51.6%,#06a7c6 69.8%,#079cd0 83.3%,#138ad3"></i><i style="--g:#f5ee17,#f7d925 5.7%,#ffc337 15.3%,#f7ba45 19.8%,#b4bd65 33.6%,#79bf7d 40.5%,#35b89f 47.4%,#1eb3ae 50.5%,#15b0b5 52.6%,#06a7c6 70.9%,#079ccf 83.6%,#138ad3"></i><i style="--g:#f5ee16,#f7d826 6%,#ffc337 15.3%,#fdbe3d 17.8%,#f1b949 21.2%,#b3bd65 34%,#7bbf7c 40.5%,#37b99e 47.4%,#1db3af 50.9%,#15b0b5 52.9%,#06a6c6 71.9%,#079ccf 84.3%,#138ad3"></i><i style="--g:#f6f214,#ffc338 16.4%,#f1b94a 21.9%,#b3bd65 35%,#79bf7d 41.9%,#36b99f 48.8%,#15b1b4 54%,#0aacbe 62.9%,#06a7c6 72.6%,#079cd0 85%,#138ad3"></i><i style="--g:#f6ef16,#f7d925 6%,#ffc337 15.3%,#f1b94a 21.2%,#b2bd66 34.3%,#7bbf7c 40.9%,#38b99e 47.8%,#1eb3ae 51.2%,#15b0b5 53.3%,#06a7c6 72.6%,#079ccf 85%,#138ad3"></i><i style="--g:#f5eb18,#f8d627 5.3%,#ffc337 14.3%,#fdbe3d 16.7%,#f2b949 20.2%,#b3bd65 32.9%,#79bf7d 39.8%,#37b99e 46.7%,#15b1b4 51.9%,#0aacbe 61.6%,#06a7c6 71.6%,#079dcf 84.3%,#138ad3"></i><i style="--g:#f5e81a,#fad22a 5.3%,#ffc337 13.3%,#fdbe3d 16%,#f2b949 19.5%,#b1bd66 32.2%,#73bf7f 39.5%,#38b99e 45.7%,#15b1b4 51.2%,#06a7c6 70.9%,#079cd0 84%,#138ad3"></i><i style="--g:#f5e51c,#fbd02c 5.3%,#ffc337 12.6%,#f7ba45 17.8%,#b2bd66 31.2%,#7cbf7b 37.8%,#37b99e 45%,#1eb3ae 48.4%,#15b0b5 50.5%,#06a7c6 70.5%,#079ccf 83.6%,#138ad3"></i><i style="--g:#f5e41d,#fbd02c 5%,#ffc337 12.2%,#fdbe3e 15.3%,#f1b94a 18.8%,#b1bd66 31.2%,#71bf80 38.8%,#36b99f 45%,#15b1b4 50.2%,#0aacbe 59.8%,#06a7c6 70.2%,#079cd0 83.6%,#138ad3"></i><i style="--g:#f5e11f,#fcce2d 5%,#ffc337 11.6%,#f7ba45 16.7%,#b2bd66 29.8%,#79bf7d 36.7%,#38b99e 43.6%,#15b1b4 49.1%,#06a7c6 69.8%,#079cd0 83.6%,#138ad3"></i><i style="--g:#f5e41d,#fbd02c 5%,#ffc337 12.2%,#fdbe3d 15%,#f1b949 18.4%,#b0bd66 31.2%,#71bf80 38.8%,#37b99e 45%,#1fb3ae 48.4%,#15b0b5 50.9%,#06a7c6 71.2%,#079cd0 84.3%,#138ad3"></i><i style="--g:#f5e81a,#fad32a 5.3%,#ffc338 13.3%,#f1b949 19.1%,#b2bd66 32.2%,#7bbf7c 39.1%,#38b99e 46.4%,#1db3af 50.2%,#15b0b5 52.2%,#06a7c6 72.6%,#079ccf 85%,#138ad3"></i><i style="--g:#f5e41d,#fbcf2c 5%,#ffc337 11.9%,#fdbe3e 15%,#f2b949 18.1%,#b2bd65 30.9%,#72bf80 38.8%,#36b99f 45.3%,#15b0b4 50.9%,#06a7c6 72.2%,#079dcf 85%,#138ad3"></i><i style="--g:#f5e31e,#fbcf2d 5%,#ffc337 11.6%,#fdbe3e 14.7%,#f2b949 17.8%,#b2bd66 30.5%,#72bf80 38.4%,#36b99f 45%,#15b0b4 50.5%,#06a7c6 71.6%,#079cd0 84.7%,#138ad3"></i><i style="--g:#f5de21,#fccd2e 4.7%,#ffc337 10.2%,#f6ba46 15.7%,#aebe67 29.1%,#70bf81 36.7%,#2fb7a3 44%,#15b0b5 49.1%,#06a7c6 70.2%,#079cd0 84%,#138ad3"></i><i style="--g:#f6dc23,#fccd2f 4.3%,#ffc337 9.8%,#fdbe3d 12.9%,#f2b949 16%,#b1bd66 28.1%,#73bf7f 35.7%,#37b99e 42.2%,#16b1b4 47.8%,#0aacbe 58.4%,#06a7c6 69.8%,#079cd0 83.6%,#138ad3"></i><i style="--g:#f5de21,#fccd2f 4.7%,#ffc337 10.2%,#fdbe3e 13.3%,#f2b949 16.4%,#b0bd66 28.8%,#74bf7f 36.4%,#38b99e 42.9%,#1db3af 46.7%,#15b1b4 48.8%,#06a7c6 70.2%,#079cd0 84%,#138ad3"></i><i style="--g:#f5de21,#fccd2e 4.3%,#ffc337 10.2%,#fdbe3e 13.3%,#f1b949 16.4%,#b1bd66 28.4%,#71bf80 36.4%,#36b99f 42.9%,#15b1b4 48.4%,#06a7c6 70.5%,#079ccf 84.3%,#138ad3"></i><i style="--g:#f5e21e,#fbcf2d 4.7%,#ffc337 10.9%,#fdbe3e 14%,#f2b949 17.1%,#b1bd66 29.8%,#71bf80 37.8%,#36b99f 44.3%,#15b1b4 49.8%,#06a7c6 71.6%,#079cd0 85%,#138ad3"></i><i style="--g:#f5e41d,#fbd02c 4.7%,#ffc337 11.2%,#fdbe3e 14.3%,#f2b949 17.4%,#b2bd66 30.2%,#72bf80 38.1%,#37b99e 44.7%,#16b1b4 50.2%,#0aacbe 60.9%,#06a7c6 71.9%,#079ccf 85%,#128ad3"></i><i style="--g:#f5e020,#fcce2e 4.7%,#ffc337 10.5%,#f8ba45 15.3%,#b1bd66 28.8%,#73bf7f 36.4%,#38b99e 42.9%,#1fb3ad 46.4%,#15b1b4 48.8%,#0aacbe 59.1%,#06a7c6 70.5%,#079ccf 84.3%,#128ad3"></i><i style="--g:#f6dd22,#fccd2e 4.3%,#ffc337 9.8%,#f8ba44 14.7%,#b3bd65 27.4%,#72bf80 35.3%,#36b99f 41.9%,#15b0b4 47.4%,#06a7c6 69.1%,#079dcf 83.3%,#128bd3"></i><i style="--g:#f6dd22,#fccd2e 4.3%,#ffc337 9.8%,#f8ba44 14.7%,#b2bd66 27.4%,#74bf7f 35%,#37b99e 41.6%,#15b1b4 47.1%,#06a7c6 68.4%,#079cd0 83.3%,#128bd2"></i><i style="--g:#f6dd22,#fccd2e 4.3%,#ffc337 9.8%,#f8ba44 14.7%,#b0bd66 27.4%,#72bf80 35%,#38b99d 41.2%,#16b1b4 46.7%,#0aacbe 57.1%,#06a7c6 68.1%,#079cd0 82.9%,#128bd2"></i><i style="--g:#f6db24,#fdcc30 4.3%,#ffc337 9.1%,#f8bb44 14%,#b0bd66 26.4%,#74bf7f 33.6%,#36b99f 40.2%,#15b1b4 45.7%,#06a7c6 67.4%,#079ccf 82.6%,#128bd2"></i><i style="--g:#f6de22,#fccd2e 4.3%,#ffc337 9.8%,#f8ba45 14.7%,#afbe67 27.4%,#72bf80 34.7%,#38b99d 40.9%,#16b1b4 46.4%,#0aacbe 56.7%,#06a7c6 67.4%,#079ccf 82.6%,#128bd2"></i><i style="--g:#f6dd22,#fccd2e 4.3%,#ffc337 9.8%,#f7ba45 14.7%,#afbe67 27.1%,#73bf7f 34.3%,#36b99f 40.9%,#1db3af 44.3%,#15b0b5 46.4%,#06a7c6 67.4%,#079ccf 82.6%,#128cd2"></i><i style="--g:#f6dd22,#fccd2f 4.3%,#ffc337 9.5%,#f8ba44 14.3%,#afbe67 26.7%,#72bf80 34%,#38b99e 40.2%,#15b1b4 45.7%,#0aacbe 56%,#06a7c6 67.1%,#079dcf 82.2%,#128cd2"></i><i style="--g:#f6dc23,#fccc2f 4.3%,#ffc337 9.5%,#f7ba45 14.3%,#afbe67 26.4%,#72bf80 33.6%,#38b99e 39.8%,#15b1b4 45.3%,#06a7c6 66%,#079ccf 81.9%,#128cd2"></i><i style="--g:#f7d925,#fdcb30 4%,#ffc337 8.8%,#f7ba45 13.6%,#b0bd67 25%,#71bf80 32.2%,#36b99f 38.4%,#15b1b4 43.6%,#06a7c6 65.3%,#079ccf 81.9%,#118cd2"></i><i style="--g:#f5de21,#fccd2e 4.3%,#ffc337 9.8%,#f7ba45 14.7%,#afbe67 26.7%,#73bf7f 33.6%,#37b99e 39.8%,#16b1b4 45%,#0aacbe 55.3%,#06a7c6 66%,#079dcf 82.2%,#118dd2"></i><i style="--g:#f5e11f,#fcce2e 4.7%,#ffc337 10.5%,#f8ba44 15%,#b0bd66 27.4%,#71bf80 34.7%,#38b99e 40.5%,#1eb3ae 44%,#15b0b4 46%,#06a7c6 67.1%,#079ccf 83.3%,#108ed2"></i><i style="--g:#f5e31e,#fbcf2d 4.7%,#ffc337 10.9%,#f8ba45 15.3%,#b1bd66 27.8%,#71bf80 35%,#37b99e 40.9%,#16b1b4 46%,#0aacbe 56.4%,#06a7c6 67.4%,#079cd0 84%,#108ed2"></i><i style="--g:#f5e21e,#fcce2d 4.7%,#ffc338 10.9%,#f8ba44 15%,#b2bd66 27.1%,#71bf80 34.3%,#37b99e 40.2%,#1eb3ae 43.3%,#15b0b4 45.3%,#06a7c6 66.7%,#108fd2"></i><i style="--g:#f5df21,#fcce2e 4.3%,#ffc337 9.8%,#f8bb44 14.3%,#b1bd66 26%,#72bf80 32.9%,#35b89f 38.8%,#15b1b4 43.6%,#06a7c6 65.3%,#0f90d2"></i><i style="--g:#f5e020,#fcce2d 4.3%,#ffc437 9.8%,#f7ba45 14.7%,#b1bd66 26%,#74bf7f 32.6%,#37b99e 38.4%,#1eb3ae 41.6%,#15b1b4 43.6%,#06a7c6 65.3%,#0e90d2"></i><i style="--g:#f5e61b,#fbd12b 5%,#ffc337 11.6%,#f7ba45 15.7%,#b2bd66 27.8%,#72bf80 34.7%,#35b89f 40.5%,#1cb3af 43.6%,#15b1b4 45.3%,#06a7c6 66.4%,#0e91d2"></i><i style="--g:#f5e51c,#fbd02c 4.7%,#ffc337 11.2%,#f8ba44 15.3%,#b2bd66 27.4%,#79bf7d 33.6%,#37b99e 39.8%,#16b1b4 44.7%,#0aacbe 55.3%,#06a7c6 66.7%,#0e91d2"></i><i style="--g:#f5e41d,#fbcf2c 4.7%,#ffc337 10.9%,#f7ba45 15.3%,#b2bd66 27.1%,#79bf7d 33.3%,#37b99e 39.5%,#1eb3ae 42.6%,#15b0b5 44.7%,#06a7c6 66.4%,#0e91d2"></i><i style="--g:#f5e71b,#fbd12b 5%,#ffc337 11.6%,#f7ba45 15.7%,#b2bd66 27.8%,#79bf7d 34%,#38b99e 40.2%,#1eb3ae 43.3%,#15b0b4 45.3%,#06a7c6 66.7%,#0e91d2"></i><i style="--g:#f5e51d,#fbd02c 4.7%,#ffc338 11.2%,#f8ba45 15.3%,#b1bd66 27.4%,#73bf7f 34%,#36b99f 39.8%,#1db3af 42.9%,#15b1b4 44.7%,#0aacbe 55.3%,#06a7c6 66.7%,#0e91d2"></i><i style="--g:#f5e71b,#fad22a 4.7%,#ffc337 11.6%,#f8ba45 15.7%,#b2bd66 27.8%,#72bf80 34.7%,#2fb7a3 41.2%,#15b0b5 45.7%,#06a7c6 66.7%,#0e91d2"></i><i style="--g:#f5e61c,#fad12b 4.7%,#ffc337 11.2%,#f7ba45 15.7%,#b3bd65 27.4%,#7abf7c 33.6%,#35b89f 40.2%,#1db3af 43.3%,#15b1b4 45%,#06a7c6 66.4%,#0e91d2"></i><i style="--g:#f5e11f,#fbcf2d 4.3%,#ffc337 10.2%,#f8ba44 14.7%,#b0bd66 26.4%,#72bf80 32.9%,#37b99e 38.4%,#16b1b4 43.3%,#0aacbe 54%,#06a7c6 65%,#0e92d2"></i><i style="--g:#f5e020,#fcce2e 4.3%,#ffc337 9.8%,#f8bb44 14.3%,#b1bd66 25.7%,#74bf7f 32.2%,#35b89f 38.1%,#1cb3af 41.2%,#15b0b4 42.9%,#06a7c6 64.3%,#0e92d2"></i><i style="--g:#f5df20,#fcce2e 4.3%,#ffc337 9.8%,#f8ba44 14.3%,#b1bd66 25.7%,#73bf7f 32.2%,#38b99e 37.8%,#1eb3ae 40.9%,#15b0b4 42.9%,#06a7c6 64.3%,#0e92d2"></i><i style="--g:#f5e41d,#fbcf2c 4.7%,#ffc337 10.9%,#f7ba45 15.3%,#b1bd66 27.1%,#74bf7f 33.6%,#36b99f 39.5%,#1db3af 42.6%,#15b1b4 44.3%,#06a7c6 65%,#0e92d2"></i><i style="--g:#f5df20,#fcce2e 4.3%,#ffc337 9.8%,#f8ba44 14.3%,#b1bd66 25.7%,#73bf7f 32.2%,#38b99e 37.8%,#1eb3ae 40.9%,#15b0b4 42.9%,#06a7c6 64.3%,#0e92d2"></i><i style="--g:#f5df21,#fcce2e 4.3%,#ffc337 9.8%,#f8ba44 14.3%,#b2bd66 25.3%,#71bf80 32.2%,#36b99f 37.8%,#1db3af 40.9%,#15b1b4 42.6%,#06a7c6 63.6%,#0d92d2"></i><i style="--g:#f5e020,#fcce2d 4.3%,#ffc437 9.8%,#f8bb44 14.3%,#b1bd66 25.7%,#73bf7f 32.2%,#38b99e 37.8%,#16b1b4 42.6%,#0aacbe 53.3%,#06a7c6 64.3%,#0d92d2"></i><i style="--g:#f5e61c,#fbd12b 4.7%,#ffc337 11.2%,#f8ba44 15.3%,#b2bd66 27.4%,#71bf80 34.3%,#36b99f 39.8%,#15b1b4 44.7%,#0aacbe 55%,#06a7c6 65.7%,#0d92d2"></i><i style="--g:#f5e71b,#fad22b 4.7%,#ffc337 11.6%,#f7ba45 15.7%,#b1bd66 27.8%,#74bf7f 34.3%,#36b99f 40.2%,#1db3af 43.3%,#15b1b4 45%,#06a7c6 66.4%,#0d92d2"></i><i style="--g:#f5e61c,#fbd12b 4.7%,#ffc337 11.2%,#f7ba45 15.7%,#b2bd66 27.4%,#71bf80 34.3%,#37b99e 39.8%,#15b1b4 44.7%,#06a7c6 66%,#0d92d2"></i><i style="--g:#f5e41d,#fbd02c 4.7%,#ffc338 11.2%,#f7ba45 15.3%,#b2bd66 27.1%,#74bf7f 33.6%,#36b99f 39.5%,#1db3af 42.6%,#15b1b4 44.3%,#06a7c6 65.7%,#0d92d2"></i><i style="--g:#f5e31e,#fbcf2d 4.7%,#ffc338 10.9%,#f8ba44 15%,#b1bd66 26.7%,#74bf7f 33.3%,#35b89f 39.1%,#1cb3af 42.2%,#15b1b4 44%,#06a7c6 65%,#0d92d2"></i><i style="--g:#f5e31e,#fccf2d 4.7%,#ffc338 10.9%,#f8ba44 15%,#b0bd66 26.7%,#72bf80 33.3%,#37b99e 38.8%,#16b1b4 43.6%,#0aacbe 54%,#06a7c6 65%,#0d92d2"></i><i style="--g:#f5e21f,#fbcf2d 4.3%,#ffc337 10.5%,#f7ba45 15%,#b1bd66 26.4%,#72bf80 32.9%,#37b99e 38.4%,#15b1b4 43.3%,#06a7c6 64.7%,#0d92d2"></i><i style="--g:#f5e41d,#fbcf2c 4.7%,#ffc337 10.9%,#f7ba45 15.3%,#b0bd66 27.1%,#72bf80 33.6%,#37b99e 39.1%,#16b1b4 44%,#0aacbe 54.3%,#06a7c6 65.3%,#0d93d2"></i><i style="--g:#f5e71b,#fad22b 5%,#ffc338 11.9%,#f8ba44 15.7%,#b2bd66 27.8%,#79bf7d 34%,#37b99e 40.2%,#15b1b4 45%,#06a7c6 65.7%,#0d93d2"></i><i style="--g:#f5e21f,#fcce2d 4.7%,#ffc337 10.5%,#f8bb44 14.7%,#b0bd66 26.4%,#71bf80 32.9%,#36b99f 38.4%,#1fb4ad 41.2%,#15b1b4 43.3%,#0aacbe 53.6%,#06a7c6 64.7%,#0d93d2"></i><i style="--g:#f5df21,#fcce2e 4.3%,#ffc337 9.8%,#f8ba45 14.3%,#b1bd66 25.3%,#73bf7f 31.9%,#37b99e 37.4%,#1db3af 40.5%,#15b1b4 42.2%,#06a7c6 63.3%,#0d93d2"></i><i style="--g:#f6de22,#fccd2e 4.3%,#ffc337 9.5%,#f8ba44 14%,#b0bd66 25%,#71bf80 31.6%,#36b89f 37.1%,#1cb3af 40.2%,#15b0b5 41.9%,#06a7c6 62.6%,#0d93d2"></i><i style="--g:#f6de21,#fccd2e 4.3%,#ffc337 9.5%,#f8bb44 14%,#b1bd66 25%,#72bf80 31.6%,#36b99f 37.1%,#1db3af 40.2%,#15b1b4 41.9%,#06a7c6 62.6%,#0d93d2"></i><i style="--g:#f5df21,#fcce2e 4.3%,#ffc337 9.8%,#f8ba45 14.3%,#b1bd66 25.3%,#72bf80 31.9%,#37b99e 37.4%,#1db3af 40.5%,#15b1b4 42.2%,#06a7c6 63.3%,#0d93d2"></i><i style="--g:#f5e31e,#fbcf2d 4.7%,#ffc337 10.5%,#f7ba45 15%,#afbe67 26.7%,#70bf81 33.3%,#35b89f 38.8%,#1fb3ae 41.6%,#15b1b4 43.6%,#0aacbe 53.6%,#06a7c6 64.3%,#0d93d2"></i><i style="--g:#f5e51c,#fbd02c 4.7%,#ffc337 11.2%,#f8ba44 15.3%,#b2bd66 27.1%,#71bf80 34%,#36b99f 39.5%,#1db3af 42.6%,#15b1b4 44.3%,#06a7c6 65%,#0d93d2"></i><i style="--g:#f5e21f,#fbcf2d 4.3%,#ffc437 10.2%,#f8ba44 14.7%,#b2bd66 26%,#7bbf7c 31.9%,#38b99e 38.1%,#16b1b4 42.9%,#0aacbe 53.3%,#06a7c6 64%,#0c93d2"></i><i style="--g:#f5e020,#fcce2d 4.3%,#ffc337 10.2%,#f7ba45 14.7%,#b1bd66 25.7%,#72bf80 32.2%,#37b99e 37.8%,#1db3af 40.9%,#15b1b4 42.6%,#06a7c6 63.3%,#0c93d2"></i><i style="--g:#f5de21,#fccd2e 4.3%,#ffc437 9.5%,#f8bb44 14%,#b1bd66 25%,#72bf80 31.6%,#36b99f 37.1%,#1db3af 40.2%,#15b1b4 41.9%,#06a7c6 62.9%,#0c93d2"></i><i style="--g:#f5e31e,#fbcf2d 4.7%,#ffc338 10.9%,#f8ba44 15%,#b2bd66 26.4%,#74bf7f 32.9%,#35b89f 38.8%,#1cb3af 41.9%,#15b0b5 43.6%,#06a7c6 64%,#0c93d2"></i><i style="--g:#f5e21f,#fcce2d 4.7%,#ffc337 10.5%,#f8bb44 14.7%,#b2bd66 26%,#74bf7f 32.6%,#35b8a0 38.4%,#1eb3ae 41.2%,#15b1b4 43.3%,#06a7c6 64%,#0c93d2"></i><i style="--g:#f5e21e,#fcce2d 4.7%,#ffc337 10.5%,#f7ba45 15%,#b1bd66 26.4%,#72bf80 32.9%,#36b99f 38.4%,#1db3af 41.6%,#15b1b4 43.3%,#06a7c6 63.6%,#0c93d2"></i><i style="--g:#f5e11f,#fbcf2d 4.3%,#ffc337 10.2%,#f8ba44 14.7%,#b1bd66 26%,#71bf80 32.6%,#36b99f 38.1%,#1cb3af 41.2%,#15b0b4 42.9%,#06a7c6 63.6%,#0c93d2"></i><i style="--g:#f5e21e,#fcce2d 4.7%,#ffc337 10.5%,#f7ba45 15%,#afbe67 26.4%,#74bf7f 32.6%,#35b8a0 38.4%,#1eb3ae 41.2%,#15b1b4 43.3%,#06a7c6 64.3%,#0c93d2"></i><i style="--g:#f5ea19,#f8d627 4.7%,#ffc337 12.2%,#f8bb44 16%,#b3bd65 28.1%,#7abf7c 34.3%,#38b99e 40.5%,#15b1b4 45.3%,#0aacbe 55.3%,#06a7c6 65.7%,#0c93d2"></i><i style="--g:#f5e71b,#fad12b 5%,#ffc338 11.9%,#f8ba44 15.7%,#b2bd65 27.4%,#7cbf7b 33.3%,#36b99f 39.8%,#1db3af 42.9%,#15b1b4 44.7%,#06a7c6 65.3%,#0c93d2"></i><i style="--g:#f5e31e,#fbcf2d 4.7%,#ffc337 10.9%,#f8bb44 15%,#b2bd66 26.4%,#7bbf7c 32.2%,#37b99e 38.4%,#16b1b4 43.3%,#0aacbe 53.6%,#06a7c6 64.3%,#0c93d2"></i><i style="--g:#f5e71b,#fad12b 5%,#ffc338 11.9%,#f8ba44 15.7%,#b2bd65 27.4%,#71bf80 34.3%,#36b99f 39.8%,#1cb3af 42.9%,#15b0b4 44.7%,#06a7c6 64.7%,#0c93d2"></i><i style="--g:#f5e41d,#fbd02c 4.7%,#ffc337 11.2%,#f8ba44 15.3%,#b2bd66 26.7%,#73bf7f 33.3%,#2eb7a4 39.8%,#15b0b5 44%,#06a7c6 64.3%,#0c93d2"></i><i style="--g:#f5e41d,#fbcf2d 5%,#ffc337 11.2%,#f8ba44 15.3%,#b2bd66 26.7%,#7bbf7c 32.6%,#38b99e 38.8%,#15b1b4 43.6%,#06a7c6 64.3%,#0c93d2"></i><i style="--g:#f5e91a,#f9d429 4.7%,#ffc337 12.2%,#f8ba44 16%,#b0be67 28.1%,#71bf80 34.7%,#36b99f 40.2%,#1fb3ad 42.9%,#15b1b4 45%,#0aacbe 54.7%,#06a7c6 64.7%,#0c93d2"></i><i style="--g:#f5e61c,#fbd02c 5%,#ffc337 11.6%,#f8ba44 15.7%,#b3bd65 27.1%,#74bf7f 33.6%,#35b89f 39.5%,#1cb3af 42.6%,#15b0b5 44.3%,#06a7c6 64.7%,#0c93d2"></i><i style="--g:#f5e71b,#fad12b 5%,#ffc337 11.9%,#f8bb44 15.7%,#b1bd66 27.4%,#72bf80 34%,#37b99e 39.5%,#1db3af 42.6%,#15b1b4 44.3%,#06a7c6 64.3%,#0c93d2"></i><i style="--g:#f5e51c,#fbd12b 4.7%,#ffc337 11.2%,#f7ba45 15.7%,#b2bd66 26.7%,#74bf7f 33.3%,#35b8a0 39.1%,#1eb3ae 41.9%,#15b0b5 44%,#06a7c6 63.6%,#0c93d2"></i><i style="--g:#f5e31e,#fbd02c 4.7%,#ffc437 10.9%,#f7ba45 15.3%,#b1bd66 26.4%,#72bf80 32.9%,#30b7a3 39.1%,#1db3af 41.6%,#15b0b5 43.6%,#06a7c6 62.9%,#0c93d2"></i><i style="--g:#f5e21f,#fcce2d 4.7%,#ffc337 10.9%,#f8ba44 15%,#b1bd66 26%,#71bf80 32.6%,#35b89f 38.1%,#1eb3ae 40.9%,#15b0b5 42.9%,#06a7c6 62.2%,#0c93d2"></i><i style="--g:#f5e020,#fcce2d 4.3%,#ffc337 10.2%,#f8ba44 14.7%,#b1bd66 25.3%,#71bf80 31.9%,#2eb7a4 38.1%,#15b0b5 42.2%,#06a7c6 61.9%,#0c93d2"></i><i style="--g:#f5e31e,#fcce2d 5%,#ffc338 11.2%,#f8ba44 15.3%,#b1bd66 26.4%,#71bf80 32.9%,#36b89f 38.4%,#1eb3ae 41.2%,#15b0b5 43.3%,#06a7c6 62.2%,#0c93d2"></i><i style="--g:#f5e41d,#fcce2d 5%,#ffc337 11.2%,#f8ba44 15.3%,#b2bd66 26.4%,#72bf80 32.9%,#36b99f 38.4%,#1db3af 41.6%,#15b0b4 43.3%,#06a7c6 62.6%,#0c93d2"></i><i style="--g:#f5e21e,#fccf2d 4.7%,#ffc337 10.9%,#f7ba45 15.3%,#b0bd66 26%,#74bf7f 32.2%,#38b99e 37.8%,#1db3af 40.9%,#15b1b4 42.6%,#06a7c6 61.9%,#0c93d2"></i><i style="--g:#f5df20,#fcce2d 4.3%,#ffc337 10.2%,#f8ba44 14.7%,#b0be67 25.3%,#73bf80 31.6%,#36b99f 37.1%,#1cb3af 40.2%,#15b0b5 41.9%,#06a7c6 61.6%,#0c93d2"></i><i style="--g:#f5e41d,#fbd02c 4.7%,#ffc337 11.2%,#f7ba45 15.7%,#b0bd66 26.7%,#74bf7f 32.9%,#37b99e 38.4%,#1db3af 41.6%,#15b1b4 43.3%,#06a7c6 61.9%,#0c93d2"></i><i style="--g:#f5e41d,#fbd02c 4.7%,#ffc437 11.2%,#f8ba45 15.7%,#b0bd66 26.7%,#70bf81 33.3%,#35b8a0 38.8%,#1eb3ae 41.6%,#15b0b5 43.6%,#06a7c6 62.6%,#0c93d2"></i><i style="--g:#f5e51c,#fbcf2c 5%,#ffc337 11.6%,#f8ba44 15.7%,#b1bd66 26.7%,#71bf80 33.3%,#35b89f 38.8%,#1eb3ae 41.6%,#15b0b5 43.6%,#06a7c6 61.9%,#0c93d2"></i><i style="--g:#f6de22,#fccd2e 4.3%,#ffc337 9.8%,#f8bb44 14.3%,#b0bd66 24.7%,#73bf80 30.9%,#36b99f 36.4%,#1eb3ae 39.1%,#15b0b5 41.2%,#06a7c6 60.9%,#0c93d2"></i><i style="--g:#f5e31e,#fcce2d 5%,#ffc337 11.2%,#f8ba44 15.3%,#b1bd66 26%,#72bf80 32.6%,#35b89f 38.1%,#1eb3ae 40.9%,#15b0b5 42.9%,#06a7c6 60.9%,#0c93d2"></i><i style="--g:#f5e11f,#fcce2d 4.7%,#ffc337 10.9%,#f7ba45 15.3%,#b1bd66 25.7%,#71bf80 32.2%,#38b99e 37.4%,#1db3af 40.5%,#15b1b4 42.2%,#06a7c6 60.9%,#0c93d2"></i><i style="--g:#f5e21f,#fccf2d 4.7%,#ffc337 10.9%,#f7ba45 15.3%,#afbe67 26%,#72bf80 32.2%,#36b89f 37.8%,#1fb3ae 40.5%,#15b1b4 42.6%,#06a7c6 61.2%,#0c93d2"></i><i style="--g:#f5e41d,#fbcf2d 5%,#ffc338 11.6%,#f8ba44 15.7%,#b1bd66 26.4%,#71bf80 32.9%,#35b89f 38.4%,#1eb3ae 41.2%,#15b0b5 43.3%,#06a7c6 61.9%,#0c93d2"></i><i style="--g:#f5e91a,#f9d429 5%,#ffc337 12.6%,#f8ba44 16.4%,#b0bd67 27.4%,#73bf7f 33.6%,#37b99e 39.1%,#1db3af 42.2%,#15b0b4 44%,#06a7c6 62.2%,#0c93d2"></i><i style="--g:#f5ea19,#f9d528 5%,#ffc337 12.9%,#f7ba45 16.7%,#b1bd66 27.1%,#74bf7f 33.3%,#37b99e 38.8%,#1db3af 41.9%,#15b0b5 43.6%,#06a7c6 61.6%,#0c93d2"></i><i style="--g:#f5e81a,#fad32a 5%,#ffc337 12.2%,#f9bb44 16%,#b0bd67 26%,#72bf80 32.2%,#37b99e 37.4%,#1db3af 40.5%,#15b0b5 42.2%,#06a7c6 60.2%,#0c93d2"></i><i style="--g:#f5eb18,#f8d727 5%,#ffc437 12.9%,#f9bb43 16.4%,#afbe67 26.4%,#71bf80 32.6%,#36b99f 37.8%,#1eb3ae 40.5%,#15b0b5 42.6%,#06a7c6 59.5%,#0c93d2"></i><i style="--g:#f5eb18,#f8d727 5%,#ffc437 12.9%,#f9bb44 16.4%,#adbe68 26%,#71bf80 31.9%,#36b99f 37.1%,#1eb3ae 39.8%,#14b0b5 41.9%,#06a7c6 58.8%,#0c93d2"></i><i style="--g:#f5ec17,#f7d826 5%,#ffc337 13.3%,#f9bb43 16.4%,#9dbf6e 27.4%,#2cb6a5 37.8%,#14b0b5 41.6%,#06a7c6 57.8%,#0c93d2"></i><i style="--g:#f5ed17,#f7d826 5.3%,#ffc337 13.6%,#f9bb43 16.4%,#9dbe6e 27.1%,#2eb7a3 37.1%,#1eb3ae 39.1%,#14b0b5 41.6%,#06a7c6 57.1%,#0c93d2"></i><i style="--g:#f5eb18,#f8d627 5%,#ffc337 12.9%,#f9bb43 16%,#9abf6f 26.7%,#2eb7a4 36.4%,#15b0b5 40.2%,#06a7c6 56.4%,#0c93d2"></i><i style="--g:#f6f015,#ffc437 14%,#f8ba44 17.1%,#aebe67 25.7%,#71bf80 31.6%,#2eb7a4 37.4%,#15b0b5 41.2%,#06a7c6 56.7%,#0c93d2"></i><i style="--g:#f6f015,#ffc437 14%,#f8ba44 17.1%,#9cbf6e 27.4%,#2fb7a3 37.1%,#1db3af 39.1%,#14b0b5 41.2%,#06a7c6 56.7%,#0c93d2"></i><i style="--g:#f7f412,#f5e41d 4%,#ffc437 14.7%,#f9bb43 17.4%,#9cbf6f 28.1%,#2eb7a3 37.8%,#1eb3ae 39.8%,#14b0b6 42.2%,#06a7c6 57.1%,#0c93d2"></i><i style="--g:#f8f710,#f5e31d 5.3%,#ffc337 15.3%,#f8bb44 18.1%,#9bbf6f 28.8%,#2eb7a4 38.4%,#15b0b5 42.2%,#06a7c6 57.1%,#0c93d2"></i><i style="--g:#f7f313,#f5de21 5.7%,#ffc437 14.7%,#f9bb44 17.4%,#a5be6b 26.7%,#70bf81 31.6%,#30b7a3 37.1%,#15b0b5 40.9%,#06a7c6 57.1%,#0c93d2"></i><i style="--g:#f9fb0e,#f5e41d 6.7%,#ffc437 16.7%,#f9bb44 19.5%,#b2bd65 28.1%,#71bf80 34.3%,#2db7a4 40.2%,#14b0b5 44%,#06a7c6 58.1%,#0c93d2"></i><i style="--g:#f9fa0e,#f5e41d 6.4%,#ffc437 16.4%,#f9bb44 19.1%,#9bbf6f 29.8%,#2db7a4 39.5%,#14b0b5 43.3%,#06a7c6 58.1%,#0c93d2"></i><i style="--g:#f9f90f,#f5e41d 5.7%,#ffc337 16%,#f9bb43 18.4%,#9ebe6e 28.8%,#2bb6a5 38.8%,#14b0b5 42.6%,#06a7c6 57.4%,#0c93d2"></i><i style="--g:#f8f90f,#f5e31e 6%,#ffc337 16%,#f9bb43 18.4%,#9ebe6e 28.8%,#2cb7a5 38.8%,#14b0b5 42.6%,#06a7c6 57.1%,#0c93d2"></i><i style="--g:#f9f90f,#f5e41d 5.7%,#ffc437 15.7%,#f9bb44 18.4%,#9cbf6e 28.8%,#2db7a4 38.4%,#14b0b5 42.2%,#06a7c6 57.1%,#0c93d2"></i><i style="--g:#f9fa0e,#f5e41d 6%,#ffc338 16.4%,#f9bb43 18.8%,#afbe67 27.4%,#70bf81 33.3%,#2fb7a3 38.8%,#14b0b5 42.6%,#06a7c6 57.4%,#0c93d2"></i><i style="--g:#f9fb0e,#f5e41d 6.4%,#ffc338 16.7%,#f9bb43 19.1%,#9cbf6e 29.8%,#2db7a4 39.5%,#14b0b5 43.3%,#06a7c6 57.8%,#0c93d2"></i><i style="--g:#f9fa0e,#f5e41d 6.4%,#ffc437 16.4%,#f9bb43 19.1%,#9cbf6f 29.8%,#2db7a4 39.5%,#14b0b5 43.3%,#06a7c6 57.8%,#0c93d2"></i><i style="--g:#f9fa0e,#f5e41d 6%,#ffc337 16.4%,#f9bb43 18.8%,#9ebe6d 29.1%,#2cb7a5 39.1%,#1bb2b0 41.2%,#14b0b5 42.9%,#06a7c6 57.1%,#0c93d2"></i><i style="--g:#f8f810,#f5e41d 5.3%,#ffc337 15.7%,#f9bb43 18.1%,#9cbf6f 28.4%,#2cb7a5 38.1%,#14b0b5 41.9%,#06a7c6 56.4%,#0c93d2"></i><i style="--g:#f8f810,#f5e41d 5.3%,#ffc337 15.7%,#f9bb43 18.1%,#9cbf6e 28.4%,#2db7a5 38.1%,#14b0b5 41.9%,#06a7c6 56.4%,#0c93d2"></i><i style="--g:#f9fa0e,#f5e41d 6.4%,#ffc337 16.4%,#f8ba44 19.1%,#aebe67 27.8%,#6fbf81 33.6%,#2eb7a4 39.1%,#14b0b5 42.9%,#06a7c6 56.7%,#0c93d2"></i><i style="--g:#f8f90f,#f5e41d 5.7%,#ffc338 16%,#f9bb44 18.4%,#9cbf6e 28.8%,#2db7a4 38.4%,#14b0b5 42.2%,#06a7c6 56.4%,#0c93d2"></i><i style="--g:#f8f80f,#f5e41d 5.3%,#ffc337 15.7%,#f9bb43 18.1%,#9cbf6e 28.4%,#2db7a4 38.1%,#14b0b5 41.9%,#06a7c6 56%,#0c93d2"></i><i style="--g:#f9fa0f,#f5e41d 5.7%,#ffc337 16%,#f9bb43 18.4%,#9dbe6e 28.8%,#2eb7a4 38.4%,#14b0b5 42.2%,#06a7c6 56.4%,#0c93d2"></i><i style="--g:#f9fa0e,#f5e31d 6%,#ffc337 16%,#fabb42 18.4%,#9bbf6f 29.1%,#2cb7a5 38.8%,#14b0b5 42.6%,#06a7c6 56.7%,#0c93d2"></i><i style="--g:#f9fb0e,#f8f810 2.2%,#f5e31d 7.1%,#ffc338 17.1%,#f9bb43 19.5%,#a5be6b 29.5%,#70bf81 34.3%,#2cb7a5 40.2%,#14b0b6 44%,#06a7c6 57.1%,#0c93d2"></i><i style="--g:#f9fa0e,#f5e31d 6%,#ffc337 16%,#f8ba44 18.8%,#9ebe6e 29.1%,#2cb7a5 39.1%,#14b0b5 42.9%,#06a7c6 56.7%,#0c93d2"></i><i style="--g:#f8f810,#f5e41d 5.3%,#ffc337 15.7%,#f9bb42 18.1%,#a2be6c 28.4%,#71bf80 32.9%,#2db7a4 38.8%,#14b0b5 42.6%,#06a7c6 56.7%,#0d93d2"></i><i style="--g:#f9fa0e,#f5e41d 6%,#ffc338 16.4%,#f9bb43 18.8%,#b1bd66 28.1%,#70bf80 34.3%,#2eb7a4 40.2%,#1cb3af 42.2%,#13b0b6 44.3%,#06a7c6 57.4%,#0d92d2"></i><i style="--g:#f8f90f,#f5e31d 5.7%,#ffc338 16%,#f8ba44 18.8%,#b0bd66 28.1%,#73bf7f 34%,#37b99e 39.1%,#1eb3ae 41.9%,#14b0b5 44%,#06a7c6 57.4%,#0d92d2"></i><i style="--g:#f6f015,#f6dc23 5.3%,#ffc437 14.3%,#f9bb44 17.4%,#a5be6b 27.8%,#71bf80 32.6%,#2bb6a6 38.8%,#14b0b5 42.6%,#06a6c6 56.7%,#0d92d2"></i><i style="--g:#f6f015,#f6dc23 5.3%,#ffc337 14.3%,#f9bb44 17.4%,#aebe67 27.1%,#72bf80 32.9%,#2fb7a3 38.8%,#1bb2b0 41.2%,#14b0b5 42.9%,#06a7c6 56.4%,#0e91d2"></i><i style="--g:#f5eb18,#f8d727 5%,#ffc437 13.3%,#f8bb44 16.7%,#a4be6b 27.4%,#71bf80 32.2%,#29b6a7 38.8%,#12afb7 43.3%,#07a9c2 51.9%,#06a4ca 59.5%,#0e91d2"></i><i style="--g:#f5e31e,#fccf2d 5%,#ffc337 11.6%,#f9bb43 15.3%,#a5be6b 25.7%,#71bf80 30.5%,#2cb6a5 36.7%,#14b0b5 40.5%,#06a7c6 54.3%,#0e91d2"></i><i style="--g:#f5e41d,#fbcf2c 5%,#ffc337 11.9%,#f9bb43 15.7%,#aebe67 25.3%,#71bf80 31.2%,#2fb7a3 37.1%,#1bb2b0 39.5%,#14b0b5 41.2%,#06a7c6 54%,#0e91d2"></i><i style="--g:#f5e11f,#fcce2d 4.7%,#ffc337 10.9%,#f8ba44 15.3%,#aebe67 24.7%,#71bf80 30.5%,#2fb7a3 36.4%,#1bb2b0 38.8%,#14b0b5 40.5%,#06a7c6 54.3%,#0e91d2"></i><i style="--g:#f5e51c,#fbd02c 5%,#ffc337 12.2%,#f8ba44 16.4%,#b2bd66 26%,#73bf7f 32.2%,#31b8a2 38.1%,#1cb3af 40.5%,#13b0b6 42.6%,#06a7c6 55.3%,#0e91d2"></i><i style="--g:#f5e61c,#fad22b 5%,#ffc337 12.6%,#f9bb43 16.4%,#b0bd66 26.7%,#71bf80 32.9%,#2fb7a3 38.8%,#1cb3b0 41.2%,#13b0b6 43.3%,#06a7c6 56.4%,#0e91d2"></i><i style="--g:#f5e61b,#fad22a 4.7%,#ffc337 11.9%,#f7ba45 16%,#adbe68 26.7%,#73bf7f 32.6%,#30b7a3 38.8%,#1db3af 41.2%,#13b0b6 43.6%,#06a7c6 56.4%,#0e91d2"></i><i style="--g:#f5e020,#fcce2e 4%,#ffc437 8.4%,#f7ba45 12.2%,#9bbf6f 24.3%,#2db7a4 36%,#1db3af 38.4%,#13b0b6 41.2%,#06a6c6 54%,#0f90d2"></i><i style="--g:#f7d925,#ffc337 5.3%,#f8ba44 8.1%,#ccbb5b 13.3%,#7cbf7b 23.3%,#36b99f 31.2%,#1db3af 35%,#13b0b6 37.8%,#06a7c6 50.5%,#108fd2"></i><i style="--g:#fad32a,#ffc338 3.3%,#f8bb44 5.3%,#b7bd63 11.9%,#86bf78 18.8%,#43bb97 26.7%,#25b5a9 30.9%,#15b0b5 34.3%,#06a7c6 48.4%,#079ccf 71.2%,#108ed2"></i><i style="--g:#f8d627,#ffc338 3.6%,#f8ba44 5.7%,#babd63 12.2%,#87bf77 19.5%,#43bb97 27.8%,#24b5aa 32.2%,#14b0b5 35.7%,#06a7c6 49.1%,#079dcf 71.2%,#108ed2"></i><i style="--g:#f8d627,#ffc337 3.6%,#f8ba44 5.7%,#b7bd63 12.6%,#87bf77 19.5%,#41ba98 28.1%,#15b0b5 35.7%,#06a7c6 49.8%,#079dcf 71.6%,#108ed2"></i><i style="--g:#f7d925,#ffc436 3.6%,#fabb42 5.7%,#b9bd63 12.9%,#7abf7c 21.9%,#40ba99 29.1%,#1fb3ad 34.3%,#14b0b5 37.1%,#06a7c6 50.2%,#079dcf 71.6%,#118ed2"></i><i style="--g:#f8d627,#ffc338 3.6%,#f8ba44 5.7%,#b7bd64 12.6%,#87bf77 19.5%,#41ba99 28.1%,#15b0b5 35.7%,#06a6c6 50.2%,#079dcf 71.6%,#118ed2"></i><i style="--g:#f7da25,#ffc338 4%,#f8ba44 6%,#b9bd63 12.9%,#7bbf7c 21.9%,#41ba98 29.1%,#1eb3ae 34.7%,#14b0b6 37.4%,#06a7c6 50.2%,#079dcf 71.2%,#118dd2"></i><i style="--g:#f8d627,#ffc338 3.6%,#f8ba44 5.7%,#b7bd64 12.6%,#87bf77 19.5%,#41ba98 28.1%,#1fb3ae 33.3%,#14b0b5 36%,#06a6c6 49.8%,#079dcf 70.9%,#118dd2"></i><i style="--g:#f9d528,#ffc437 3.3%,#fabb42 5.3%,#b9bd63 12.2%,#85bf78 19.5%,#42bb98 27.8%,#21b4ac 32.6%,#14b0b5 35.7%,#06a7c6 49.1%,#079ccf 70.5%,#118dd2"></i><i style="--g:#f9d528,#ffc437 3.3%,#fabb42 5.3%,#b9bd63 12.2%,#86bf77 19.5%,#42bb98 27.8%,#24b5aa 32.2%,#14b0b5 35.7%,#06a6c6 48.8%,#079dcf 69.8%,#118dd2"></i><i style="--g:#fbd02c,#ffc337 2.9%,#f9bb43 5%,#b6bd64 11.6%,#86bf77 18.1%,#43bb97 26%,#1fb3ad 31.2%,#14b0b5 34%,#06a7c6 47.1%,#079dcf 68.8%,#118dd2"></i><i style="--g:#fccd2f,#f9bb43 4.7%,#b4bd65 11.2%,#71bf80 19.8%,#38b99e 26.4%,#14b0b5 32.6%,#06a6c6 46%,#079dcf 68.1%,#118cd2"></i><i style="--g:#fcce2e,#fec13a 3.3%,#f7ba45 5%,#b5bd64 11.2%,#73bf7f 19.8%,#38b99e 26.7%,#14b0b5 32.9%,#06a7c6 46%,#079ccf 68.1%,#118cd2"></i><i style="--g:#fbcf2c,#ffc338 2.9%,#f9bb43 5%,#b5bd64 11.6%,#72bf80 20.5%,#37b99e 27.4%,#14b0b5 33.6%,#06a7c6 46.7%,#079ccf 68.4%,#118cd2"></i><i style="--g:#fad22a,#ffc338 3.3%,#f8ba44 5.3%,#b7bd64 11.9%,#86bf77 18.8%,#41ba98 27.1%,#1fb3ae 32.2%,#14b0b6 35%,#06a6c6 47.8%,#079ccf 68.8%,#128cd2"></i><i style="--g:#fad22b,#ffc238 3.3%,#f8ba44 5.3%,#b9bd63 11.6%,#7cbf7b 19.8%,#42bb98 26.7%,#1fb4ad 31.9%,#14b0b5 34.7%,#06a7c6 47.8%,#079ccf 68.8%,#128cd2"></i><i style="--g:#fad22a,#ffc338 3.3%,#f8ba44 5.3%,#b4bd65 12.2%,#72bf80 21.2%,#36b99f 28.4%,#14b0b5 34.7%,#06a7c6 47.4%,#079ccf 68.4%,#128bd2"></i><i style="--g:#fbcf2d,#ffc238 2.9%,#f8bb44 5%,#b4bd65 11.6%,#73bf7f 20.2%,#36b99f 27.4%,#14b0b5 33.6%,#06a7c6 46.7%,#079dcf 67.8%,#128bd2"></i><i style="--g:#fccf2d,#ffc238 2.9%,#f8ba44 5%,#b4bd65 11.6%,#73bf7f 20.2%,#36b99f 27.4%,#14b0b5 33.6%,#06a7c6 46.4%,#079ccf 67.8%,#128bd2"></i><i style="--g:#fbd02c,#ffc338 2.9%,#f9bb43 5%,#b9bd63 11.2%,#7bbf7c 19.5%,#41ba99 26.4%,#20b4ad 31.2%,#13b0b6 34.3%,#06a7c6 46.7%,#079ccf 67.8%,#128bd2"></i><i style="--g:#fad12b,#ffc337 2.9%,#fabb42 5%,#b8bd63 11.6%,#7cbf7c 19.8%,#42bb98 26.7%,#1fb3ae 31.9%,#14b0b5 34.7%,#06a7c6 47.1%,#079ccf 67.8%,#128bd3"></i><i style="--g:#fad12b,#ffc337 2.9%,#fabb42 5%,#b8bd63 11.6%,#87bf77 18.4%,#42bb98 26.7%,#1fb3ad 31.9%,#14b0b5 34.7%,#06a6c6 47.8%,#079ccf 68.1%,#128bd3"></i><i style="--g:#f9d429,#ffc337 3.3%,#f9bb43 5.3%,#b7bd64 12.2%,#87bf77 19.1%,#41ba98 27.8%,#21b4ac 32.6%,#14b0b5 35.7%,#06a7c6 48.4%,#079ccf 68.4%,#128ad3"></i><i style="--g:#f9d528,#ffc436 3.3%,#fabb42 5.3%,#b9bd63 12.2%,#7cbf7b 20.9%,#42bb98 28.1%,#24b5aa 32.6%,#14b0b5 36%,#06a7c6 48.8%,#079dcf 68.4%,#128ad3"></i><i style="--g:#f9d429,#ffc337 3.3%,#f9bb43 5.3%,#b7bd64 12.2%,#87bf77 19.1%,#42bb98 27.8%,#24b5aa 32.2%,#14b0b5 35.7%,#06a7c6 48.4%,#079dcf 68.1%,#138ad3"></i><i style="--g:#fad22a,#ffc338 3.3%,#f8ba44 5.3%,#b4bd65 12.2%,#73bf7f 21.2%,#38b99d 28.4%,#14b0b5 35%,#06a6c6 48.4%,#079ccf 68.1%,#138ad3"></i><i style="--g:#f9d528,#ffc437 3.3%,#fabb42 5.3%,#b9bd63 12.2%,#87bf77 19.5%,#42bb98 28.1%,#24b5aa 32.6%,#14b0b5 36%,#06a7c6 48.8%,#079ccf 68.4%,#138ad3"></i><i style="--g:#f8d826,#ffc337 3.6%,#f9bb43 5.7%,#b7bd64 12.9%,#86bf77 20.2%,#42bb98 28.8%,#25b5aa 33.3%,#14b0b5 37.1%,#06a7c6 49.8%,#079dcf 68.8%,#1389d3"></i><i style="--g:#f7d925,#ffc436 3.6%,#fabb42 5.7%,#b9bd63 12.9%,#7cbf7b 21.9%,#41ba99 29.5%,#1eb3ae 35%,#14b0b5 37.8%,#06a6c6 50.5%,#079ccf 69.1%,#1389d3"></i><i style="--g:#f7d925,#ffc436 3.6%,#fabb42 5.7%,#b9bd63 12.9%,#86bf77 20.5%,#43bb97 29.1%,#25b5a9 33.6%,#14b0b5 37.4%,#06a7c6 50.2%,#079ccf 69.1%,#1389d3"></i><i style="--g:#f8d726,#ffc337 3.6%,#f9bb43 5.7%,#b7bd64 12.9%,#86bf77 20.2%,#42bb98 28.8%,#25b5aa 33.3%,#14b0b5 37.1%,#06a7c6 49.5%,#079dcf 68.4%,#1389d3"></i><i style="--g:#f9d429,#ffc437 3.3%,#fabb42 5.3%,#b8bd63 12.2%,#86bf77 19.5%,#43bb97 27.8%,#21b4ac 32.9%,#14b0b5 36%,#06a6c6 49.1%,#079ccf 68.4%,#1389d3"></i><i style="--g:#f8d627,#ffc337 3.6%,#f9bb43 5.7%,#b7bd64 12.9%,#86bf77 20.2%,#41ba98 28.8%,#1eb3ae 34.3%,#13b0b6 37.1%,#06a7c6 49.1%,#079ccf 68.1%,#1389d3"></i><i style="--g:#f9d329,#ffc337 3.3%,#fabb42 5.3%,#b8bd63 12.2%,#86bf77 19.5%,#42bb98 27.8%,#20b4ad 32.9%,#14b0b6 36%,#06a6c6 48.4%,#079ccf 67.8%,#1389d3"></i><i style="--g:#fbd02c,#ffc337 2.9%,#f8ba44 5.3%,#b6bd64 11.9%,#88bf77 18.4%,#43bb97 26.7%,#24b5aa 31.2%,#14b0b5 34.7%,#06a6c6 47.8%,#079ccf 67.4%,#1389d3"></i><i style="--g:#fad22a,#ffc337 3.3%,#f9bb43 5.3%,#b7bd64 12.2%,#87bf77 19.1%,#43bb97 27.4%,#20b4ad 32.6%,#13b0b6 35.7%,#06a6c6 47.8%,#079ccf 67.1%,#1389d3"></i><i style="--g:#fbd02c,#ffc337 2.9%,#f8bb44 5.3%,#b7bd64 11.9%,#86bf78 18.8%,#43bb97 26.7%,#24b5aa 31.2%,#14b0b5 34.7%,#06a6c6 47.8%,#079ccf 67.4%,#1389d3"></i><i style="--g:#f9d429,#ffc437 3.3%,#f9bb44 5.7%,#b8bd63 12.6%,#88bf77 19.5%,#42bb98 28.1%,#1eb3ae 33.6%,#13b0b6 36.4%,#06a7c6 48.1%,#079ccf 67.4%,#1389d3"></i><i style="--g:#fad329,#ffc437 3.3%,#f8bb44 5.7%,#b7bd64 12.6%,#87bf77 19.5%,#41ba98 28.1%,#1fb3ae 33.3%,#14b0b5 36%,#06a6c6 48.8%,#079dcf 67.8%,#1389d3"></i><i style="--g:#f8d628,#ffc337 3.6%,#f8ba45 6%,#b8bd63 12.9%,#87bf77 20.2%,#42bb98 28.8%,#1eb3ae 34.3%,#13b0b6 37.1%,#06a6c6 49.1%,#079ccf 68.1%,#1389d3"></i><i style="--g:#f9d528,#ffc337 3.6%,#f8ba45 6%,#b8bd63 12.9%,#86bf77 20.2%,#41ba98 28.8%,#1eb3ae 34.3%,#13b0b6 37.1%,#06a7c6 49.1%,#079dcf 68.1%,#1389d3"></i><i style="--g:#f9d429,#ffc337 3.6%,#f9bb42 5.7%,#b7bd64 12.9%,#88bf77 19.8%,#42bb98 28.4%,#1eb3ae 34%,#13b0b6 36.7%,#06a7c6 48.8%,#079ccf 68.1%,#1389d3"></i><i style="--g:#f9d329,#ffc338 3.6%,#f9bb43 5.7%,#b9bd63 12.6%,#86bf77 19.8%,#43bb97 28.1%,#20b4ad 33.3%,#13b0b6 36.4%,#06a6c6 48.4%,#079ccf 67.8%,#1389d3"></i><i style="--g:#fad12b,#ffc337 3.3%,#f8ba44 5.7%,#b8bd63 12.2%,#87bf77 19.1%,#42bb98 27.4%,#24b5aa 31.9%,#14b0b5 35.3%,#06a7c6 47.8%,#079ccf 67.4%,#1389d3"></i><i style="--g:#fad22a,#ffc437 3.3%,#f9bb43 5.7%,#b8bd63 12.6%,#88bf77 19.5%,#41ba98 28.1%,#1fb3ae 33.3%,#14b0b6 36%,#06a6c6 48.1%,#079ccf 67.4%,#1389d3"></i><i style="--g:#f9d429,#ffc337 3.6%,#f8ba45 6%,#b8bd63 12.9%,#88bf77 19.8%,#42bb98 28.4%,#24b5aa 32.9%,#14b0b5 36.4%,#06a6c6 48.8%,#079dcf 67.8%,#1389d3"></i><i style="--g:#f8d628,#ffc436 3.6%,#f9bb43 6%,#b9bd63 13.3%,#87bf77 20.5%,#42bb98 29.1%,#20b4ad 34.3%,#14b0b6 37.4%,#06a6c6 49.5%,#079ccf 68.4%,#1389d3"></i><i style="--g:#f8d726,#ffc337 4%,#f8ba44 6.4%,#b8bd63 13.6%,#87bf77 20.9%,#41ba99 29.8%,#1eb3ae 35.3%,#13b0b6 38.1%,#06a7c6 49.8%,#079ccf 68.8%,#1389d3"></i><i style="--g:#f8d726,#ffc337 4%,#f8bb44 6.4%,#b9bd63 13.6%,#86bf77 21.2%,#41bb98 29.8%,#20b4ad 35%,#14b0b6 38.1%,#06a7c6 49.8%,#079ccf 68.8%,#1389d3"></i><i style="--g:#f8d628,#ffc338 4%,#f9bb42 6%,#babd63 13.3%,#7bbf7c 22.2%,#41ba99 29.5%,#21b4ac 34.3%,#14b0b5 37.4%,#06a7c6 49.5%,#079ccf 68.4%,#1389d3"></i><i style="--g:#f9d429,#ffc337 3.6%,#f9bb44 6%,#babd63 12.9%,#87bf77 20.2%,#41ba98 28.8%,#21b4ac 33.6%,#14b0b5 36.7%,#06a7c6 48.8%,#079dcf 67.8%,#1389d3"></i><i style="--g:#fad32a,#ffc337 3.6%,#f8bb44 6%,#b9bd63 12.9%,#86bf77 20.2%,#42bb98 28.4%,#1eb3ae 34%,#13b0b6 36.7%,#06a7c6 48.4%,#079ccf 67.8%,#1389d3"></i><i style="--g:#f9d429,#ffc337 3.6%,#f9bb43 6%,#b8bd63 13.3%,#85bf78 20.5%,#42bb98 28.8%,#20b4ad 34%,#13b0b6 37.1%,#06a7c6 48.8%,#079dcf 67.8%,#1389d3"></i><i style="--g:#f9d528,#ffc337 4%,#f8ba44 6.4%,#b8bd63 13.6%,#86bf77 20.9%,#41ba99 29.5%,#1db3af 35%,#13b0b6 37.8%,#06a7c6 49.1%,#079ccf 68.1%,#1389d3"></i><i style="--g:#f9d429,#ffc337 3.6%,#f9bb43 6%,#b8bd63 13.3%,#85bf78 20.5%,#42bb98 28.8%,#1eb3ae 34.3%,#13b0b6 37.1%,#06a6c6 48.8%,#079dcf 67.8%,#1389d3"></i><i style="--g:#fad22a,#ffc338 3.6%,#f8ba44 6%,#b8bd63 12.9%,#88bf77 19.8%,#41ba99 28.4%,#1fb3ae 33.6%,#13b0b6 36.4%,#06a7c6 48.4%,#079ccf 67.8%,#1389d3"></i><i style="--g:#f9d528,#ffc338 4%,#f8ba44 6.4%,#babd63 13.3%,#88bf77 20.5%,#42bb98 29.1%,#20b4ad 34.3%,#13b0b6 37.4%,#06a7c6 48.8%,#079dcf 67.8%,#1389d3"></i><i style="--g:#f9d429,#ffc337 3.6%,#f9bb43 6%,#b7bd64 13.3%,#87bf77 20.2%,#41ba98 28.8%,#1fb3ae 34%,#14b0b6 36.7%,#06a7c6 48.4%,#079ccf 67.8%,#1389d3"></i><i style="--g:#fbd02c,#ffc337 3.3%,#f9bb43 5.7%,#b7bd64 12.6%,#7bbf7c 20.9%,#40ba99 27.8%,#1eb3ae 32.9%,#13b0b6 35.7%,#06a6c6 47.8%,#079ccf 67.1%,#1389d3"></i><i style="--g:#fbd02c,#ffc337 3.3%,#f9bb43 5.7%,#b7bd64 12.6%,#7abf7c 20.9%,#40ba99 27.8%,#1db3af 32.9%,#13b0b6 35.7%,#07aac2 43.6%,#06a3ca 51.2%,#1389d3"></i><i style="--g:#fbd02c,#ffc337 3.3%,#f9bb43 5.7%,#b7bd64 12.6%,#88bf77 19.1%,#42bb98 27.4%,#1fb3ae 32.6%,#14b0b6 35.3%,#06a6c6 47.4%,#079ccf 67.1%,#1389d3"></i><i style="--g:#fad22a,#ffc337 3.6%,#f8ba44 6%,#b7bd63 12.9%,#86bf77 19.8%,#42bb98 28.1%,#1fb4ad 33.3%,#13b0b6 36.4%,#06a6c6 48.1%,#079ccf 67.4%,#1389d3"></i><i style="--g:#f9d429,#ffc437 3.6%,#f9bb43 6%,#b7bd64 13.3%,#87bf77 20.2%,#41ba98 28.8%,#1db3af 34.3%,#13b0b6 37.1%,#07aac2 44.7%,#06a3ca 52.2%,#1389d3"></i><i style="--g:#fcce2d,#fec139 3.6%,#f7ba45 5.7%,#b9bd63 11.9%,#7abf7c 20.2%,#41bb98 26.7%,#20b4ad 31.6%,#13b0b6 34.7%,#06a7c6 46.7%,#079ccf 66.7%,#1389d3"></i><i style="--g:#fccd2e,#ffc338 2.9%,#f9bb43 5.3%,#b6bd64 11.9%,#7dbf7b 19.5%,#41ba99 26.4%,#1db3af 31.6%,#13b0b6 34%,#06a7c6 46%,#079dcf 66%,#1389d3"></i><i style="--g:#fbd12b,#ffc337 3.3%,#f9bb43 5.7%,#b7bd64 12.6%,#87bf77 19.1%,#42bb98 27.4%,#1fb3ae 32.6%,#13b0b6 35.3%,#06a6c6 47.1%,#079ccf 66.7%,#1389d3"></i><i style="--g:#fad22b,#ffc338 3.6%,#f8ba45 6%,#b8bd63 12.6%,#87bf77 19.5%,#42bb98 27.8%,#1fb3ae 32.9%,#14b0b6 35.7%,#06a7c6 47.8%,#079ccf 67.4%,#1389d3"></i><i style="--g:#f9d528,#ffc337 4%,#f8ba45 6.4%,#b8bd63 13.3%,#86bf77 20.5%,#42bb98 28.8%,#1eb3ae 34.3%,#13b0b6 37.1%,#06a7c6 48.4%,#079ccf 67.8%,#1389d3"></i><i style="--g:#f9d329,#ffc337 3.6%,#f9bb44 6%,#b8bd63 12.9%,#87bf77 19.8%,#42bb98 28.1%,#20b4ad 33.3%,#13b0b6 36.4%,#06a6c6 48.4%,#079ccf 67.8%,#1389d3"></i><i style="--g:#fad32a,#ffc337 3.6%,#f8ba44 6%,#b9bd63 12.6%,#7dbf7b 20.9%,#40ba99 28.1%,#1eb3ae 33.3%,#13b0b6 36%,#06a7c6 48.1%,#079dcf 67.4%,#1389d3"></i><i style="--g:#f9d528,#ffc436 3.6%,#f9bb42 6%,#b7bd64 13.3%,#87bf77 20.2%,#40ba99 28.8%,#1eb3ae 34%,#13b0b6 36.7%,#06a7c6 48.4%,#079ccf 67.8%,#1389d3"></i><i style="--g:#f9d429,#ffc337 3.6%,#f9bb43 6%,#b7bd63 12.9%,#87bf77 19.8%,#42bb98 28.1%,#1fb3ad 33.3%,#14b0b5 36%,#06a6c6 48.8%,#079dcf 67.8%,#1389d3"></i><i style="--g:#f8d727,#ffc337 4%,#f9bb44 6.4%,#b9bd63 13.3%,#87bf77 20.5%,#41ba98 29.1%,#1db3af 34.7%,#13b0b6 37.4%,#06a6c6 49.1%,#079ccf 68.1%,#1389d3"></i><i style="--g:#f8d627,#ffc337 4%,#f8ba44 6.4%,#b8bd63 13.3%,#88bf77 20.2%,#41bb98 28.8%,#21b4ac 33.6%,#14b0b5 36.7%,#06a7c6 49.1%,#079dcf 68.1%,#1389d3"></i><i style="--g:#f9d528,#ffc337 4%,#fabb42 6%,#babd63 12.9%,#7cbf7c 21.6%,#40ba99 28.8%,#1eb3ae 34%,#13b0b6 37.1%,#06a7c6 48.8%,#079ccf 68.1%,#1389d3"></i><i style="--g:#f9d528,#ffc437 3.6%,#f9bb43 6%,#b9bd63 12.9%,#7dbf7b 21.2%,#41ba98 28.4%,#1fb3ae 33.6%,#13b0b6 36.4%,#06a6c6 48.8%,#079dcf 67.8%,#1389d3"></i><i style="--g:#f9d528,#ffc338 4%,#f9bb42 6%,#b9bd63 12.9%,#7bbf7c 21.6%,#42bb98 28.4%,#1fb3ad 33.6%,#13b0b6 36.7%,#06a7c6 48.4%,#079ccf 67.8%,#1389d3"></i><i style="--g:#f9d429,#ffc337 3.6%,#f9bb43 6%,#b7bd64 12.9%,#86bf78 19.8%,#41ba99 28.1%,#22b4ab 32.6%,#14b0b5 35.7%,#06a7c6 48.1%,#079ccf 67.8%,#1389d3"></i><i style="--g:#f9d429,#ffc337 3.6%,#f9bb43 6%,#b9bd63 12.6%,#7abf7c 21.2%,#40ba99 28.1%,#1eb3ae 33.3%,#13b0b6 36%,#06a6c6 48.1%,#079ccf 67.4%,#1389d3"></i><i style="--g:#fad22a,#ffc338 3.6%,#f8ba44 6%,#b7bd64 12.6%,#88bf77 19.1%,#42bb98 27.4%,#1fb3ae 32.6%,#14b0b6 35.3%,#06a7c6 47.8%,#079ccf 67.4%,#1389d3"></i><i style="--g:#f9d429,#ffc437 3.6%,#f9bb43 6%,#b7bd64 12.9%,#86bf77 19.8%,#41ba98 28.1%,#1eb3ae 33.3%,#13b0b6 36%,#06a6c6 48.1%,#079ccf 67.4%,#1389d3"></i><i style="--g:#f9d528,#ffc338 4%,#f9bb43 6%,#b8bd63 12.9%,#87bf77 19.8%,#42bb98 28.1%,#1eb3ae 33.6%,#13b0b6 36.4%,#06a6c6 48.8%,#079ccf 68.1%,#1389d3"></i><i style="--g:#f8d826,#ffc437 4%,#f9bb43 6.4%,#b9bd63 13.3%,#7bbf7c 21.9%,#40ba99 29.1%,#1eb3ae 34.3%,#14b0b6 37.1%,#06a7c6 49.1%,#079dcf 68.1%,#1389d3"></i><i style="--g:#f8d627,#ffc337 4%,#f8ba44 6.4%,#babd63 12.9%,#86bf77 20.2%,#42bb98 28.4%,#24b5aa 32.9%,#14b0b5 36.4%,#06a6c6 49.1%,#079ccf 68.1%,#1389d3"></i><i style="--g:#f8d627,#ffc337 4%,#f8ba44 6.4%,#b9bd63 12.9%,#7bbf7c 21.6%,#41ba98 28.4%,#1fb3ae 33.6%,#14b0b6 36.4%,#06a7c6 48.8%,#079ccf 68.1%,#1389d3"></i><i style="--g:#f8d727,#ffc437 4%,#f8bb44 6.4%,#b8bd63 13.3%,#87bf77 20.2%,#41ba99 28.8%,#1fb3ae 34%,#13b0b6 36.7%,#06a6c6 49.1%,#079ccf 68.1%,#1389d3"></i><i style="--g:#f8d627,#ffc337 4%,#f8ba44 6.4%,#b9bd63 12.9%,#7abf7c 21.6%,#41ba99 28.4%,#22b4ab 32.9%,#14b0b5 36%,#06a7c6 48.8%,#079ccf 68.1%,#1389d3"></i><i style="--g:#f9d528,#ffc436 3.6%,#f9bb43 6%,#b7bd64 12.9%,#7bbf7c 21.2%,#40ba99 28.1%,#20b4ad 32.9%,#14b0b5 35.7%,#06a7c6 48.4%,#079ccf 67.8%,#1389d3"></i><i style="--g:#f9d528,#ffc338 4%,#f9bb43 6%,#b8bd63 12.9%,#7bbf7c 21.2%,#40ba99 28.1%,#20b4ad 32.9%,#14b0b5 35.7%,#06a7c6 48.4%,#079dcf 67.8%,#1389d3"></i><i style="--g:#f8d627,#ffc337 4%,#f8ba44 6.4%,#b9bd63 12.9%,#88bf77 19.8%,#43bb97 28.1%,#21b4ac 32.9%,#14b0b5 36%,#06a6c6 48.8%,#079ccf 68.1%,#1389d3"></i><i style="--g:#f8d727,#ffc437 4%,#f8bb44 6.4%,#b8bd63 13.3%,#87bf77 20.2%,#42bb98 28.4%,#1fb3ad 33.6%,#14b0b5 36.4%,#06a7c6 49.1%,#079ccf 68.4%,#1389d3"></i><i style="--g:#f7d925,#ffc337 4.3%,#f9bb43 6.4%,#b8bd63 13.6%,#88bf77 20.5%,#41ba98 29.1%,#1fb3ae 34.3%,#14b0b5 37.1%,#06a7c6 49.5%,#079dcf 68.4%,#1389d3"></i><i style="--g:#f7d826,#ffc436 4%,#f9bb43 6.4%,#b9bd63 13.3%,#86bf77 20.5%,#41ba98 28.8%,#1fb3ae 34%,#14b0b5 36.7%,#06a7c6 49.5%,#079dcf 68.4%,#1389d3"></i><i style="--g:#f8d727,#ffc437 4%,#f8bb44 6.4%,#b7bd63 13.3%,#86bf77 20.2%,#41ba99 28.4%,#20b4ad 33.3%,#14b0b5 36%,#06a7c6 48.8%,#079ccf 68.1%,#1389d3"></i><i style="--g:#f9d429,#ffc437 3.6%,#f9bb43 6%,#b9bd63 12.6%,#86bf77 19.5%,#43bb98 27.4%,#25b5aa 31.6%,#14b0b5 35%,#06a6c6 48.4%,#079ccf 67.8%,#1389d3"></i><i style="--g:#f9d528,#ffc437 3.6%,#f9bb43 6%,#babd63 12.6%,#7cbf7c 20.9%,#40ba99 27.8%,#1db3af 32.9%,#14b0b5 35.3%,#06a7c6 48.1%,#079ccf 67.8%,#1389d3"></i><i style="--g:#f9d528,#ffc436 3.6%,#f9bb43 6%,#b7bd64 12.9%,#87bf77 19.5%,#41ba99 27.8%,#1db3af 32.9%,#14b0b5 35.3%,#06a6c6 48.4%,#079ccf 67.8%,#1389d3"></i><i style="--g:#f8d727,#ffc337 4%,#f8ba44 6.4%,#babd62 12.9%,#88bf77 19.8%,#42bb98 28.1%,#1fb3ae 33.3%,#13b0b6 36%,#06a7c6 48.4%,#079dcf 67.8%,#1389d3"></i><i style="--g:#f9fa0e,#f5e41d 10.5%,#fec932 24%,#f8ba45 29.5%,#e0ba52 34%,#c0bc60 38.1%,#8abf76 44%,#35b89f 50.5%,#17b1b3 54.7%,#0cadbc 57.4%,#06a0cd 71.6%,#1389d3"></i><i style="--g:#f9fb0e,#f8f90f 3.6%,#f5e41d 11.9%,#fec832 26.4%,#f9bb43 32.9%,#b5bd65 41.9%,#73bf7f 47.1%,#27b5a8 52.6%,#18b1b3 54.3%,#10afb9 56.7%,#07a9c2 62.2%,#06a0cd 72.9%,#1389d3"></i></div><svg width="1299" height="935" viewBox="0 0 1299 935"><linearGradient id="ca" x1="0" y1="0" x2="0" y2="1"><stop offset="0" stop-color="#f9fb0e"/><stop offset="0.03125" stop-color="#f5eb18"/><stop offset="0.0625" stop-color="#f5de21"/><stop offset="0.09375" stop-color="#f9d329"/><stop offset="0.125" stop-color="#fec932"/><stop offset="0.1562" stop-color="#febf3c"/><stop offset="0.1875" stop-color="#f2b949"/><stop offset="0.2188" stop-color="#e3b951"/><stop offset="0.25" stop-color="#d3bb58"/><stop offset="0.2812" stop-color="#c2bc5f"/><stop offset="0.3125" stop-color="#b1bd66"/><stop offset="0.3438" stop-color="#9fbe6d"/><stop offset="0.375" stop-color="#8bbf75"/><stop offset="0.4062" stop-color="#75bf7e"/><stop offset="0.4375" stop-color="#5ebe89"/><stop offset="0.4688" stop-color="#47bb95"/><stop offset="0.5" stop-color="#33b8a1"/><stop offset="0.5312" stop-color="#21b4ac"/><stop offset="0.5625" stop-color="#13b0b6"/><stop offset="0.5938" stop-color="#09abbf"/><stop offset="0.625" stop-color="#06a6c7"/><stop offset="0.6562" stop-color="#069fce"/><stop offset="0.6875" stop-color="#0a97d1"/><stop offset="0.7188" stop-color="#118dd2"/><stop offset="0.75" stop-color="#1484d4"/><stop offset="0.7812" stop-color="#127cd8"/><stop offset="0.8125" stop-color="#0c74dd"/><stop offset="0.8438" stop-color="#046ce0"/><stop offset="0.875" stop-color="#0462e0"/><stop offset="0.9062" stop-color="#2152d3"/><stop offset="0.9375" stop-color="#3243b9"/><stop offset="0.9688" stop-color="#36369f"/><stop offset="1" stop-color="#352a87"/></linearGradient><rect x="1111.05" y="38.80" width="16.35" height="353.20" fill="url(#ca)" stroke="#262626" stroke-width="2.2"/><linearGradient id="cb" x1="0" y1="0" x2="0" y2="1"><stop offset="0" stop-color="#f9fb0e"/><stop offset="0.03125" stop-color="#f5eb18"/><stop offset="0.0625" stop-color="#f5de21"/><stop offset="0.09375" stop-color="#f9d329"/><stop offset="0.125" stop-color="#fec932"/><stop offset="0.1562" stop-color="#febf3c"/><stop offset="0.1875" stop-color="#f2b949"/><stop offset="0.2188" stop-color="#e3b951"/><stop offset="0.25" stop-color="#d3bb58"/><stop offset="0.2812" stop-color="#c2bc5f"/><stop offset="0.3125" stop-color="#b1bd66"/><stop offset="0.3438" stop-color="#9fbe6d"/><stop offset="0.375" stop-color="#8bbf75"/><stop offset="0.4062" stop-color="#75bf7e"/><stop offset="0.4375" stop-color="#5ebe89"/><stop offset="0.4688" stop-color="#47bb95"/><stop offset="0.5" stop-color="#33b8a1"/><stop offset="0.5312" stop-color="#21b4ac"/><stop offset="0.5625" stop-color="#13b0b6"/><stop offset="0.5938" stop-color="#09abbf"/><stop offset="0.625" stop-color="#06a6c7"/><stop offset="0.6562" stop-color="#069fce"/><stop offset="0.6875" stop-color="#0a97d1"/><stop offset="0.7188" stop-color="#118dd2"/><stop offset="0.75" stop-color="#1484d4"/><stop offset="0.7812" stop-color="#127cd8"/><stop offset="0.8125" stop-color="#0c74dd"/><stop offset="0.8438" stop-color="#046ce0"/><stop offset="0.875" stop-color="#0462e0"/><stop offset="0.9062" stop-color="#2152d3"/><stop offset="0.9375" stop-color="#3243b9"/><stop offset="0.9688" stop-color="#36369f"/><stop offset="1" stop-color="#352a87"/></linearGradient><rect x="1111.20" y="528.60" width="16.30" height="350.80" fill="url(#cb)" stroke="#262626" stroke-width="2.2"/><rect x="132.50" y="38.90" width="963.40" height="352.90" fill="none" stroke="#262626" stroke-width="2.2"/><path d="M373.58 38.90v10.6M373.58 391.80v-10.6M614.35 38.90v10.6M614.35 391.80v-10.6M855.12 38.90v10.6M855.12 391.80v-10.6" stroke="#262626" stroke-width="2" fill="none"/><rect x="132.50" y="116.00" width="10.4" height="1" fill="#262626"/><rect x="1085.50" y="116.00" width="10.4" height="1" fill="#262626"/><rect x="132.50" y="318.00" width="10.4" height="1" fill="#262626"/><rect x="1085.50" y="318.00" width="10.4" height="1" fill="#262626"/><rect x="129.60" y="526.20" width="963.40" height="352.80" fill="none" stroke="#262626" stroke-width="2.2"/><path d="M370.55 526.20v10.6M370.55 879.00v-10.6M611.50 526.20v10.6M611.50 879.00v-10.6M852.45 526.20v10.6M852.45 879.00v-10.6" stroke="#262626" stroke-width="2" fill="none"/><rect x="129.60" y="580.00" width="10.4" height="1" fill="#262626"/><rect x="1082.60" y="580.00" width="10.4" height="1" fill="#262626"/><rect x="129.60" y="870.00" width="10.4" height="1" fill="#262626"/><rect x="1082.60" y="870.00" width="10.4" height="1" fill="#262626"/><path d="M1127.40 274.27h-3.5M1127.40 156.53h-3.5" stroke="#262626" stroke-width="1.4" fill="none"/><path d="M1127.50 791.70h-3.5M1127.50 704.00h-3.5M1127.50 616.30h-3.5" stroke="#262626" stroke-width="1.4" fill="none"/><text class="lb" x="17.3" y="24.4" font-size="29.8">A</text><text class="lb" x="17.0" y="493.7" font-size="29.8">B</text><text x="132.90" y="446.00" text-anchor="middle" font-size="40.7">00:00</text><text x="373.68" y="446.00" text-anchor="middle" font-size="40.7">06:00</text><text x="614.45" y="446.00" text-anchor="middle" font-size="40.7">12:00</text><text x="855.23" y="446.00" text-anchor="middle" font-size="40.7">18:00</text><text x="1096.00" y="446.00" text-anchor="middle" font-size="40.7">24:00</text><text x="129.70" y="932.90" text-anchor="middle" font-size="40.7">00:00</text><text x="370.65" y="932.90" text-anchor="middle" font-size="40.7">06:00</text><text x="611.60" y="932.90" text-anchor="middle" font-size="40.7">12:00</text><text x="852.55" y="932.90" text-anchor="middle" font-size="40.7">18:00</text><text x="1093.50" y="932.90" text-anchor="middle" font-size="40.7">24:00</text><text x="116.30" y="131.60" text-anchor="end" font-size="40.7">8.9</text><text x="116.20" y="332.10" text-anchor="end" font-size="40.7">31.6</text><text x="112.30" y="596.60" text-anchor="end" font-size="40.7">21.7</text><text x="111.30" y="884.30" text-anchor="end" font-size="40.7">135.1</text><text x="1144.30" y="52.90" text-anchor="start" font-size="40.7">1540</text><text x="1144.30" y="170.90" text-anchor="start" font-size="40.7">1520</text><text x="1144.30" y="288.80" text-anchor="start" font-size="40.7">1500</text><text x="1144.30" y="406.00" text-anchor="start" font-size="40.7">1480</text><text x="1144.30" y="542.80" text-anchor="start" font-size="40.7">1540</text><text x="1144.30" y="630.30" text-anchor="start" font-size="40.7">1530</text><text x="1144.30" y="717.90" text-anchor="start" font-size="40.7">1520</text><text x="1144.30" y="805.60" text-anchor="start" font-size="40.7">1510</text><text x="1144.30" y="894.60" text-anchor="start" font-size="40.7">1500</text><text transform="translate(31.4 213) rotate(-90)" text-anchor="middle" font-size="40.7">Depth (m)</text><text transform="translate(28.9 719) rotate(-90)" text-anchor="middle" font-size="40.7">Depth (m)</text><text transform="translate(1289.2 213.5) rotate(-90)" text-anchor="middle" font-size="40.7">Sound speed (m/s)</text><text transform="translate(1280 709.6) rotate(-90)" text-anchor="middle" font-size="40.7">Sound speed (m/s)</text></svg></body></html>
